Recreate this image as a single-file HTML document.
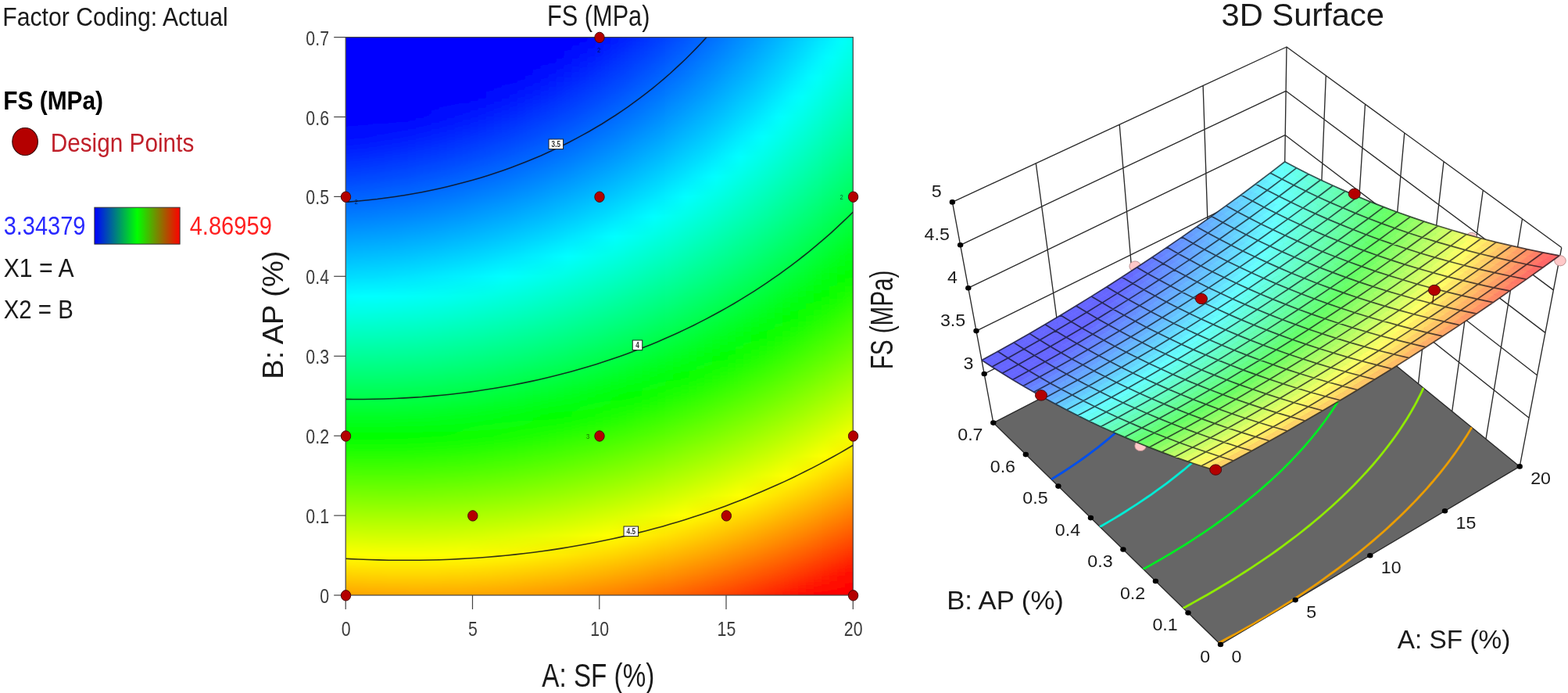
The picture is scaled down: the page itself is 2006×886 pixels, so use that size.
<!DOCTYPE html>
<html><head><meta charset="utf-8"><title>FS (MPa) contour and 3D surface</title>
<style>html,body{margin:0;padding:0;background:#fff;overflow:hidden}svg{display:block}</style></head>
<body>
<svg width="2006" height="886" viewBox="0 0 2006 886">
<defs>
<linearGradient id="lg" x1="0" x2="1" y1="0" y2="0"><stop offset="0" stop-color="#0000ff"/><stop offset="0.5" stop-color="#00ff00"/><stop offset="1" stop-color="#ff0000"/></linearGradient>
<clipPath id="cp"><rect x="442.2" y="47.6" width="649.0999999999999" height="713.4"/></clipPath>
<filter id="hb" x="-5%" y="-5%" width="110%" height="110%"><feGaussianBlur stdDeviation="4 0"/></filter>
<linearGradient id="s0" x1="0" x2="0" y1="0" y2="1"><stop offset="0.0000" stop-color="#0000ff"/><stop offset="0.0357" stop-color="#0000ff"/><stop offset="0.0714" stop-color="#0000ff"/><stop offset="0.1071" stop-color="#0000ff"/><stop offset="0.1429" stop-color="#0000ff"/><stop offset="0.1786" stop-color="#000cff"/><stop offset="0.2143" stop-color="#0027ff"/><stop offset="0.2500" stop-color="#0043ff"/><stop offset="0.2857" stop-color="#005fff"/><stop offset="0.3214" stop-color="#007dff"/><stop offset="0.3571" stop-color="#009cff"/><stop offset="0.3929" stop-color="#00bbff"/><stop offset="0.4286" stop-color="#00dcff"/><stop offset="0.4643" stop-color="#00fdff"/><stop offset="0.5000" stop-color="#00ffdf"/><stop offset="0.5357" stop-color="#00ffbc"/><stop offset="0.5714" stop-color="#00ff98"/><stop offset="0.6071" stop-color="#00ff73"/><stop offset="0.6429" stop-color="#00ff4d"/><stop offset="0.6786" stop-color="#00ff27"/><stop offset="0.7143" stop-color="#01ff00"/><stop offset="0.7500" stop-color="#29ff00"/><stop offset="0.7857" stop-color="#53ff00"/><stop offset="0.8214" stop-color="#7dff00"/><stop offset="0.8571" stop-color="#a8ff00"/><stop offset="0.8929" stop-color="#d4ff00"/><stop offset="0.9286" stop-color="#fffd00"/><stop offset="0.9643" stop-color="#ffcf00"/><stop offset="1.0000" stop-color="#ffa000"/></linearGradient>
<linearGradient id="s1" x1="0" x2="0" y1="0" y2="1"><stop offset="0.0000" stop-color="#0000ff"/><stop offset="0.0357" stop-color="#0000ff"/><stop offset="0.0714" stop-color="#0000ff"/><stop offset="0.1071" stop-color="#0000ff"/><stop offset="0.1429" stop-color="#0000ff"/><stop offset="0.1786" stop-color="#000dff"/><stop offset="0.2143" stop-color="#0028ff"/><stop offset="0.2500" stop-color="#0043ff"/><stop offset="0.2857" stop-color="#0060ff"/><stop offset="0.3214" stop-color="#007eff"/><stop offset="0.3571" stop-color="#009cff"/><stop offset="0.3929" stop-color="#00bcff"/><stop offset="0.4286" stop-color="#00dcff"/><stop offset="0.4643" stop-color="#00fdff"/><stop offset="0.5000" stop-color="#00ffdf"/><stop offset="0.5357" stop-color="#00ffbc"/><stop offset="0.5714" stop-color="#00ff98"/><stop offset="0.6071" stop-color="#00ff73"/><stop offset="0.6429" stop-color="#00ff4e"/><stop offset="0.6786" stop-color="#00ff27"/><stop offset="0.7143" stop-color="#00ff00"/><stop offset="0.7500" stop-color="#29ff00"/><stop offset="0.7857" stop-color="#52ff00"/><stop offset="0.8214" stop-color="#7cff00"/><stop offset="0.8571" stop-color="#a7ff00"/><stop offset="0.8929" stop-color="#d3ff00"/><stop offset="0.9286" stop-color="#fffe00"/><stop offset="0.9643" stop-color="#ffd000"/><stop offset="1.0000" stop-color="#ffa200"/></linearGradient>
<linearGradient id="s2" x1="0" x2="0" y1="0" y2="1"><stop offset="0.0000" stop-color="#0000ff"/><stop offset="0.0357" stop-color="#0000ff"/><stop offset="0.0714" stop-color="#0000ff"/><stop offset="0.1071" stop-color="#0000ff"/><stop offset="0.1429" stop-color="#0000ff"/><stop offset="0.1786" stop-color="#000eff"/><stop offset="0.2143" stop-color="#0029ff"/><stop offset="0.2500" stop-color="#0044ff"/><stop offset="0.2857" stop-color="#0061ff"/><stop offset="0.3214" stop-color="#007eff"/><stop offset="0.3571" stop-color="#009dff"/><stop offset="0.3929" stop-color="#00bcff"/><stop offset="0.4286" stop-color="#00dcff"/><stop offset="0.4643" stop-color="#00fdff"/><stop offset="0.5000" stop-color="#00ffdf"/><stop offset="0.5357" stop-color="#00ffbc"/><stop offset="0.5714" stop-color="#00ff98"/><stop offset="0.6071" stop-color="#00ff73"/><stop offset="0.6429" stop-color="#00ff4e"/><stop offset="0.6786" stop-color="#00ff27"/><stop offset="0.7143" stop-color="#00ff00"/><stop offset="0.7500" stop-color="#28ff00"/><stop offset="0.7857" stop-color="#52ff00"/><stop offset="0.8214" stop-color="#7cff00"/><stop offset="0.8571" stop-color="#a6ff00"/><stop offset="0.8929" stop-color="#d2ff00"/><stop offset="0.9286" stop-color="#ffff00"/><stop offset="0.9643" stop-color="#ffd100"/><stop offset="1.0000" stop-color="#ffa300"/></linearGradient>
<linearGradient id="s3" x1="0" x2="0" y1="0" y2="1"><stop offset="0.0000" stop-color="#0000ff"/><stop offset="0.0357" stop-color="#0000ff"/><stop offset="0.0714" stop-color="#0000ff"/><stop offset="0.1071" stop-color="#0000ff"/><stop offset="0.1429" stop-color="#0000ff"/><stop offset="0.1786" stop-color="#000fff"/><stop offset="0.2143" stop-color="#002aff"/><stop offset="0.2500" stop-color="#0045ff"/><stop offset="0.2857" stop-color="#0062ff"/><stop offset="0.3214" stop-color="#007fff"/><stop offset="0.3571" stop-color="#009eff"/><stop offset="0.3929" stop-color="#00bdff"/><stop offset="0.4286" stop-color="#00ddff"/><stop offset="0.4643" stop-color="#00feff"/><stop offset="0.5000" stop-color="#00ffde"/><stop offset="0.5357" stop-color="#00ffbb"/><stop offset="0.5714" stop-color="#00ff98"/><stop offset="0.6071" stop-color="#00ff73"/><stop offset="0.6429" stop-color="#00ff4e"/><stop offset="0.6786" stop-color="#00ff27"/><stop offset="0.7143" stop-color="#00ff00"/><stop offset="0.7500" stop-color="#28ff00"/><stop offset="0.7857" stop-color="#51ff00"/><stop offset="0.8214" stop-color="#7bff00"/><stop offset="0.8571" stop-color="#a6ff00"/><stop offset="0.8929" stop-color="#d2ff00"/><stop offset="0.9286" stop-color="#feff00"/><stop offset="0.9643" stop-color="#ffd200"/><stop offset="1.0000" stop-color="#ffa400"/></linearGradient>
<linearGradient id="s4" x1="0" x2="0" y1="0" y2="1"><stop offset="0.0000" stop-color="#0000ff"/><stop offset="0.0357" stop-color="#0000ff"/><stop offset="0.0714" stop-color="#0000ff"/><stop offset="0.1071" stop-color="#0000ff"/><stop offset="0.1429" stop-color="#0000ff"/><stop offset="0.1786" stop-color="#0010ff"/><stop offset="0.2143" stop-color="#002bff"/><stop offset="0.2500" stop-color="#0047ff"/><stop offset="0.2857" stop-color="#0063ff"/><stop offset="0.3214" stop-color="#0080ff"/><stop offset="0.3571" stop-color="#009fff"/><stop offset="0.3929" stop-color="#00beff"/><stop offset="0.4286" stop-color="#00deff"/><stop offset="0.4643" stop-color="#00ffff"/><stop offset="0.5000" stop-color="#00ffde"/><stop offset="0.5357" stop-color="#00ffbb"/><stop offset="0.5714" stop-color="#00ff97"/><stop offset="0.6071" stop-color="#00ff73"/><stop offset="0.6429" stop-color="#00ff4e"/><stop offset="0.6786" stop-color="#00ff27"/><stop offset="0.7143" stop-color="#00ff00"/><stop offset="0.7500" stop-color="#28ff00"/><stop offset="0.7857" stop-color="#51ff00"/><stop offset="0.8214" stop-color="#7bff00"/><stop offset="0.8571" stop-color="#a5ff00"/><stop offset="0.8929" stop-color="#d1ff00"/><stop offset="0.9286" stop-color="#feff00"/><stop offset="0.9643" stop-color="#ffd300"/><stop offset="1.0000" stop-color="#ffa500"/></linearGradient>
<linearGradient id="s5" x1="0" x2="0" y1="0" y2="1"><stop offset="0.0000" stop-color="#0000ff"/><stop offset="0.0357" stop-color="#0000ff"/><stop offset="0.0714" stop-color="#0000ff"/><stop offset="0.1071" stop-color="#0000ff"/><stop offset="0.1429" stop-color="#0000ff"/><stop offset="0.1786" stop-color="#0012ff"/><stop offset="0.2143" stop-color="#002dff"/><stop offset="0.2500" stop-color="#0048ff"/><stop offset="0.2857" stop-color="#0064ff"/><stop offset="0.3214" stop-color="#0081ff"/><stop offset="0.3571" stop-color="#00a0ff"/><stop offset="0.3929" stop-color="#00bfff"/><stop offset="0.4286" stop-color="#00deff"/><stop offset="0.4643" stop-color="#00ffff"/><stop offset="0.5000" stop-color="#00ffdd"/><stop offset="0.5357" stop-color="#00ffbb"/><stop offset="0.5714" stop-color="#00ff97"/><stop offset="0.6071" stop-color="#00ff73"/><stop offset="0.6429" stop-color="#00ff4d"/><stop offset="0.6786" stop-color="#00ff27"/><stop offset="0.7143" stop-color="#00ff00"/><stop offset="0.7500" stop-color="#28ff00"/><stop offset="0.7857" stop-color="#51ff00"/><stop offset="0.8214" stop-color="#7aff00"/><stop offset="0.8571" stop-color="#a5ff00"/><stop offset="0.8929" stop-color="#d0ff00"/><stop offset="0.9286" stop-color="#fdff00"/><stop offset="0.9643" stop-color="#ffd400"/><stop offset="1.0000" stop-color="#ffa600"/></linearGradient>
<linearGradient id="s6" x1="0" x2="0" y1="0" y2="1"><stop offset="0.0000" stop-color="#0000ff"/><stop offset="0.0357" stop-color="#0000ff"/><stop offset="0.0714" stop-color="#0000ff"/><stop offset="0.1071" stop-color="#0000ff"/><stop offset="0.1429" stop-color="#0000ff"/><stop offset="0.1786" stop-color="#0014ff"/><stop offset="0.2143" stop-color="#002eff"/><stop offset="0.2500" stop-color="#0049ff"/><stop offset="0.2857" stop-color="#0066ff"/><stop offset="0.3214" stop-color="#0083ff"/><stop offset="0.3571" stop-color="#00a1ff"/><stop offset="0.3929" stop-color="#00c0ff"/><stop offset="0.4286" stop-color="#00dfff"/><stop offset="0.4643" stop-color="#00fffe"/><stop offset="0.5000" stop-color="#00ffdc"/><stop offset="0.5357" stop-color="#00ffba"/><stop offset="0.5714" stop-color="#00ff96"/><stop offset="0.6071" stop-color="#00ff72"/><stop offset="0.6429" stop-color="#00ff4d"/><stop offset="0.6786" stop-color="#00ff27"/><stop offset="0.7143" stop-color="#00ff00"/><stop offset="0.7500" stop-color="#28ff00"/><stop offset="0.7857" stop-color="#51ff00"/><stop offset="0.8214" stop-color="#7aff00"/><stop offset="0.8571" stop-color="#a5ff00"/><stop offset="0.8929" stop-color="#d0ff00"/><stop offset="0.9286" stop-color="#fcff00"/><stop offset="0.9643" stop-color="#ffd400"/><stop offset="1.0000" stop-color="#ffa600"/></linearGradient>
<linearGradient id="s7" x1="0" x2="0" y1="0" y2="1"><stop offset="0.0000" stop-color="#0000ff"/><stop offset="0.0357" stop-color="#0000ff"/><stop offset="0.0714" stop-color="#0000ff"/><stop offset="0.1071" stop-color="#0000ff"/><stop offset="0.1429" stop-color="#0000ff"/><stop offset="0.1786" stop-color="#0015ff"/><stop offset="0.2143" stop-color="#0030ff"/><stop offset="0.2500" stop-color="#004bff"/><stop offset="0.2857" stop-color="#0067ff"/><stop offset="0.3214" stop-color="#0084ff"/><stop offset="0.3571" stop-color="#00a2ff"/><stop offset="0.3929" stop-color="#00c1ff"/><stop offset="0.4286" stop-color="#00e0ff"/><stop offset="0.4643" stop-color="#00fffd"/><stop offset="0.5000" stop-color="#00ffdb"/><stop offset="0.5357" stop-color="#00ffb9"/><stop offset="0.5714" stop-color="#00ff96"/><stop offset="0.6071" stop-color="#00ff72"/><stop offset="0.6429" stop-color="#00ff4d"/><stop offset="0.6786" stop-color="#00ff27"/><stop offset="0.7143" stop-color="#00ff00"/><stop offset="0.7500" stop-color="#28ff00"/><stop offset="0.7857" stop-color="#51ff00"/><stop offset="0.8214" stop-color="#7aff00"/><stop offset="0.8571" stop-color="#a5ff00"/><stop offset="0.8929" stop-color="#d0ff00"/><stop offset="0.9286" stop-color="#fcff00"/><stop offset="0.9643" stop-color="#ffd500"/><stop offset="1.0000" stop-color="#ffa700"/></linearGradient>
<linearGradient id="s8" x1="0" x2="0" y1="0" y2="1"><stop offset="0.0000" stop-color="#0000ff"/><stop offset="0.0357" stop-color="#0000ff"/><stop offset="0.0714" stop-color="#0000ff"/><stop offset="0.1071" stop-color="#0000ff"/><stop offset="0.1429" stop-color="#0000ff"/><stop offset="0.1786" stop-color="#0017ff"/><stop offset="0.2143" stop-color="#0032ff"/><stop offset="0.2500" stop-color="#004dff"/><stop offset="0.2857" stop-color="#0069ff"/><stop offset="0.3214" stop-color="#0086ff"/><stop offset="0.3571" stop-color="#00a3ff"/><stop offset="0.3929" stop-color="#00c2ff"/><stop offset="0.4286" stop-color="#00e2ff"/><stop offset="0.4643" stop-color="#00fffc"/><stop offset="0.5000" stop-color="#00ffda"/><stop offset="0.5357" stop-color="#00ffb8"/><stop offset="0.5714" stop-color="#00ff95"/><stop offset="0.6071" stop-color="#00ff71"/><stop offset="0.6429" stop-color="#00ff4c"/><stop offset="0.6786" stop-color="#00ff26"/><stop offset="0.7143" stop-color="#01ff00"/><stop offset="0.7500" stop-color="#28ff00"/><stop offset="0.7857" stop-color="#51ff00"/><stop offset="0.8214" stop-color="#7aff00"/><stop offset="0.8571" stop-color="#a5ff00"/><stop offset="0.8929" stop-color="#d0ff00"/><stop offset="0.9286" stop-color="#fcff00"/><stop offset="0.9643" stop-color="#ffd500"/><stop offset="1.0000" stop-color="#ffa700"/></linearGradient>
<linearGradient id="s9" x1="0" x2="0" y1="0" y2="1"><stop offset="0.0000" stop-color="#0000ff"/><stop offset="0.0357" stop-color="#0000ff"/><stop offset="0.0714" stop-color="#0000ff"/><stop offset="0.1071" stop-color="#0000ff"/><stop offset="0.1429" stop-color="#0000ff"/><stop offset="0.1786" stop-color="#0019ff"/><stop offset="0.2143" stop-color="#0033ff"/><stop offset="0.2500" stop-color="#004eff"/><stop offset="0.2857" stop-color="#006aff"/><stop offset="0.3214" stop-color="#0087ff"/><stop offset="0.3571" stop-color="#00a5ff"/><stop offset="0.3929" stop-color="#00c3ff"/><stop offset="0.4286" stop-color="#00e3ff"/><stop offset="0.4643" stop-color="#00fffb"/><stop offset="0.5000" stop-color="#00ffd9"/><stop offset="0.5357" stop-color="#00ffb7"/><stop offset="0.5714" stop-color="#00ff94"/><stop offset="0.6071" stop-color="#00ff70"/><stop offset="0.6429" stop-color="#00ff4b"/><stop offset="0.6786" stop-color="#00ff25"/><stop offset="0.7143" stop-color="#01ff00"/><stop offset="0.7500" stop-color="#29ff00"/><stop offset="0.7857" stop-color="#51ff00"/><stop offset="0.8214" stop-color="#7aff00"/><stop offset="0.8571" stop-color="#a5ff00"/><stop offset="0.8929" stop-color="#d0ff00"/><stop offset="0.9286" stop-color="#fcff00"/><stop offset="0.9643" stop-color="#ffd500"/><stop offset="1.0000" stop-color="#ffa700"/></linearGradient>
<linearGradient id="s10" x1="0" x2="0" y1="0" y2="1"><stop offset="0.0000" stop-color="#0000ff"/><stop offset="0.0357" stop-color="#0000ff"/><stop offset="0.0714" stop-color="#0000ff"/><stop offset="0.1071" stop-color="#0000ff"/><stop offset="0.1429" stop-color="#0002ff"/><stop offset="0.1786" stop-color="#001bff"/><stop offset="0.2143" stop-color="#0036ff"/><stop offset="0.2500" stop-color="#0050ff"/><stop offset="0.2857" stop-color="#006cff"/><stop offset="0.3214" stop-color="#0089ff"/><stop offset="0.3571" stop-color="#00a7ff"/><stop offset="0.3929" stop-color="#00c5ff"/><stop offset="0.4286" stop-color="#00e4ff"/><stop offset="0.4643" stop-color="#00fff9"/><stop offset="0.5000" stop-color="#00ffd8"/><stop offset="0.5357" stop-color="#00ffb6"/><stop offset="0.5714" stop-color="#00ff93"/><stop offset="0.6071" stop-color="#00ff6f"/><stop offset="0.6429" stop-color="#00ff4a"/><stop offset="0.6786" stop-color="#00ff25"/><stop offset="0.7143" stop-color="#02ff00"/><stop offset="0.7500" stop-color="#29ff00"/><stop offset="0.7857" stop-color="#52ff00"/><stop offset="0.8214" stop-color="#7bff00"/><stop offset="0.8571" stop-color="#a5ff00"/><stop offset="0.8929" stop-color="#d0ff00"/><stop offset="0.9286" stop-color="#fcff00"/><stop offset="0.9643" stop-color="#ffd500"/><stop offset="1.0000" stop-color="#ffa800"/></linearGradient>
<linearGradient id="s11" x1="0" x2="0" y1="0" y2="1"><stop offset="0.0000" stop-color="#0000ff"/><stop offset="0.0357" stop-color="#0000ff"/><stop offset="0.0714" stop-color="#0000ff"/><stop offset="0.1071" stop-color="#0000ff"/><stop offset="0.1429" stop-color="#0005ff"/><stop offset="0.1786" stop-color="#001eff"/><stop offset="0.2143" stop-color="#0038ff"/><stop offset="0.2500" stop-color="#0053ff"/><stop offset="0.2857" stop-color="#006eff"/><stop offset="0.3214" stop-color="#008bff"/><stop offset="0.3571" stop-color="#00a8ff"/><stop offset="0.3929" stop-color="#00c7ff"/><stop offset="0.4286" stop-color="#00e6ff"/><stop offset="0.4643" stop-color="#00fff8"/><stop offset="0.5000" stop-color="#00ffd7"/><stop offset="0.5357" stop-color="#00ffb5"/><stop offset="0.5714" stop-color="#00ff92"/><stop offset="0.6071" stop-color="#00ff6e"/><stop offset="0.6429" stop-color="#00ff49"/><stop offset="0.6786" stop-color="#00ff24"/><stop offset="0.7143" stop-color="#03ff00"/><stop offset="0.7500" stop-color="#2aff00"/><stop offset="0.7857" stop-color="#52ff00"/><stop offset="0.8214" stop-color="#7bff00"/><stop offset="0.8571" stop-color="#a5ff00"/><stop offset="0.8929" stop-color="#d0ff00"/><stop offset="0.9286" stop-color="#fcff00"/><stop offset="0.9643" stop-color="#ffd500"/><stop offset="1.0000" stop-color="#ffa800"/></linearGradient>
<linearGradient id="s12" x1="0" x2="0" y1="0" y2="1"><stop offset="0.0000" stop-color="#0000ff"/><stop offset="0.0357" stop-color="#0000ff"/><stop offset="0.0714" stop-color="#0000ff"/><stop offset="0.1071" stop-color="#0000ff"/><stop offset="0.1429" stop-color="#0007ff"/><stop offset="0.1786" stop-color="#0020ff"/><stop offset="0.2143" stop-color="#003aff"/><stop offset="0.2500" stop-color="#0055ff"/><stop offset="0.2857" stop-color="#0070ff"/><stop offset="0.3214" stop-color="#008dff"/><stop offset="0.3571" stop-color="#00aaff"/><stop offset="0.3929" stop-color="#00c9ff"/><stop offset="0.4286" stop-color="#00e8ff"/><stop offset="0.4643" stop-color="#00fff6"/><stop offset="0.5000" stop-color="#00ffd5"/><stop offset="0.5357" stop-color="#00ffb3"/><stop offset="0.5714" stop-color="#00ff91"/><stop offset="0.6071" stop-color="#00ff6d"/><stop offset="0.6429" stop-color="#00ff48"/><stop offset="0.6786" stop-color="#00ff23"/><stop offset="0.7143" stop-color="#04ff00"/><stop offset="0.7500" stop-color="#2bff00"/><stop offset="0.7857" stop-color="#53ff00"/><stop offset="0.8214" stop-color="#7cff00"/><stop offset="0.8571" stop-color="#a6ff00"/><stop offset="0.8929" stop-color="#d1ff00"/><stop offset="0.9286" stop-color="#fcff00"/><stop offset="0.9643" stop-color="#ffd500"/><stop offset="1.0000" stop-color="#ffa700"/></linearGradient>
<linearGradient id="s13" x1="0" x2="0" y1="0" y2="1"><stop offset="0.0000" stop-color="#0000ff"/><stop offset="0.0357" stop-color="#0000ff"/><stop offset="0.0714" stop-color="#0000ff"/><stop offset="0.1071" stop-color="#0000ff"/><stop offset="0.1429" stop-color="#000aff"/><stop offset="0.1786" stop-color="#0023ff"/><stop offset="0.2143" stop-color="#003cff"/><stop offset="0.2500" stop-color="#0057ff"/><stop offset="0.2857" stop-color="#0073ff"/><stop offset="0.3214" stop-color="#008fff"/><stop offset="0.3571" stop-color="#00acff"/><stop offset="0.3929" stop-color="#00caff"/><stop offset="0.4286" stop-color="#00eaff"/><stop offset="0.4643" stop-color="#00fff4"/><stop offset="0.5000" stop-color="#00ffd4"/><stop offset="0.5357" stop-color="#00ffb2"/><stop offset="0.5714" stop-color="#00ff8f"/><stop offset="0.6071" stop-color="#00ff6c"/><stop offset="0.6429" stop-color="#00ff47"/><stop offset="0.6786" stop-color="#00ff22"/><stop offset="0.7143" stop-color="#05ff00"/><stop offset="0.7500" stop-color="#2cff00"/><stop offset="0.7857" stop-color="#54ff00"/><stop offset="0.8214" stop-color="#7dff00"/><stop offset="0.8571" stop-color="#a7ff00"/><stop offset="0.8929" stop-color="#d1ff00"/><stop offset="0.9286" stop-color="#fdff00"/><stop offset="0.9643" stop-color="#ffd500"/><stop offset="1.0000" stop-color="#ffa700"/></linearGradient>
<linearGradient id="s14" x1="0" x2="0" y1="0" y2="1"><stop offset="0.0000" stop-color="#0000ff"/><stop offset="0.0357" stop-color="#0000ff"/><stop offset="0.0714" stop-color="#0000ff"/><stop offset="0.1071" stop-color="#0000ff"/><stop offset="0.1429" stop-color="#000dff"/><stop offset="0.1786" stop-color="#0025ff"/><stop offset="0.2143" stop-color="#003fff"/><stop offset="0.2500" stop-color="#005aff"/><stop offset="0.2857" stop-color="#0075ff"/><stop offset="0.3214" stop-color="#0091ff"/><stop offset="0.3571" stop-color="#00aeff"/><stop offset="0.3929" stop-color="#00cdff"/><stop offset="0.4286" stop-color="#00ecff"/><stop offset="0.4643" stop-color="#00fff3"/><stop offset="0.5000" stop-color="#00ffd2"/><stop offset="0.5357" stop-color="#00ffb0"/><stop offset="0.5714" stop-color="#00ff8e"/><stop offset="0.6071" stop-color="#00ff6a"/><stop offset="0.6429" stop-color="#00ff46"/><stop offset="0.6786" stop-color="#00ff20"/><stop offset="0.7143" stop-color="#06ff00"/><stop offset="0.7500" stop-color="#2dff00"/><stop offset="0.7857" stop-color="#55ff00"/><stop offset="0.8214" stop-color="#7eff00"/><stop offset="0.8571" stop-color="#a7ff00"/><stop offset="0.8929" stop-color="#d2ff00"/><stop offset="0.9286" stop-color="#fdff00"/><stop offset="0.9643" stop-color="#ffd400"/><stop offset="1.0000" stop-color="#ffa700"/></linearGradient>
<linearGradient id="s15" x1="0" x2="0" y1="0" y2="1"><stop offset="0.0000" stop-color="#0000ff"/><stop offset="0.0357" stop-color="#0000ff"/><stop offset="0.0714" stop-color="#0000ff"/><stop offset="0.1071" stop-color="#0000ff"/><stop offset="0.1429" stop-color="#0010ff"/><stop offset="0.1786" stop-color="#0028ff"/><stop offset="0.2143" stop-color="#0042ff"/><stop offset="0.2500" stop-color="#005cff"/><stop offset="0.2857" stop-color="#0077ff"/><stop offset="0.3214" stop-color="#0094ff"/><stop offset="0.3571" stop-color="#00b1ff"/><stop offset="0.3929" stop-color="#00cfff"/><stop offset="0.4286" stop-color="#00eeff"/><stop offset="0.4643" stop-color="#00fff1"/><stop offset="0.5000" stop-color="#00ffd0"/><stop offset="0.5357" stop-color="#00ffae"/><stop offset="0.5714" stop-color="#00ff8c"/><stop offset="0.6071" stop-color="#00ff68"/><stop offset="0.6429" stop-color="#00ff44"/><stop offset="0.6786" stop-color="#00ff1f"/><stop offset="0.7143" stop-color="#07ff00"/><stop offset="0.7500" stop-color="#2eff00"/><stop offset="0.7857" stop-color="#56ff00"/><stop offset="0.8214" stop-color="#7fff00"/><stop offset="0.8571" stop-color="#a8ff00"/><stop offset="0.8929" stop-color="#d3ff00"/><stop offset="0.9286" stop-color="#feff00"/><stop offset="0.9643" stop-color="#ffd300"/><stop offset="1.0000" stop-color="#ffa600"/></linearGradient>
<linearGradient id="s16" x1="0" x2="0" y1="0" y2="1"><stop offset="0.0000" stop-color="#0000ff"/><stop offset="0.0357" stop-color="#0000ff"/><stop offset="0.0714" stop-color="#0000ff"/><stop offset="0.1071" stop-color="#0000ff"/><stop offset="0.1429" stop-color="#0013ff"/><stop offset="0.1786" stop-color="#002bff"/><stop offset="0.2143" stop-color="#0045ff"/><stop offset="0.2500" stop-color="#005fff"/><stop offset="0.2857" stop-color="#007aff"/><stop offset="0.3214" stop-color="#0096ff"/><stop offset="0.3571" stop-color="#00b3ff"/><stop offset="0.3929" stop-color="#00d1ff"/><stop offset="0.4286" stop-color="#00f0ff"/><stop offset="0.4643" stop-color="#00ffee"/><stop offset="0.5000" stop-color="#00ffce"/><stop offset="0.5357" stop-color="#00ffac"/><stop offset="0.5714" stop-color="#00ff8a"/><stop offset="0.6071" stop-color="#00ff67"/><stop offset="0.6429" stop-color="#00ff43"/><stop offset="0.6786" stop-color="#00ff1d"/><stop offset="0.7143" stop-color="#08ff00"/><stop offset="0.7500" stop-color="#2fff00"/><stop offset="0.7857" stop-color="#57ff00"/><stop offset="0.8214" stop-color="#80ff00"/><stop offset="0.8571" stop-color="#a9ff00"/><stop offset="0.8929" stop-color="#d4ff00"/><stop offset="0.9286" stop-color="#ffff00"/><stop offset="0.9643" stop-color="#ffd300"/><stop offset="1.0000" stop-color="#ffa600"/></linearGradient>
<linearGradient id="s17" x1="0" x2="0" y1="0" y2="1"><stop offset="0.0000" stop-color="#0000ff"/><stop offset="0.0357" stop-color="#0000ff"/><stop offset="0.0714" stop-color="#0000ff"/><stop offset="0.1071" stop-color="#0000ff"/><stop offset="0.1429" stop-color="#0016ff"/><stop offset="0.1786" stop-color="#002eff"/><stop offset="0.2143" stop-color="#0047ff"/><stop offset="0.2500" stop-color="#0062ff"/><stop offset="0.2857" stop-color="#007dff"/><stop offset="0.3214" stop-color="#0099ff"/><stop offset="0.3571" stop-color="#00b6ff"/><stop offset="0.3929" stop-color="#00d4ff"/><stop offset="0.4286" stop-color="#00f2ff"/><stop offset="0.4643" stop-color="#00ffec"/><stop offset="0.5000" stop-color="#00ffcc"/><stop offset="0.5357" stop-color="#00ffaa"/><stop offset="0.5714" stop-color="#00ff88"/><stop offset="0.6071" stop-color="#00ff65"/><stop offset="0.6429" stop-color="#00ff41"/><stop offset="0.6786" stop-color="#00ff1c"/><stop offset="0.7143" stop-color="#0aff00"/><stop offset="0.7500" stop-color="#31ff00"/><stop offset="0.7857" stop-color="#58ff00"/><stop offset="0.8214" stop-color="#81ff00"/><stop offset="0.8571" stop-color="#aaff00"/><stop offset="0.8929" stop-color="#d5ff00"/><stop offset="0.9286" stop-color="#fffe00"/><stop offset="0.9643" stop-color="#ffd200"/><stop offset="1.0000" stop-color="#ffa500"/></linearGradient>
<linearGradient id="s18" x1="0" x2="0" y1="0" y2="1"><stop offset="0.0000" stop-color="#0000ff"/><stop offset="0.0357" stop-color="#0000ff"/><stop offset="0.0714" stop-color="#0000ff"/><stop offset="0.1071" stop-color="#0002ff"/><stop offset="0.1429" stop-color="#0019ff"/><stop offset="0.1786" stop-color="#0031ff"/><stop offset="0.2143" stop-color="#004bff"/><stop offset="0.2500" stop-color="#0065ff"/><stop offset="0.2857" stop-color="#0080ff"/><stop offset="0.3214" stop-color="#009cff"/><stop offset="0.3571" stop-color="#00b8ff"/><stop offset="0.3929" stop-color="#00d6ff"/><stop offset="0.4286" stop-color="#00f5ff"/><stop offset="0.4643" stop-color="#00ffea"/><stop offset="0.5000" stop-color="#00ffc9"/><stop offset="0.5357" stop-color="#00ffa8"/><stop offset="0.5714" stop-color="#00ff86"/><stop offset="0.6071" stop-color="#00ff63"/><stop offset="0.6429" stop-color="#00ff3f"/><stop offset="0.6786" stop-color="#00ff1a"/><stop offset="0.7143" stop-color="#0cff00"/><stop offset="0.7500" stop-color="#32ff00"/><stop offset="0.7857" stop-color="#5aff00"/><stop offset="0.8214" stop-color="#82ff00"/><stop offset="0.8571" stop-color="#acff00"/><stop offset="0.8929" stop-color="#d6ff00"/><stop offset="0.9286" stop-color="#fffd00"/><stop offset="0.9643" stop-color="#ffd100"/><stop offset="1.0000" stop-color="#ffa400"/></linearGradient>
<linearGradient id="s19" x1="0" x2="0" y1="0" y2="1"><stop offset="0.0000" stop-color="#0000ff"/><stop offset="0.0357" stop-color="#0000ff"/><stop offset="0.0714" stop-color="#0000ff"/><stop offset="0.1071" stop-color="#0005ff"/><stop offset="0.1429" stop-color="#001cff"/><stop offset="0.1786" stop-color="#0035ff"/><stop offset="0.2143" stop-color="#004eff"/><stop offset="0.2500" stop-color="#0068ff"/><stop offset="0.2857" stop-color="#0083ff"/><stop offset="0.3214" stop-color="#009fff"/><stop offset="0.3571" stop-color="#00bbff"/><stop offset="0.3929" stop-color="#00d9ff"/><stop offset="0.4286" stop-color="#00f7ff"/><stop offset="0.4643" stop-color="#00ffe7"/><stop offset="0.5000" stop-color="#00ffc7"/><stop offset="0.5357" stop-color="#00ffa6"/><stop offset="0.5714" stop-color="#00ff84"/><stop offset="0.6071" stop-color="#00ff61"/><stop offset="0.6429" stop-color="#00ff3d"/><stop offset="0.6786" stop-color="#00ff18"/><stop offset="0.7143" stop-color="#0eff00"/><stop offset="0.7500" stop-color="#34ff00"/><stop offset="0.7857" stop-color="#5cff00"/><stop offset="0.8214" stop-color="#84ff00"/><stop offset="0.8571" stop-color="#adff00"/><stop offset="0.8929" stop-color="#d7ff00"/><stop offset="0.9286" stop-color="#fffc00"/><stop offset="0.9643" stop-color="#ffd000"/><stop offset="1.0000" stop-color="#ffa300"/></linearGradient>
<linearGradient id="s20" x1="0" x2="0" y1="0" y2="1"><stop offset="0.0000" stop-color="#0000ff"/><stop offset="0.0357" stop-color="#0000ff"/><stop offset="0.0714" stop-color="#0000ff"/><stop offset="0.1071" stop-color="#0009ff"/><stop offset="0.1429" stop-color="#0020ff"/><stop offset="0.1786" stop-color="#0038ff"/><stop offset="0.2143" stop-color="#0051ff"/><stop offset="0.2500" stop-color="#006bff"/><stop offset="0.2857" stop-color="#0086ff"/><stop offset="0.3214" stop-color="#00a2ff"/><stop offset="0.3571" stop-color="#00beff"/><stop offset="0.3929" stop-color="#00dcff"/><stop offset="0.4286" stop-color="#00faff"/><stop offset="0.4643" stop-color="#00ffe5"/><stop offset="0.5000" stop-color="#00ffc4"/><stop offset="0.5357" stop-color="#00ffa3"/><stop offset="0.5714" stop-color="#00ff81"/><stop offset="0.6071" stop-color="#00ff5f"/><stop offset="0.6429" stop-color="#00ff3b"/><stop offset="0.6786" stop-color="#00ff16"/><stop offset="0.7143" stop-color="#0fff00"/><stop offset="0.7500" stop-color="#36ff00"/><stop offset="0.7857" stop-color="#5dff00"/><stop offset="0.8214" stop-color="#86ff00"/><stop offset="0.8571" stop-color="#afff00"/><stop offset="0.8929" stop-color="#d9ff00"/><stop offset="0.9286" stop-color="#fffa00"/><stop offset="0.9643" stop-color="#ffcf00"/><stop offset="1.0000" stop-color="#ffa200"/></linearGradient>
<linearGradient id="s21" x1="0" x2="0" y1="0" y2="1"><stop offset="0.0000" stop-color="#0000ff"/><stop offset="0.0357" stop-color="#0000ff"/><stop offset="0.0714" stop-color="#0000ff"/><stop offset="0.1071" stop-color="#000cff"/><stop offset="0.1429" stop-color="#0024ff"/><stop offset="0.1786" stop-color="#003cff"/><stop offset="0.2143" stop-color="#0055ff"/><stop offset="0.2500" stop-color="#006eff"/><stop offset="0.2857" stop-color="#0089ff"/><stop offset="0.3214" stop-color="#00a5ff"/><stop offset="0.3571" stop-color="#00c1ff"/><stop offset="0.3929" stop-color="#00dfff"/><stop offset="0.4286" stop-color="#00fdff"/><stop offset="0.4643" stop-color="#00ffe2"/><stop offset="0.5000" stop-color="#00ffc2"/><stop offset="0.5357" stop-color="#00ffa1"/><stop offset="0.5714" stop-color="#00ff7f"/><stop offset="0.6071" stop-color="#00ff5c"/><stop offset="0.6429" stop-color="#00ff38"/><stop offset="0.6786" stop-color="#00ff14"/><stop offset="0.7143" stop-color="#12ff00"/><stop offset="0.7500" stop-color="#38ff00"/><stop offset="0.7857" stop-color="#5fff00"/><stop offset="0.8214" stop-color="#87ff00"/><stop offset="0.8571" stop-color="#b0ff00"/><stop offset="0.8929" stop-color="#daff00"/><stop offset="0.9286" stop-color="#fff900"/><stop offset="0.9643" stop-color="#ffcd00"/><stop offset="1.0000" stop-color="#ffa100"/></linearGradient>
<linearGradient id="s22" x1="0" x2="0" y1="0" y2="1"><stop offset="0.0000" stop-color="#0000ff"/><stop offset="0.0357" stop-color="#0000ff"/><stop offset="0.0714" stop-color="#0000ff"/><stop offset="0.1071" stop-color="#0010ff"/><stop offset="0.1429" stop-color="#0027ff"/><stop offset="0.1786" stop-color="#003fff"/><stop offset="0.2143" stop-color="#0058ff"/><stop offset="0.2500" stop-color="#0072ff"/><stop offset="0.2857" stop-color="#008cff"/><stop offset="0.3214" stop-color="#00a8ff"/><stop offset="0.3571" stop-color="#00c4ff"/><stop offset="0.3929" stop-color="#00e2ff"/><stop offset="0.4286" stop-color="#00fffe"/><stop offset="0.4643" stop-color="#00ffdf"/><stop offset="0.5000" stop-color="#00ffbf"/><stop offset="0.5357" stop-color="#00ff9e"/><stop offset="0.5714" stop-color="#00ff7c"/><stop offset="0.6071" stop-color="#00ff5a"/><stop offset="0.6429" stop-color="#00ff36"/><stop offset="0.6786" stop-color="#00ff12"/><stop offset="0.7143" stop-color="#14ff00"/><stop offset="0.7500" stop-color="#3aff00"/><stop offset="0.7857" stop-color="#61ff00"/><stop offset="0.8214" stop-color="#89ff00"/><stop offset="0.8571" stop-color="#b2ff00"/><stop offset="0.8929" stop-color="#dcff00"/><stop offset="0.9286" stop-color="#fff700"/><stop offset="0.9643" stop-color="#ffcc00"/><stop offset="1.0000" stop-color="#ff9f00"/></linearGradient>
<linearGradient id="s23" x1="0" x2="0" y1="0" y2="1"><stop offset="0.0000" stop-color="#0000ff"/><stop offset="0.0357" stop-color="#0000ff"/><stop offset="0.0714" stop-color="#0000ff"/><stop offset="0.1071" stop-color="#0014ff"/><stop offset="0.1429" stop-color="#002bff"/><stop offset="0.1786" stop-color="#0043ff"/><stop offset="0.2143" stop-color="#005cff"/><stop offset="0.2500" stop-color="#0075ff"/><stop offset="0.2857" stop-color="#0090ff"/><stop offset="0.3214" stop-color="#00abff"/><stop offset="0.3571" stop-color="#00c8ff"/><stop offset="0.3929" stop-color="#00e5ff"/><stop offset="0.4286" stop-color="#00fffb"/><stop offset="0.4643" stop-color="#00ffdc"/><stop offset="0.5000" stop-color="#00ffbc"/><stop offset="0.5357" stop-color="#00ff9b"/><stop offset="0.5714" stop-color="#00ff7a"/><stop offset="0.6071" stop-color="#00ff57"/><stop offset="0.6429" stop-color="#00ff34"/><stop offset="0.6786" stop-color="#00ff0f"/><stop offset="0.7143" stop-color="#16ff00"/><stop offset="0.7500" stop-color="#3cff00"/><stop offset="0.7857" stop-color="#63ff00"/><stop offset="0.8214" stop-color="#8bff00"/><stop offset="0.8571" stop-color="#b4ff00"/><stop offset="0.8929" stop-color="#deff00"/><stop offset="0.9286" stop-color="#fff600"/><stop offset="0.9643" stop-color="#ffca00"/><stop offset="1.0000" stop-color="#ff9e00"/></linearGradient>
<linearGradient id="s24" x1="0" x2="0" y1="0" y2="1"><stop offset="0.0000" stop-color="#0000ff"/><stop offset="0.0357" stop-color="#0000ff"/><stop offset="0.0714" stop-color="#0003ff"/><stop offset="0.1071" stop-color="#0019ff"/><stop offset="0.1429" stop-color="#002fff"/><stop offset="0.1786" stop-color="#0047ff"/><stop offset="0.2143" stop-color="#0060ff"/><stop offset="0.2500" stop-color="#0079ff"/><stop offset="0.2857" stop-color="#0094ff"/><stop offset="0.3214" stop-color="#00afff"/><stop offset="0.3571" stop-color="#00cbff"/><stop offset="0.3929" stop-color="#00e8ff"/><stop offset="0.4286" stop-color="#00fff8"/><stop offset="0.4643" stop-color="#00ffd9"/><stop offset="0.5000" stop-color="#00ffb9"/><stop offset="0.5357" stop-color="#00ff98"/><stop offset="0.5714" stop-color="#00ff77"/><stop offset="0.6071" stop-color="#00ff54"/><stop offset="0.6429" stop-color="#00ff31"/><stop offset="0.6786" stop-color="#00ff0d"/><stop offset="0.7143" stop-color="#19ff00"/><stop offset="0.7500" stop-color="#3fff00"/><stop offset="0.7857" stop-color="#66ff00"/><stop offset="0.8214" stop-color="#8dff00"/><stop offset="0.8571" stop-color="#b6ff00"/><stop offset="0.8929" stop-color="#e0ff00"/><stop offset="0.9286" stop-color="#fff400"/><stop offset="0.9643" stop-color="#ffc800"/><stop offset="1.0000" stop-color="#ff9c00"/></linearGradient>
<linearGradient id="s25" x1="0" x2="0" y1="0" y2="1"><stop offset="0.0000" stop-color="#0000ff"/><stop offset="0.0357" stop-color="#0000ff"/><stop offset="0.0714" stop-color="#0007ff"/><stop offset="0.1071" stop-color="#001dff"/><stop offset="0.1429" stop-color="#0034ff"/><stop offset="0.1786" stop-color="#004bff"/><stop offset="0.2143" stop-color="#0064ff"/><stop offset="0.2500" stop-color="#007dff"/><stop offset="0.2857" stop-color="#0097ff"/><stop offset="0.3214" stop-color="#00b3ff"/><stop offset="0.3571" stop-color="#00cfff"/><stop offset="0.3929" stop-color="#00ecff"/><stop offset="0.4286" stop-color="#00fff4"/><stop offset="0.4643" stop-color="#00ffd6"/><stop offset="0.5000" stop-color="#00ffb6"/><stop offset="0.5357" stop-color="#00ff95"/><stop offset="0.5714" stop-color="#00ff74"/><stop offset="0.6071" stop-color="#00ff51"/><stop offset="0.6429" stop-color="#00ff2e"/><stop offset="0.6786" stop-color="#00ff0a"/><stop offset="0.7143" stop-color="#1bff00"/><stop offset="0.7500" stop-color="#41ff00"/><stop offset="0.7857" stop-color="#68ff00"/><stop offset="0.8214" stop-color="#90ff00"/><stop offset="0.8571" stop-color="#b8ff00"/><stop offset="0.8929" stop-color="#e2ff00"/><stop offset="0.9286" stop-color="#fff200"/><stop offset="0.9643" stop-color="#ffc600"/><stop offset="1.0000" stop-color="#ff9a00"/></linearGradient>
<linearGradient id="s26" x1="0" x2="0" y1="0" y2="1"><stop offset="0.0000" stop-color="#0000ff"/><stop offset="0.0357" stop-color="#0000ff"/><stop offset="0.0714" stop-color="#000bff"/><stop offset="0.1071" stop-color="#0021ff"/><stop offset="0.1429" stop-color="#0038ff"/><stop offset="0.1786" stop-color="#004fff"/><stop offset="0.2143" stop-color="#0068ff"/><stop offset="0.2500" stop-color="#0081ff"/><stop offset="0.2857" stop-color="#009bff"/><stop offset="0.3214" stop-color="#00b6ff"/><stop offset="0.3571" stop-color="#00d2ff"/><stop offset="0.3929" stop-color="#00efff"/><stop offset="0.4286" stop-color="#00fff1"/><stop offset="0.4643" stop-color="#00ffd2"/><stop offset="0.5000" stop-color="#00ffb3"/><stop offset="0.5357" stop-color="#00ff92"/><stop offset="0.5714" stop-color="#00ff71"/><stop offset="0.6071" stop-color="#00ff4e"/><stop offset="0.6429" stop-color="#00ff2b"/><stop offset="0.6786" stop-color="#00ff07"/><stop offset="0.7143" stop-color="#1eff00"/><stop offset="0.7500" stop-color="#44ff00"/><stop offset="0.7857" stop-color="#6aff00"/><stop offset="0.8214" stop-color="#92ff00"/><stop offset="0.8571" stop-color="#bbff00"/><stop offset="0.8929" stop-color="#e4ff00"/><stop offset="0.9286" stop-color="#fff000"/><stop offset="0.9643" stop-color="#ffc400"/><stop offset="1.0000" stop-color="#ff9800"/></linearGradient>
<linearGradient id="s27" x1="0" x2="0" y1="0" y2="1"><stop offset="0.0000" stop-color="#0000ff"/><stop offset="0.0357" stop-color="#0000ff"/><stop offset="0.0714" stop-color="#0010ff"/><stop offset="0.1071" stop-color="#0026ff"/><stop offset="0.1429" stop-color="#003cff"/><stop offset="0.1786" stop-color="#0054ff"/><stop offset="0.2143" stop-color="#006cff"/><stop offset="0.2500" stop-color="#0085ff"/><stop offset="0.2857" stop-color="#009fff"/><stop offset="0.3214" stop-color="#00baff"/><stop offset="0.3571" stop-color="#00d6ff"/><stop offset="0.3929" stop-color="#00f3ff"/><stop offset="0.4286" stop-color="#00ffed"/><stop offset="0.4643" stop-color="#00ffcf"/><stop offset="0.5000" stop-color="#00ffaf"/><stop offset="0.5357" stop-color="#00ff8f"/><stop offset="0.5714" stop-color="#00ff6d"/><stop offset="0.6071" stop-color="#00ff4b"/><stop offset="0.6429" stop-color="#00ff28"/><stop offset="0.6786" stop-color="#00ff04"/><stop offset="0.7143" stop-color="#21ff00"/><stop offset="0.7500" stop-color="#46ff00"/><stop offset="0.7857" stop-color="#6dff00"/><stop offset="0.8214" stop-color="#95ff00"/><stop offset="0.8571" stop-color="#bdff00"/><stop offset="0.8929" stop-color="#e6ff00"/><stop offset="0.9286" stop-color="#ffed00"/><stop offset="0.9643" stop-color="#ffc200"/><stop offset="1.0000" stop-color="#ff9600"/></linearGradient>
<linearGradient id="s28" x1="0" x2="0" y1="0" y2="1"><stop offset="0.0000" stop-color="#0000ff"/><stop offset="0.0357" stop-color="#0000ff"/><stop offset="0.0714" stop-color="#0015ff"/><stop offset="0.1071" stop-color="#002aff"/><stop offset="0.1429" stop-color="#0041ff"/><stop offset="0.1786" stop-color="#0058ff"/><stop offset="0.2143" stop-color="#0070ff"/><stop offset="0.2500" stop-color="#008aff"/><stop offset="0.2857" stop-color="#00a4ff"/><stop offset="0.3214" stop-color="#00beff"/><stop offset="0.3571" stop-color="#00daff"/><stop offset="0.3929" stop-color="#00f7ff"/><stop offset="0.4286" stop-color="#00ffe9"/><stop offset="0.4643" stop-color="#00ffcb"/><stop offset="0.5000" stop-color="#00ffac"/><stop offset="0.5357" stop-color="#00ff8b"/><stop offset="0.5714" stop-color="#00ff6a"/><stop offset="0.6071" stop-color="#00ff48"/><stop offset="0.6429" stop-color="#00ff25"/><stop offset="0.6786" stop-color="#00ff01"/><stop offset="0.7143" stop-color="#24ff00"/><stop offset="0.7500" stop-color="#49ff00"/><stop offset="0.7857" stop-color="#70ff00"/><stop offset="0.8214" stop-color="#97ff00"/><stop offset="0.8571" stop-color="#c0ff00"/><stop offset="0.8929" stop-color="#e9ff00"/><stop offset="0.9286" stop-color="#ffeb00"/><stop offset="0.9643" stop-color="#ffc000"/><stop offset="1.0000" stop-color="#ff9400"/></linearGradient>
<linearGradient id="s29" x1="0" x2="0" y1="0" y2="1"><stop offset="0.0000" stop-color="#0000ff"/><stop offset="0.0357" stop-color="#0005ff"/><stop offset="0.0714" stop-color="#001aff"/><stop offset="0.1071" stop-color="#002fff"/><stop offset="0.1429" stop-color="#0046ff"/><stop offset="0.1786" stop-color="#005dff"/><stop offset="0.2143" stop-color="#0075ff"/><stop offset="0.2500" stop-color="#008eff"/><stop offset="0.2857" stop-color="#00a8ff"/><stop offset="0.3214" stop-color="#00c3ff"/><stop offset="0.3571" stop-color="#00deff"/><stop offset="0.3929" stop-color="#00fbff"/><stop offset="0.4286" stop-color="#00ffe6"/><stop offset="0.4643" stop-color="#00ffc7"/><stop offset="0.5000" stop-color="#00ffa8"/><stop offset="0.5357" stop-color="#00ff88"/><stop offset="0.5714" stop-color="#00ff67"/><stop offset="0.6071" stop-color="#00ff45"/><stop offset="0.6429" stop-color="#00ff22"/><stop offset="0.6786" stop-color="#02ff00"/><stop offset="0.7143" stop-color="#27ff00"/><stop offset="0.7500" stop-color="#4cff00"/><stop offset="0.7857" stop-color="#73ff00"/><stop offset="0.8214" stop-color="#9aff00"/><stop offset="0.8571" stop-color="#c2ff00"/><stop offset="0.8929" stop-color="#ebff00"/><stop offset="0.9286" stop-color="#ffe900"/><stop offset="0.9643" stop-color="#ffbe00"/><stop offset="1.0000" stop-color="#ff9200"/></linearGradient>
<linearGradient id="s30" x1="0" x2="0" y1="0" y2="1"><stop offset="0.0000" stop-color="#0000ff"/><stop offset="0.0357" stop-color="#000aff"/><stop offset="0.0714" stop-color="#001fff"/><stop offset="0.1071" stop-color="#0034ff"/><stop offset="0.1429" stop-color="#004aff"/><stop offset="0.1786" stop-color="#0061ff"/><stop offset="0.2143" stop-color="#0079ff"/><stop offset="0.2500" stop-color="#0092ff"/><stop offset="0.2857" stop-color="#00acff"/><stop offset="0.3214" stop-color="#00c7ff"/><stop offset="0.3571" stop-color="#00e3ff"/><stop offset="0.3929" stop-color="#00ffff"/><stop offset="0.4286" stop-color="#00ffe2"/><stop offset="0.4643" stop-color="#00ffc3"/><stop offset="0.5000" stop-color="#00ffa4"/><stop offset="0.5357" stop-color="#00ff84"/><stop offset="0.5714" stop-color="#00ff63"/><stop offset="0.6071" stop-color="#00ff41"/><stop offset="0.6429" stop-color="#00ff1e"/><stop offset="0.6786" stop-color="#05ff00"/><stop offset="0.7143" stop-color="#2aff00"/><stop offset="0.7500" stop-color="#4fff00"/><stop offset="0.7857" stop-color="#76ff00"/><stop offset="0.8214" stop-color="#9dff00"/><stop offset="0.8571" stop-color="#c5ff00"/><stop offset="0.8929" stop-color="#eeff00"/><stop offset="0.9286" stop-color="#ffe600"/><stop offset="0.9643" stop-color="#ffbb00"/><stop offset="1.0000" stop-color="#ff8f00"/></linearGradient>
<linearGradient id="s31" x1="0" x2="0" y1="0" y2="1"><stop offset="0.0000" stop-color="#0000ff"/><stop offset="0.0357" stop-color="#0010ff"/><stop offset="0.0714" stop-color="#0024ff"/><stop offset="0.1071" stop-color="#0039ff"/><stop offset="0.1429" stop-color="#004fff"/><stop offset="0.1786" stop-color="#0066ff"/><stop offset="0.2143" stop-color="#007eff"/><stop offset="0.2500" stop-color="#0097ff"/><stop offset="0.2857" stop-color="#00b1ff"/><stop offset="0.3214" stop-color="#00cbff"/><stop offset="0.3571" stop-color="#00e7ff"/><stop offset="0.3929" stop-color="#00fffb"/><stop offset="0.4286" stop-color="#00ffdd"/><stop offset="0.4643" stop-color="#00ffbf"/><stop offset="0.5000" stop-color="#00ffa0"/><stop offset="0.5357" stop-color="#00ff80"/><stop offset="0.5714" stop-color="#00ff5f"/><stop offset="0.6071" stop-color="#00ff3d"/><stop offset="0.6429" stop-color="#00ff1b"/><stop offset="0.6786" stop-color="#09ff00"/><stop offset="0.7143" stop-color="#2dff00"/><stop offset="0.7500" stop-color="#53ff00"/><stop offset="0.7857" stop-color="#79ff00"/><stop offset="0.8214" stop-color="#a0ff00"/><stop offset="0.8571" stop-color="#c8ff00"/><stop offset="0.8929" stop-color="#f1ff00"/><stop offset="0.9286" stop-color="#ffe300"/><stop offset="0.9643" stop-color="#ffb800"/><stop offset="1.0000" stop-color="#ff8d00"/></linearGradient>
<linearGradient id="s32" x1="0" x2="0" y1="0" y2="1"><stop offset="0.0000" stop-color="#0002ff"/><stop offset="0.0357" stop-color="#0015ff"/><stop offset="0.0714" stop-color="#0029ff"/><stop offset="0.1071" stop-color="#003eff"/><stop offset="0.1429" stop-color="#0054ff"/><stop offset="0.1786" stop-color="#006bff"/><stop offset="0.2143" stop-color="#0083ff"/><stop offset="0.2500" stop-color="#009cff"/><stop offset="0.2857" stop-color="#00b5ff"/><stop offset="0.3214" stop-color="#00d0ff"/><stop offset="0.3571" stop-color="#00ebff"/><stop offset="0.3929" stop-color="#00fff6"/><stop offset="0.4286" stop-color="#00ffd9"/><stop offset="0.4643" stop-color="#00ffbb"/><stop offset="0.5000" stop-color="#00ff9c"/><stop offset="0.5357" stop-color="#00ff7c"/><stop offset="0.5714" stop-color="#00ff5b"/><stop offset="0.6071" stop-color="#00ff3a"/><stop offset="0.6429" stop-color="#00ff17"/><stop offset="0.6786" stop-color="#0cff00"/><stop offset="0.7143" stop-color="#31ff00"/><stop offset="0.7500" stop-color="#56ff00"/><stop offset="0.7857" stop-color="#7cff00"/><stop offset="0.8214" stop-color="#a3ff00"/><stop offset="0.8571" stop-color="#cbff00"/><stop offset="0.8929" stop-color="#f4ff00"/><stop offset="0.9286" stop-color="#ffe000"/><stop offset="0.9643" stop-color="#ffb600"/><stop offset="1.0000" stop-color="#ff8a00"/></linearGradient>
<linearGradient id="s33" x1="0" x2="0" y1="0" y2="1"><stop offset="0.0000" stop-color="#0007ff"/><stop offset="0.0357" stop-color="#001aff"/><stop offset="0.0714" stop-color="#002fff"/><stop offset="0.1071" stop-color="#0044ff"/><stop offset="0.1429" stop-color="#005aff"/><stop offset="0.1786" stop-color="#0070ff"/><stop offset="0.2143" stop-color="#0088ff"/><stop offset="0.2500" stop-color="#00a1ff"/><stop offset="0.2857" stop-color="#00baff"/><stop offset="0.3214" stop-color="#00d5ff"/><stop offset="0.3571" stop-color="#00f0ff"/><stop offset="0.3929" stop-color="#00fff2"/><stop offset="0.4286" stop-color="#00ffd5"/><stop offset="0.4643" stop-color="#00ffb7"/><stop offset="0.5000" stop-color="#00ff98"/><stop offset="0.5357" stop-color="#00ff78"/><stop offset="0.5714" stop-color="#00ff57"/><stop offset="0.6071" stop-color="#00ff36"/><stop offset="0.6429" stop-color="#00ff13"/><stop offset="0.6786" stop-color="#10ff00"/><stop offset="0.7143" stop-color="#34ff00"/><stop offset="0.7500" stop-color="#59ff00"/><stop offset="0.7857" stop-color="#80ff00"/><stop offset="0.8214" stop-color="#a6ff00"/><stop offset="0.8571" stop-color="#ceff00"/><stop offset="0.8929" stop-color="#f7ff00"/><stop offset="0.9286" stop-color="#ffdd00"/><stop offset="0.9643" stop-color="#ffb300"/><stop offset="1.0000" stop-color="#ff8700"/></linearGradient>
<linearGradient id="s34" x1="0" x2="0" y1="0" y2="1"><stop offset="0.0000" stop-color="#000dff"/><stop offset="0.0357" stop-color="#0020ff"/><stop offset="0.0714" stop-color="#0034ff"/><stop offset="0.1071" stop-color="#0049ff"/><stop offset="0.1429" stop-color="#005fff"/><stop offset="0.1786" stop-color="#0076ff"/><stop offset="0.2143" stop-color="#008dff"/><stop offset="0.2500" stop-color="#00a6ff"/><stop offset="0.2857" stop-color="#00bfff"/><stop offset="0.3214" stop-color="#00d9ff"/><stop offset="0.3571" stop-color="#00f5ff"/><stop offset="0.3929" stop-color="#00ffed"/><stop offset="0.4286" stop-color="#00ffd0"/><stop offset="0.4643" stop-color="#00ffb2"/><stop offset="0.5000" stop-color="#00ff94"/><stop offset="0.5357" stop-color="#00ff74"/><stop offset="0.5714" stop-color="#00ff53"/><stop offset="0.6071" stop-color="#00ff32"/><stop offset="0.6429" stop-color="#00ff0f"/><stop offset="0.6786" stop-color="#14ff00"/><stop offset="0.7143" stop-color="#38ff00"/><stop offset="0.7500" stop-color="#5dff00"/><stop offset="0.7857" stop-color="#83ff00"/><stop offset="0.8214" stop-color="#aaff00"/><stop offset="0.8571" stop-color="#d2ff00"/><stop offset="0.8929" stop-color="#faff00"/><stop offset="0.9286" stop-color="#ffda00"/><stop offset="0.9643" stop-color="#ffb000"/><stop offset="1.0000" stop-color="#ff8400"/></linearGradient>
<linearGradient id="s35" x1="0" x2="0" y1="0" y2="1"><stop offset="0.0000" stop-color="#0013ff"/><stop offset="0.0357" stop-color="#0026ff"/><stop offset="0.0714" stop-color="#003aff"/><stop offset="0.1071" stop-color="#004fff"/><stop offset="0.1429" stop-color="#0064ff"/><stop offset="0.1786" stop-color="#007bff"/><stop offset="0.2143" stop-color="#0092ff"/><stop offset="0.2500" stop-color="#00abff"/><stop offset="0.2857" stop-color="#00c4ff"/><stop offset="0.3214" stop-color="#00deff"/><stop offset="0.3571" stop-color="#00faff"/><stop offset="0.3929" stop-color="#00ffe8"/><stop offset="0.4286" stop-color="#00ffcc"/><stop offset="0.4643" stop-color="#00ffae"/><stop offset="0.5000" stop-color="#00ff8f"/><stop offset="0.5357" stop-color="#00ff6f"/><stop offset="0.5714" stop-color="#00ff4f"/><stop offset="0.6071" stop-color="#00ff2e"/><stop offset="0.6429" stop-color="#00ff0b"/><stop offset="0.6786" stop-color="#18ff00"/><stop offset="0.7143" stop-color="#3cff00"/><stop offset="0.7500" stop-color="#61ff00"/><stop offset="0.7857" stop-color="#87ff00"/><stop offset="0.8214" stop-color="#adff00"/><stop offset="0.8571" stop-color="#d5ff00"/><stop offset="0.8929" stop-color="#feff00"/><stop offset="0.9286" stop-color="#ffd700"/><stop offset="0.9643" stop-color="#ffad00"/><stop offset="1.0000" stop-color="#ff8100"/></linearGradient>
<linearGradient id="s36" x1="0" x2="0" y1="0" y2="1"><stop offset="0.0000" stop-color="#0019ff"/><stop offset="0.0357" stop-color="#002cff"/><stop offset="0.0714" stop-color="#0040ff"/><stop offset="0.1071" stop-color="#0054ff"/><stop offset="0.1429" stop-color="#006aff"/><stop offset="0.1786" stop-color="#0080ff"/><stop offset="0.2143" stop-color="#0098ff"/><stop offset="0.2500" stop-color="#00b0ff"/><stop offset="0.2857" stop-color="#00c9ff"/><stop offset="0.3214" stop-color="#00e4ff"/><stop offset="0.3571" stop-color="#00ffff"/><stop offset="0.3929" stop-color="#00ffe4"/><stop offset="0.4286" stop-color="#00ffc7"/><stop offset="0.4643" stop-color="#00ffa9"/><stop offset="0.5000" stop-color="#00ff8a"/><stop offset="0.5357" stop-color="#00ff6b"/><stop offset="0.5714" stop-color="#00ff4b"/><stop offset="0.6071" stop-color="#00ff29"/><stop offset="0.6429" stop-color="#00ff07"/><stop offset="0.6786" stop-color="#1cff00"/><stop offset="0.7143" stop-color="#40ff00"/><stop offset="0.7500" stop-color="#65ff00"/><stop offset="0.7857" stop-color="#8bff00"/><stop offset="0.8214" stop-color="#b1ff00"/><stop offset="0.8571" stop-color="#d9ff00"/><stop offset="0.8929" stop-color="#fffd00"/><stop offset="0.9286" stop-color="#ffd400"/><stop offset="0.9643" stop-color="#ffa900"/><stop offset="1.0000" stop-color="#ff7e00"/></linearGradient>
<linearGradient id="s37" x1="0" x2="0" y1="0" y2="1"><stop offset="0.0000" stop-color="#001fff"/><stop offset="0.0357" stop-color="#0032ff"/><stop offset="0.0714" stop-color="#0045ff"/><stop offset="0.1071" stop-color="#005aff"/><stop offset="0.1429" stop-color="#0070ff"/><stop offset="0.1786" stop-color="#0086ff"/><stop offset="0.2143" stop-color="#009dff"/><stop offset="0.2500" stop-color="#00b6ff"/><stop offset="0.2857" stop-color="#00cfff"/><stop offset="0.3214" stop-color="#00e9ff"/><stop offset="0.3571" stop-color="#00fffa"/><stop offset="0.3929" stop-color="#00ffdf"/><stop offset="0.4286" stop-color="#00ffc2"/><stop offset="0.4643" stop-color="#00ffa4"/><stop offset="0.5000" stop-color="#00ff86"/><stop offset="0.5357" stop-color="#00ff66"/><stop offset="0.5714" stop-color="#00ff46"/><stop offset="0.6071" stop-color="#00ff25"/><stop offset="0.6429" stop-color="#00ff03"/><stop offset="0.6786" stop-color="#20ff00"/><stop offset="0.7143" stop-color="#44ff00"/><stop offset="0.7500" stop-color="#69ff00"/><stop offset="0.7857" stop-color="#8eff00"/><stop offset="0.8214" stop-color="#b5ff00"/><stop offset="0.8571" stop-color="#dcff00"/><stop offset="0.8929" stop-color="#fff900"/><stop offset="0.9286" stop-color="#ffd000"/><stop offset="0.9643" stop-color="#ffa600"/><stop offset="1.0000" stop-color="#ff7b00"/></linearGradient>
<linearGradient id="s38" x1="0" x2="0" y1="0" y2="1"><stop offset="0.0000" stop-color="#0025ff"/><stop offset="0.0357" stop-color="#0038ff"/><stop offset="0.0714" stop-color="#004bff"/><stop offset="0.1071" stop-color="#0060ff"/><stop offset="0.1429" stop-color="#0075ff"/><stop offset="0.1786" stop-color="#008cff"/><stop offset="0.2143" stop-color="#00a3ff"/><stop offset="0.2500" stop-color="#00bbff"/><stop offset="0.2857" stop-color="#00d4ff"/><stop offset="0.3214" stop-color="#00eeff"/><stop offset="0.3571" stop-color="#00fff5"/><stop offset="0.3929" stop-color="#00ffd9"/><stop offset="0.4286" stop-color="#00ffbd"/><stop offset="0.4643" stop-color="#00ff9f"/><stop offset="0.5000" stop-color="#00ff81"/><stop offset="0.5357" stop-color="#00ff62"/><stop offset="0.5714" stop-color="#00ff41"/><stop offset="0.6071" stop-color="#00ff20"/><stop offset="0.6429" stop-color="#02ff00"/><stop offset="0.6786" stop-color="#24ff00"/><stop offset="0.7143" stop-color="#48ff00"/><stop offset="0.7500" stop-color="#6dff00"/><stop offset="0.7857" stop-color="#92ff00"/><stop offset="0.8214" stop-color="#b9ff00"/><stop offset="0.8571" stop-color="#e0ff00"/><stop offset="0.8929" stop-color="#fff500"/><stop offset="0.9286" stop-color="#ffcc00"/><stop offset="0.9643" stop-color="#ffa200"/><stop offset="1.0000" stop-color="#ff7700"/></linearGradient>
<linearGradient id="s39" x1="0" x2="0" y1="0" y2="1"><stop offset="0.0000" stop-color="#002bff"/><stop offset="0.0357" stop-color="#003eff"/><stop offset="0.0714" stop-color="#0052ff"/><stop offset="0.1071" stop-color="#0066ff"/><stop offset="0.1429" stop-color="#007bff"/><stop offset="0.1786" stop-color="#0092ff"/><stop offset="0.2143" stop-color="#00a9ff"/><stop offset="0.2500" stop-color="#00c1ff"/><stop offset="0.2857" stop-color="#00daff"/><stop offset="0.3214" stop-color="#00f4ff"/><stop offset="0.3571" stop-color="#00fff0"/><stop offset="0.3929" stop-color="#00ffd4"/><stop offset="0.4286" stop-color="#00ffb8"/><stop offset="0.4643" stop-color="#00ff9a"/><stop offset="0.5000" stop-color="#00ff7c"/><stop offset="0.5357" stop-color="#00ff5d"/><stop offset="0.5714" stop-color="#00ff3d"/><stop offset="0.6071" stop-color="#00ff1c"/><stop offset="0.6429" stop-color="#06ff00"/><stop offset="0.6786" stop-color="#29ff00"/><stop offset="0.7143" stop-color="#4dff00"/><stop offset="0.7500" stop-color="#71ff00"/><stop offset="0.7857" stop-color="#97ff00"/><stop offset="0.8214" stop-color="#bdff00"/><stop offset="0.8571" stop-color="#e4ff00"/><stop offset="0.8929" stop-color="#fff200"/><stop offset="0.9286" stop-color="#ffc900"/><stop offset="0.9643" stop-color="#ff9f00"/><stop offset="1.0000" stop-color="#ff7400"/></linearGradient>
<linearGradient id="s40" x1="0" x2="0" y1="0" y2="1"><stop offset="0.0000" stop-color="#0032ff"/><stop offset="0.0357" stop-color="#0044ff"/><stop offset="0.0714" stop-color="#0058ff"/><stop offset="0.1071" stop-color="#006cff"/><stop offset="0.1429" stop-color="#0081ff"/><stop offset="0.1786" stop-color="#0098ff"/><stop offset="0.2143" stop-color="#00afff"/><stop offset="0.2500" stop-color="#00c7ff"/><stop offset="0.2857" stop-color="#00dfff"/><stop offset="0.3214" stop-color="#00f9ff"/><stop offset="0.3571" stop-color="#00ffea"/><stop offset="0.3929" stop-color="#00ffcf"/><stop offset="0.4286" stop-color="#00ffb2"/><stop offset="0.4643" stop-color="#00ff95"/><stop offset="0.5000" stop-color="#00ff77"/><stop offset="0.5357" stop-color="#00ff58"/><stop offset="0.5714" stop-color="#00ff38"/><stop offset="0.6071" stop-color="#00ff17"/><stop offset="0.6429" stop-color="#0bff00"/><stop offset="0.6786" stop-color="#2eff00"/><stop offset="0.7143" stop-color="#51ff00"/><stop offset="0.7500" stop-color="#76ff00"/><stop offset="0.7857" stop-color="#9bff00"/><stop offset="0.8214" stop-color="#c1ff00"/><stop offset="0.8571" stop-color="#e8ff00"/><stop offset="0.8929" stop-color="#ffee00"/><stop offset="0.9286" stop-color="#ffc500"/><stop offset="0.9643" stop-color="#ff9b00"/><stop offset="1.0000" stop-color="#ff7000"/></linearGradient>
<linearGradient id="s41" x1="0" x2="0" y1="0" y2="1"><stop offset="0.0000" stop-color="#0039ff"/><stop offset="0.0357" stop-color="#004bff"/><stop offset="0.0714" stop-color="#005eff"/><stop offset="0.1071" stop-color="#0073ff"/><stop offset="0.1429" stop-color="#0088ff"/><stop offset="0.1786" stop-color="#009eff"/><stop offset="0.2143" stop-color="#00b5ff"/><stop offset="0.2500" stop-color="#00cdff"/><stop offset="0.2857" stop-color="#00e5ff"/><stop offset="0.3214" stop-color="#00ffff"/><stop offset="0.3571" stop-color="#00ffe5"/><stop offset="0.3929" stop-color="#00ffc9"/><stop offset="0.4286" stop-color="#00ffad"/><stop offset="0.4643" stop-color="#00ff90"/><stop offset="0.5000" stop-color="#00ff72"/><stop offset="0.5357" stop-color="#00ff53"/><stop offset="0.5714" stop-color="#00ff33"/><stop offset="0.6071" stop-color="#00ff12"/><stop offset="0.6429" stop-color="#10ff00"/><stop offset="0.6786" stop-color="#32ff00"/><stop offset="0.7143" stop-color="#56ff00"/><stop offset="0.7500" stop-color="#7aff00"/><stop offset="0.7857" stop-color="#9fff00"/><stop offset="0.8214" stop-color="#c6ff00"/><stop offset="0.8571" stop-color="#edff00"/><stop offset="0.8929" stop-color="#ffe900"/><stop offset="0.9286" stop-color="#ffc100"/><stop offset="0.9643" stop-color="#ff9700"/><stop offset="1.0000" stop-color="#ff6c00"/></linearGradient>
<linearGradient id="s42" x1="0" x2="0" y1="0" y2="1"><stop offset="0.0000" stop-color="#003fff"/><stop offset="0.0357" stop-color="#0052ff"/><stop offset="0.0714" stop-color="#0065ff"/><stop offset="0.1071" stop-color="#0079ff"/><stop offset="0.1429" stop-color="#008eff"/><stop offset="0.1786" stop-color="#00a4ff"/><stop offset="0.2143" stop-color="#00bbff"/><stop offset="0.2500" stop-color="#00d3ff"/><stop offset="0.2857" stop-color="#00ebff"/><stop offset="0.3214" stop-color="#00fff9"/><stop offset="0.3571" stop-color="#00ffdf"/><stop offset="0.3929" stop-color="#00ffc4"/><stop offset="0.4286" stop-color="#00ffa7"/><stop offset="0.4643" stop-color="#00ff8a"/><stop offset="0.5000" stop-color="#00ff6c"/><stop offset="0.5357" stop-color="#00ff4d"/><stop offset="0.5714" stop-color="#00ff2e"/><stop offset="0.6071" stop-color="#00ff0d"/><stop offset="0.6429" stop-color="#15ff00"/><stop offset="0.6786" stop-color="#37ff00"/><stop offset="0.7143" stop-color="#5bff00"/><stop offset="0.7500" stop-color="#7fff00"/><stop offset="0.7857" stop-color="#a4ff00"/><stop offset="0.8214" stop-color="#caff00"/><stop offset="0.8571" stop-color="#f1ff00"/><stop offset="0.8929" stop-color="#ffe500"/><stop offset="0.9286" stop-color="#ffbc00"/><stop offset="0.9643" stop-color="#ff9300"/><stop offset="1.0000" stop-color="#ff6800"/></linearGradient>
<linearGradient id="s43" x1="0" x2="0" y1="0" y2="1"><stop offset="0.0000" stop-color="#0046ff"/><stop offset="0.0357" stop-color="#0058ff"/><stop offset="0.0714" stop-color="#006cff"/><stop offset="0.1071" stop-color="#0080ff"/><stop offset="0.1429" stop-color="#0095ff"/><stop offset="0.1786" stop-color="#00aaff"/><stop offset="0.2143" stop-color="#00c1ff"/><stop offset="0.2500" stop-color="#00d9ff"/><stop offset="0.2857" stop-color="#00f1ff"/><stop offset="0.3214" stop-color="#00fff3"/><stop offset="0.3571" stop-color="#00ffd9"/><stop offset="0.3929" stop-color="#00ffbe"/><stop offset="0.4286" stop-color="#00ffa2"/><stop offset="0.4643" stop-color="#00ff85"/><stop offset="0.5000" stop-color="#00ff67"/><stop offset="0.5357" stop-color="#00ff48"/><stop offset="0.5714" stop-color="#00ff28"/><stop offset="0.6071" stop-color="#00ff08"/><stop offset="0.6429" stop-color="#1aff00"/><stop offset="0.6786" stop-color="#3cff00"/><stop offset="0.7143" stop-color="#5fff00"/><stop offset="0.7500" stop-color="#84ff00"/><stop offset="0.7857" stop-color="#a9ff00"/><stop offset="0.8214" stop-color="#cfff00"/><stop offset="0.8571" stop-color="#f5ff00"/><stop offset="0.8929" stop-color="#ffe100"/><stop offset="0.9286" stop-color="#ffb800"/><stop offset="0.9643" stop-color="#ff8f00"/><stop offset="1.0000" stop-color="#ff6400"/></linearGradient>
<linearGradient id="s44" x1="0" x2="0" y1="0" y2="1"><stop offset="0.0000" stop-color="#004dff"/><stop offset="0.0357" stop-color="#005fff"/><stop offset="0.0714" stop-color="#0072ff"/><stop offset="0.1071" stop-color="#0086ff"/><stop offset="0.1429" stop-color="#009bff"/><stop offset="0.1786" stop-color="#00b1ff"/><stop offset="0.2143" stop-color="#00c8ff"/><stop offset="0.2500" stop-color="#00dfff"/><stop offset="0.2857" stop-color="#00f7ff"/><stop offset="0.3214" stop-color="#00ffed"/><stop offset="0.3571" stop-color="#00ffd3"/><stop offset="0.3929" stop-color="#00ffb8"/><stop offset="0.4286" stop-color="#00ff9c"/><stop offset="0.4643" stop-color="#00ff7f"/><stop offset="0.5000" stop-color="#00ff61"/><stop offset="0.5357" stop-color="#00ff42"/><stop offset="0.5714" stop-color="#00ff23"/><stop offset="0.6071" stop-color="#00ff02"/><stop offset="0.6429" stop-color="#1fff00"/><stop offset="0.6786" stop-color="#41ff00"/><stop offset="0.7143" stop-color="#64ff00"/><stop offset="0.7500" stop-color="#88ff00"/><stop offset="0.7857" stop-color="#adff00"/><stop offset="0.8214" stop-color="#d3ff00"/><stop offset="0.8571" stop-color="#faff00"/><stop offset="0.8929" stop-color="#ffdc00"/><stop offset="0.9286" stop-color="#ffb400"/><stop offset="0.9643" stop-color="#ff8a00"/><stop offset="1.0000" stop-color="#ff6000"/></linearGradient>
<linearGradient id="s45" x1="0" x2="0" y1="0" y2="1"><stop offset="0.0000" stop-color="#0054ff"/><stop offset="0.0357" stop-color="#0066ff"/><stop offset="0.0714" stop-color="#0079ff"/><stop offset="0.1071" stop-color="#008dff"/><stop offset="0.1429" stop-color="#00a2ff"/><stop offset="0.1786" stop-color="#00b8ff"/><stop offset="0.2143" stop-color="#00ceff"/><stop offset="0.2500" stop-color="#00e5ff"/><stop offset="0.2857" stop-color="#00feff"/><stop offset="0.3214" stop-color="#00ffe7"/><stop offset="0.3571" stop-color="#00ffcd"/><stop offset="0.3929" stop-color="#00ffb2"/><stop offset="0.4286" stop-color="#00ff96"/><stop offset="0.4643" stop-color="#00ff79"/><stop offset="0.5000" stop-color="#00ff5b"/><stop offset="0.5357" stop-color="#00ff3d"/><stop offset="0.5714" stop-color="#00ff1d"/><stop offset="0.6071" stop-color="#03ff00"/><stop offset="0.6429" stop-color="#24ff00"/><stop offset="0.6786" stop-color="#46ff00"/><stop offset="0.7143" stop-color="#6aff00"/><stop offset="0.7500" stop-color="#8eff00"/><stop offset="0.7857" stop-color="#b2ff00"/><stop offset="0.8214" stop-color="#d8ff00"/><stop offset="0.8571" stop-color="#ffff00"/><stop offset="0.8929" stop-color="#ffd800"/><stop offset="0.9286" stop-color="#ffaf00"/><stop offset="0.9643" stop-color="#ff8600"/><stop offset="1.0000" stop-color="#ff5c00"/></linearGradient>
<linearGradient id="s46" x1="0" x2="0" y1="0" y2="1"><stop offset="0.0000" stop-color="#005cff"/><stop offset="0.0357" stop-color="#006dff"/><stop offset="0.0714" stop-color="#0080ff"/><stop offset="0.1071" stop-color="#0094ff"/><stop offset="0.1429" stop-color="#00a9ff"/><stop offset="0.1786" stop-color="#00beff"/><stop offset="0.2143" stop-color="#00d5ff"/><stop offset="0.2500" stop-color="#00ecff"/><stop offset="0.2857" stop-color="#00fffa"/><stop offset="0.3214" stop-color="#00ffe1"/><stop offset="0.3571" stop-color="#00ffc7"/><stop offset="0.3929" stop-color="#00ffac"/><stop offset="0.4286" stop-color="#00ff90"/><stop offset="0.4643" stop-color="#00ff73"/><stop offset="0.5000" stop-color="#00ff56"/><stop offset="0.5357" stop-color="#00ff37"/><stop offset="0.5714" stop-color="#00ff18"/><stop offset="0.6071" stop-color="#09ff00"/><stop offset="0.6429" stop-color="#2aff00"/><stop offset="0.6786" stop-color="#4cff00"/><stop offset="0.7143" stop-color="#6fff00"/><stop offset="0.7500" stop-color="#93ff00"/><stop offset="0.7857" stop-color="#b7ff00"/><stop offset="0.8214" stop-color="#ddff00"/><stop offset="0.8571" stop-color="#fffa00"/><stop offset="0.8929" stop-color="#ffd300"/><stop offset="0.9286" stop-color="#ffab00"/><stop offset="0.9643" stop-color="#ff8100"/><stop offset="1.0000" stop-color="#ff5700"/></linearGradient>
<linearGradient id="s47" x1="0" x2="0" y1="0" y2="1"><stop offset="0.0000" stop-color="#0063ff"/><stop offset="0.0357" stop-color="#0075ff"/><stop offset="0.0714" stop-color="#0088ff"/><stop offset="0.1071" stop-color="#009bff"/><stop offset="0.1429" stop-color="#00b0ff"/><stop offset="0.1786" stop-color="#00c5ff"/><stop offset="0.2143" stop-color="#00dbff"/><stop offset="0.2500" stop-color="#00f3ff"/><stop offset="0.2857" stop-color="#00fff3"/><stop offset="0.3214" stop-color="#00ffda"/><stop offset="0.3571" stop-color="#00ffc0"/><stop offset="0.3929" stop-color="#00ffa5"/><stop offset="0.4286" stop-color="#00ff8a"/><stop offset="0.4643" stop-color="#00ff6d"/><stop offset="0.5000" stop-color="#00ff50"/><stop offset="0.5357" stop-color="#00ff31"/><stop offset="0.5714" stop-color="#00ff12"/><stop offset="0.6071" stop-color="#0eff00"/><stop offset="0.6429" stop-color="#2fff00"/><stop offset="0.6786" stop-color="#51ff00"/><stop offset="0.7143" stop-color="#74ff00"/><stop offset="0.7500" stop-color="#98ff00"/><stop offset="0.7857" stop-color="#bdff00"/><stop offset="0.8214" stop-color="#e2ff00"/><stop offset="0.8571" stop-color="#fff500"/><stop offset="0.8929" stop-color="#ffce00"/><stop offset="0.9286" stop-color="#ffa600"/><stop offset="0.9643" stop-color="#ff7d00"/><stop offset="1.0000" stop-color="#ff5300"/></linearGradient>
<linearGradient id="s48" x1="0" x2="0" y1="0" y2="1"><stop offset="0.0000" stop-color="#006aff"/><stop offset="0.0357" stop-color="#007cff"/><stop offset="0.0714" stop-color="#008fff"/><stop offset="0.1071" stop-color="#00a2ff"/><stop offset="0.1429" stop-color="#00b7ff"/><stop offset="0.1786" stop-color="#00ccff"/><stop offset="0.2143" stop-color="#00e2ff"/><stop offset="0.2500" stop-color="#00faff"/><stop offset="0.2857" stop-color="#00ffec"/><stop offset="0.3214" stop-color="#00ffd4"/><stop offset="0.3571" stop-color="#00ffba"/><stop offset="0.3929" stop-color="#00ff9f"/><stop offset="0.4286" stop-color="#00ff83"/><stop offset="0.4643" stop-color="#00ff67"/><stop offset="0.5000" stop-color="#00ff49"/><stop offset="0.5357" stop-color="#00ff2b"/><stop offset="0.5714" stop-color="#00ff0c"/><stop offset="0.6071" stop-color="#14ff00"/><stop offset="0.6429" stop-color="#35ff00"/><stop offset="0.6786" stop-color="#57ff00"/><stop offset="0.7143" stop-color="#7aff00"/><stop offset="0.7500" stop-color="#9dff00"/><stop offset="0.7857" stop-color="#c2ff00"/><stop offset="0.8214" stop-color="#e7ff00"/><stop offset="0.8571" stop-color="#fff000"/><stop offset="0.8929" stop-color="#ffc900"/><stop offset="0.9286" stop-color="#ffa100"/><stop offset="0.9643" stop-color="#ff7800"/><stop offset="1.0000" stop-color="#ff4e00"/></linearGradient>
<linearGradient id="s49" x1="0" x2="0" y1="0" y2="1"><stop offset="0.0000" stop-color="#0072ff"/><stop offset="0.0357" stop-color="#0084ff"/><stop offset="0.0714" stop-color="#0096ff"/><stop offset="0.1071" stop-color="#00aaff"/><stop offset="0.1429" stop-color="#00beff"/><stop offset="0.1786" stop-color="#00d3ff"/><stop offset="0.2143" stop-color="#00e9ff"/><stop offset="0.2500" stop-color="#00fffe"/><stop offset="0.2857" stop-color="#00ffe6"/><stop offset="0.3214" stop-color="#00ffcd"/><stop offset="0.3571" stop-color="#00ffb3"/><stop offset="0.3929" stop-color="#00ff98"/><stop offset="0.4286" stop-color="#00ff7d"/><stop offset="0.4643" stop-color="#00ff61"/><stop offset="0.5000" stop-color="#00ff43"/><stop offset="0.5357" stop-color="#00ff25"/><stop offset="0.5714" stop-color="#00ff06"/><stop offset="0.6071" stop-color="#1aff00"/><stop offset="0.6429" stop-color="#3bff00"/><stop offset="0.6786" stop-color="#5dff00"/><stop offset="0.7143" stop-color="#7fff00"/><stop offset="0.7500" stop-color="#a3ff00"/><stop offset="0.7857" stop-color="#c7ff00"/><stop offset="0.8214" stop-color="#edff00"/><stop offset="0.8571" stop-color="#ffeb00"/><stop offset="0.8929" stop-color="#ffc400"/><stop offset="0.9286" stop-color="#ff9c00"/><stop offset="0.9643" stop-color="#ff7300"/><stop offset="1.0000" stop-color="#ff4900"/></linearGradient>
<linearGradient id="s50" x1="0" x2="0" y1="0" y2="1"><stop offset="0.0000" stop-color="#007aff"/><stop offset="0.0357" stop-color="#008bff"/><stop offset="0.0714" stop-color="#009eff"/><stop offset="0.1071" stop-color="#00b1ff"/><stop offset="0.1429" stop-color="#00c5ff"/><stop offset="0.1786" stop-color="#00dbff"/><stop offset="0.2143" stop-color="#00f1ff"/><stop offset="0.2500" stop-color="#00fff6"/><stop offset="0.2857" stop-color="#00ffdf"/><stop offset="0.3214" stop-color="#00ffc6"/><stop offset="0.3571" stop-color="#00ffac"/><stop offset="0.3929" stop-color="#00ff92"/><stop offset="0.4286" stop-color="#00ff76"/><stop offset="0.4643" stop-color="#00ff5a"/><stop offset="0.5000" stop-color="#00ff3d"/><stop offset="0.5357" stop-color="#00ff1f"/><stop offset="0.5714" stop-color="#00ff00"/><stop offset="0.6071" stop-color="#20ff00"/><stop offset="0.6429" stop-color="#41ff00"/><stop offset="0.6786" stop-color="#63ff00"/><stop offset="0.7143" stop-color="#85ff00"/><stop offset="0.7500" stop-color="#a9ff00"/><stop offset="0.7857" stop-color="#cdff00"/><stop offset="0.8214" stop-color="#f2ff00"/><stop offset="0.8571" stop-color="#ffe600"/><stop offset="0.8929" stop-color="#ffbf00"/><stop offset="0.9286" stop-color="#ff9700"/><stop offset="0.9643" stop-color="#ff6e00"/><stop offset="1.0000" stop-color="#ff4400"/></linearGradient>
<linearGradient id="s51" x1="0" x2="0" y1="0" y2="1"><stop offset="0.0000" stop-color="#0082ff"/><stop offset="0.0357" stop-color="#0093ff"/><stop offset="0.0714" stop-color="#00a6ff"/><stop offset="0.1071" stop-color="#00b9ff"/><stop offset="0.1429" stop-color="#00cdff"/><stop offset="0.1786" stop-color="#00e2ff"/><stop offset="0.2143" stop-color="#00f8ff"/><stop offset="0.2500" stop-color="#00ffef"/><stop offset="0.2857" stop-color="#00ffd8"/><stop offset="0.3214" stop-color="#00ffbf"/><stop offset="0.3571" stop-color="#00ffa5"/><stop offset="0.3929" stop-color="#00ff8b"/><stop offset="0.4286" stop-color="#00ff70"/><stop offset="0.4643" stop-color="#00ff53"/><stop offset="0.5000" stop-color="#00ff36"/><stop offset="0.5357" stop-color="#00ff18"/><stop offset="0.5714" stop-color="#07ff00"/><stop offset="0.6071" stop-color="#26ff00"/><stop offset="0.6429" stop-color="#47ff00"/><stop offset="0.6786" stop-color="#69ff00"/><stop offset="0.7143" stop-color="#8bff00"/><stop offset="0.7500" stop-color="#aeff00"/><stop offset="0.7857" stop-color="#d3ff00"/><stop offset="0.8214" stop-color="#f8ff00"/><stop offset="0.8571" stop-color="#ffe000"/><stop offset="0.8929" stop-color="#ffb900"/><stop offset="0.9286" stop-color="#ff9100"/><stop offset="0.9643" stop-color="#ff6900"/><stop offset="1.0000" stop-color="#ff3f00"/></linearGradient>
<linearGradient id="s52" x1="0" x2="0" y1="0" y2="1"><stop offset="0.0000" stop-color="#008aff"/><stop offset="0.0357" stop-color="#009bff"/><stop offset="0.0714" stop-color="#00adff"/><stop offset="0.1071" stop-color="#00c1ff"/><stop offset="0.1429" stop-color="#00d5ff"/><stop offset="0.1786" stop-color="#00eaff"/><stop offset="0.2143" stop-color="#00ffff"/><stop offset="0.2500" stop-color="#00ffe8"/><stop offset="0.2857" stop-color="#00ffd0"/><stop offset="0.3214" stop-color="#00ffb8"/><stop offset="0.3571" stop-color="#00ff9e"/><stop offset="0.3929" stop-color="#00ff84"/><stop offset="0.4286" stop-color="#00ff69"/><stop offset="0.4643" stop-color="#00ff4d"/><stop offset="0.5000" stop-color="#00ff30"/><stop offset="0.5357" stop-color="#00ff12"/><stop offset="0.5714" stop-color="#0dff00"/><stop offset="0.6071" stop-color="#2dff00"/><stop offset="0.6429" stop-color="#4dff00"/><stop offset="0.6786" stop-color="#6fff00"/><stop offset="0.7143" stop-color="#91ff00"/><stop offset="0.7500" stop-color="#b4ff00"/><stop offset="0.7857" stop-color="#d9ff00"/><stop offset="0.8214" stop-color="#feff00"/><stop offset="0.8571" stop-color="#ffda00"/><stop offset="0.8929" stop-color="#ffb400"/><stop offset="0.9286" stop-color="#ff8c00"/><stop offset="0.9643" stop-color="#ff6300"/><stop offset="1.0000" stop-color="#ff3a00"/></linearGradient>
<linearGradient id="s53" x1="0" x2="0" y1="0" y2="1"><stop offset="0.0000" stop-color="#0092ff"/><stop offset="0.0357" stop-color="#00a3ff"/><stop offset="0.0714" stop-color="#00b5ff"/><stop offset="0.1071" stop-color="#00c8ff"/><stop offset="0.1429" stop-color="#00dcff"/><stop offset="0.1786" stop-color="#00f1ff"/><stop offset="0.2143" stop-color="#00fff7"/><stop offset="0.2500" stop-color="#00ffe0"/><stop offset="0.2857" stop-color="#00ffc9"/><stop offset="0.3214" stop-color="#00ffb1"/><stop offset="0.3571" stop-color="#00ff97"/><stop offset="0.3929" stop-color="#00ff7d"/><stop offset="0.4286" stop-color="#00ff62"/><stop offset="0.4643" stop-color="#00ff46"/><stop offset="0.5000" stop-color="#00ff29"/><stop offset="0.5357" stop-color="#00ff0b"/><stop offset="0.5714" stop-color="#14ff00"/><stop offset="0.6071" stop-color="#33ff00"/><stop offset="0.6429" stop-color="#54ff00"/><stop offset="0.6786" stop-color="#75ff00"/><stop offset="0.7143" stop-color="#97ff00"/><stop offset="0.7500" stop-color="#baff00"/><stop offset="0.7857" stop-color="#deff00"/><stop offset="0.8214" stop-color="#fffb00"/><stop offset="0.8571" stop-color="#ffd500"/><stop offset="0.8929" stop-color="#ffae00"/><stop offset="0.9286" stop-color="#ff8600"/><stop offset="0.9643" stop-color="#ff5e00"/><stop offset="1.0000" stop-color="#ff3400"/></linearGradient>
<linearGradient id="s54" x1="0" x2="0" y1="0" y2="1"><stop offset="0.0000" stop-color="#009aff"/><stop offset="0.0357" stop-color="#00abff"/><stop offset="0.0714" stop-color="#00bdff"/><stop offset="0.1071" stop-color="#00d0ff"/><stop offset="0.1429" stop-color="#00e4ff"/><stop offset="0.1786" stop-color="#00f9ff"/><stop offset="0.2143" stop-color="#00ffef"/><stop offset="0.2500" stop-color="#00ffd9"/><stop offset="0.2857" stop-color="#00ffc1"/><stop offset="0.3214" stop-color="#00ffa9"/><stop offset="0.3571" stop-color="#00ff90"/><stop offset="0.3929" stop-color="#00ff76"/><stop offset="0.4286" stop-color="#00ff5b"/><stop offset="0.4643" stop-color="#00ff3f"/><stop offset="0.5000" stop-color="#00ff22"/><stop offset="0.5357" stop-color="#00ff04"/><stop offset="0.5714" stop-color="#1aff00"/><stop offset="0.6071" stop-color="#3aff00"/><stop offset="0.6429" stop-color="#5aff00"/><stop offset="0.6786" stop-color="#7bff00"/><stop offset="0.7143" stop-color="#9eff00"/><stop offset="0.7500" stop-color="#c1ff00"/><stop offset="0.7857" stop-color="#e5ff00"/><stop offset="0.8214" stop-color="#fff500"/><stop offset="0.8571" stop-color="#ffcf00"/><stop offset="0.8929" stop-color="#ffa800"/><stop offset="0.9286" stop-color="#ff8100"/><stop offset="0.9643" stop-color="#ff5800"/><stop offset="1.0000" stop-color="#ff2f00"/></linearGradient>
<linearGradient id="s55" x1="0" x2="0" y1="0" y2="1"><stop offset="0.0000" stop-color="#00a3ff"/><stop offset="0.0357" stop-color="#00b4ff"/><stop offset="0.0714" stop-color="#00c6ff"/><stop offset="0.1071" stop-color="#00d8ff"/><stop offset="0.1429" stop-color="#00ecff"/><stop offset="0.1786" stop-color="#00fffd"/><stop offset="0.2143" stop-color="#00ffe8"/><stop offset="0.2500" stop-color="#00ffd1"/><stop offset="0.2857" stop-color="#00ffba"/><stop offset="0.3214" stop-color="#00ffa2"/><stop offset="0.3571" stop-color="#00ff88"/><stop offset="0.3929" stop-color="#00ff6e"/><stop offset="0.4286" stop-color="#00ff54"/><stop offset="0.4643" stop-color="#00ff38"/><stop offset="0.5000" stop-color="#00ff1b"/><stop offset="0.5357" stop-color="#03ff00"/><stop offset="0.5714" stop-color="#21ff00"/><stop offset="0.6071" stop-color="#40ff00"/><stop offset="0.6429" stop-color="#61ff00"/><stop offset="0.6786" stop-color="#82ff00"/><stop offset="0.7143" stop-color="#a4ff00"/><stop offset="0.7500" stop-color="#c7ff00"/><stop offset="0.7857" stop-color="#ebff00"/><stop offset="0.8214" stop-color="#ffee00"/><stop offset="0.8571" stop-color="#ffc900"/><stop offset="0.8929" stop-color="#ffa200"/><stop offset="0.9286" stop-color="#ff7b00"/><stop offset="0.9643" stop-color="#ff5200"/><stop offset="1.0000" stop-color="#ff2900"/></linearGradient>
<linearGradient id="s56" x1="0" x2="0" y1="0" y2="1"><stop offset="0.0000" stop-color="#00abff"/><stop offset="0.0357" stop-color="#00bcff"/><stop offset="0.0714" stop-color="#00ceff"/><stop offset="0.1071" stop-color="#00e1ff"/><stop offset="0.1429" stop-color="#00f4ff"/><stop offset="0.1786" stop-color="#00fff5"/><stop offset="0.2143" stop-color="#00ffe0"/><stop offset="0.2500" stop-color="#00ffc9"/><stop offset="0.2857" stop-color="#00ffb2"/><stop offset="0.3214" stop-color="#00ff9a"/><stop offset="0.3571" stop-color="#00ff81"/><stop offset="0.3929" stop-color="#00ff67"/><stop offset="0.4286" stop-color="#00ff4c"/><stop offset="0.4643" stop-color="#00ff31"/><stop offset="0.5000" stop-color="#00ff14"/><stop offset="0.5357" stop-color="#0aff00"/><stop offset="0.5714" stop-color="#28ff00"/><stop offset="0.6071" stop-color="#47ff00"/><stop offset="0.6429" stop-color="#67ff00"/><stop offset="0.6786" stop-color="#89ff00"/><stop offset="0.7143" stop-color="#abff00"/><stop offset="0.7500" stop-color="#cdff00"/><stop offset="0.7857" stop-color="#f1ff00"/><stop offset="0.8214" stop-color="#ffe800"/><stop offset="0.8571" stop-color="#ffc300"/><stop offset="0.8929" stop-color="#ff9c00"/><stop offset="0.9286" stop-color="#ff7500"/><stop offset="0.9643" stop-color="#ff4d00"/><stop offset="1.0000" stop-color="#ff2300"/></linearGradient>
<linearGradient id="s57" x1="0" x2="0" y1="0" y2="1"><stop offset="0.0000" stop-color="#00b4ff"/><stop offset="0.0357" stop-color="#00c5ff"/><stop offset="0.0714" stop-color="#00d6ff"/><stop offset="0.1071" stop-color="#00e9ff"/><stop offset="0.1429" stop-color="#00fdff"/><stop offset="0.1786" stop-color="#00ffed"/><stop offset="0.2143" stop-color="#00ffd8"/><stop offset="0.2500" stop-color="#00ffc1"/><stop offset="0.2857" stop-color="#00ffaa"/><stop offset="0.3214" stop-color="#00ff92"/><stop offset="0.3571" stop-color="#00ff79"/><stop offset="0.3929" stop-color="#00ff5f"/><stop offset="0.4286" stop-color="#00ff45"/><stop offset="0.4643" stop-color="#00ff29"/><stop offset="0.5000" stop-color="#00ff0d"/><stop offset="0.5357" stop-color="#11ff00"/><stop offset="0.5714" stop-color="#2fff00"/><stop offset="0.6071" stop-color="#4eff00"/><stop offset="0.6429" stop-color="#6eff00"/><stop offset="0.6786" stop-color="#8fff00"/><stop offset="0.7143" stop-color="#b1ff00"/><stop offset="0.7500" stop-color="#d4ff00"/><stop offset="0.7857" stop-color="#f8ff00"/><stop offset="0.8214" stop-color="#ffe200"/><stop offset="0.8571" stop-color="#ffbc00"/><stop offset="0.8929" stop-color="#ff9600"/><stop offset="0.9286" stop-color="#ff6f00"/><stop offset="0.9643" stop-color="#ff4700"/><stop offset="1.0000" stop-color="#ff1e00"/></linearGradient>
<linearGradient id="s58" x1="0" x2="0" y1="0" y2="1"><stop offset="0.0000" stop-color="#00bdff"/><stop offset="0.0357" stop-color="#00cdff"/><stop offset="0.0714" stop-color="#00dfff"/><stop offset="0.1071" stop-color="#00f2ff"/><stop offset="0.1429" stop-color="#00fff9"/><stop offset="0.1786" stop-color="#00ffe5"/><stop offset="0.2143" stop-color="#00ffcf"/><stop offset="0.2500" stop-color="#00ffb9"/><stop offset="0.2857" stop-color="#00ffa2"/><stop offset="0.3214" stop-color="#00ff8a"/><stop offset="0.3571" stop-color="#00ff71"/><stop offset="0.3929" stop-color="#00ff58"/><stop offset="0.4286" stop-color="#00ff3d"/><stop offset="0.4643" stop-color="#00ff22"/><stop offset="0.5000" stop-color="#00ff05"/><stop offset="0.5357" stop-color="#18ff00"/><stop offset="0.5714" stop-color="#36ff00"/><stop offset="0.6071" stop-color="#55ff00"/><stop offset="0.6429" stop-color="#75ff00"/><stop offset="0.6786" stop-color="#96ff00"/><stop offset="0.7143" stop-color="#b8ff00"/><stop offset="0.7500" stop-color="#dbff00"/><stop offset="0.7857" stop-color="#feff00"/><stop offset="0.8214" stop-color="#ffdb00"/><stop offset="0.8571" stop-color="#ffb600"/><stop offset="0.8929" stop-color="#ff9000"/><stop offset="0.9286" stop-color="#ff6900"/><stop offset="0.9643" stop-color="#ff4100"/><stop offset="1.0000" stop-color="#ff1800"/></linearGradient>
<linearGradient id="s59" x1="0" x2="0" y1="0" y2="1"><stop offset="0.0000" stop-color="#00c6ff"/><stop offset="0.0357" stop-color="#00d6ff"/><stop offset="0.0714" stop-color="#00e8ff"/><stop offset="0.1071" stop-color="#00faff"/><stop offset="0.1429" stop-color="#00fff0"/><stop offset="0.1786" stop-color="#00ffdc"/><stop offset="0.2143" stop-color="#00ffc7"/><stop offset="0.2500" stop-color="#00ffb1"/><stop offset="0.2857" stop-color="#00ff9a"/><stop offset="0.3214" stop-color="#00ff82"/><stop offset="0.3571" stop-color="#00ff6a"/><stop offset="0.3929" stop-color="#00ff50"/><stop offset="0.4286" stop-color="#00ff35"/><stop offset="0.4643" stop-color="#00ff1a"/><stop offset="0.5000" stop-color="#02ff00"/><stop offset="0.5357" stop-color="#1fff00"/><stop offset="0.5714" stop-color="#3eff00"/><stop offset="0.6071" stop-color="#5dff00"/><stop offset="0.6429" stop-color="#7cff00"/><stop offset="0.6786" stop-color="#9dff00"/><stop offset="0.7143" stop-color="#bfff00"/><stop offset="0.7500" stop-color="#e1ff00"/><stop offset="0.7857" stop-color="#fff900"/><stop offset="0.8214" stop-color="#ffd500"/><stop offset="0.8571" stop-color="#ffaf00"/><stop offset="0.8929" stop-color="#ff8900"/><stop offset="0.9286" stop-color="#ff6200"/><stop offset="0.9643" stop-color="#ff3a00"/><stop offset="1.0000" stop-color="#ff1100"/></linearGradient>
<linearGradient id="s60" x1="0" x2="0" y1="0" y2="1"><stop offset="0.0000" stop-color="#00cfff"/><stop offset="0.0357" stop-color="#00dfff"/><stop offset="0.0714" stop-color="#00f1ff"/><stop offset="0.1071" stop-color="#00fffb"/><stop offset="0.1429" stop-color="#00ffe8"/><stop offset="0.1786" stop-color="#00ffd4"/><stop offset="0.2143" stop-color="#00ffbf"/><stop offset="0.2500" stop-color="#00ffa9"/><stop offset="0.2857" stop-color="#00ff92"/><stop offset="0.3214" stop-color="#00ff7a"/><stop offset="0.3571" stop-color="#00ff61"/><stop offset="0.3929" stop-color="#00ff48"/><stop offset="0.4286" stop-color="#00ff2e"/><stop offset="0.4643" stop-color="#00ff12"/><stop offset="0.5000" stop-color="#0aff00"/><stop offset="0.5357" stop-color="#27ff00"/><stop offset="0.5714" stop-color="#45ff00"/><stop offset="0.6071" stop-color="#64ff00"/><stop offset="0.6429" stop-color="#84ff00"/><stop offset="0.6786" stop-color="#a4ff00"/><stop offset="0.7143" stop-color="#c6ff00"/><stop offset="0.7500" stop-color="#e8ff00"/><stop offset="0.7857" stop-color="#fff200"/><stop offset="0.8214" stop-color="#ffce00"/><stop offset="0.8571" stop-color="#ffa900"/><stop offset="0.8929" stop-color="#ff8300"/><stop offset="0.9286" stop-color="#ff5c00"/><stop offset="0.9643" stop-color="#ff3400"/><stop offset="1.0000" stop-color="#ff0b00"/></linearGradient>
<linearGradient id="s61" x1="0" x2="0" y1="0" y2="1"><stop offset="0.0000" stop-color="#00d8ff"/><stop offset="0.0357" stop-color="#00e8ff"/><stop offset="0.0714" stop-color="#00faff"/><stop offset="0.1071" stop-color="#00fff2"/><stop offset="0.1429" stop-color="#00ffdf"/><stop offset="0.1786" stop-color="#00ffcb"/><stop offset="0.2143" stop-color="#00ffb6"/><stop offset="0.2500" stop-color="#00ffa0"/><stop offset="0.2857" stop-color="#00ff89"/><stop offset="0.3214" stop-color="#00ff72"/><stop offset="0.3571" stop-color="#00ff59"/><stop offset="0.3929" stop-color="#00ff40"/><stop offset="0.4286" stop-color="#00ff26"/><stop offset="0.4643" stop-color="#00ff0a"/><stop offset="0.5000" stop-color="#12ff00"/><stop offset="0.5357" stop-color="#2fff00"/><stop offset="0.5714" stop-color="#4dff00"/><stop offset="0.6071" stop-color="#6bff00"/><stop offset="0.6429" stop-color="#8bff00"/><stop offset="0.6786" stop-color="#acff00"/><stop offset="0.7143" stop-color="#cdff00"/><stop offset="0.7500" stop-color="#f0ff00"/><stop offset="0.7857" stop-color="#ffeb00"/><stop offset="0.8214" stop-color="#ffc700"/><stop offset="0.8571" stop-color="#ffa200"/><stop offset="0.8929" stop-color="#ff7c00"/><stop offset="0.9286" stop-color="#ff5500"/><stop offset="0.9643" stop-color="#ff2d00"/><stop offset="1.0000" stop-color="#ff0500"/></linearGradient>
<linearGradient id="s62" x1="0" x2="0" y1="0" y2="1"><stop offset="0.0000" stop-color="#00e1ff"/><stop offset="0.0357" stop-color="#00f1ff"/><stop offset="0.0714" stop-color="#00fffb"/><stop offset="0.1071" stop-color="#00ffe9"/><stop offset="0.1429" stop-color="#00ffd6"/><stop offset="0.1786" stop-color="#00ffc2"/><stop offset="0.2143" stop-color="#00ffad"/><stop offset="0.2500" stop-color="#00ff98"/><stop offset="0.2857" stop-color="#00ff81"/><stop offset="0.3214" stop-color="#00ff69"/><stop offset="0.3571" stop-color="#00ff51"/><stop offset="0.3929" stop-color="#00ff38"/><stop offset="0.4286" stop-color="#00ff1d"/><stop offset="0.4643" stop-color="#00ff02"/><stop offset="0.5000" stop-color="#1aff00"/><stop offset="0.5357" stop-color="#37ff00"/><stop offset="0.5714" stop-color="#54ff00"/><stop offset="0.6071" stop-color="#73ff00"/><stop offset="0.6429" stop-color="#93ff00"/><stop offset="0.6786" stop-color="#b3ff00"/><stop offset="0.7143" stop-color="#d4ff00"/><stop offset="0.7500" stop-color="#f7ff00"/><stop offset="0.7857" stop-color="#ffe400"/><stop offset="0.8214" stop-color="#ffc000"/><stop offset="0.8571" stop-color="#ff9b00"/><stop offset="0.8929" stop-color="#ff7500"/><stop offset="0.9286" stop-color="#ff4e00"/><stop offset="0.9643" stop-color="#ff2700"/><stop offset="1.0000" stop-color="#ff0000"/></linearGradient>
<linearGradient id="s63" x1="0" x2="0" y1="0" y2="1"><stop offset="0.0000" stop-color="#00eaff"/><stop offset="0.0357" stop-color="#00fbff"/><stop offset="0.0714" stop-color="#00fff2"/><stop offset="0.1071" stop-color="#00ffe0"/><stop offset="0.1429" stop-color="#00ffcd"/><stop offset="0.1786" stop-color="#00ffb9"/><stop offset="0.2143" stop-color="#00ffa4"/><stop offset="0.2500" stop-color="#00ff8f"/><stop offset="0.2857" stop-color="#00ff78"/><stop offset="0.3214" stop-color="#00ff61"/><stop offset="0.3571" stop-color="#00ff49"/><stop offset="0.3929" stop-color="#00ff2f"/><stop offset="0.4286" stop-color="#00ff15"/><stop offset="0.4643" stop-color="#06ff00"/><stop offset="0.5000" stop-color="#22ff00"/><stop offset="0.5357" stop-color="#3eff00"/><stop offset="0.5714" stop-color="#5cff00"/><stop offset="0.6071" stop-color="#7bff00"/><stop offset="0.6429" stop-color="#9aff00"/><stop offset="0.6786" stop-color="#bbff00"/><stop offset="0.7143" stop-color="#dcff00"/><stop offset="0.7500" stop-color="#feff00"/><stop offset="0.7857" stop-color="#ffdd00"/><stop offset="0.8214" stop-color="#ffb900"/><stop offset="0.8571" stop-color="#ff9400"/><stop offset="0.8929" stop-color="#ff6e00"/><stop offset="0.9286" stop-color="#ff4800"/><stop offset="0.9643" stop-color="#ff2000"/><stop offset="1.0000" stop-color="#ff0000"/></linearGradient>
<linearGradient id="s64" x1="0" x2="0" y1="0" y2="1"><stop offset="0.0000" stop-color="#00f4ff"/><stop offset="0.0357" stop-color="#00fffa"/><stop offset="0.0714" stop-color="#00ffe9"/><stop offset="0.1071" stop-color="#00ffd7"/><stop offset="0.1429" stop-color="#00ffc4"/><stop offset="0.1786" stop-color="#00ffb0"/><stop offset="0.2143" stop-color="#00ff9c"/><stop offset="0.2500" stop-color="#00ff86"/><stop offset="0.2857" stop-color="#00ff70"/><stop offset="0.3214" stop-color="#00ff58"/><stop offset="0.3571" stop-color="#00ff40"/><stop offset="0.3929" stop-color="#00ff27"/><stop offset="0.4286" stop-color="#00ff0d"/><stop offset="0.4643" stop-color="#0eff00"/><stop offset="0.5000" stop-color="#2aff00"/><stop offset="0.5357" stop-color="#47ff00"/><stop offset="0.5714" stop-color="#64ff00"/><stop offset="0.6071" stop-color="#83ff00"/><stop offset="0.6429" stop-color="#a2ff00"/><stop offset="0.6786" stop-color="#c2ff00"/><stop offset="0.7143" stop-color="#e3ff00"/><stop offset="0.7500" stop-color="#fff800"/><stop offset="0.7857" stop-color="#ffd500"/><stop offset="0.8214" stop-color="#ffb200"/><stop offset="0.8571" stop-color="#ff8d00"/><stop offset="0.8929" stop-color="#ff6700"/><stop offset="0.9286" stop-color="#ff4100"/><stop offset="0.9643" stop-color="#ff1900"/><stop offset="1.0000" stop-color="#ff0000"/></linearGradient>
<linearGradient id="s65" x1="0" x2="0" y1="0" y2="1"><stop offset="0.0000" stop-color="#00feff"/><stop offset="0.0357" stop-color="#00fff0"/><stop offset="0.0714" stop-color="#00ffdf"/><stop offset="0.1071" stop-color="#00ffcd"/><stop offset="0.1429" stop-color="#00ffbb"/><stop offset="0.1786" stop-color="#00ffa7"/><stop offset="0.2143" stop-color="#00ff92"/><stop offset="0.2500" stop-color="#00ff7d"/><stop offset="0.2857" stop-color="#00ff67"/><stop offset="0.3214" stop-color="#00ff4f"/><stop offset="0.3571" stop-color="#00ff37"/><stop offset="0.3929" stop-color="#00ff1e"/><stop offset="0.4286" stop-color="#00ff04"/><stop offset="0.4643" stop-color="#16ff00"/><stop offset="0.5000" stop-color="#32ff00"/><stop offset="0.5357" stop-color="#4fff00"/><stop offset="0.5714" stop-color="#6cff00"/><stop offset="0.6071" stop-color="#8bff00"/><stop offset="0.6429" stop-color="#aaff00"/><stop offset="0.6786" stop-color="#caff00"/><stop offset="0.7143" stop-color="#ebff00"/><stop offset="0.7500" stop-color="#fff100"/><stop offset="0.7857" stop-color="#ffce00"/><stop offset="0.8214" stop-color="#ffaa00"/><stop offset="0.8571" stop-color="#ff8600"/><stop offset="0.8929" stop-color="#ff6000"/><stop offset="0.9286" stop-color="#ff3a00"/><stop offset="0.9643" stop-color="#ff1200"/><stop offset="1.0000" stop-color="#ff0000"/></linearGradient>
<linearGradient id="s66" x1="0" x2="0" y1="0" y2="1"><stop offset="0.0000" stop-color="#00fff6"/><stop offset="0.0357" stop-color="#00ffe6"/><stop offset="0.0714" stop-color="#00ffd6"/><stop offset="0.1071" stop-color="#00ffc4"/><stop offset="0.1429" stop-color="#00ffb1"/><stop offset="0.1786" stop-color="#00ff9e"/><stop offset="0.2143" stop-color="#00ff89"/><stop offset="0.2500" stop-color="#00ff74"/><stop offset="0.2857" stop-color="#00ff5e"/><stop offset="0.3214" stop-color="#00ff47"/><stop offset="0.3571" stop-color="#00ff2e"/><stop offset="0.3929" stop-color="#00ff16"/><stop offset="0.4286" stop-color="#04ff00"/><stop offset="0.4643" stop-color="#1fff00"/><stop offset="0.5000" stop-color="#3bff00"/><stop offset="0.5357" stop-color="#57ff00"/><stop offset="0.5714" stop-color="#74ff00"/><stop offset="0.6071" stop-color="#93ff00"/><stop offset="0.6429" stop-color="#b2ff00"/><stop offset="0.6786" stop-color="#d2ff00"/><stop offset="0.7143" stop-color="#f3ff00"/><stop offset="0.7500" stop-color="#ffe900"/><stop offset="0.7857" stop-color="#ffc600"/><stop offset="0.8214" stop-color="#ffa300"/><stop offset="0.8571" stop-color="#ff7e00"/><stop offset="0.8929" stop-color="#ff5900"/><stop offset="0.9286" stop-color="#ff3200"/><stop offset="0.9643" stop-color="#ff0b00"/><stop offset="1.0000" stop-color="#ff0000"/></linearGradient>
<linearGradient id="s67" x1="0" x2="0" y1="0" y2="1"><stop offset="0.0000" stop-color="#00ffec"/><stop offset="0.0357" stop-color="#00ffdd"/><stop offset="0.0714" stop-color="#00ffcc"/><stop offset="0.1071" stop-color="#00ffba"/><stop offset="0.1429" stop-color="#00ffa8"/><stop offset="0.1786" stop-color="#00ff94"/><stop offset="0.2143" stop-color="#00ff80"/><stop offset="0.2500" stop-color="#00ff6b"/><stop offset="0.2857" stop-color="#00ff54"/><stop offset="0.3214" stop-color="#00ff3d"/><stop offset="0.3571" stop-color="#00ff26"/><stop offset="0.3929" stop-color="#00ff0d"/><stop offset="0.4286" stop-color="#0dff00"/><stop offset="0.4643" stop-color="#28ff00"/><stop offset="0.5000" stop-color="#43ff00"/><stop offset="0.5357" stop-color="#60ff00"/><stop offset="0.5714" stop-color="#7dff00"/><stop offset="0.6071" stop-color="#9bff00"/><stop offset="0.6429" stop-color="#baff00"/><stop offset="0.6786" stop-color="#daff00"/><stop offset="0.7143" stop-color="#fbff00"/><stop offset="0.7500" stop-color="#ffe100"/><stop offset="0.7857" stop-color="#ffbf00"/><stop offset="0.8214" stop-color="#ff9b00"/><stop offset="0.8571" stop-color="#ff7700"/><stop offset="0.8929" stop-color="#ff5100"/><stop offset="0.9286" stop-color="#ff2b00"/><stop offset="0.9643" stop-color="#ff0400"/><stop offset="1.0000" stop-color="#ff0000"/></linearGradient>
<linearGradient id="s68" x1="0" x2="0" y1="0" y2="1"><stop offset="0.0000" stop-color="#00ffe2"/><stop offset="0.0357" stop-color="#00ffd3"/><stop offset="0.0714" stop-color="#00ffc2"/><stop offset="0.1071" stop-color="#00ffb0"/><stop offset="0.1429" stop-color="#00ff9e"/><stop offset="0.1786" stop-color="#00ff8b"/><stop offset="0.2143" stop-color="#00ff76"/><stop offset="0.2500" stop-color="#00ff61"/><stop offset="0.2857" stop-color="#00ff4b"/><stop offset="0.3214" stop-color="#00ff34"/><stop offset="0.3571" stop-color="#00ff1c"/><stop offset="0.3929" stop-color="#00ff04"/><stop offset="0.4286" stop-color="#16ff00"/><stop offset="0.4643" stop-color="#30ff00"/><stop offset="0.5000" stop-color="#4cff00"/><stop offset="0.5357" stop-color="#68ff00"/><stop offset="0.5714" stop-color="#85ff00"/><stop offset="0.6071" stop-color="#a3ff00"/><stop offset="0.6429" stop-color="#c2ff00"/><stop offset="0.6786" stop-color="#e2ff00"/><stop offset="0.7143" stop-color="#fffb00"/><stop offset="0.7500" stop-color="#ffd900"/><stop offset="0.7857" stop-color="#ffb700"/><stop offset="0.8214" stop-color="#ff9300"/><stop offset="0.8571" stop-color="#ff6f00"/><stop offset="0.8929" stop-color="#ff4a00"/><stop offset="0.9286" stop-color="#ff2300"/><stop offset="0.9643" stop-color="#ff0000"/><stop offset="1.0000" stop-color="#ff0000"/></linearGradient>
<clipPath id="fl"><path d="M1270.8,540.6 L1561.5,824.0 L1944.2,596.4 L1641.5,349.6 Z"/></clipPath>
</defs>
<rect width="2006" height="886" fill="#fff"/>
<text transform="translate(3.21,33.30) scale(0.9290,1)" font-family='"Liberation Sans", sans-serif' font-size="32.5" fill="#1a1a1a">Factor Coding: Actual</text>
<text transform="translate(4.18,140.00) scale(0.9201,1)" font-family='"Liberation Sans", sans-serif' font-size="32.5" font-weight="bold" fill="#000">FS (MPa)</text>
<ellipse cx="32.1" cy="181" rx="16.3" ry="17.5" fill="#b40000" stroke="#3a0a0a" stroke-width="1.2"/>
<text transform="translate(64.64,193.70) scale(0.9161,1)" font-family='"Liberation Sans", sans-serif' font-size="32.5" fill="#c0202a">Design Points</text>
<text transform="translate(4.71,300.00) scale(0.8917,1)" font-family='"Liberation Sans", sans-serif' font-size="32.5" fill="#2828ff">3.34379</text>
<rect x="120.9" y="265.2" width="109.2" height="46.9" fill="url(#lg)" stroke="#333" stroke-width="1"/>
<text transform="translate(242.64,300.00) scale(0.8957,1)" font-family='"Liberation Sans", sans-serif' font-size="32.5" fill="#ff2020">4.86959</text>
<text transform="translate(4.72,353.80) scale(0.9293,1)" font-family='"Liberation Sans", sans-serif' font-size="32.5" fill="#1a1a1a">X1 = A</text>
<text transform="translate(4.74,406.90) scale(0.9038,1)" font-family='"Liberation Sans", sans-serif' font-size="32.5" fill="#1a1a1a">X2 = B</text>
<g clip-path="url(#cp)"><g filter="url(#hb)">
<rect x="421.93" y="47.6" width="10.59" height="713.4" fill="url(#s0)"/>
<rect x="431.91" y="47.6" width="10.59" height="713.4" fill="url(#s1)"/>
<rect x="441.90" y="47.6" width="10.59" height="713.4" fill="url(#s2)"/>
<rect x="451.89" y="47.6" width="10.59" height="713.4" fill="url(#s3)"/>
<rect x="461.87" y="47.6" width="10.59" height="713.4" fill="url(#s4)"/>
<rect x="471.86" y="47.6" width="10.59" height="713.4" fill="url(#s5)"/>
<rect x="481.84" y="47.6" width="10.59" height="713.4" fill="url(#s6)"/>
<rect x="491.83" y="47.6" width="10.59" height="713.4" fill="url(#s7)"/>
<rect x="501.82" y="47.6" width="10.59" height="713.4" fill="url(#s8)"/>
<rect x="511.80" y="47.6" width="10.59" height="713.4" fill="url(#s9)"/>
<rect x="521.79" y="47.6" width="10.59" height="713.4" fill="url(#s10)"/>
<rect x="531.78" y="47.6" width="10.59" height="713.4" fill="url(#s11)"/>
<rect x="541.76" y="47.6" width="10.59" height="713.4" fill="url(#s12)"/>
<rect x="551.75" y="47.6" width="10.59" height="713.4" fill="url(#s13)"/>
<rect x="561.73" y="47.6" width="10.59" height="713.4" fill="url(#s14)"/>
<rect x="571.72" y="47.6" width="10.59" height="713.4" fill="url(#s15)"/>
<rect x="581.71" y="47.6" width="10.59" height="713.4" fill="url(#s16)"/>
<rect x="591.69" y="47.6" width="10.59" height="713.4" fill="url(#s17)"/>
<rect x="601.68" y="47.6" width="10.59" height="713.4" fill="url(#s18)"/>
<rect x="611.66" y="47.6" width="10.59" height="713.4" fill="url(#s19)"/>
<rect x="621.65" y="47.6" width="10.59" height="713.4" fill="url(#s20)"/>
<rect x="631.64" y="47.6" width="10.59" height="713.4" fill="url(#s21)"/>
<rect x="641.62" y="47.6" width="10.59" height="713.4" fill="url(#s22)"/>
<rect x="651.61" y="47.6" width="10.59" height="713.4" fill="url(#s23)"/>
<rect x="661.60" y="47.6" width="10.59" height="713.4" fill="url(#s24)"/>
<rect x="671.58" y="47.6" width="10.59" height="713.4" fill="url(#s25)"/>
<rect x="681.57" y="47.6" width="10.59" height="713.4" fill="url(#s26)"/>
<rect x="691.55" y="47.6" width="10.59" height="713.4" fill="url(#s27)"/>
<rect x="701.54" y="47.6" width="10.59" height="713.4" fill="url(#s28)"/>
<rect x="711.53" y="47.6" width="10.59" height="713.4" fill="url(#s29)"/>
<rect x="721.51" y="47.6" width="10.59" height="713.4" fill="url(#s30)"/>
<rect x="731.50" y="47.6" width="10.59" height="713.4" fill="url(#s31)"/>
<rect x="741.48" y="47.6" width="10.59" height="713.4" fill="url(#s32)"/>
<rect x="751.47" y="47.6" width="10.59" height="713.4" fill="url(#s33)"/>
<rect x="761.46" y="47.6" width="10.59" height="713.4" fill="url(#s34)"/>
<rect x="771.44" y="47.6" width="10.59" height="713.4" fill="url(#s35)"/>
<rect x="781.43" y="47.6" width="10.59" height="713.4" fill="url(#s36)"/>
<rect x="791.42" y="47.6" width="10.59" height="713.4" fill="url(#s37)"/>
<rect x="801.40" y="47.6" width="10.59" height="713.4" fill="url(#s38)"/>
<rect x="811.39" y="47.6" width="10.59" height="713.4" fill="url(#s39)"/>
<rect x="821.37" y="47.6" width="10.59" height="713.4" fill="url(#s40)"/>
<rect x="831.36" y="47.6" width="10.59" height="713.4" fill="url(#s41)"/>
<rect x="841.35" y="47.6" width="10.59" height="713.4" fill="url(#s42)"/>
<rect x="851.33" y="47.6" width="10.59" height="713.4" fill="url(#s43)"/>
<rect x="861.32" y="47.6" width="10.59" height="713.4" fill="url(#s44)"/>
<rect x="871.30" y="47.6" width="10.59" height="713.4" fill="url(#s45)"/>
<rect x="881.29" y="47.6" width="10.59" height="713.4" fill="url(#s46)"/>
<rect x="891.28" y="47.6" width="10.59" height="713.4" fill="url(#s47)"/>
<rect x="901.26" y="47.6" width="10.59" height="713.4" fill="url(#s48)"/>
<rect x="911.25" y="47.6" width="10.59" height="713.4" fill="url(#s49)"/>
<rect x="921.24" y="47.6" width="10.59" height="713.4" fill="url(#s50)"/>
<rect x="931.22" y="47.6" width="10.59" height="713.4" fill="url(#s51)"/>
<rect x="941.21" y="47.6" width="10.59" height="713.4" fill="url(#s52)"/>
<rect x="951.19" y="47.6" width="10.59" height="713.4" fill="url(#s53)"/>
<rect x="961.18" y="47.6" width="10.59" height="713.4" fill="url(#s54)"/>
<rect x="971.17" y="47.6" width="10.59" height="713.4" fill="url(#s55)"/>
<rect x="981.15" y="47.6" width="10.59" height="713.4" fill="url(#s56)"/>
<rect x="991.14" y="47.6" width="10.59" height="713.4" fill="url(#s57)"/>
<rect x="1001.12" y="47.6" width="10.59" height="713.4" fill="url(#s58)"/>
<rect x="1011.11" y="47.6" width="10.59" height="713.4" fill="url(#s59)"/>
<rect x="1021.10" y="47.6" width="10.59" height="713.4" fill="url(#s60)"/>
<rect x="1031.08" y="47.6" width="10.59" height="713.4" fill="url(#s61)"/>
<rect x="1041.07" y="47.6" width="10.59" height="713.4" fill="url(#s62)"/>
<rect x="1051.06" y="47.6" width="10.59" height="713.4" fill="url(#s63)"/>
<rect x="1061.04" y="47.6" width="10.59" height="713.4" fill="url(#s64)"/>
<rect x="1071.03" y="47.6" width="10.59" height="713.4" fill="url(#s65)"/>
<rect x="1081.01" y="47.6" width="10.59" height="713.4" fill="url(#s66)"/>
<rect x="1091.00" y="47.6" width="10.59" height="713.4" fill="url(#s67)"/>
<rect x="1100.99" y="47.6" width="10.59" height="713.4" fill="url(#s68)"/>
</g></g>
<path d="M903.9,47.6 L897.4,54.7 L890.6,61.9 L883.6,69.0 L877.1,75.5 L870.6,81.7 L864.1,87.7 L857.2,94.0 L849.0,101.1 L841.4,107.5 L834.9,112.8 L827.2,118.9 L818.7,125.4 L812.2,130.2 L803.0,136.8 L796.0,141.7 L787.3,147.5 L779.7,152.3 L770.4,158.2 L763.5,162.3 L753.8,168.0 L745.8,172.4 L737.5,176.9 L727.8,182.0 L718.3,186.7 L710.9,190.3 L701.8,194.5 L692.1,198.9 L682.4,203.0 L672.6,207.0 L662.9,210.8 L653.2,214.4 L643.4,217.9 L633.7,221.2 L623.9,224.4 L614.2,227.4 L604.5,230.3 L594.3,233.1 L581.8,236.3 L572.0,238.7 L562.3,241.0 L549.3,243.8 L539.6,245.7 L529.8,247.5 L516.8,249.7 L507.1,251.2 L494.1,253.0 L482.7,254.5 L471.4,255.7 L458.4,257.0 L445.6,258.1 L442.2,258.3" fill="none" stroke="#101018" stroke-width="1.6" stroke-opacity="0.85"/>
<path d="M1091.3,271.1 L1084.8,277.5 L1078.3,283.7 L1071.4,290.2 L1063.6,297.3 L1055.6,304.3 L1049.1,309.9 L1042.6,315.4 L1034.2,322.3 L1026.4,328.5 L1019.9,333.6 L1011.3,340.1 L1003.7,345.7 L996.6,350.8 L987.4,357.2 L981.0,361.6 L971.2,368.1 L964.7,372.3 L955.0,378.4 L947.7,382.9 L938.8,388.2 L929.4,393.6 L922.5,397.5 L912.8,402.8 L903.2,407.9 L896.3,411.4 L886.8,416.2 L877.1,420.9 L867.4,425.5 L859.0,429.3 L850.9,432.8 L841.4,436.9 L831.7,440.9 L821.9,444.8 L812.2,448.6 L802.5,452.2 L792.7,455.7 L783.0,459.1 L773.2,462.3 L763.5,465.4 L753.5,468.5 L741.4,472.1 L731.0,475.0 L721.3,477.6 L711.6,480.1 L700.5,482.8 L688.9,485.5 L679.1,487.6 L668.1,489.9 L656.4,492.2 L646.7,494.0 L633.7,496.2 L623.9,497.8 L611.0,499.7 L601.2,501.1 L588.2,502.7 L575.7,504.2 L565.5,505.2 L552.5,506.4 L539.6,507.5 L529.8,508.1 L516.8,508.9 L503.9,509.5 L490.9,510.0 L477.9,510.3 L464.9,510.5 L451.9,510.5 L442.2,510.4" fill="none" stroke="#101018" stroke-width="1.6" stroke-opacity="0.85"/>
<path d="M1091.3,569.3 L1081.6,575.0 L1074.5,579.1 L1065.3,584.2 L1055.6,589.5 L1048.5,593.4 L1039.4,598.1 L1029.6,603.0 L1020.4,607.6 L1013.0,611.2 L1003.7,615.6 L993.9,620.0 L984.2,624.3 L974.5,628.5 L964.8,632.6 L956.1,636.2 L947.1,639.7 L937.8,643.3 L928.3,646.9 L918.5,650.4 L908.3,654.0 L897.8,657.6 L886.9,661.1 L877.1,664.2 L867.4,667.2 L857.6,670.1 L847.9,672.9 L838.2,675.6 L825.3,679.0 L815.4,681.4 L805.7,683.8 L795.9,686.1 L783.0,689.0 L773.2,691.0 L762.4,693.2 L750.5,695.5 L740.8,697.3 L727.8,699.5 L718.1,701.1 L705.1,703.1 L695.3,704.5 L682.4,706.2 L671.7,707.5 L659.6,708.9 L646.7,710.2 L636.9,711.1 L623.9,712.2 L611.0,713.2 L598.0,714.0 L587.1,714.6 L575.3,715.2 L562.3,715.7 L549.3,716.0 L536.3,716.2 L523.3,716.3 L510.4,716.3 L497.4,716.2 L484.4,715.9 L471.4,715.5 L458.4,715.0 L448.7,714.6 L442.2,714.2" fill="none" stroke="#101018" stroke-width="1.6" stroke-opacity="0.85"/>
<rect x="442.2" y="47.6" width="649.0999999999999" height="713.4" fill="none" stroke="#444" stroke-width="1.2"/>
<line x1="427.2" x2="442.2" y1="761.0" y2="761.0" stroke="#444" stroke-width="1.2"/>
<line x1="427.2" x2="442.2" y1="659.1" y2="659.1" stroke="#444" stroke-width="1.2"/>
<line x1="427.2" x2="442.2" y1="557.2" y2="557.2" stroke="#444" stroke-width="1.2"/>
<line x1="427.2" x2="442.2" y1="455.3" y2="455.3" stroke="#444" stroke-width="1.2"/>
<line x1="427.2" x2="442.2" y1="353.3" y2="353.3" stroke="#444" stroke-width="1.2"/>
<line x1="427.2" x2="442.2" y1="251.4" y2="251.4" stroke="#444" stroke-width="1.2"/>
<line x1="427.2" x2="442.2" y1="149.5" y2="149.5" stroke="#444" stroke-width="1.2"/>
<line x1="427.2" x2="442.2" y1="47.6" y2="47.6" stroke="#444" stroke-width="1.2"/>
<line x1="442.2" x2="442.2" y1="761.0" y2="779.0" stroke="#444" stroke-width="1.2"/>
<line x1="604.5" x2="604.5" y1="761.0" y2="779.0" stroke="#444" stroke-width="1.2"/>
<line x1="766.8" x2="766.8" y1="761.0" y2="779.0" stroke="#444" stroke-width="1.2"/>
<line x1="929.0" x2="929.0" y1="761.0" y2="779.0" stroke="#444" stroke-width="1.2"/>
<line x1="1091.3" x2="1091.3" y1="761.0" y2="779.0" stroke="#444" stroke-width="1.2"/>
<text transform="translate(421.00,771.00) scale(0.8201,1)" text-anchor="end" font-family='"Liberation Sans", sans-serif' font-size="26" fill="#3c3c3c">0</text>
<text transform="translate(421.00,669.09) scale(0.8201,1)" text-anchor="end" font-family='"Liberation Sans", sans-serif' font-size="26" fill="#3c3c3c">0.1</text>
<text transform="translate(421.00,567.17) scale(0.8201,1)" text-anchor="end" font-family='"Liberation Sans", sans-serif' font-size="26" fill="#3c3c3c">0.2</text>
<text transform="translate(421.00,465.26) scale(0.8201,1)" text-anchor="end" font-family='"Liberation Sans", sans-serif' font-size="26" fill="#3c3c3c">0.3</text>
<text transform="translate(421.00,363.34) scale(0.8201,1)" text-anchor="end" font-family='"Liberation Sans", sans-serif' font-size="26" fill="#3c3c3c">0.4</text>
<text transform="translate(421.00,261.43) scale(0.8201,1)" text-anchor="end" font-family='"Liberation Sans", sans-serif' font-size="26" fill="#3c3c3c">0.5</text>
<text transform="translate(421.00,159.51) scale(0.8201,1)" text-anchor="end" font-family='"Liberation Sans", sans-serif' font-size="26" fill="#3c3c3c">0.6</text>
<text transform="translate(421.00,57.60) scale(0.8201,1)" text-anchor="end" font-family='"Liberation Sans", sans-serif' font-size="26" fill="#3c3c3c">0.7</text>
<text transform="translate(442.60,812.60) scale(0.8201,1)" text-anchor="middle" font-family='"Liberation Sans", sans-serif' font-size="26" fill="#3c3c3c">0</text>
<text transform="translate(604.87,812.60) scale(0.8201,1)" text-anchor="middle" font-family='"Liberation Sans", sans-serif' font-size="26" fill="#3c3c3c">5</text>
<text transform="translate(767.15,812.60) scale(0.8201,1)" text-anchor="middle" font-family='"Liberation Sans", sans-serif' font-size="26" fill="#3c3c3c">10</text>
<text transform="translate(929.42,812.60) scale(0.8201,1)" text-anchor="middle" font-family='"Liberation Sans", sans-serif' font-size="26" fill="#3c3c3c">15</text>
<text transform="translate(1091.70,812.60) scale(0.8201,1)" text-anchor="middle" font-family='"Liberation Sans", sans-serif' font-size="26" fill="#3c3c3c">20</text>
<text transform="translate(700.07,32.80) scale(0.8190,1)" font-family='"Liberation Sans", sans-serif' font-size="37.5" fill="#1a1a1a">FS (MPa)</text>
<text transform="translate(693.32,878.20) scale(0.7907,1)" font-family='"Liberation Sans", sans-serif' font-size="42" fill="#1a1a1a">A: SF (%)</text>
<text transform="translate(361.50,402.20) rotate(-90) translate(-82.44,0.00) scale(1.0136,1)" font-family='"Liberation Sans", sans-serif' font-size="37.5" fill="#1a1a1a">B: AP (%)</text>
<rect x="702.05" y="178.0" width="18.5" height="12.6" fill="#fff" stroke="#222" stroke-width="1"/>
<text transform="translate(711.3,187.9) scale(0.82,1)" font-family='"Liberation Sans", sans-serif' font-size="10" font-weight="bold" text-anchor="middle" fill="#333">3.5</text>
<rect x="809.25" y="435.0" width="12.5" height="12.6" fill="#fff" stroke="#222" stroke-width="1"/>
<text transform="translate(815.5,444.90000000000003) scale(0.82,1)" font-family='"Liberation Sans", sans-serif' font-size="10" font-weight="bold" text-anchor="middle" fill="#333">4</text>
<rect x="798.05" y="673.0" width="18.5" height="12.6" fill="#fff" stroke="#222" stroke-width="1"/>
<text transform="translate(807.3,682.9) scale(0.82,1)" font-family='"Liberation Sans", sans-serif' font-size="10" font-weight="bold" text-anchor="middle" fill="#333">4.5</text>
<ellipse cx="442.5" cy="761.3" rx="6.2" ry="6.7" fill="#b40000" stroke="#4a0a0a" stroke-width="1"/>
<ellipse cx="1091.6" cy="761.3" rx="6.2" ry="6.7" fill="#b40000" stroke="#4a0a0a" stroke-width="1"/>
<ellipse cx="442.5" cy="557.5" rx="6.2" ry="6.7" fill="#b40000" stroke="#4a0a0a" stroke-width="1"/>
<ellipse cx="767.0" cy="557.5" rx="6.2" ry="6.7" fill="#b40000" stroke="#4a0a0a" stroke-width="1"/>
<ellipse cx="1091.6" cy="557.5" rx="6.2" ry="6.7" fill="#b40000" stroke="#4a0a0a" stroke-width="1"/>
<ellipse cx="604.8" cy="659.4" rx="6.2" ry="6.7" fill="#b40000" stroke="#4a0a0a" stroke-width="1"/>
<ellipse cx="929.3" cy="659.4" rx="6.2" ry="6.7" fill="#b40000" stroke="#4a0a0a" stroke-width="1"/>
<ellipse cx="442.5" cy="251.7" rx="6.2" ry="6.7" fill="#b40000" stroke="#4a0a0a" stroke-width="1"/>
<ellipse cx="767.0" cy="251.7" rx="6.2" ry="6.7" fill="#b40000" stroke="#4a0a0a" stroke-width="1"/>
<ellipse cx="1091.6" cy="251.7" rx="6.2" ry="6.7" fill="#b40000" stroke="#4a0a0a" stroke-width="1"/>
<ellipse cx="767.0" cy="47.9" rx="6.2" ry="6.7" fill="#b40000" stroke="#4a0a0a" stroke-width="1"/>
<text transform="translate(766.2,67.2) scale(0.8,1)" font-family='"Liberation Sans", sans-serif' font-size="9.5" text-anchor="middle" fill="#000" fill-opacity="0.6">2</text>
<text transform="translate(455.7,260.5) scale(0.8,1)" font-family='"Liberation Sans", sans-serif' font-size="9.5" text-anchor="middle" fill="#000" fill-opacity="0.6">2</text>
<text transform="translate(1076.6,255.3) scale(0.8,1)" font-family='"Liberation Sans", sans-serif' font-size="9.5" text-anchor="middle" fill="#000" fill-opacity="0.6">2</text>
<text transform="translate(752.1,561.0) scale(0.8,1)" font-family='"Liberation Sans", sans-serif' font-size="9.5" text-anchor="middle" fill="#000" fill-opacity="0.6">3</text>
<path d="M1218.4,258.4 L1646.0,60.0 L1997.8,316.5 M1218.4,258.4 L1270.8,540.6 M1646.0,60.0 L1641.5,349.6 M1997.8,316.5 L1944.2,596.4 M1325.3,208.8 L1363.5,492.9 M1432.2,159.2 L1456.2,445.1 M1539.1,109.6 L1548.8,397.4 M1696.3,96.6 L1684.7,384.9 M1746.5,133.3 L1728.0,420.1 M1796.8,169.9 L1771.2,455.4 M1847.0,206.6 L1814.5,490.6 M1897.3,243.2 L1857.7,525.9 M1947.5,279.9 L1901.0,561.1 M1228.6,313.3 L1645.1,116.3 L1987.4,370.9 M1238.8,368.2 L1644.2,172.7 L1976.9,425.4 M1249.0,423.1 L1643.4,229.0 L1966.5,479.8 M1259.2,478.0 L1642.5,285.3 L1956.1,534.3" stroke="#2a2a2a" stroke-width="1.35" fill="none" stroke-linejoin="round"/>
<path d="M1270.8,540.6 L1561.5,824.0 L1944.2,596.4 L1641.5,349.6 Z" fill="#666666" stroke="#2a2a2a" stroke-width="1.35" stroke-linejoin="round"/>
<g clip-path="url(#fl)">
<path d="M1525.3,409.5 L1524.2,413.9 L1522.9,418.3 L1521.6,422.5 L1520.3,426.5 L1519.0,430.3 L1517.3,434.6 L1515.3,439.5 L1513.6,443.5 L1511.9,447.2 L1509.4,452.3 L1507.5,456.1 L1505.2,460.3 L1502.7,464.9 L1500.4,468.7 L1497.6,473.4 L1494.9,477.5 L1492.1,481.8 L1488.7,486.7 L1486.4,489.9 L1482.8,494.7 L1479.1,499.5 L1476.0,503.4 L1472.8,507.2 L1468.9,511.8 L1464.9,516.4 L1460.8,520.9 L1456.7,525.3 L1452.4,529.7 L1448.1,534.0 L1443.7,538.3 L1439.2,542.5 L1434.6,546.7 L1430.0,550.9 L1425.3,555.0 L1420.2,559.3 L1414.1,564.4 L1409.1,568.4 L1404.1,572.3 L1397.4,577.4 L1392.2,581.3 L1385.8,586.0 L1380.0,590.1 L1373.0,594.9 L1367.4,598.7 L1360.0,603.5 L1354.4,607.0 L1346.9,611.8 L1345.0,612.9" fill="none" stroke="#004feb" stroke-width="2.8" stroke-linecap="round"/>
<path d="M1648.2,355.0 L1648.5,359.0 L1648.8,362.6 L1649.0,367.4 L1649.1,371.8 L1649.1,375.6 L1649.0,379.4 L1648.9,383.7 L1648.6,388.2 L1648.2,392.6 L1647.7,396.9 L1647.1,401.2 L1646.5,405.5 L1645.7,409.7 L1644.9,413.8 L1644.0,417.9 L1643.0,421.9 L1642.0,425.9 L1640.8,430.0 L1639.4,434.7 L1637.8,439.5 L1636.4,443.4 L1635.0,447.1 L1633.2,451.9 L1631.3,456.4 L1629.7,460.0 L1627.5,464.9 L1625.5,469.0 L1623.4,473.1 L1621.0,477.8 L1618.9,481.6 L1616.1,486.4 L1613.8,490.4 L1611.1,494.8 L1608.0,499.7 L1605.7,503.1 L1602.4,508.0 L1599.1,512.7 L1596.6,516.1 L1593.0,520.8 L1589.4,525.5 L1585.7,530.2 L1582.5,534.1 L1579.2,537.9 L1575.3,542.5 L1571.3,547.0 L1567.2,551.4 L1563.1,555.9 L1558.8,560.2 L1554.5,564.6 L1550.2,568.9 L1545.7,573.2 L1540.6,578.0 L1535.1,583.0 L1530.4,587.1 L1525.7,591.2 L1520.9,595.3 L1514.5,600.7 L1509.5,604.7 L1504.5,608.7 L1497.8,613.9 L1492.7,617.8 L1485.8,622.9 L1480.5,626.7 L1473.4,631.8 L1468.0,635.5 L1460.8,640.4 L1454.1,644.9 L1447.8,648.9 L1440.3,653.7 L1432.7,658.5 L1425.9,662.6 L1419.1,666.6 L1411.2,671.2 L1407.2,673.5" fill="none" stroke="#00ebd4" stroke-width="2.8" stroke-linecap="round"/>
<path d="M1745.9,434.7 L1744.8,438.6 L1743.7,442.5 L1742.3,447.2 L1740.7,452.1 L1739.4,455.8 L1738.0,459.7 L1736.0,464.9 L1734.5,468.8 L1732.8,472.8 L1730.6,477.8 L1728.9,481.4 L1726.4,486.6 L1724.6,490.2 L1722.0,495.3 L1720.1,498.8 L1717.2,503.9 L1715.2,507.3 L1712.2,512.4 L1709.5,516.8 L1707.0,520.7 L1703.8,525.6 L1700.7,530.1 L1698.2,533.7 L1694.8,538.5 L1691.3,543.2 L1687.7,548.0 L1684.6,551.8 L1681.5,555.7 L1677.7,560.4 L1673.8,564.9 L1669.9,569.5 L1665.9,574.0 L1661.8,578.5 L1657.7,582.9 L1653.5,587.3 L1649.3,591.7 L1644.9,596.0 L1640.5,600.4 L1635.0,605.7 L1630.1,610.3 L1625.5,614.5 L1620.8,618.6 L1615.7,623.1 L1609.8,628.3 L1604.9,632.3 L1599.8,636.5 L1593.4,641.7 L1588.4,645.7 L1581.6,651.0 L1576.4,654.9 L1569.5,660.1 L1564.2,663.9 L1557.1,669.0 L1551.7,672.8 L1544.4,677.8 L1537.1,682.8 L1531.5,686.4 L1524.0,691.3 L1516.4,696.2 L1508.7,700.9 L1500.9,705.7 L1493.0,710.4 L1487.1,713.9 L1479.0,718.5 L1471.0,723.1 L1462.8,727.6" fill="none" stroke="#00eb23" stroke-width="2.8" stroke-linecap="round"/>
<path d="M1821.1,496.0 L1819.2,500.1 L1816.9,504.8 L1814.8,508.9 L1812.5,513.5 L1810.0,518.1 L1807.8,522.0 L1804.9,527.1 L1802.7,530.8 L1799.9,535.4 L1796.8,540.3 L1794.2,544.3 L1791.4,548.5 L1788.1,553.4 L1784.7,558.2 L1781.7,562.3 L1778.9,566.1 L1775.3,570.8 L1771.7,575.5 L1768.0,580.2 L1764.2,584.8 L1760.4,589.4 L1756.5,594.0 L1752.5,598.5 L1748.5,603.0 L1744.4,607.4 L1740.2,611.9 L1736.0,616.3 L1731.7,620.7 L1727.4,625.0 L1722.8,629.5 L1717.1,635.1 L1712.6,639.3 L1708.0,643.6 L1703.4,647.8 L1697.1,653.3 L1692.3,657.5 L1687.5,661.6 L1681.0,667.0 L1676.1,671.1 L1669.8,676.2 L1664.4,680.5 L1658.6,685.0 L1652.4,689.7 L1645.4,694.9 L1640.1,698.8 L1633.0,704.0 L1627.6,707.8 L1620.3,712.9 L1612.9,717.9 L1606.9,721.9 L1599.8,726.6 L1592.2,731.5 L1584.5,736.4 L1576.8,741.2 L1568.9,746.0 L1561.0,750.8 L1553.0,755.5 L1544.9,760.2 L1536.7,764.8 L1528.5,769.4 L1520.2,774.0 L1513.9,777.4" fill="none" stroke="#8feb00" stroke-width="2.8" stroke-linecap="round"/>
<path d="M1882.9,546.4 L1879.9,551.4 L1876.8,556.4 L1874.5,560.1 L1871.6,564.6 L1868.3,569.5 L1865.0,574.3 L1862.1,578.5 L1859.3,582.4 L1855.9,587.0 L1852.3,591.8 L1848.7,596.5 L1845.1,601.1 L1841.3,605.8 L1837.5,610.4 L1833.7,615.0 L1829.7,619.5 L1825.8,624.1 L1821.7,628.6 L1817.6,633.0 L1813.5,637.5 L1809.3,641.9 L1805.0,646.3 L1799.6,651.7 L1794.8,656.5 L1790.4,660.8 L1785.9,665.1 L1780.7,669.9 L1775.2,675.0 L1770.5,679.2 L1765.6,683.5 L1759.4,688.9 L1754.5,693.1 L1748.0,698.5 L1743.0,702.6 L1736.6,707.8 L1731.2,712.0 L1724.4,717.4 L1719.2,721.4 L1712.2,726.6 L1706.9,730.5 L1699.7,735.7 L1692.5,740.9 L1687.0,744.8 L1679.7,749.8 L1672.2,754.9 L1664.7,759.9 L1659.0,763.7 L1651.3,768.6 L1643.5,773.5 L1635.7,778.4 L1627.8,783.3 L1619.8,788.1 L1611.7,792.8 L1603.6,797.6 L1595.3,802.3 L1587.0,806.9 L1578.7,811.6 L1570.2,816.1 L1563.8,819.6 L1559.6,821.8" fill="none" stroke="#eb9d00" stroke-width="2.8" stroke-linecap="round"/>
</g>
<ellipse cx="1218.4" cy="258.4" rx="3.7" ry="3.3" fill="#000"/>
<ellipse cx="1228.6" cy="313.3" rx="3.7" ry="3.3" fill="#000"/>
<ellipse cx="1238.8" cy="368.2" rx="3.7" ry="3.3" fill="#000"/>
<ellipse cx="1249.0" cy="423.1" rx="3.7" ry="3.3" fill="#000"/>
<ellipse cx="1259.2" cy="478.0" rx="3.7" ry="3.3" fill="#000"/>
<ellipse cx="1561.5" cy="824.0" rx="3.7" ry="3.3" fill="#000"/>
<ellipse cx="1520.0" cy="783.5" rx="3.7" ry="3.3" fill="#000"/>
<ellipse cx="1478.4" cy="743.0" rx="3.7" ry="3.3" fill="#000"/>
<ellipse cx="1436.9" cy="702.5" rx="3.7" ry="3.3" fill="#000"/>
<ellipse cx="1395.4" cy="662.1" rx="3.7" ry="3.3" fill="#000"/>
<ellipse cx="1353.9" cy="621.6" rx="3.7" ry="3.3" fill="#000"/>
<ellipse cx="1312.3" cy="581.1" rx="3.7" ry="3.3" fill="#000"/>
<ellipse cx="1270.8" cy="540.6" rx="3.7" ry="3.3" fill="#000"/>
<ellipse cx="1657.2" cy="767.1" rx="3.7" ry="3.3" fill="#000"/>
<ellipse cx="1752.8" cy="710.2" rx="3.7" ry="3.3" fill="#000"/>
<ellipse cx="1848.5" cy="653.3" rx="3.7" ry="3.3" fill="#000"/>
<ellipse cx="1944.2" cy="596.4" rx="3.7" ry="3.3" fill="#000"/>
<ellipse cx="1452.2" cy="340.5" rx="7.3" ry="6.6" fill="#ffc8c8" stroke="#b08080" stroke-width="0.8"/>
<ellipse cx="1459" cy="570" rx="7.3" ry="6.6" fill="#ffc8c8" stroke="#b08080" stroke-width="0.8"/>
<ellipse cx="1996" cy="333.3" rx="7.3" ry="6.6" fill="#ffc8c8" stroke="#b08080" stroke-width="0.8"/>
<ellipse cx="1882.5" cy="304" rx="7.3" ry="6.6" fill="#ffc8c8" stroke="#b08080" stroke-width="0.8"/>
<g stroke-width="0.7" stroke-linejoin="round">
<path d="M1641.9,218.0 L1651.2,210.8 L1643.7,206.8 L1634.4,214.0Z" fill="#66fff8" stroke="#66fff8"/>
<path d="M1649.4,221.9 L1658.8,214.7 L1651.2,210.8 L1641.9,218.0Z" fill="#66fff2" stroke="#66fff2"/>
<path d="M1657.0,225.8 L1666.4,218.6 L1658.8,214.7 L1649.4,221.9Z" fill="#66ffeb" stroke="#66ffeb"/>
<path d="M1664.6,229.7 L1674.0,222.5 L1666.4,218.6 L1657.0,225.8Z" fill="#66ffe3" stroke="#66ffe3"/>
<path d="M1672.3,233.4 L1681.8,226.2 L1674.0,222.5 L1664.6,229.7Z" fill="#66ffdc" stroke="#66ffdc"/>
<path d="M1680.0,237.2 L1689.5,230.0 L1681.8,226.2 L1672.3,233.4Z" fill="#66ffd4" stroke="#66ffd4"/>
<path d="M1687.8,240.9 L1697.3,233.7 L1689.5,230.0 L1680.0,237.2Z" fill="#66ffcc" stroke="#66ffcc"/>
<path d="M1695.7,244.5 L1705.2,237.3 L1697.3,233.7 L1687.8,240.9Z" fill="#66ffc3" stroke="#66ffc3"/>
<path d="M1703.5,248.1 L1713.1,240.9 L1705.2,237.3 L1695.7,244.5Z" fill="#66ffbb" stroke="#66ffbb"/>
<path d="M1711.5,251.7 L1721.1,244.4 L1713.1,240.9 L1703.5,248.1Z" fill="#66ffb2" stroke="#66ffb2"/>
<path d="M1719.5,255.2 L1729.1,247.9 L1721.1,244.4 L1711.5,251.7Z" fill="#66ffa9" stroke="#66ffa9"/>
<path d="M1727.6,258.6 L1737.2,251.4 L1729.1,247.9 L1719.5,255.2Z" fill="#66ff9f" stroke="#66ff9f"/>
<path d="M1735.7,262.0 L1745.4,254.8 L1737.2,251.4 L1727.6,258.6Z" fill="#66ff96" stroke="#66ff96"/>
<path d="M1743.9,265.4 L1753.6,258.1 L1745.4,254.8 L1735.7,262.0Z" fill="#66ff8c" stroke="#66ff8c"/>
<path d="M1752.1,268.7 L1761.9,261.4 L1753.6,258.1 L1743.9,265.4Z" fill="#66ff81" stroke="#66ff81"/>
<path d="M1760.5,271.9 L1770.2,264.6 L1761.9,261.4 L1752.1,268.7Z" fill="#66ff77" stroke="#66ff77"/>
<path d="M1768.9,275.1 L1778.6,267.8 L1770.2,264.6 L1760.5,271.9Z" fill="#66ff6c" stroke="#66ff6c"/>
<path d="M1777.3,278.3 L1787.1,271.0 L1778.6,267.8 L1768.9,275.1Z" fill="#6bff66" stroke="#6bff66"/>
<path d="M1785.8,281.4 L1795.7,274.1 L1787.1,271.0 L1777.3,278.3Z" fill="#76ff66" stroke="#76ff66"/>
<path d="M1794.4,284.5 L1804.3,277.1 L1795.7,274.1 L1785.8,281.4Z" fill="#82ff66" stroke="#82ff66"/>
<path d="M1803.1,287.5 L1813.0,280.1 L1804.3,277.1 L1794.4,284.5Z" fill="#8dff66" stroke="#8dff66"/>
<path d="M1811.8,290.4 L1821.8,283.1 L1813.0,280.1 L1803.1,287.5Z" fill="#9aff66" stroke="#9aff66"/>
<path d="M1820.7,293.3 L1830.6,285.9 L1821.8,283.1 L1811.8,290.4Z" fill="#a6ff66" stroke="#a6ff66"/>
<path d="M1829.6,296.2 L1839.6,288.8 L1830.6,285.9 L1820.7,293.3Z" fill="#b2ff66" stroke="#b2ff66"/>
<path d="M1838.6,299.0 L1848.6,291.6 L1839.6,288.8 L1829.6,296.2Z" fill="#bfff66" stroke="#bfff66"/>
<path d="M1847.6,301.7 L1857.7,294.3 L1848.6,291.6 L1838.6,299.0Z" fill="#ccff66" stroke="#ccff66"/>
<path d="M1856.8,304.4 L1866.9,297.0 L1857.7,294.3 L1847.6,301.7Z" fill="#daff66" stroke="#daff66"/>
<path d="M1866.0,307.0 L1876.1,299.6 L1866.9,297.0 L1856.8,304.4Z" fill="#e7ff66" stroke="#e7ff66"/>
<path d="M1875.3,309.6 L1885.5,302.2 L1876.1,299.6 L1866.0,307.0Z" fill="#f5ff66" stroke="#f5ff66"/>
<path d="M1884.8,312.2 L1895.0,304.7 L1885.5,302.2 L1875.3,309.6Z" fill="#fffb66" stroke="#fffb66"/>
<path d="M1894.3,314.6 L1904.5,307.1 L1895.0,304.7 L1884.8,312.2Z" fill="#ffec66" stroke="#ffec66"/>
<path d="M1903.9,317.1 L1914.2,309.6 L1904.5,307.1 L1894.3,314.6Z" fill="#ffdd66" stroke="#ffdd66"/>
<path d="M1913.6,319.4 L1923.9,311.9 L1914.2,309.6 L1903.9,317.1Z" fill="#ffce66" stroke="#ffce66"/>
<path d="M1923.4,321.7 L1933.8,314.2 L1923.9,311.9 L1913.6,319.4Z" fill="#ffbf66" stroke="#ffbf66"/>
<path d="M1933.3,324.0 L1943.7,316.4 L1933.8,314.2 L1923.4,321.7Z" fill="#ffb066" stroke="#ffb066"/>
<path d="M1943.3,326.2 L1953.8,318.6 L1943.7,316.4 L1933.3,324.0Z" fill="#ffa066" stroke="#ffa066"/>
<path d="M1953.5,328.3 L1963.9,320.8 L1953.8,318.6 L1943.3,326.2Z" fill="#ff9066" stroke="#ff9066"/>
<path d="M1963.7,330.4 L1974.2,322.8 L1963.9,320.8 L1953.5,328.3Z" fill="#ff8066" stroke="#ff8066"/>
<path d="M1974.1,332.4 L1984.6,324.8 L1974.2,322.8 L1963.7,330.4Z" fill="#ff6f66" stroke="#ff6f66"/>
<path d="M1984.5,334.4 L1995.1,326.8 L1984.6,324.8 L1974.1,332.4Z" fill="#ff6666" stroke="#ff6666"/>
<path d="M1632.5,225.1 L1641.9,218.0 L1634.4,214.0 L1625.0,221.1Z" fill="#66fcff" stroke="#66fcff"/>
<path d="M1640.0,229.1 L1649.4,221.9 L1641.9,218.0 L1632.5,225.1Z" fill="#66fffb" stroke="#66fffb"/>
<path d="M1647.6,233.0 L1657.0,225.8 L1649.4,221.9 L1640.0,229.1Z" fill="#66fff4" stroke="#66fff4"/>
<path d="M1655.2,236.8 L1664.6,229.7 L1657.0,225.8 L1647.6,233.0Z" fill="#66ffec" stroke="#66ffec"/>
<path d="M1662.8,240.6 L1672.3,233.4 L1664.6,229.7 L1655.2,236.8Z" fill="#66ffe5" stroke="#66ffe5"/>
<path d="M1670.5,244.3 L1680.0,237.2 L1672.3,233.4 L1662.8,240.6Z" fill="#66ffdd" stroke="#66ffdd"/>
<path d="M1678.3,248.0 L1687.8,240.9 L1680.0,237.2 L1670.5,244.3Z" fill="#66ffd5" stroke="#66ffd5"/>
<path d="M1686.1,251.7 L1695.7,244.5 L1687.8,240.9 L1678.3,248.0Z" fill="#66ffcc" stroke="#66ffcc"/>
<path d="M1694.0,255.3 L1703.5,248.1 L1695.7,244.5 L1686.1,251.7Z" fill="#66ffc4" stroke="#66ffc4"/>
<path d="M1701.9,258.9 L1711.5,251.7 L1703.5,248.1 L1694.0,255.3Z" fill="#66ffbb" stroke="#66ffbb"/>
<path d="M1709.9,262.4 L1719.5,255.2 L1711.5,251.7 L1701.9,258.9Z" fill="#66ffb1" stroke="#66ffb1"/>
<path d="M1717.9,265.8 L1727.6,258.6 L1719.5,255.2 L1709.9,262.4Z" fill="#66ffa8" stroke="#66ffa8"/>
<path d="M1726.0,269.2 L1735.7,262.0 L1727.6,258.6 L1717.9,265.8Z" fill="#66ff9e" stroke="#66ff9e"/>
<path d="M1734.2,272.6 L1743.9,265.4 L1735.7,262.0 L1726.0,269.2Z" fill="#66ff94" stroke="#66ff94"/>
<path d="M1742.4,275.9 L1752.1,268.7 L1743.9,265.4 L1734.2,272.6Z" fill="#66ff8a" stroke="#66ff8a"/>
<path d="M1750.7,279.2 L1760.5,271.9 L1752.1,268.7 L1742.4,275.9Z" fill="#66ff7f" stroke="#66ff7f"/>
<path d="M1759.1,282.4 L1768.9,275.1 L1760.5,271.9 L1750.7,279.2Z" fill="#66ff74" stroke="#66ff74"/>
<path d="M1767.5,285.6 L1777.3,278.3 L1768.9,275.1 L1759.1,282.4Z" fill="#66ff69" stroke="#66ff69"/>
<path d="M1776.0,288.7 L1785.8,281.4 L1777.3,278.3 L1767.5,285.6Z" fill="#6eff66" stroke="#6eff66"/>
<path d="M1784.5,291.7 L1794.4,284.5 L1785.8,281.4 L1776.0,288.7Z" fill="#7aff66" stroke="#7aff66"/>
<path d="M1793.2,294.8 L1803.1,287.5 L1794.4,284.5 L1784.5,291.7Z" fill="#85ff66" stroke="#85ff66"/>
<path d="M1801.9,297.7 L1811.8,290.4 L1803.1,287.5 L1793.2,294.8Z" fill="#92ff66" stroke="#92ff66"/>
<path d="M1810.7,300.6 L1820.7,293.3 L1811.8,290.4 L1801.9,297.7Z" fill="#9eff66" stroke="#9eff66"/>
<path d="M1819.6,303.5 L1829.6,296.2 L1820.7,293.3 L1810.7,300.6Z" fill="#abff66" stroke="#abff66"/>
<path d="M1828.5,306.3 L1838.6,299.0 L1829.6,296.2 L1819.6,303.5Z" fill="#b7ff66" stroke="#b7ff66"/>
<path d="M1837.5,309.1 L1847.6,301.7 L1838.6,299.0 L1828.5,306.3Z" fill="#c5ff66" stroke="#c5ff66"/>
<path d="M1846.7,311.8 L1856.8,304.4 L1847.6,301.7 L1837.5,309.1Z" fill="#d2ff66" stroke="#d2ff66"/>
<path d="M1855.9,314.4 L1866.0,307.0 L1856.8,304.4 L1846.7,311.8Z" fill="#e0ff66" stroke="#e0ff66"/>
<path d="M1865.2,317.0 L1875.3,309.6 L1866.0,307.0 L1855.9,314.4Z" fill="#eeff66" stroke="#eeff66"/>
<path d="M1874.6,319.6 L1884.8,312.2 L1875.3,309.6 L1865.2,317.0Z" fill="#fcff66" stroke="#fcff66"/>
<path d="M1884.0,322.1 L1894.3,314.6 L1884.8,312.2 L1874.6,319.6Z" fill="#fff466" stroke="#fff466"/>
<path d="M1893.6,324.5 L1903.9,317.1 L1894.3,314.6 L1884.0,322.1Z" fill="#ffe566" stroke="#ffe566"/>
<path d="M1903.3,326.9 L1913.6,319.4 L1903.9,317.1 L1893.6,324.5Z" fill="#ffd666" stroke="#ffd666"/>
<path d="M1913.1,329.2 L1923.4,321.7 L1913.6,319.4 L1903.3,326.9Z" fill="#ffc666" stroke="#ffc666"/>
<path d="M1922.9,331.5 L1933.3,324.0 L1923.4,321.7 L1913.1,329.2Z" fill="#ffb766" stroke="#ffb766"/>
<path d="M1932.9,333.7 L1943.3,326.2 L1933.3,324.0 L1922.9,331.5Z" fill="#ffa766" stroke="#ffa766"/>
<path d="M1943.0,335.9 L1953.5,328.3 L1943.3,326.2 L1932.9,333.7Z" fill="#ff9766" stroke="#ff9766"/>
<path d="M1953.2,338.0 L1963.7,330.4 L1953.5,328.3 L1943.0,335.9Z" fill="#ff8766" stroke="#ff8766"/>
<path d="M1963.5,340.0 L1974.1,332.4 L1963.7,330.4 L1953.2,338.0Z" fill="#ff7666" stroke="#ff7666"/>
<path d="M1974.0,342.0 L1984.5,334.4 L1974.1,332.4 L1963.5,340.0Z" fill="#ff6666" stroke="#ff6666"/>
<path d="M1623.1,232.2 L1632.5,225.1 L1625.0,221.1 L1615.7,228.2Z" fill="#66f3ff" stroke="#66f3ff"/>
<path d="M1630.6,236.2 L1640.0,229.1 L1632.5,225.1 L1623.1,232.2Z" fill="#66faff" stroke="#66faff"/>
<path d="M1638.1,240.1 L1647.6,233.0 L1640.0,229.1 L1630.6,236.2Z" fill="#66fffd" stroke="#66fffd"/>
<path d="M1645.7,243.9 L1655.2,236.8 L1647.6,233.0 L1638.1,240.1Z" fill="#66fff6" stroke="#66fff6"/>
<path d="M1653.4,247.7 L1662.8,240.6 L1655.2,236.8 L1645.7,243.9Z" fill="#66ffee" stroke="#66ffee"/>
<path d="M1661.0,251.5 L1670.5,244.3 L1662.8,240.6 L1653.4,247.7Z" fill="#66ffe6" stroke="#66ffe6"/>
<path d="M1668.8,255.2 L1678.3,248.0 L1670.5,244.3 L1661.0,251.5Z" fill="#66ffde" stroke="#66ffde"/>
<path d="M1676.6,258.8 L1686.1,251.7 L1678.3,248.0 L1668.8,255.2Z" fill="#66ffd5" stroke="#66ffd5"/>
<path d="M1684.4,262.4 L1694.0,255.3 L1686.1,251.7 L1676.6,258.8Z" fill="#66ffcc" stroke="#66ffcc"/>
<path d="M1692.3,266.0 L1701.9,258.9 L1694.0,255.3 L1684.4,262.4Z" fill="#66ffc3" stroke="#66ffc3"/>
<path d="M1700.2,269.5 L1709.9,262.4 L1701.9,258.9 L1692.3,266.0Z" fill="#66ffba" stroke="#66ffba"/>
<path d="M1708.3,273.0 L1717.9,265.8 L1709.9,262.4 L1700.2,269.5Z" fill="#66ffb0" stroke="#66ffb0"/>
<path d="M1716.3,276.4 L1726.0,269.2 L1717.9,265.8 L1708.3,273.0Z" fill="#66ffa7" stroke="#66ffa7"/>
<path d="M1724.5,279.8 L1734.2,272.6 L1726.0,269.2 L1716.3,276.4Z" fill="#66ff9d" stroke="#66ff9d"/>
<path d="M1732.7,283.1 L1742.4,275.9 L1734.2,272.6 L1724.5,279.8Z" fill="#66ff92" stroke="#66ff92"/>
<path d="M1740.9,286.4 L1750.7,279.2 L1742.4,275.9 L1732.7,283.1Z" fill="#66ff88" stroke="#66ff88"/>
<path d="M1749.3,289.6 L1759.1,282.4 L1750.7,279.2 L1740.9,286.4Z" fill="#66ff7d" stroke="#66ff7d"/>
<path d="M1757.6,292.8 L1767.5,285.6 L1759.1,282.4 L1749.3,289.6Z" fill="#66ff72" stroke="#66ff72"/>
<path d="M1766.1,295.9 L1776.0,288.7 L1767.5,285.6 L1757.6,292.8Z" fill="#66ff66" stroke="#66ff66"/>
<path d="M1774.6,299.0 L1784.5,291.7 L1776.0,288.7 L1766.1,295.9Z" fill="#72ff66" stroke="#72ff66"/>
<path d="M1783.3,302.0 L1793.2,294.8 L1784.5,291.7 L1774.6,299.0Z" fill="#7dff66" stroke="#7dff66"/>
<path d="M1791.9,305.0 L1801.9,297.7 L1793.2,294.8 L1783.3,302.0Z" fill="#8aff66" stroke="#8aff66"/>
<path d="M1800.7,307.9 L1810.7,300.6 L1801.9,297.7 L1791.9,305.0Z" fill="#96ff66" stroke="#96ff66"/>
<path d="M1809.5,310.8 L1819.6,303.5 L1810.7,300.6 L1800.7,307.9Z" fill="#a3ff66" stroke="#a3ff66"/>
<path d="M1818.5,313.6 L1828.5,306.3 L1819.6,303.5 L1809.5,310.8Z" fill="#b0ff66" stroke="#b0ff66"/>
<path d="M1827.5,316.4 L1837.5,309.1 L1828.5,306.3 L1818.5,313.6Z" fill="#bdff66" stroke="#bdff66"/>
<path d="M1836.5,319.1 L1846.7,311.8 L1837.5,309.1 L1827.5,316.4Z" fill="#cbff66" stroke="#cbff66"/>
<path d="M1845.7,321.8 L1855.9,314.4 L1846.7,311.8 L1836.5,319.1Z" fill="#d8ff66" stroke="#d8ff66"/>
<path d="M1855.0,324.4 L1865.2,317.0 L1855.9,314.4 L1845.7,321.8Z" fill="#e6ff66" stroke="#e6ff66"/>
<path d="M1864.3,327.0 L1874.6,319.6 L1865.2,317.0 L1855.0,324.4Z" fill="#f5ff66" stroke="#f5ff66"/>
<path d="M1873.8,329.5 L1884.0,322.1 L1874.6,319.6 L1864.3,327.0Z" fill="#fffb66" stroke="#fffb66"/>
<path d="M1883.3,331.9 L1893.6,324.5 L1884.0,322.1 L1873.8,329.5Z" fill="#ffec66" stroke="#ffec66"/>
<path d="M1893.0,334.3 L1903.3,326.9 L1893.6,324.5 L1883.3,331.9Z" fill="#ffdd66" stroke="#ffdd66"/>
<path d="M1902.7,336.7 L1913.1,329.2 L1903.3,326.9 L1893.0,334.3Z" fill="#ffcd66" stroke="#ffcd66"/>
<path d="M1912.5,339.0 L1922.9,331.5 L1913.1,329.2 L1902.7,336.7Z" fill="#ffbe66" stroke="#ffbe66"/>
<path d="M1922.5,341.2 L1932.9,333.7 L1922.9,331.5 L1912.5,339.0Z" fill="#ffae66" stroke="#ffae66"/>
<path d="M1932.5,343.4 L1943.0,335.9 L1932.9,333.7 L1922.5,341.2Z" fill="#ff9e66" stroke="#ff9e66"/>
<path d="M1942.7,345.5 L1953.2,338.0 L1943.0,335.9 L1932.5,343.4Z" fill="#ff8d66" stroke="#ff8d66"/>
<path d="M1953.0,347.6 L1963.5,340.0 L1953.2,338.0 L1942.7,345.5Z" fill="#ff7d66" stroke="#ff7d66"/>
<path d="M1963.4,349.6 L1974.0,342.0 L1963.5,340.0 L1953.0,347.6Z" fill="#ff6c66" stroke="#ff6c66"/>
<path d="M1613.7,239.2 L1623.1,232.2 L1615.7,228.2 L1606.3,235.3Z" fill="#66eaff" stroke="#66eaff"/>
<path d="M1621.2,243.2 L1630.6,236.2 L1623.1,232.2 L1613.7,239.2Z" fill="#66f1ff" stroke="#66f1ff"/>
<path d="M1628.7,247.1 L1638.1,240.1 L1630.6,236.2 L1621.2,243.2Z" fill="#66f8ff" stroke="#66f8ff"/>
<path d="M1636.3,251.0 L1645.7,243.9 L1638.1,240.1 L1628.7,247.1Z" fill="#66fffe" stroke="#66fffe"/>
<path d="M1643.9,254.8 L1653.4,247.7 L1645.7,243.9 L1636.3,251.0Z" fill="#66fff7" stroke="#66fff7"/>
<path d="M1651.5,258.5 L1661.0,251.5 L1653.4,247.7 L1643.9,254.8Z" fill="#66ffef" stroke="#66ffef"/>
<path d="M1659.2,262.2 L1668.8,255.2 L1661.0,251.5 L1651.5,258.5Z" fill="#66ffe6" stroke="#66ffe6"/>
<path d="M1667.0,265.9 L1676.6,258.8 L1668.8,255.2 L1659.2,262.2Z" fill="#66ffde" stroke="#66ffde"/>
<path d="M1674.8,269.5 L1684.4,262.4 L1676.6,258.8 L1667.0,265.9Z" fill="#66ffd5" stroke="#66ffd5"/>
<path d="M1682.7,273.1 L1692.3,266.0 L1684.4,262.4 L1674.8,269.5Z" fill="#66ffcc" stroke="#66ffcc"/>
<path d="M1690.6,276.6 L1700.2,269.5 L1692.3,266.0 L1682.7,273.1Z" fill="#66ffc2" stroke="#66ffc2"/>
<path d="M1698.6,280.1 L1708.3,273.0 L1700.2,269.5 L1690.6,276.6Z" fill="#66ffb9" stroke="#66ffb9"/>
<path d="M1706.6,283.5 L1716.3,276.4 L1708.3,273.0 L1698.6,280.1Z" fill="#66ffaf" stroke="#66ffaf"/>
<path d="M1714.7,286.9 L1724.5,279.8 L1716.3,276.4 L1706.6,283.5Z" fill="#66ffa5" stroke="#66ffa5"/>
<path d="M1722.9,290.3 L1732.7,283.1 L1724.5,279.8 L1714.7,286.9Z" fill="#66ff9a" stroke="#66ff9a"/>
<path d="M1731.1,293.5 L1740.9,286.4 L1732.7,283.1 L1722.9,290.3Z" fill="#66ff90" stroke="#66ff90"/>
<path d="M1739.4,296.8 L1749.3,289.6 L1740.9,286.4 L1731.1,293.5Z" fill="#66ff85" stroke="#66ff85"/>
<path d="M1747.8,300.0 L1757.6,292.8 L1749.3,289.6 L1739.4,296.8Z" fill="#66ff79" stroke="#66ff79"/>
<path d="M1756.2,303.1 L1766.1,295.9 L1757.6,292.8 L1747.8,300.0Z" fill="#66ff6e" stroke="#66ff6e"/>
<path d="M1764.7,306.2 L1774.6,299.0 L1766.1,295.9 L1756.2,303.1Z" fill="#6aff66" stroke="#6aff66"/>
<path d="M1773.3,309.2 L1783.3,302.0 L1774.6,299.0 L1764.7,306.2Z" fill="#76ff66" stroke="#76ff66"/>
<path d="M1782.0,312.2 L1791.9,305.0 L1783.3,302.0 L1773.3,309.2Z" fill="#82ff66" stroke="#82ff66"/>
<path d="M1790.7,315.1 L1800.7,307.9 L1791.9,305.0 L1782.0,312.2Z" fill="#8fff66" stroke="#8fff66"/>
<path d="M1799.5,318.0 L1809.5,310.8 L1800.7,307.9 L1790.7,315.1Z" fill="#9bff66" stroke="#9bff66"/>
<path d="M1808.4,320.9 L1818.5,313.6 L1809.5,310.8 L1799.5,318.0Z" fill="#a8ff66" stroke="#a8ff66"/>
<path d="M1817.4,323.7 L1827.5,316.4 L1818.5,313.6 L1808.4,320.9Z" fill="#b6ff66" stroke="#b6ff66"/>
<path d="M1826.4,326.4 L1836.5,319.1 L1827.5,316.4 L1817.4,323.7Z" fill="#c3ff66" stroke="#c3ff66"/>
<path d="M1835.6,329.1 L1845.7,321.8 L1836.5,319.1 L1826.4,326.4Z" fill="#d1ff66" stroke="#d1ff66"/>
<path d="M1844.8,331.7 L1855.0,324.4 L1845.7,321.8 L1835.6,329.1Z" fill="#dfff66" stroke="#dfff66"/>
<path d="M1854.1,334.3 L1864.3,327.0 L1855.0,324.4 L1844.8,331.7Z" fill="#eeff66" stroke="#eeff66"/>
<path d="M1863.5,336.8 L1873.8,329.5 L1864.3,327.0 L1854.1,334.3Z" fill="#fcff66" stroke="#fcff66"/>
<path d="M1873.0,339.3 L1883.3,331.9 L1873.8,329.5 L1863.5,336.8Z" fill="#fff366" stroke="#fff366"/>
<path d="M1882.6,341.7 L1893.0,334.3 L1883.3,331.9 L1873.0,339.3Z" fill="#ffe466" stroke="#ffe466"/>
<path d="M1892.3,344.1 L1902.7,336.7 L1893.0,334.3 L1882.6,341.7Z" fill="#ffd466" stroke="#ffd466"/>
<path d="M1902.1,346.4 L1912.5,339.0 L1902.7,336.7 L1892.3,344.1Z" fill="#ffc566" stroke="#ffc566"/>
<path d="M1912.0,348.6 L1922.5,341.2 L1912.5,339.0 L1902.1,346.4Z" fill="#ffb566" stroke="#ffb566"/>
<path d="M1922.1,350.8 L1932.5,343.4 L1922.5,341.2 L1912.0,348.6Z" fill="#ffa466" stroke="#ffa466"/>
<path d="M1932.2,353.0 L1942.7,345.5 L1932.5,343.4 L1922.1,350.8Z" fill="#ff9466" stroke="#ff9466"/>
<path d="M1942.4,355.0 L1953.0,347.6 L1942.7,345.5 L1932.2,353.0Z" fill="#ff8366" stroke="#ff8366"/>
<path d="M1952.8,357.1 L1963.4,349.6 L1953.0,347.6 L1942.4,355.0Z" fill="#ff7266" stroke="#ff7266"/>
<path d="M1604.3,246.2 L1613.7,239.2 L1606.3,235.3 L1596.9,242.2Z" fill="#66e1ff" stroke="#66e1ff"/>
<path d="M1611.8,250.2 L1621.2,243.2 L1613.7,239.2 L1604.3,246.2Z" fill="#66e8ff" stroke="#66e8ff"/>
<path d="M1619.3,254.1 L1628.7,247.1 L1621.2,243.2 L1611.8,250.2Z" fill="#66efff" stroke="#66efff"/>
<path d="M1626.8,258.0 L1636.3,251.0 L1628.7,247.1 L1619.3,254.1Z" fill="#66f7ff" stroke="#66f7ff"/>
<path d="M1634.4,261.8 L1643.9,254.8 L1636.3,251.0 L1626.8,258.0Z" fill="#66ffff" stroke="#66ffff"/>
<path d="M1642.0,265.6 L1651.5,258.5 L1643.9,254.8 L1634.4,261.8Z" fill="#66fff7" stroke="#66fff7"/>
<path d="M1649.7,269.3 L1659.2,262.2 L1651.5,258.5 L1642.0,265.6Z" fill="#66ffef" stroke="#66ffef"/>
<path d="M1657.4,273.0 L1667.0,265.9 L1659.2,262.2 L1649.7,269.3Z" fill="#66ffe6" stroke="#66ffe6"/>
<path d="M1665.2,276.6 L1674.8,269.5 L1667.0,265.9 L1657.4,273.0Z" fill="#66ffdd" stroke="#66ffdd"/>
<path d="M1673.0,280.2 L1682.7,273.1 L1674.8,269.5 L1665.2,276.6Z" fill="#66ffd4" stroke="#66ffd4"/>
<path d="M1680.9,283.7 L1690.6,276.6 L1682.7,273.1 L1673.0,280.2Z" fill="#66ffcb" stroke="#66ffcb"/>
<path d="M1688.9,287.2 L1698.6,280.1 L1690.6,276.6 L1680.9,283.7Z" fill="#66ffc1" stroke="#66ffc1"/>
<path d="M1696.9,290.6 L1706.6,283.5 L1698.6,280.1 L1688.9,287.2Z" fill="#66ffb7" stroke="#66ffb7"/>
<path d="M1705.0,294.0 L1714.7,286.9 L1706.6,283.5 L1696.9,290.6Z" fill="#66ffad" stroke="#66ffad"/>
<path d="M1713.1,297.4 L1722.9,290.3 L1714.7,286.9 L1705.0,294.0Z" fill="#66ffa2" stroke="#66ffa2"/>
<path d="M1721.3,300.6 L1731.1,293.5 L1722.9,290.3 L1713.1,297.4Z" fill="#66ff97" stroke="#66ff97"/>
<path d="M1729.6,303.9 L1739.4,296.8 L1731.1,293.5 L1721.3,300.6Z" fill="#66ff8c" stroke="#66ff8c"/>
<path d="M1737.9,307.1 L1747.8,300.0 L1739.4,296.8 L1729.6,303.9Z" fill="#66ff81" stroke="#66ff81"/>
<path d="M1746.3,310.2 L1756.2,303.1 L1747.8,300.0 L1737.9,307.1Z" fill="#66ff76" stroke="#66ff76"/>
<path d="M1754.8,313.3 L1764.7,306.2 L1756.2,303.1 L1746.3,310.2Z" fill="#66ff6a" stroke="#66ff6a"/>
<path d="M1763.4,316.4 L1773.3,309.2 L1764.7,306.2 L1754.8,313.3Z" fill="#6eff66" stroke="#6eff66"/>
<path d="M1772.0,319.4 L1782.0,312.2 L1773.3,309.2 L1763.4,316.4Z" fill="#7bff66" stroke="#7bff66"/>
<path d="M1780.7,322.3 L1790.7,315.1 L1782.0,312.2 L1772.0,319.4Z" fill="#87ff66" stroke="#87ff66"/>
<path d="M1789.5,325.2 L1799.5,318.0 L1790.7,315.1 L1780.7,322.3Z" fill="#94ff66" stroke="#94ff66"/>
<path d="M1798.3,328.1 L1808.4,320.9 L1799.5,318.0 L1789.5,325.2Z" fill="#a1ff66" stroke="#a1ff66"/>
<path d="M1807.3,330.9 L1817.4,323.7 L1808.4,320.9 L1798.3,328.1Z" fill="#afff66" stroke="#afff66"/>
<path d="M1816.3,333.6 L1826.4,326.4 L1817.4,323.7 L1807.3,330.9Z" fill="#bcff66" stroke="#bcff66"/>
<path d="M1825.4,336.3 L1835.6,329.1 L1826.4,326.4 L1816.3,333.6Z" fill="#caff66" stroke="#caff66"/>
<path d="M1834.6,339.0 L1844.8,331.7 L1835.6,329.1 L1825.4,336.3Z" fill="#d8ff66" stroke="#d8ff66"/>
<path d="M1843.9,341.6 L1854.1,334.3 L1844.8,331.7 L1834.6,339.0Z" fill="#e7ff66" stroke="#e7ff66"/>
<path d="M1853.2,344.1 L1863.5,336.8 L1854.1,334.3 L1843.9,341.6Z" fill="#f5ff66" stroke="#f5ff66"/>
<path d="M1862.7,346.6 L1873.0,339.3 L1863.5,336.8 L1853.2,344.1Z" fill="#fffa66" stroke="#fffa66"/>
<path d="M1872.3,349.0 L1882.6,341.7 L1873.0,339.3 L1862.7,346.6Z" fill="#ffea66" stroke="#ffea66"/>
<path d="M1881.9,351.4 L1892.3,344.1 L1882.6,341.7 L1872.3,349.0Z" fill="#ffdb66" stroke="#ffdb66"/>
<path d="M1891.7,353.7 L1902.1,346.4 L1892.3,344.1 L1881.9,351.4Z" fill="#ffcb66" stroke="#ffcb66"/>
<path d="M1901.6,356.0 L1912.0,348.6 L1902.1,346.4 L1891.7,353.7Z" fill="#ffbb66" stroke="#ffbb66"/>
<path d="M1911.6,358.2 L1922.1,350.8 L1912.0,348.6 L1901.6,356.0Z" fill="#ffab66" stroke="#ffab66"/>
<path d="M1921.6,360.4 L1932.2,353.0 L1922.1,350.8 L1911.6,358.2Z" fill="#ff9a66" stroke="#ff9a66"/>
<path d="M1931.8,362.5 L1942.4,355.0 L1932.2,353.0 L1921.6,360.4Z" fill="#ff8966" stroke="#ff8966"/>
<path d="M1942.2,364.5 L1952.8,357.1 L1942.4,355.0 L1931.8,362.5Z" fill="#ff7866" stroke="#ff7866"/>
<path d="M1594.9,253.2 L1604.3,246.2 L1596.9,242.2 L1587.6,249.2Z" fill="#66d8ff" stroke="#66d8ff"/>
<path d="M1602.3,257.1 L1611.8,250.2 L1604.3,246.2 L1594.9,253.2Z" fill="#66dfff" stroke="#66dfff"/>
<path d="M1609.8,261.1 L1619.3,254.1 L1611.8,250.2 L1602.3,257.1Z" fill="#66e7ff" stroke="#66e7ff"/>
<path d="M1617.3,264.9 L1626.8,258.0 L1619.3,254.1 L1609.8,261.1Z" fill="#66efff" stroke="#66efff"/>
<path d="M1624.9,268.8 L1634.4,261.8 L1626.8,258.0 L1617.3,264.9Z" fill="#66f6ff" stroke="#66f6ff"/>
<path d="M1632.5,272.5 L1642.0,265.6 L1634.4,261.8 L1624.9,268.8Z" fill="#66ffff" stroke="#66ffff"/>
<path d="M1640.1,276.3 L1649.7,269.3 L1642.0,265.6 L1632.5,272.5Z" fill="#66fff7" stroke="#66fff7"/>
<path d="M1647.8,279.9 L1657.4,273.0 L1649.7,269.3 L1640.1,276.3Z" fill="#66ffee" stroke="#66ffee"/>
<path d="M1655.6,283.6 L1665.2,276.6 L1657.4,273.0 L1647.8,279.9Z" fill="#66ffe5" stroke="#66ffe5"/>
<path d="M1663.4,287.2 L1673.0,280.2 L1665.2,276.6 L1655.6,283.6Z" fill="#66ffdc" stroke="#66ffdc"/>
<path d="M1671.3,290.7 L1680.9,283.7 L1673.0,280.2 L1663.4,287.2Z" fill="#66ffd3" stroke="#66ffd3"/>
<path d="M1679.2,294.2 L1688.9,287.2 L1680.9,283.7 L1671.3,290.7Z" fill="#66ffc9" stroke="#66ffc9"/>
<path d="M1687.2,297.7 L1696.9,290.6 L1688.9,287.2 L1679.2,294.2Z" fill="#66ffbf" stroke="#66ffbf"/>
<path d="M1695.2,301.1 L1705.0,294.0 L1696.9,290.6 L1687.2,297.7Z" fill="#66ffb4" stroke="#66ffb4"/>
<path d="M1703.4,304.4 L1713.1,297.4 L1705.0,294.0 L1695.2,301.1Z" fill="#66ffaa" stroke="#66ffaa"/>
<path d="M1711.5,307.7 L1721.3,300.6 L1713.1,297.4 L1703.4,304.4Z" fill="#66ff9f" stroke="#66ff9f"/>
<path d="M1719.8,311.0 L1729.6,303.9 L1721.3,300.6 L1711.5,307.7Z" fill="#66ff94" stroke="#66ff94"/>
<path d="M1728.1,314.2 L1737.9,307.1 L1729.6,303.9 L1719.8,311.0Z" fill="#66ff89" stroke="#66ff89"/>
<path d="M1736.5,317.3 L1746.3,310.2 L1737.9,307.1 L1728.1,314.2Z" fill="#66ff7d" stroke="#66ff7d"/>
<path d="M1744.9,320.4 L1754.8,313.3 L1746.3,310.2 L1736.5,317.3Z" fill="#66ff71" stroke="#66ff71"/>
<path d="M1753.4,323.5 L1763.4,316.4 L1754.8,313.3 L1744.9,320.4Z" fill="#67ff66" stroke="#67ff66"/>
<path d="M1762.0,326.5 L1772.0,319.4 L1763.4,316.4 L1753.4,323.5Z" fill="#73ff66" stroke="#73ff66"/>
<path d="M1770.7,329.5 L1780.7,322.3 L1772.0,319.4 L1762.0,326.5Z" fill="#80ff66" stroke="#80ff66"/>
<path d="M1779.4,332.4 L1789.5,325.2 L1780.7,322.3 L1770.7,329.5Z" fill="#8dff66" stroke="#8dff66"/>
<path d="M1788.2,335.3 L1798.3,328.1 L1789.5,325.2 L1779.4,332.4Z" fill="#9aff66" stroke="#9aff66"/>
<path d="M1797.1,338.1 L1807.3,330.9 L1798.3,328.1 L1788.2,335.3Z" fill="#a8ff66" stroke="#a8ff66"/>
<path d="M1806.1,340.8 L1816.3,333.6 L1807.3,330.9 L1797.1,338.1Z" fill="#b5ff66" stroke="#b5ff66"/>
<path d="M1815.2,343.5 L1825.4,336.3 L1816.3,333.6 L1806.1,340.8Z" fill="#c3ff66" stroke="#c3ff66"/>
<path d="M1824.4,346.2 L1834.6,339.0 L1825.4,336.3 L1815.2,343.5Z" fill="#d2ff66" stroke="#d2ff66"/>
<path d="M1833.6,348.8 L1843.9,341.6 L1834.6,339.0 L1824.4,346.2Z" fill="#e0ff66" stroke="#e0ff66"/>
<path d="M1842.9,351.4 L1853.2,344.1 L1843.9,341.6 L1833.6,348.8Z" fill="#efff66" stroke="#efff66"/>
<path d="M1852.4,353.9 L1862.7,346.6 L1853.2,344.1 L1842.9,351.4Z" fill="#feff66" stroke="#feff66"/>
<path d="M1861.9,356.3 L1872.3,349.0 L1862.7,346.6 L1852.4,353.9Z" fill="#fff166" stroke="#fff166"/>
<path d="M1871.5,358.7 L1881.9,351.4 L1872.3,349.0 L1861.9,356.3Z" fill="#ffe166" stroke="#ffe166"/>
<path d="M1881.3,361.1 L1891.7,353.7 L1881.9,351.4 L1871.5,358.7Z" fill="#ffd166" stroke="#ffd166"/>
<path d="M1891.1,363.3 L1901.6,356.0 L1891.7,353.7 L1881.3,361.1Z" fill="#ffc166" stroke="#ffc166"/>
<path d="M1901.0,365.6 L1911.6,358.2 L1901.6,356.0 L1891.1,363.3Z" fill="#ffb166" stroke="#ffb166"/>
<path d="M1911.1,367.8 L1921.6,360.4 L1911.6,358.2 L1901.0,365.6Z" fill="#ffa066" stroke="#ffa066"/>
<path d="M1921.3,369.9 L1931.8,362.5 L1921.6,360.4 L1911.1,367.8Z" fill="#ff9066" stroke="#ff9066"/>
<path d="M1931.5,371.9 L1942.2,364.5 L1931.8,362.5 L1921.3,369.9Z" fill="#ff7e66" stroke="#ff7e66"/>
<path d="M1585.5,260.1 L1594.9,253.2 L1587.6,249.2 L1578.2,256.1Z" fill="#66d0ff" stroke="#66d0ff"/>
<path d="M1592.9,264.1 L1602.3,257.1 L1594.9,253.2 L1585.5,260.1Z" fill="#66d7ff" stroke="#66d7ff"/>
<path d="M1600.3,268.0 L1609.8,261.1 L1602.3,257.1 L1592.9,264.1Z" fill="#66dfff" stroke="#66dfff"/>
<path d="M1607.8,271.9 L1617.3,264.9 L1609.8,261.1 L1600.3,268.0Z" fill="#66e6ff" stroke="#66e6ff"/>
<path d="M1615.3,275.7 L1624.9,268.8 L1617.3,264.9 L1607.8,271.9Z" fill="#66eeff" stroke="#66eeff"/>
<path d="M1622.9,279.5 L1632.5,272.5 L1624.9,268.8 L1615.3,275.7Z" fill="#66f7ff" stroke="#66f7ff"/>
<path d="M1630.5,283.2 L1640.1,276.3 L1632.5,272.5 L1622.9,279.5Z" fill="#66ffff" stroke="#66ffff"/>
<path d="M1638.2,286.9 L1647.8,279.9 L1640.1,276.3 L1630.5,283.2Z" fill="#66fff6" stroke="#66fff6"/>
<path d="M1646.0,290.5 L1655.6,283.6 L1647.8,279.9 L1638.2,286.9Z" fill="#66ffed" stroke="#66ffed"/>
<path d="M1653.8,294.1 L1663.4,287.2 L1655.6,283.6 L1646.0,290.5Z" fill="#66ffe4" stroke="#66ffe4"/>
<path d="M1661.6,297.7 L1671.3,290.7 L1663.4,287.2 L1653.8,294.1Z" fill="#66ffda" stroke="#66ffda"/>
<path d="M1669.5,301.2 L1679.2,294.2 L1671.3,290.7 L1661.6,297.7Z" fill="#66ffd0" stroke="#66ffd0"/>
<path d="M1677.5,304.6 L1687.2,297.7 L1679.2,294.2 L1669.5,301.2Z" fill="#66ffc6" stroke="#66ffc6"/>
<path d="M1685.5,308.0 L1695.2,301.1 L1687.2,297.7 L1677.5,304.6Z" fill="#66ffbc" stroke="#66ffbc"/>
<path d="M1693.6,311.4 L1703.4,304.4 L1695.2,301.1 L1685.5,308.0Z" fill="#66ffb1" stroke="#66ffb1"/>
<path d="M1701.7,314.7 L1711.5,307.7 L1703.4,304.4 L1693.6,311.4Z" fill="#66ffa6" stroke="#66ffa6"/>
<path d="M1709.9,318.0 L1719.8,311.0 L1711.5,307.7 L1701.7,314.7Z" fill="#66ff9b" stroke="#66ff9b"/>
<path d="M1718.2,321.2 L1728.1,314.2 L1719.8,311.0 L1709.9,318.0Z" fill="#66ff90" stroke="#66ff90"/>
<path d="M1726.5,324.4 L1736.5,317.3 L1728.1,314.2 L1718.2,321.2Z" fill="#66ff84" stroke="#66ff84"/>
<path d="M1735.0,327.5 L1744.9,320.4 L1736.5,317.3 L1726.5,324.4Z" fill="#66ff78" stroke="#66ff78"/>
<path d="M1743.4,330.6 L1753.4,323.5 L1744.9,320.4 L1735.0,327.5Z" fill="#66ff6c" stroke="#66ff6c"/>
<path d="M1752.0,333.6 L1762.0,326.5 L1753.4,323.5 L1743.4,330.6Z" fill="#6cff66" stroke="#6cff66"/>
<path d="M1760.6,336.6 L1770.7,329.5 L1762.0,326.5 L1752.0,333.6Z" fill="#79ff66" stroke="#79ff66"/>
<path d="M1769.3,339.5 L1779.4,332.4 L1770.7,329.5 L1760.6,336.6Z" fill="#86ff66" stroke="#86ff66"/>
<path d="M1778.1,342.4 L1788.2,335.3 L1779.4,332.4 L1769.3,339.5Z" fill="#93ff66" stroke="#93ff66"/>
<path d="M1787.0,345.2 L1797.1,338.1 L1788.2,335.3 L1778.1,342.4Z" fill="#a1ff66" stroke="#a1ff66"/>
<path d="M1796.0,348.0 L1806.1,340.8 L1797.1,338.1 L1787.0,345.2Z" fill="#afff66" stroke="#afff66"/>
<path d="M1805.0,350.7 L1815.2,343.5 L1806.1,340.8 L1796.0,348.0Z" fill="#bdff66" stroke="#bdff66"/>
<path d="M1814.1,353.4 L1824.4,346.2 L1815.2,343.5 L1805.0,350.7Z" fill="#cbff66" stroke="#cbff66"/>
<path d="M1823.3,356.0 L1833.6,348.8 L1824.4,346.2 L1814.1,353.4Z" fill="#daff66" stroke="#daff66"/>
<path d="M1832.6,358.6 L1842.9,351.4 L1833.6,348.8 L1823.3,356.0Z" fill="#e8ff66" stroke="#e8ff66"/>
<path d="M1842.0,361.1 L1852.4,353.9 L1842.9,351.4 L1832.6,358.6Z" fill="#f8ff66" stroke="#f8ff66"/>
<path d="M1851.5,363.6 L1861.9,356.3 L1852.4,353.9 L1842.0,361.1Z" fill="#fff766" stroke="#fff766"/>
<path d="M1861.1,366.0 L1871.5,358.7 L1861.9,356.3 L1851.5,363.6Z" fill="#ffe766" stroke="#ffe766"/>
<path d="M1870.8,368.3 L1881.3,361.1 L1871.5,358.7 L1861.1,366.0Z" fill="#ffd866" stroke="#ffd866"/>
<path d="M1880.6,370.6 L1891.1,363.3 L1881.3,361.1 L1870.8,368.3Z" fill="#ffc766" stroke="#ffc766"/>
<path d="M1890.5,372.9 L1901.0,365.6 L1891.1,363.3 L1880.6,370.6Z" fill="#ffb766" stroke="#ffb766"/>
<path d="M1900.5,375.1 L1911.1,367.8 L1901.0,365.6 L1890.5,372.9Z" fill="#ffa666" stroke="#ffa666"/>
<path d="M1910.7,377.2 L1921.3,369.9 L1911.1,367.8 L1900.5,375.1Z" fill="#ff9566" stroke="#ff9566"/>
<path d="M1920.9,379.3 L1931.5,371.9 L1921.3,369.9 L1910.7,377.2Z" fill="#ff8466" stroke="#ff8466"/>
<path d="M1576.1,266.9 L1585.5,260.1 L1578.2,256.1 L1568.7,262.9Z" fill="#66c8ff" stroke="#66c8ff"/>
<path d="M1583.4,270.9 L1592.9,264.1 L1585.5,260.1 L1576.1,266.9Z" fill="#66cfff" stroke="#66cfff"/>
<path d="M1590.8,274.8 L1600.3,268.0 L1592.9,264.1 L1583.4,270.9Z" fill="#66d6ff" stroke="#66d6ff"/>
<path d="M1598.3,278.7 L1607.8,271.9 L1600.3,268.0 L1590.8,274.8Z" fill="#66deff" stroke="#66deff"/>
<path d="M1605.8,282.6 L1615.3,275.7 L1607.8,271.9 L1598.3,278.7Z" fill="#66e6ff" stroke="#66e6ff"/>
<path d="M1613.4,286.4 L1622.9,279.5 L1615.3,275.7 L1605.8,282.6Z" fill="#66efff" stroke="#66efff"/>
<path d="M1621.0,290.1 L1630.5,283.2 L1622.9,279.5 L1613.4,286.4Z" fill="#66f7ff" stroke="#66f7ff"/>
<path d="M1628.6,293.8 L1638.2,286.9 L1630.5,283.2 L1621.0,290.1Z" fill="#66fffe" stroke="#66fffe"/>
<path d="M1636.3,297.4 L1646.0,290.5 L1638.2,286.9 L1628.6,293.8Z" fill="#66fff5" stroke="#66fff5"/>
<path d="M1644.1,301.0 L1653.8,294.1 L1646.0,290.5 L1636.3,297.4Z" fill="#66ffeb" stroke="#66ffeb"/>
<path d="M1651.9,304.6 L1661.6,297.7 L1653.8,294.1 L1644.1,301.0Z" fill="#66ffe2" stroke="#66ffe2"/>
<path d="M1659.8,308.1 L1669.5,301.2 L1661.6,297.7 L1651.9,304.6Z" fill="#66ffd8" stroke="#66ffd8"/>
<path d="M1667.7,311.6 L1677.5,304.6 L1669.5,301.2 L1659.8,308.1Z" fill="#66ffce" stroke="#66ffce"/>
<path d="M1675.7,315.0 L1685.5,308.0 L1677.5,304.6 L1667.7,311.6Z" fill="#66ffc3" stroke="#66ffc3"/>
<path d="M1683.8,318.4 L1693.6,311.4 L1685.5,308.0 L1675.7,315.0Z" fill="#66ffb9" stroke="#66ffb9"/>
<path d="M1691.9,321.7 L1701.7,314.7 L1693.6,311.4 L1683.8,318.4Z" fill="#66ffae" stroke="#66ffae"/>
<path d="M1700.1,325.0 L1709.9,318.0 L1701.7,314.7 L1691.9,321.7Z" fill="#66ffa2" stroke="#66ffa2"/>
<path d="M1708.3,328.2 L1718.2,321.2 L1709.9,318.0 L1700.1,325.0Z" fill="#66ff97" stroke="#66ff97"/>
<path d="M1716.6,331.4 L1726.5,324.4 L1718.2,321.2 L1708.3,328.2Z" fill="#66ff8b" stroke="#66ff8b"/>
<path d="M1725.0,334.5 L1735.0,327.5 L1726.5,324.4 L1716.6,331.4Z" fill="#66ff7f" stroke="#66ff7f"/>
<path d="M1733.5,337.6 L1743.4,330.6 L1735.0,327.5 L1725.0,334.5Z" fill="#66ff73" stroke="#66ff73"/>
<path d="M1742.0,340.6 L1752.0,333.6 L1743.4,330.6 L1733.5,337.6Z" fill="#66ff66" stroke="#66ff66"/>
<path d="M1750.6,343.6 L1760.6,336.6 L1752.0,333.6 L1742.0,340.6Z" fill="#72ff66" stroke="#72ff66"/>
<path d="M1759.3,346.6 L1769.3,339.5 L1760.6,336.6 L1750.6,343.6Z" fill="#7fff66" stroke="#7fff66"/>
<path d="M1768.0,349.5 L1778.1,342.4 L1769.3,339.5 L1759.3,346.6Z" fill="#8dff66" stroke="#8dff66"/>
<path d="M1776.9,352.3 L1787.0,345.2 L1778.1,342.4 L1768.0,349.5Z" fill="#9aff66" stroke="#9aff66"/>
<path d="M1785.8,355.1 L1796.0,348.0 L1787.0,345.2 L1776.9,352.3Z" fill="#a8ff66" stroke="#a8ff66"/>
<path d="M1794.8,357.8 L1805.0,350.7 L1796.0,348.0 L1785.8,355.1Z" fill="#b6ff66" stroke="#b6ff66"/>
<path d="M1803.9,360.5 L1814.1,353.4 L1805.0,350.7 L1794.8,357.8Z" fill="#c5ff66" stroke="#c5ff66"/>
<path d="M1813.0,363.2 L1823.3,356.0 L1814.1,353.4 L1803.9,360.5Z" fill="#d3ff66" stroke="#d3ff66"/>
<path d="M1822.3,365.7 L1832.6,358.6 L1823.3,356.0 L1813.0,363.2Z" fill="#e2ff66" stroke="#e2ff66"/>
<path d="M1831.7,368.3 L1842.0,361.1 L1832.6,358.6 L1822.3,365.7Z" fill="#f1ff66" stroke="#f1ff66"/>
<path d="M1841.1,370.8 L1851.5,363.6 L1842.0,361.1 L1831.7,368.3Z" fill="#fffd66" stroke="#fffd66"/>
<path d="M1850.7,373.2 L1861.1,366.0 L1851.5,363.6 L1841.1,370.8Z" fill="#ffed66" stroke="#ffed66"/>
<path d="M1860.3,375.6 L1870.8,368.3 L1861.1,366.0 L1850.7,373.2Z" fill="#ffde66" stroke="#ffde66"/>
<path d="M1870.1,377.9 L1880.6,370.6 L1870.8,368.3 L1860.3,375.6Z" fill="#ffcd66" stroke="#ffcd66"/>
<path d="M1880.0,380.2 L1890.5,372.9 L1880.6,370.6 L1870.1,377.9Z" fill="#ffbd66" stroke="#ffbd66"/>
<path d="M1890.0,382.4 L1900.5,375.1 L1890.5,372.9 L1880.0,380.2Z" fill="#ffac66" stroke="#ffac66"/>
<path d="M1900.0,384.5 L1910.7,377.2 L1900.5,375.1 L1890.0,382.4Z" fill="#ff9b66" stroke="#ff9b66"/>
<path d="M1910.2,386.7 L1920.9,379.3 L1910.7,377.2 L1900.0,384.5Z" fill="#ff8a66" stroke="#ff8a66"/>
<path d="M1566.6,273.8 L1576.1,266.9 L1568.7,262.9 L1559.3,269.7Z" fill="#66c0ff" stroke="#66c0ff"/>
<path d="M1574.0,277.7 L1583.4,270.9 L1576.1,266.9 L1566.6,273.8Z" fill="#66c7ff" stroke="#66c7ff"/>
<path d="M1581.3,281.7 L1590.8,274.8 L1583.4,270.9 L1574.0,277.7Z" fill="#66cfff" stroke="#66cfff"/>
<path d="M1588.8,285.6 L1598.3,278.7 L1590.8,274.8 L1581.3,281.7Z" fill="#66d6ff" stroke="#66d6ff"/>
<path d="M1596.3,289.4 L1605.8,282.6 L1598.3,278.7 L1588.8,285.6Z" fill="#66dfff" stroke="#66dfff"/>
<path d="M1603.8,293.2 L1613.4,286.4 L1605.8,282.6 L1596.3,289.4Z" fill="#66e7ff" stroke="#66e7ff"/>
<path d="M1611.4,296.9 L1621.0,290.1 L1613.4,286.4 L1603.8,293.2Z" fill="#66f0ff" stroke="#66f0ff"/>
<path d="M1619.0,300.6 L1628.6,293.8 L1621.0,290.1 L1611.4,296.9Z" fill="#66f8ff" stroke="#66f8ff"/>
<path d="M1626.7,304.3 L1636.3,297.4 L1628.6,293.8 L1619.0,300.6Z" fill="#66fffc" stroke="#66fffc"/>
<path d="M1634.4,307.9 L1644.1,301.0 L1636.3,297.4 L1626.7,304.3Z" fill="#66fff3" stroke="#66fff3"/>
<path d="M1642.2,311.5 L1651.9,304.6 L1644.1,301.0 L1634.4,307.9Z" fill="#66ffe9" stroke="#66ffe9"/>
<path d="M1650.0,315.0 L1659.8,308.1 L1651.9,304.6 L1642.2,311.5Z" fill="#66ffdf" stroke="#66ffdf"/>
<path d="M1657.9,318.5 L1667.7,311.6 L1659.8,308.1 L1650.0,315.0Z" fill="#66ffd5" stroke="#66ffd5"/>
<path d="M1665.9,321.9 L1675.7,315.0 L1667.7,311.6 L1657.9,318.5Z" fill="#66ffca" stroke="#66ffca"/>
<path d="M1673.9,325.3 L1683.8,318.4 L1675.7,315.0 L1665.9,321.9Z" fill="#66ffc0" stroke="#66ffc0"/>
<path d="M1682.0,328.6 L1691.9,321.7 L1683.8,318.4 L1673.9,325.3Z" fill="#66ffb5" stroke="#66ffb5"/>
<path d="M1690.2,331.9 L1700.1,325.0 L1691.9,321.7 L1682.0,328.6Z" fill="#66ffa9" stroke="#66ffa9"/>
<path d="M1698.4,335.2 L1708.3,328.2 L1700.1,325.0 L1690.2,331.9Z" fill="#66ff9e" stroke="#66ff9e"/>
<path d="M1706.7,338.3 L1716.6,331.4 L1708.3,328.2 L1698.4,335.2Z" fill="#66ff92" stroke="#66ff92"/>
<path d="M1715.0,341.5 L1725.0,334.5 L1716.6,331.4 L1706.7,338.3Z" fill="#66ff86" stroke="#66ff86"/>
<path d="M1723.4,344.6 L1733.5,337.6 L1725.0,334.5 L1715.0,341.5Z" fill="#66ff7a" stroke="#66ff7a"/>
<path d="M1731.9,347.6 L1742.0,340.6 L1733.5,337.6 L1723.4,344.6Z" fill="#66ff6d" stroke="#66ff6d"/>
<path d="M1740.5,350.6 L1750.6,343.6 L1742.0,340.6 L1731.9,347.6Z" fill="#6cff66" stroke="#6cff66"/>
<path d="M1749.2,353.6 L1759.3,346.6 L1750.6,343.6 L1740.5,350.6Z" fill="#79ff66" stroke="#79ff66"/>
<path d="M1757.9,356.5 L1768.0,349.5 L1759.3,346.6 L1749.2,353.6Z" fill="#86ff66" stroke="#86ff66"/>
<path d="M1766.7,359.4 L1776.9,352.3 L1768.0,349.5 L1757.9,356.5Z" fill="#94ff66" stroke="#94ff66"/>
<path d="M1775.6,362.2 L1785.8,355.1 L1776.9,352.3 L1766.7,359.4Z" fill="#a2ff66" stroke="#a2ff66"/>
<path d="M1784.5,364.9 L1794.8,357.8 L1785.8,355.1 L1775.6,362.2Z" fill="#b0ff66" stroke="#b0ff66"/>
<path d="M1793.6,367.6 L1803.9,360.5 L1794.8,357.8 L1784.5,364.9Z" fill="#bfff66" stroke="#bfff66"/>
<path d="M1802.7,370.3 L1813.0,363.2 L1803.9,360.5 L1793.6,367.6Z" fill="#cdff66" stroke="#cdff66"/>
<path d="M1812.0,372.9 L1822.3,365.7 L1813.0,363.2 L1802.7,370.3Z" fill="#dcff66" stroke="#dcff66"/>
<path d="M1821.3,375.4 L1831.7,368.3 L1822.3,365.7 L1812.0,372.9Z" fill="#ebff66" stroke="#ebff66"/>
<path d="M1830.7,377.9 L1841.1,370.8 L1831.7,368.3 L1821.3,375.4Z" fill="#fbff66" stroke="#fbff66"/>
<path d="M1840.2,380.4 L1850.7,373.2 L1841.1,370.8 L1830.7,377.9Z" fill="#fff366" stroke="#fff366"/>
<path d="M1849.9,382.8 L1860.3,375.6 L1850.7,373.2 L1840.2,380.4Z" fill="#ffe366" stroke="#ffe366"/>
<path d="M1859.6,385.1 L1870.1,377.9 L1860.3,375.6 L1849.9,382.8Z" fill="#ffd366" stroke="#ffd366"/>
<path d="M1869.4,387.4 L1880.0,380.2 L1870.1,377.9 L1859.6,385.1Z" fill="#ffc266" stroke="#ffc266"/>
<path d="M1879.4,389.6 L1890.0,382.4 L1880.0,380.2 L1869.4,387.4Z" fill="#ffb266" stroke="#ffb266"/>
<path d="M1889.4,391.8 L1900.0,384.5 L1890.0,382.4 L1879.4,389.6Z" fill="#ffa166" stroke="#ffa166"/>
<path d="M1899.6,393.9 L1910.2,386.7 L1900.0,384.5 L1889.4,391.8Z" fill="#ff8f66" stroke="#ff8f66"/>
<path d="M1557.2,280.5 L1566.6,273.8 L1559.3,269.7 L1549.9,276.5Z" fill="#66b8ff" stroke="#66b8ff"/>
<path d="M1564.5,284.5 L1574.0,277.7 L1566.6,273.8 L1557.2,280.5Z" fill="#66bfff" stroke="#66bfff"/>
<path d="M1571.8,288.4 L1581.3,281.7 L1574.0,277.7 L1564.5,284.5Z" fill="#66c7ff" stroke="#66c7ff"/>
<path d="M1579.2,292.3 L1588.8,285.6 L1581.3,281.7 L1571.8,288.4Z" fill="#66cfff" stroke="#66cfff"/>
<path d="M1586.7,296.2 L1596.3,289.4 L1588.8,285.6 L1579.2,292.3Z" fill="#66d7ff" stroke="#66d7ff"/>
<path d="M1594.2,300.0 L1603.8,293.2 L1596.3,289.4 L1586.7,296.2Z" fill="#66dfff" stroke="#66dfff"/>
<path d="M1601.7,303.8 L1611.4,296.9 L1603.8,293.2 L1594.2,300.0Z" fill="#66e8ff" stroke="#66e8ff"/>
<path d="M1609.3,307.5 L1619.0,300.6 L1611.4,296.9 L1601.7,303.8Z" fill="#66f1ff" stroke="#66f1ff"/>
<path d="M1617.0,311.1 L1626.7,304.3 L1619.0,300.6 L1609.3,307.5Z" fill="#66faff" stroke="#66faff"/>
<path d="M1624.7,314.8 L1634.4,307.9 L1626.7,304.3 L1617.0,311.1Z" fill="#66fffa" stroke="#66fffa"/>
<path d="M1632.5,318.3 L1642.2,311.5 L1634.4,307.9 L1624.7,314.8Z" fill="#66fff0" stroke="#66fff0"/>
<path d="M1640.3,321.9 L1650.0,315.0 L1642.2,311.5 L1632.5,318.3Z" fill="#66ffe6" stroke="#66ffe6"/>
<path d="M1648.2,325.3 L1657.9,318.5 L1650.0,315.0 L1640.3,321.9Z" fill="#66ffdc" stroke="#66ffdc"/>
<path d="M1656.1,328.8 L1665.9,321.9 L1657.9,318.5 L1648.2,325.3Z" fill="#66ffd1" stroke="#66ffd1"/>
<path d="M1664.1,332.2 L1673.9,325.3 L1665.9,321.9 L1656.1,328.8Z" fill="#66ffc7" stroke="#66ffc7"/>
<path d="M1672.2,335.5 L1682.0,328.6 L1673.9,325.3 L1664.1,332.2Z" fill="#66ffbc" stroke="#66ffbc"/>
<path d="M1680.3,338.8 L1690.2,331.9 L1682.0,328.6 L1672.2,335.5Z" fill="#66ffb0" stroke="#66ffb0"/>
<path d="M1688.5,342.1 L1698.4,335.2 L1690.2,331.9 L1680.3,338.8Z" fill="#66ffa5" stroke="#66ffa5"/>
<path d="M1696.7,345.3 L1706.7,338.3 L1698.4,335.2 L1688.5,342.1Z" fill="#66ff99" stroke="#66ff99"/>
<path d="M1705.0,348.4 L1715.0,341.5 L1706.7,338.3 L1696.7,345.3Z" fill="#66ff8d" stroke="#66ff8d"/>
<path d="M1713.4,351.5 L1723.4,344.6 L1715.0,341.5 L1705.0,348.4Z" fill="#66ff80" stroke="#66ff80"/>
<path d="M1721.9,354.6 L1731.9,347.6 L1723.4,344.6 L1713.4,351.5Z" fill="#66ff73" stroke="#66ff73"/>
<path d="M1730.4,357.6 L1740.5,350.6 L1731.9,347.6 L1721.9,354.6Z" fill="#66ff67" stroke="#66ff67"/>
<path d="M1739.0,360.6 L1749.2,353.6 L1740.5,350.6 L1730.4,357.6Z" fill="#73ff66" stroke="#73ff66"/>
<path d="M1747.7,363.5 L1757.9,356.5 L1749.2,353.6 L1739.0,360.6Z" fill="#80ff66" stroke="#80ff66"/>
<path d="M1756.5,366.4 L1766.7,359.4 L1757.9,356.5 L1747.7,363.5Z" fill="#8eff66" stroke="#8eff66"/>
<path d="M1765.4,369.2 L1775.6,362.2 L1766.7,359.4 L1756.5,366.4Z" fill="#9cff66" stroke="#9cff66"/>
<path d="M1774.3,372.0 L1784.5,364.9 L1775.6,362.2 L1765.4,369.2Z" fill="#aaff66" stroke="#aaff66"/>
<path d="M1783.3,374.7 L1793.6,367.6 L1784.5,364.9 L1774.3,372.0Z" fill="#b9ff66" stroke="#b9ff66"/>
<path d="M1792.4,377.3 L1802.7,370.3 L1793.6,367.6 L1783.3,374.7Z" fill="#c7ff66" stroke="#c7ff66"/>
<path d="M1801.6,380.0 L1812.0,372.9 L1802.7,370.3 L1792.4,377.3Z" fill="#d6ff66" stroke="#d6ff66"/>
<path d="M1810.9,382.5 L1821.3,375.4 L1812.0,372.9 L1801.6,380.0Z" fill="#e6ff66" stroke="#e6ff66"/>
<path d="M1820.3,385.0 L1830.7,377.9 L1821.3,375.4 L1810.9,382.5Z" fill="#f5ff66" stroke="#f5ff66"/>
<path d="M1829.8,387.5 L1840.2,380.4 L1830.7,377.9 L1820.3,385.0Z" fill="#fff966" stroke="#fff966"/>
<path d="M1839.4,389.9 L1849.9,382.8 L1840.2,380.4 L1829.8,387.5Z" fill="#ffe966" stroke="#ffe966"/>
<path d="M1849.1,392.3 L1859.6,385.1 L1849.9,382.8 L1839.4,389.9Z" fill="#ffd866" stroke="#ffd866"/>
<path d="M1858.8,394.6 L1869.4,387.4 L1859.6,385.1 L1849.1,392.3Z" fill="#ffc866" stroke="#ffc866"/>
<path d="M1868.7,396.8 L1879.4,389.6 L1869.4,387.4 L1858.8,394.6Z" fill="#ffb766" stroke="#ffb766"/>
<path d="M1878.8,399.0 L1889.4,391.8 L1879.4,389.6 L1868.7,396.8Z" fill="#ffa666" stroke="#ffa666"/>
<path d="M1888.9,401.2 L1899.6,393.9 L1889.4,391.8 L1878.8,399.0Z" fill="#ff9466" stroke="#ff9466"/>
<path d="M1547.7,287.2 L1557.2,280.5 L1549.9,276.5 L1540.4,283.2Z" fill="#66b0ff" stroke="#66b0ff"/>
<path d="M1555.0,291.2 L1564.5,284.5 L1557.2,280.5 L1547.7,287.2Z" fill="#66b8ff" stroke="#66b8ff"/>
<path d="M1562.3,295.2 L1571.8,288.4 L1564.5,284.5 L1555.0,291.2Z" fill="#66bfff" stroke="#66bfff"/>
<path d="M1569.7,299.1 L1579.2,292.3 L1571.8,288.4 L1562.3,295.2Z" fill="#66c7ff" stroke="#66c7ff"/>
<path d="M1577.1,302.9 L1586.7,296.2 L1579.2,292.3 L1569.7,299.1Z" fill="#66d0ff" stroke="#66d0ff"/>
<path d="M1584.6,306.7 L1594.2,300.0 L1586.7,296.2 L1577.1,302.9Z" fill="#66d8ff" stroke="#66d8ff"/>
<path d="M1592.1,310.5 L1601.7,303.8 L1594.2,300.0 L1584.6,306.7Z" fill="#66e1ff" stroke="#66e1ff"/>
<path d="M1599.7,314.2 L1609.3,307.5 L1601.7,303.8 L1592.1,310.5Z" fill="#66eaff" stroke="#66eaff"/>
<path d="M1607.3,317.9 L1617.0,311.1 L1609.3,307.5 L1599.7,314.2Z" fill="#66f3ff" stroke="#66f3ff"/>
<path d="M1615.0,321.5 L1624.7,314.8 L1617.0,311.1 L1607.3,317.9Z" fill="#66fdff" stroke="#66fdff"/>
<path d="M1622.7,325.1 L1632.5,318.3 L1624.7,314.8 L1615.0,321.5Z" fill="#66fff7" stroke="#66fff7"/>
<path d="M1630.5,328.7 L1640.3,321.9 L1632.5,318.3 L1622.7,325.1Z" fill="#66ffed" stroke="#66ffed"/>
<path d="M1638.4,332.2 L1648.2,325.3 L1640.3,321.9 L1630.5,328.7Z" fill="#66ffe3" stroke="#66ffe3"/>
<path d="M1646.3,335.6 L1656.1,328.8 L1648.2,325.3 L1638.4,332.2Z" fill="#66ffd8" stroke="#66ffd8"/>
<path d="M1654.2,339.0 L1664.1,332.2 L1656.1,328.8 L1646.3,335.6Z" fill="#66ffcd" stroke="#66ffcd"/>
<path d="M1662.3,342.4 L1672.2,335.5 L1664.1,332.2 L1654.2,339.0Z" fill="#66ffc2" stroke="#66ffc2"/>
<path d="M1670.4,345.7 L1680.3,338.8 L1672.2,335.5 L1662.3,342.4Z" fill="#66ffb7" stroke="#66ffb7"/>
<path d="M1678.5,348.9 L1688.5,342.1 L1680.3,338.8 L1670.4,345.7Z" fill="#66ffab" stroke="#66ffab"/>
<path d="M1686.7,352.1 L1696.7,345.3 L1688.5,342.1 L1678.5,348.9Z" fill="#66ff9f" stroke="#66ff9f"/>
<path d="M1695.0,355.3 L1705.0,348.4 L1696.7,345.3 L1686.7,352.1Z" fill="#66ff93" stroke="#66ff93"/>
<path d="M1703.4,358.4 L1713.4,351.5 L1705.0,348.4 L1695.0,355.3Z" fill="#66ff86" stroke="#66ff86"/>
<path d="M1711.8,361.5 L1721.9,354.6 L1713.4,351.5 L1703.4,358.4Z" fill="#66ff7a" stroke="#66ff7a"/>
<path d="M1720.3,364.5 L1730.4,357.6 L1721.9,354.6 L1711.8,361.5Z" fill="#66ff6d" stroke="#66ff6d"/>
<path d="M1728.9,367.5 L1739.0,360.6 L1730.4,357.6 L1720.3,364.5Z" fill="#6dff66" stroke="#6dff66"/>
<path d="M1737.6,370.4 L1747.7,363.5 L1739.0,360.6 L1728.9,367.5Z" fill="#7aff66" stroke="#7aff66"/>
<path d="M1746.3,373.3 L1756.5,366.4 L1747.7,363.5 L1737.6,370.4Z" fill="#88ff66" stroke="#88ff66"/>
<path d="M1755.1,376.2 L1765.4,369.2 L1756.5,366.4 L1746.3,373.3Z" fill="#96ff66" stroke="#96ff66"/>
<path d="M1764.0,378.9 L1774.3,372.0 L1765.4,369.2 L1755.1,376.2Z" fill="#a4ff66" stroke="#a4ff66"/>
<path d="M1773.0,381.7 L1783.3,374.7 L1774.3,372.0 L1764.0,378.9Z" fill="#b3ff66" stroke="#b3ff66"/>
<path d="M1782.1,384.4 L1792.4,377.3 L1783.3,374.7 L1773.0,381.7Z" fill="#c2ff66" stroke="#c2ff66"/>
<path d="M1791.3,387.0 L1801.6,380.0 L1792.4,377.3 L1782.1,384.4Z" fill="#d1ff66" stroke="#d1ff66"/>
<path d="M1800.5,389.6 L1810.9,382.5 L1801.6,380.0 L1791.3,387.0Z" fill="#e0ff66" stroke="#e0ff66"/>
<path d="M1809.9,392.1 L1820.3,385.0 L1810.9,382.5 L1800.5,389.6Z" fill="#f0ff66" stroke="#f0ff66"/>
<path d="M1819.3,394.6 L1829.8,387.5 L1820.3,385.0 L1809.9,392.1Z" fill="#fffe66" stroke="#fffe66"/>
<path d="M1828.9,397.0 L1839.4,389.9 L1829.8,387.5 L1819.3,394.6Z" fill="#ffee66" stroke="#ffee66"/>
<path d="M1838.5,399.4 L1849.1,392.3 L1839.4,389.9 L1828.9,397.0Z" fill="#ffde66" stroke="#ffde66"/>
<path d="M1848.3,401.7 L1858.8,394.6 L1849.1,392.3 L1838.5,399.4Z" fill="#ffcd66" stroke="#ffcd66"/>
<path d="M1858.1,404.0 L1868.7,396.8 L1858.8,394.6 L1848.3,401.7Z" fill="#ffbc66" stroke="#ffbc66"/>
<path d="M1868.1,406.2 L1878.8,399.0 L1868.7,396.8 L1858.1,404.0Z" fill="#ffab66" stroke="#ffab66"/>
<path d="M1878.2,408.4 L1888.9,401.2 L1878.8,399.0 L1868.1,406.2Z" fill="#ff9966" stroke="#ff9966"/>
<path d="M1538.2,293.9 L1547.7,287.2 L1540.4,283.2 L1531.0,289.9Z" fill="#66a9ff" stroke="#66a9ff"/>
<path d="M1545.5,297.9 L1555.0,291.2 L1547.7,287.2 L1538.2,293.9Z" fill="#66b0ff" stroke="#66b0ff"/>
<path d="M1552.8,301.9 L1562.3,295.2 L1555.0,291.2 L1545.5,297.9Z" fill="#66b8ff" stroke="#66b8ff"/>
<path d="M1560.1,305.8 L1569.7,299.1 L1562.3,295.2 L1552.8,301.9Z" fill="#66c0ff" stroke="#66c0ff"/>
<path d="M1567.5,309.6 L1577.1,302.9 L1569.7,299.1 L1560.1,305.8Z" fill="#66c8ff" stroke="#66c8ff"/>
<path d="M1575.0,313.5 L1584.6,306.7 L1577.1,302.9 L1567.5,309.6Z" fill="#66d1ff" stroke="#66d1ff"/>
<path d="M1582.5,317.2 L1592.1,310.5 L1584.6,306.7 L1575.0,313.5Z" fill="#66daff" stroke="#66daff"/>
<path d="M1590.0,321.0 L1599.7,314.2 L1592.1,310.5 L1582.5,317.2Z" fill="#66e3ff" stroke="#66e3ff"/>
<path d="M1597.6,324.6 L1607.3,317.9 L1599.7,314.2 L1590.0,321.0Z" fill="#66ecff" stroke="#66ecff"/>
<path d="M1605.3,328.3 L1615.0,321.5 L1607.3,317.9 L1597.6,324.6Z" fill="#66f6ff" stroke="#66f6ff"/>
<path d="M1613.0,331.9 L1622.7,325.1 L1615.0,321.5 L1605.3,328.3Z" fill="#66fffe" stroke="#66fffe"/>
<path d="M1620.7,335.4 L1630.5,328.7 L1622.7,325.1 L1613.0,331.9Z" fill="#66fff4" stroke="#66fff4"/>
<path d="M1628.6,338.9 L1638.4,332.2 L1630.5,328.7 L1620.7,335.4Z" fill="#66ffe9" stroke="#66ffe9"/>
<path d="M1636.4,342.4 L1646.3,335.6 L1638.4,332.2 L1628.6,338.9Z" fill="#66ffdf" stroke="#66ffdf"/>
<path d="M1644.4,345.8 L1654.2,339.0 L1646.3,335.6 L1636.4,342.4Z" fill="#66ffd4" stroke="#66ffd4"/>
<path d="M1652.4,349.2 L1662.3,342.4 L1654.2,339.0 L1644.4,345.8Z" fill="#66ffc9" stroke="#66ffc9"/>
<path d="M1660.4,352.5 L1670.4,345.7 L1662.3,342.4 L1652.4,349.2Z" fill="#66ffbd" stroke="#66ffbd"/>
<path d="M1668.6,355.8 L1678.5,348.9 L1670.4,345.7 L1660.4,352.5Z" fill="#66ffb1" stroke="#66ffb1"/>
<path d="M1676.8,359.0 L1686.7,352.1 L1678.5,348.9 L1668.6,355.8Z" fill="#66ffa5" stroke="#66ffa5"/>
<path d="M1685.0,362.2 L1695.0,355.3 L1686.7,352.1 L1676.8,359.0Z" fill="#66ff99" stroke="#66ff99"/>
<path d="M1693.3,365.3 L1703.4,358.4 L1695.0,355.3 L1685.0,362.2Z" fill="#66ff8c" stroke="#66ff8c"/>
<path d="M1701.7,368.4 L1711.8,361.5 L1703.4,358.4 L1693.3,365.3Z" fill="#66ff80" stroke="#66ff80"/>
<path d="M1710.2,371.4 L1720.3,364.5 L1711.8,361.5 L1701.7,368.4Z" fill="#66ff73" stroke="#66ff73"/>
<path d="M1718.8,374.4 L1728.9,367.5 L1720.3,364.5 L1710.2,371.4Z" fill="#67ff66" stroke="#67ff66"/>
<path d="M1727.4,377.4 L1737.6,370.4 L1728.9,367.5 L1718.8,374.4Z" fill="#74ff66" stroke="#74ff66"/>
<path d="M1736.1,380.3 L1746.3,373.3 L1737.6,370.4 L1727.4,377.4Z" fill="#82ff66" stroke="#82ff66"/>
<path d="M1744.9,383.1 L1755.1,376.2 L1746.3,373.3 L1736.1,380.3Z" fill="#90ff66" stroke="#90ff66"/>
<path d="M1753.7,385.9 L1764.0,378.9 L1755.1,376.2 L1744.9,383.1Z" fill="#9fff66" stroke="#9fff66"/>
<path d="M1762.7,388.7 L1773.0,381.7 L1764.0,378.9 L1753.7,385.9Z" fill="#adff66" stroke="#adff66"/>
<path d="M1771.7,391.4 L1782.1,384.4 L1773.0,381.7 L1762.7,388.7Z" fill="#bcff66" stroke="#bcff66"/>
<path d="M1780.9,394.0 L1791.3,387.0 L1782.1,384.4 L1771.7,391.4Z" fill="#cbff66" stroke="#cbff66"/>
<path d="M1790.1,396.6 L1800.5,389.6 L1791.3,387.0 L1780.9,394.0Z" fill="#dbff66" stroke="#dbff66"/>
<path d="M1799.4,399.2 L1809.9,392.1 L1800.5,389.6 L1790.1,396.6Z" fill="#ebff66" stroke="#ebff66"/>
<path d="M1808.8,401.7 L1819.3,394.6 L1809.9,392.1 L1799.4,399.2Z" fill="#fbff66" stroke="#fbff66"/>
<path d="M1818.3,404.1 L1828.9,397.0 L1819.3,394.6 L1808.8,401.7Z" fill="#fff366" stroke="#fff366"/>
<path d="M1827.9,406.5 L1838.5,399.4 L1828.9,397.0 L1818.3,404.1Z" fill="#ffe366" stroke="#ffe366"/>
<path d="M1837.6,408.8 L1848.3,401.7 L1838.5,399.4 L1827.9,406.5Z" fill="#ffd266" stroke="#ffd266"/>
<path d="M1847.5,411.1 L1858.1,404.0 L1848.3,401.7 L1837.6,408.8Z" fill="#ffc166" stroke="#ffc166"/>
<path d="M1857.4,413.4 L1868.1,406.2 L1858.1,404.0 L1847.5,411.1Z" fill="#ffb066" stroke="#ffb066"/>
<path d="M1867.4,415.6 L1878.2,408.4 L1868.1,406.2 L1857.4,413.4Z" fill="#ff9e66" stroke="#ff9e66"/>
<path d="M1528.7,300.6 L1538.2,293.9 L1531.0,289.9 L1521.5,296.5Z" fill="#66a1ff" stroke="#66a1ff"/>
<path d="M1535.9,304.6 L1545.5,297.9 L1538.2,293.9 L1528.7,300.6Z" fill="#66a9ff" stroke="#66a9ff"/>
<path d="M1543.2,308.5 L1552.8,301.9 L1545.5,297.9 L1535.9,304.6Z" fill="#66b1ff" stroke="#66b1ff"/>
<path d="M1550.5,312.4 L1560.1,305.8 L1552.8,301.9 L1543.2,308.5Z" fill="#66b9ff" stroke="#66b9ff"/>
<path d="M1557.9,316.3 L1567.5,309.6 L1560.1,305.8 L1550.5,312.4Z" fill="#66c1ff" stroke="#66c1ff"/>
<path d="M1565.3,320.1 L1575.0,313.5 L1567.5,309.6 L1557.9,316.3Z" fill="#66caff" stroke="#66caff"/>
<path d="M1572.8,323.9 L1582.5,317.2 L1575.0,313.5 L1565.3,320.1Z" fill="#66d3ff" stroke="#66d3ff"/>
<path d="M1580.3,327.6 L1590.0,321.0 L1582.5,317.2 L1572.8,323.9Z" fill="#66dcff" stroke="#66dcff"/>
<path d="M1587.9,331.3 L1597.6,324.6 L1590.0,321.0 L1580.3,327.6Z" fill="#66e6ff" stroke="#66e6ff"/>
<path d="M1595.5,335.0 L1605.3,328.3 L1597.6,324.6 L1587.9,331.3Z" fill="#66efff" stroke="#66efff"/>
<path d="M1603.2,338.6 L1613.0,331.9 L1605.3,328.3 L1595.5,335.0Z" fill="#66f9ff" stroke="#66f9ff"/>
<path d="M1610.9,342.1 L1620.7,335.4 L1613.0,331.9 L1603.2,338.6Z" fill="#66fffa" stroke="#66fffa"/>
<path d="M1618.7,345.7 L1628.6,338.9 L1620.7,335.4 L1610.9,342.1Z" fill="#66fff0" stroke="#66fff0"/>
<path d="M1626.6,349.1 L1636.4,342.4 L1628.6,338.9 L1618.7,345.7Z" fill="#66ffe5" stroke="#66ffe5"/>
<path d="M1634.5,352.5 L1644.4,345.8 L1636.4,342.4 L1626.6,349.1Z" fill="#66ffda" stroke="#66ffda"/>
<path d="M1642.5,355.9 L1652.4,349.2 L1644.4,345.8 L1634.5,352.5Z" fill="#66ffcf" stroke="#66ffcf"/>
<path d="M1650.5,359.3 L1660.4,352.5 L1652.4,349.2 L1642.5,355.9Z" fill="#66ffc3" stroke="#66ffc3"/>
<path d="M1658.6,362.5 L1668.6,355.8 L1660.4,352.5 L1650.5,359.3Z" fill="#66ffb7" stroke="#66ffb7"/>
<path d="M1666.7,365.8 L1676.8,359.0 L1668.6,355.8 L1658.6,362.5Z" fill="#66ffab" stroke="#66ffab"/>
<path d="M1675.0,369.0 L1685.0,362.2 L1676.8,359.0 L1666.7,365.8Z" fill="#66ff9f" stroke="#66ff9f"/>
<path d="M1683.3,372.1 L1693.3,365.3 L1685.0,362.2 L1675.0,369.0Z" fill="#66ff92" stroke="#66ff92"/>
<path d="M1691.6,375.2 L1701.7,368.4 L1693.3,365.3 L1683.3,372.1Z" fill="#66ff85" stroke="#66ff85"/>
<path d="M1700.1,378.3 L1710.2,371.4 L1701.7,368.4 L1691.6,375.2Z" fill="#66ff78" stroke="#66ff78"/>
<path d="M1708.6,381.3 L1718.8,374.4 L1710.2,371.4 L1700.1,378.3Z" fill="#66ff6b" stroke="#66ff6b"/>
<path d="M1717.2,384.2 L1727.4,377.4 L1718.8,374.4 L1708.6,381.3Z" fill="#6fff66" stroke="#6fff66"/>
<path d="M1725.9,387.1 L1736.1,380.3 L1727.4,377.4 L1717.2,384.2Z" fill="#7dff66" stroke="#7dff66"/>
<path d="M1734.6,390.0 L1744.9,383.1 L1736.1,380.3 L1725.9,387.1Z" fill="#8bff66" stroke="#8bff66"/>
<path d="M1743.4,392.8 L1753.7,385.9 L1744.9,383.1 L1734.6,390.0Z" fill="#99ff66" stroke="#99ff66"/>
<path d="M1752.4,395.6 L1762.7,388.7 L1753.7,385.9 L1743.4,392.8Z" fill="#a8ff66" stroke="#a8ff66"/>
<path d="M1761.4,398.3 L1771.7,391.4 L1762.7,388.7 L1752.4,395.6Z" fill="#b7ff66" stroke="#b7ff66"/>
<path d="M1770.5,401.0 L1780.9,394.0 L1771.7,391.4 L1761.4,398.3Z" fill="#c6ff66" stroke="#c6ff66"/>
<path d="M1779.6,403.6 L1790.1,396.6 L1780.9,394.0 L1770.5,401.0Z" fill="#d6ff66" stroke="#d6ff66"/>
<path d="M1788.9,406.1 L1799.4,399.2 L1790.1,396.6 L1779.6,403.6Z" fill="#e6ff66" stroke="#e6ff66"/>
<path d="M1798.3,408.7 L1808.8,401.7 L1799.4,399.2 L1788.9,406.1Z" fill="#f6ff66" stroke="#f6ff66"/>
<path d="M1807.8,411.1 L1818.3,404.1 L1808.8,401.7 L1798.3,408.7Z" fill="#fff866" stroke="#fff866"/>
<path d="M1817.3,413.5 L1827.9,406.5 L1818.3,404.1 L1807.8,411.1Z" fill="#ffe866" stroke="#ffe866"/>
<path d="M1827.0,415.9 L1837.6,408.8 L1827.9,406.5 L1817.3,413.5Z" fill="#ffd766" stroke="#ffd766"/>
<path d="M1836.8,418.2 L1847.5,411.1 L1837.6,408.8 L1827.0,415.9Z" fill="#ffc666" stroke="#ffc666"/>
<path d="M1846.7,420.5 L1857.4,413.4 L1847.5,411.1 L1836.8,418.2Z" fill="#ffb466" stroke="#ffb466"/>
<path d="M1856.7,422.7 L1867.4,415.6 L1857.4,413.4 L1846.7,420.5Z" fill="#ffa366" stroke="#ffa366"/>
<path d="M1519.1,307.1 L1528.7,300.6 L1521.5,296.5 L1512.0,303.1Z" fill="#669aff" stroke="#669aff"/>
<path d="M1526.4,311.2 L1535.9,304.6 L1528.7,300.6 L1519.1,307.1Z" fill="#66a2ff" stroke="#66a2ff"/>
<path d="M1533.6,315.1 L1543.2,308.5 L1535.9,304.6 L1526.4,311.2Z" fill="#66aaff" stroke="#66aaff"/>
<path d="M1540.9,319.0 L1550.5,312.4 L1543.2,308.5 L1533.6,315.1Z" fill="#66b2ff" stroke="#66b2ff"/>
<path d="M1548.3,322.9 L1557.9,316.3 L1550.5,312.4 L1540.9,319.0Z" fill="#66bbff" stroke="#66bbff"/>
<path d="M1555.7,326.8 L1565.3,320.1 L1557.9,316.3 L1548.3,322.9Z" fill="#66c3ff" stroke="#66c3ff"/>
<path d="M1563.1,330.5 L1572.8,323.9 L1565.3,320.1 L1555.7,326.8Z" fill="#66ccff" stroke="#66ccff"/>
<path d="M1570.6,334.3 L1580.3,327.6 L1572.8,323.9 L1563.1,330.5Z" fill="#66d6ff" stroke="#66d6ff"/>
<path d="M1578.2,338.0 L1587.9,331.3 L1580.3,327.6 L1570.6,334.3Z" fill="#66dfff" stroke="#66dfff"/>
<path d="M1585.8,341.6 L1595.5,335.0 L1587.9,331.3 L1578.2,338.0Z" fill="#66e9ff" stroke="#66e9ff"/>
<path d="M1593.4,345.3 L1603.2,338.6 L1595.5,335.0 L1585.8,341.6Z" fill="#66f3ff" stroke="#66f3ff"/>
<path d="M1601.1,348.8 L1610.9,342.1 L1603.2,338.6 L1593.4,345.3Z" fill="#66fdff" stroke="#66fdff"/>
<path d="M1608.9,352.3 L1618.7,345.7 L1610.9,342.1 L1601.1,348.8Z" fill="#66fff6" stroke="#66fff6"/>
<path d="M1616.7,355.8 L1626.6,349.1 L1618.7,345.7 L1608.9,352.3Z" fill="#66ffeb" stroke="#66ffeb"/>
<path d="M1624.6,359.3 L1634.5,352.5 L1626.6,349.1 L1616.7,355.8Z" fill="#66ffe0" stroke="#66ffe0"/>
<path d="M1632.5,362.6 L1642.5,355.9 L1634.5,352.5 L1624.6,359.3Z" fill="#66ffd5" stroke="#66ffd5"/>
<path d="M1640.5,366.0 L1650.5,359.3 L1642.5,355.9 L1632.5,362.6Z" fill="#66ffc9" stroke="#66ffc9"/>
<path d="M1648.6,369.3 L1658.6,362.5 L1650.5,359.3 L1640.5,366.0Z" fill="#66ffbd" stroke="#66ffbd"/>
<path d="M1656.7,372.5 L1666.7,365.8 L1658.6,362.5 L1648.6,369.3Z" fill="#66ffb1" stroke="#66ffb1"/>
<path d="M1664.9,375.7 L1675.0,369.0 L1666.7,365.8 L1656.7,372.5Z" fill="#66ffa5" stroke="#66ffa5"/>
<path d="M1673.2,378.9 L1683.3,372.1 L1675.0,369.0 L1664.9,375.7Z" fill="#66ff98" stroke="#66ff98"/>
<path d="M1681.5,382.0 L1691.6,375.2 L1683.3,372.1 L1673.2,378.9Z" fill="#66ff8b" stroke="#66ff8b"/>
<path d="M1689.9,385.1 L1700.1,378.3 L1691.6,375.2 L1681.5,382.0Z" fill="#66ff7e" stroke="#66ff7e"/>
<path d="M1698.4,388.1 L1708.6,381.3 L1700.1,378.3 L1689.9,385.1Z" fill="#66ff70" stroke="#66ff70"/>
<path d="M1707.0,391.1 L1717.2,384.2 L1708.6,381.3 L1698.4,388.1Z" fill="#69ff66" stroke="#69ff66"/>
<path d="M1715.6,394.0 L1725.9,387.1 L1717.2,384.2 L1707.0,391.1Z" fill="#77ff66" stroke="#77ff66"/>
<path d="M1724.3,396.9 L1734.6,390.0 L1725.9,387.1 L1715.6,394.0Z" fill="#86ff66" stroke="#86ff66"/>
<path d="M1733.1,399.7 L1743.4,392.8 L1734.6,390.0 L1724.3,396.9Z" fill="#94ff66" stroke="#94ff66"/>
<path d="M1742.0,402.5 L1752.4,395.6 L1743.4,392.8 L1733.1,399.7Z" fill="#a3ff66" stroke="#a3ff66"/>
<path d="M1751.0,405.2 L1761.4,398.3 L1752.4,395.6 L1742.0,402.5Z" fill="#b2ff66" stroke="#b2ff66"/>
<path d="M1760.0,407.9 L1770.5,401.0 L1761.4,398.3 L1751.0,405.2Z" fill="#c1ff66" stroke="#c1ff66"/>
<path d="M1769.2,410.5 L1779.6,403.6 L1770.5,401.0 L1760.0,407.9Z" fill="#d1ff66" stroke="#d1ff66"/>
<path d="M1778.4,413.1 L1788.9,406.1 L1779.6,403.6 L1769.2,410.5Z" fill="#e1ff66" stroke="#e1ff66"/>
<path d="M1787.8,415.6 L1798.3,408.7 L1788.9,406.1 L1778.4,413.1Z" fill="#f1ff66" stroke="#f1ff66"/>
<path d="M1797.2,418.1 L1807.8,411.1 L1798.3,408.7 L1787.8,415.6Z" fill="#fffd66" stroke="#fffd66"/>
<path d="M1806.7,420.6 L1817.3,413.5 L1807.8,411.1 L1797.2,418.1Z" fill="#ffec66" stroke="#ffec66"/>
<path d="M1816.4,422.9 L1827.0,415.9 L1817.3,413.5 L1806.7,420.6Z" fill="#ffdb66" stroke="#ffdb66"/>
<path d="M1826.1,425.3 L1836.8,418.2 L1827.0,415.9 L1816.4,422.9Z" fill="#ffca66" stroke="#ffca66"/>
<path d="M1836.0,427.5 L1846.7,420.5 L1836.8,418.2 L1826.1,425.3Z" fill="#ffb966" stroke="#ffb966"/>
<path d="M1845.9,429.8 L1856.7,422.7 L1846.7,420.5 L1836.0,427.5Z" fill="#ffa766" stroke="#ffa766"/>
<path d="M1509.6,313.7 L1519.1,307.1 L1512.0,303.1 L1502.4,309.6Z" fill="#6694ff" stroke="#6694ff"/>
<path d="M1516.8,317.7 L1526.4,311.2 L1519.1,307.1 L1509.6,313.7Z" fill="#669bff" stroke="#669bff"/>
<path d="M1524.0,321.7 L1533.6,315.1 L1526.4,311.2 L1516.8,317.7Z" fill="#66a3ff" stroke="#66a3ff"/>
<path d="M1531.3,325.6 L1540.9,319.0 L1533.6,315.1 L1524.0,321.7Z" fill="#66acff" stroke="#66acff"/>
<path d="M1538.6,329.5 L1548.3,322.9 L1540.9,319.0 L1531.3,325.6Z" fill="#66b4ff" stroke="#66b4ff"/>
<path d="M1546.0,333.3 L1555.7,326.8 L1548.3,322.9 L1538.6,329.5Z" fill="#66bdff" stroke="#66bdff"/>
<path d="M1553.4,337.1 L1563.1,330.5 L1555.7,326.8 L1546.0,333.3Z" fill="#66c6ff" stroke="#66c6ff"/>
<path d="M1560.9,340.9 L1570.6,334.3 L1563.1,330.5 L1553.4,337.1Z" fill="#66cfff" stroke="#66cfff"/>
<path d="M1568.4,344.6 L1578.2,338.0 L1570.6,334.3 L1560.9,340.9Z" fill="#66d9ff" stroke="#66d9ff"/>
<path d="M1576.0,348.3 L1585.8,341.6 L1578.2,338.0 L1568.4,344.6Z" fill="#66e3ff" stroke="#66e3ff"/>
<path d="M1583.6,351.9 L1593.4,345.3 L1585.8,341.6 L1576.0,348.3Z" fill="#66edff" stroke="#66edff"/>
<path d="M1591.3,355.5 L1601.1,348.8 L1593.4,345.3 L1583.6,351.9Z" fill="#66f7ff" stroke="#66f7ff"/>
<path d="M1599.0,359.0 L1608.9,352.3 L1601.1,348.8 L1591.3,355.5Z" fill="#66fffc" stroke="#66fffc"/>
<path d="M1606.8,362.5 L1616.7,355.8 L1608.9,352.3 L1599.0,359.0Z" fill="#66fff1" stroke="#66fff1"/>
<path d="M1614.7,365.9 L1624.6,359.3 L1616.7,355.8 L1606.8,362.5Z" fill="#66ffe6" stroke="#66ffe6"/>
<path d="M1622.6,369.3 L1632.5,362.6 L1624.6,359.3 L1614.7,365.9Z" fill="#66ffdb" stroke="#66ffdb"/>
<path d="M1630.5,372.7 L1640.5,366.0 L1632.5,362.6 L1622.6,369.3Z" fill="#66ffcf" stroke="#66ffcf"/>
<path d="M1638.6,376.0 L1648.6,369.3 L1640.5,366.0 L1630.5,372.7Z" fill="#66ffc3" stroke="#66ffc3"/>
<path d="M1646.7,379.2 L1656.7,372.5 L1648.6,369.3 L1638.6,376.0Z" fill="#66ffb7" stroke="#66ffb7"/>
<path d="M1654.8,382.5 L1664.9,375.7 L1656.7,372.5 L1646.7,379.2Z" fill="#66ffaa" stroke="#66ffaa"/>
<path d="M1663.1,385.6 L1673.2,378.9 L1664.9,375.7 L1654.8,382.5Z" fill="#66ff9d" stroke="#66ff9d"/>
<path d="M1671.4,388.7 L1681.5,382.0 L1673.2,378.9 L1663.1,385.6Z" fill="#66ff90" stroke="#66ff90"/>
<path d="M1679.7,391.8 L1689.9,385.1 L1681.5,382.0 L1671.4,388.7Z" fill="#66ff83" stroke="#66ff83"/>
<path d="M1688.2,394.9 L1698.4,388.1 L1689.9,385.1 L1679.7,391.8Z" fill="#66ff76" stroke="#66ff76"/>
<path d="M1696.7,397.8 L1707.0,391.1 L1698.4,388.1 L1688.2,394.9Z" fill="#66ff68" stroke="#66ff68"/>
<path d="M1705.3,400.8 L1715.6,394.0 L1707.0,391.1 L1696.7,397.8Z" fill="#72ff66" stroke="#72ff66"/>
<path d="M1714.0,403.7 L1724.3,396.9 L1715.6,394.0 L1705.3,400.8Z" fill="#81ff66" stroke="#81ff66"/>
<path d="M1722.8,406.5 L1733.1,399.7 L1724.3,396.9 L1714.0,403.7Z" fill="#8fff66" stroke="#8fff66"/>
<path d="M1731.6,409.3 L1742.0,402.5 L1733.1,399.7 L1722.8,406.5Z" fill="#9eff66" stroke="#9eff66"/>
<path d="M1740.6,412.1 L1751.0,405.2 L1742.0,402.5 L1731.6,409.3Z" fill="#adff66" stroke="#adff66"/>
<path d="M1749.6,414.8 L1760.0,407.9 L1751.0,405.2 L1740.6,412.1Z" fill="#bcff66" stroke="#bcff66"/>
<path d="M1758.7,417.4 L1769.2,410.5 L1760.0,407.9 L1749.6,414.8Z" fill="#ccff66" stroke="#ccff66"/>
<path d="M1767.9,420.0 L1778.4,413.1 L1769.2,410.5 L1758.7,417.4Z" fill="#dcff66" stroke="#dcff66"/>
<path d="M1777.2,422.6 L1787.8,415.6 L1778.4,413.1 L1767.9,420.0Z" fill="#ecff66" stroke="#ecff66"/>
<path d="M1786.6,425.1 L1797.2,418.1 L1787.8,415.6 L1777.2,422.6Z" fill="#fdff66" stroke="#fdff66"/>
<path d="M1796.1,427.5 L1806.7,420.6 L1797.2,418.1 L1786.6,425.1Z" fill="#fff166" stroke="#fff166"/>
<path d="M1805.7,429.9 L1816.4,422.9 L1806.7,420.6 L1796.1,427.5Z" fill="#ffe066" stroke="#ffe066"/>
<path d="M1815.4,432.3 L1826.1,425.3 L1816.4,422.9 L1805.7,429.9Z" fill="#ffce66" stroke="#ffce66"/>
<path d="M1825.2,434.6 L1836.0,427.5 L1826.1,425.3 L1815.4,432.3Z" fill="#ffbd66" stroke="#ffbd66"/>
<path d="M1835.1,436.8 L1845.9,429.8 L1836.0,427.5 L1825.2,434.6Z" fill="#ffab66" stroke="#ffab66"/>
<path d="M1500.0,320.2 L1509.6,313.7 L1502.4,309.6 L1492.9,316.1Z" fill="#668dff" stroke="#668dff"/>
<path d="M1507.2,324.2 L1516.8,317.7 L1509.6,313.7 L1500.0,320.2Z" fill="#6695ff" stroke="#6695ff"/>
<path d="M1514.4,328.2 L1524.0,321.7 L1516.8,317.7 L1507.2,324.2Z" fill="#669dff" stroke="#669dff"/>
<path d="M1521.7,332.1 L1531.3,325.6 L1524.0,321.7 L1514.4,328.2Z" fill="#66a5ff" stroke="#66a5ff"/>
<path d="M1529.0,336.0 L1538.6,329.5 L1531.3,325.6 L1521.7,332.1Z" fill="#66aeff" stroke="#66aeff"/>
<path d="M1536.3,339.9 L1546.0,333.3 L1538.6,329.5 L1529.0,336.0Z" fill="#66b7ff" stroke="#66b7ff"/>
<path d="M1543.7,343.7 L1553.4,337.1 L1546.0,333.3 L1536.3,339.9Z" fill="#66c0ff" stroke="#66c0ff"/>
<path d="M1551.1,347.4 L1560.9,340.9 L1553.4,337.1 L1543.7,343.7Z" fill="#66c9ff" stroke="#66c9ff"/>
<path d="M1558.6,351.2 L1568.4,344.6 L1560.9,340.9 L1551.1,347.4Z" fill="#66d3ff" stroke="#66d3ff"/>
<path d="M1566.2,354.8 L1576.0,348.3 L1568.4,344.6 L1558.6,351.2Z" fill="#66ddff" stroke="#66ddff"/>
<path d="M1573.8,358.5 L1583.6,351.9 L1576.0,348.3 L1566.2,354.8Z" fill="#66e7ff" stroke="#66e7ff"/>
<path d="M1581.4,362.1 L1591.3,355.5 L1583.6,351.9 L1573.8,358.5Z" fill="#66f1ff" stroke="#66f1ff"/>
<path d="M1589.1,365.6 L1599.0,359.0 L1591.3,355.5 L1581.4,362.1Z" fill="#66fcff" stroke="#66fcff"/>
<path d="M1596.9,369.1 L1606.8,362.5 L1599.0,359.0 L1589.1,365.6Z" fill="#66fff7" stroke="#66fff7"/>
<path d="M1604.7,372.5 L1614.7,365.9 L1606.8,362.5 L1596.9,369.1Z" fill="#66ffec" stroke="#66ffec"/>
<path d="M1612.6,376.0 L1622.6,369.3 L1614.7,365.9 L1604.7,372.5Z" fill="#66ffe0" stroke="#66ffe0"/>
<path d="M1620.5,379.3 L1630.5,372.7 L1622.6,369.3 L1612.6,376.0Z" fill="#66ffd4" stroke="#66ffd4"/>
<path d="M1628.5,382.6 L1638.6,376.0 L1630.5,372.7 L1620.5,379.3Z" fill="#66ffc8" stroke="#66ffc8"/>
<path d="M1636.6,385.9 L1646.7,379.2 L1638.6,376.0 L1628.5,382.6Z" fill="#66ffbc" stroke="#66ffbc"/>
<path d="M1644.7,389.1 L1654.8,382.5 L1646.7,379.2 L1636.6,385.9Z" fill="#66ffb0" stroke="#66ffb0"/>
<path d="M1652.9,392.3 L1663.1,385.6 L1654.8,382.5 L1644.7,389.1Z" fill="#66ffa3" stroke="#66ffa3"/>
<path d="M1661.2,395.5 L1671.4,388.7 L1663.1,385.6 L1652.9,392.3Z" fill="#66ff96" stroke="#66ff96"/>
<path d="M1669.6,398.5 L1679.7,391.8 L1671.4,388.7 L1661.2,395.5Z" fill="#66ff88" stroke="#66ff88"/>
<path d="M1678.0,401.6 L1688.2,394.9 L1679.7,391.8 L1669.6,398.5Z" fill="#66ff7b" stroke="#66ff7b"/>
<path d="M1686.5,404.6 L1696.7,397.8 L1688.2,394.9 L1678.0,401.6Z" fill="#66ff6d" stroke="#66ff6d"/>
<path d="M1695.0,407.5 L1705.3,400.8 L1696.7,397.8 L1686.5,404.6Z" fill="#6dff66" stroke="#6dff66"/>
<path d="M1703.7,410.5 L1714.0,403.7 L1705.3,400.8 L1695.0,407.5Z" fill="#7cff66" stroke="#7cff66"/>
<path d="M1712.4,413.3 L1722.8,406.5 L1714.0,403.7 L1703.7,410.5Z" fill="#8aff66" stroke="#8aff66"/>
<path d="M1721.2,416.1 L1731.6,409.3 L1722.8,406.5 L1712.4,413.3Z" fill="#99ff66" stroke="#99ff66"/>
<path d="M1730.1,418.9 L1740.6,412.1 L1731.6,409.3 L1721.2,416.1Z" fill="#a8ff66" stroke="#a8ff66"/>
<path d="M1739.1,421.6 L1749.6,414.8 L1740.6,412.1 L1730.1,418.9Z" fill="#b8ff66" stroke="#b8ff66"/>
<path d="M1748.2,424.3 L1758.7,417.4 L1749.6,414.8 L1739.1,421.6Z" fill="#c8ff66" stroke="#c8ff66"/>
<path d="M1757.3,426.9 L1767.9,420.0 L1758.7,417.4 L1748.2,424.3Z" fill="#d8ff66" stroke="#d8ff66"/>
<path d="M1766.6,429.5 L1777.2,422.6 L1767.9,420.0 L1757.3,426.9Z" fill="#e8ff66" stroke="#e8ff66"/>
<path d="M1776.0,432.0 L1786.6,425.1 L1777.2,422.6 L1766.6,429.5Z" fill="#f8ff66" stroke="#f8ff66"/>
<path d="M1785.4,434.4 L1796.1,427.5 L1786.6,425.1 L1776.0,432.0Z" fill="#fff566" stroke="#fff566"/>
<path d="M1795.0,436.9 L1805.7,429.9 L1796.1,427.5 L1785.4,434.4Z" fill="#ffe466" stroke="#ffe466"/>
<path d="M1804.7,439.2 L1815.4,432.3 L1805.7,429.9 L1795.0,436.9Z" fill="#ffd366" stroke="#ffd366"/>
<path d="M1814.4,441.5 L1825.2,434.6 L1815.4,432.3 L1804.7,439.2Z" fill="#ffc166" stroke="#ffc166"/>
<path d="M1824.3,443.8 L1835.1,436.8 L1825.2,434.6 L1814.4,441.5Z" fill="#ffaf66" stroke="#ffaf66"/>
<path d="M1490.4,326.7 L1500.0,320.2 L1492.9,316.1 L1483.3,322.6Z" fill="#6687ff" stroke="#6687ff"/>
<path d="M1497.6,330.7 L1507.2,324.2 L1500.0,320.2 L1490.4,326.7Z" fill="#668eff" stroke="#668eff"/>
<path d="M1504.8,334.7 L1514.4,328.2 L1507.2,324.2 L1497.6,330.7Z" fill="#6697ff" stroke="#6697ff"/>
<path d="M1512.0,338.6 L1521.7,332.1 L1514.4,328.2 L1504.8,334.7Z" fill="#669fff" stroke="#669fff"/>
<path d="M1519.3,342.5 L1529.0,336.0 L1521.7,332.1 L1512.0,338.6Z" fill="#66a8ff" stroke="#66a8ff"/>
<path d="M1526.6,346.4 L1536.3,339.9 L1529.0,336.0 L1519.3,342.5Z" fill="#66b1ff" stroke="#66b1ff"/>
<path d="M1534.0,350.2 L1543.7,343.7 L1536.3,339.9 L1526.6,346.4Z" fill="#66baff" stroke="#66baff"/>
<path d="M1541.4,354.0 L1551.1,347.4 L1543.7,343.7 L1534.0,350.2Z" fill="#66c3ff" stroke="#66c3ff"/>
<path d="M1548.8,357.7 L1558.6,351.2 L1551.1,347.4 L1541.4,354.0Z" fill="#66cdff" stroke="#66cdff"/>
<path d="M1556.3,361.4 L1566.2,354.8 L1558.6,351.2 L1548.8,357.7Z" fill="#66d7ff" stroke="#66d7ff"/>
<path d="M1563.9,365.0 L1573.8,358.5 L1566.2,354.8 L1556.3,361.4Z" fill="#66e1ff" stroke="#66e1ff"/>
<path d="M1571.5,368.6 L1581.4,362.1 L1573.8,358.5 L1563.9,365.0Z" fill="#66ecff" stroke="#66ecff"/>
<path d="M1579.2,372.2 L1589.1,365.6 L1581.4,362.1 L1571.5,368.6Z" fill="#66f7ff" stroke="#66f7ff"/>
<path d="M1586.9,375.7 L1596.9,369.1 L1589.1,365.6 L1579.2,372.2Z" fill="#66fffc" stroke="#66fffc"/>
<path d="M1594.7,379.1 L1604.7,372.5 L1596.9,369.1 L1586.9,375.7Z" fill="#66fff1" stroke="#66fff1"/>
<path d="M1602.6,382.5 L1612.6,376.0 L1604.7,372.5 L1594.7,379.1Z" fill="#66ffe6" stroke="#66ffe6"/>
<path d="M1610.5,385.9 L1620.5,379.3 L1612.6,376.0 L1602.6,382.5Z" fill="#66ffda" stroke="#66ffda"/>
<path d="M1618.5,389.3 L1628.5,382.6 L1620.5,379.3 L1610.5,385.9Z" fill="#66ffce" stroke="#66ffce"/>
<path d="M1626.5,392.5 L1636.6,385.9 L1628.5,382.6 L1618.5,389.3Z" fill="#66ffc1" stroke="#66ffc1"/>
<path d="M1634.6,395.8 L1644.7,389.1 L1636.6,385.9 L1626.5,392.5Z" fill="#66ffb5" stroke="#66ffb5"/>
<path d="M1642.8,399.0 L1652.9,392.3 L1644.7,389.1 L1634.6,395.8Z" fill="#66ffa8" stroke="#66ffa8"/>
<path d="M1651.0,402.1 L1661.2,395.5 L1652.9,392.3 L1642.8,399.0Z" fill="#66ff9b" stroke="#66ff9b"/>
<path d="M1659.3,405.2 L1669.6,398.5 L1661.2,395.5 L1651.0,402.1Z" fill="#66ff8d" stroke="#66ff8d"/>
<path d="M1667.7,408.3 L1678.0,401.6 L1669.6,398.5 L1659.3,405.2Z" fill="#66ff80" stroke="#66ff80"/>
<path d="M1676.2,411.3 L1686.5,404.6 L1678.0,401.6 L1667.7,408.3Z" fill="#66ff72" stroke="#66ff72"/>
<path d="M1684.7,414.3 L1695.0,407.5 L1686.5,404.6 L1676.2,411.3Z" fill="#69ff66" stroke="#69ff66"/>
<path d="M1693.3,417.2 L1703.7,410.5 L1695.0,407.5 L1684.7,414.3Z" fill="#77ff66" stroke="#77ff66"/>
<path d="M1702.0,420.1 L1712.4,413.3 L1703.7,410.5 L1693.3,417.2Z" fill="#86ff66" stroke="#86ff66"/>
<path d="M1710.8,422.9 L1721.2,416.1 L1712.4,413.3 L1702.0,420.1Z" fill="#95ff66" stroke="#95ff66"/>
<path d="M1719.7,425.7 L1730.1,418.9 L1721.2,416.1 L1710.8,422.9Z" fill="#a4ff66" stroke="#a4ff66"/>
<path d="M1728.6,428.4 L1739.1,421.6 L1730.1,418.9 L1719.7,425.7Z" fill="#b4ff66" stroke="#b4ff66"/>
<path d="M1737.6,431.1 L1748.2,424.3 L1739.1,421.6 L1728.6,428.4Z" fill="#c3ff66" stroke="#c3ff66"/>
<path d="M1746.8,433.7 L1757.3,426.9 L1748.2,424.3 L1737.6,431.1Z" fill="#d3ff66" stroke="#d3ff66"/>
<path d="M1756.0,436.3 L1766.6,429.5 L1757.3,426.9 L1746.8,433.7Z" fill="#e4ff66" stroke="#e4ff66"/>
<path d="M1765.3,438.8 L1776.0,432.0 L1766.6,429.5 L1756.0,436.3Z" fill="#f4ff66" stroke="#f4ff66"/>
<path d="M1774.7,441.3 L1785.4,434.4 L1776.0,432.0 L1765.3,438.8Z" fill="#fff966" stroke="#fff966"/>
<path d="M1784.3,443.8 L1795.0,436.9 L1785.4,434.4 L1774.7,441.3Z" fill="#ffe866" stroke="#ffe866"/>
<path d="M1793.9,446.2 L1804.7,439.2 L1795.0,436.9 L1784.3,443.8Z" fill="#ffd766" stroke="#ffd766"/>
<path d="M1803.6,448.5 L1814.4,441.5 L1804.7,439.2 L1793.9,446.2Z" fill="#ffc566" stroke="#ffc566"/>
<path d="M1813.5,450.8 L1824.3,443.8 L1814.4,441.5 L1803.6,448.5Z" fill="#ffb366" stroke="#ffb366"/>
<path d="M1480.8,333.1 L1490.4,326.7 L1483.3,322.6 L1473.8,329.0Z" fill="#6680ff" stroke="#6680ff"/>
<path d="M1488.0,337.1 L1497.6,330.7 L1490.4,326.7 L1480.8,333.1Z" fill="#6688ff" stroke="#6688ff"/>
<path d="M1495.1,341.1 L1504.8,334.7 L1497.6,330.7 L1488.0,337.1Z" fill="#6690ff" stroke="#6690ff"/>
<path d="M1502.3,345.1 L1512.0,338.6 L1504.8,334.7 L1495.1,341.1Z" fill="#6699ff" stroke="#6699ff"/>
<path d="M1509.6,349.0 L1519.3,342.5 L1512.0,338.6 L1502.3,345.1Z" fill="#66a2ff" stroke="#66a2ff"/>
<path d="M1516.9,352.8 L1526.6,346.4 L1519.3,342.5 L1509.6,349.0Z" fill="#66abff" stroke="#66abff"/>
<path d="M1524.2,356.7 L1534.0,350.2 L1526.6,346.4 L1516.9,352.8Z" fill="#66b4ff" stroke="#66b4ff"/>
<path d="M1531.6,360.4 L1541.4,354.0 L1534.0,350.2 L1524.2,356.7Z" fill="#66beff" stroke="#66beff"/>
<path d="M1539.0,364.2 L1548.8,357.7 L1541.4,354.0 L1531.6,360.4Z" fill="#66c7ff" stroke="#66c7ff"/>
<path d="M1546.5,367.9 L1556.3,361.4 L1548.8,357.7 L1539.0,364.2Z" fill="#66d1ff" stroke="#66d1ff"/>
<path d="M1554.0,371.5 L1563.9,365.0 L1556.3,361.4 L1546.5,367.9Z" fill="#66dcff" stroke="#66dcff"/>
<path d="M1561.6,375.1 L1571.5,368.6 L1563.9,365.0 L1554.0,371.5Z" fill="#66e6ff" stroke="#66e6ff"/>
<path d="M1569.3,378.7 L1579.2,372.2 L1571.5,368.6 L1561.6,375.1Z" fill="#66f1ff" stroke="#66f1ff"/>
<path d="M1577.0,382.2 L1586.9,375.7 L1579.2,372.2 L1569.3,378.7Z" fill="#66fcff" stroke="#66fcff"/>
<path d="M1584.7,385.7 L1594.7,379.1 L1586.9,375.7 L1577.0,382.2Z" fill="#66fff6" stroke="#66fff6"/>
<path d="M1592.6,389.1 L1602.6,382.5 L1594.7,379.1 L1584.7,385.7Z" fill="#66ffeb" stroke="#66ffeb"/>
<path d="M1600.4,392.5 L1610.5,385.9 L1602.6,382.5 L1592.6,389.1Z" fill="#66ffdf" stroke="#66ffdf"/>
<path d="M1608.4,395.8 L1618.5,389.3 L1610.5,385.9 L1600.4,392.5Z" fill="#66ffd3" stroke="#66ffd3"/>
<path d="M1616.4,399.1 L1626.5,392.5 L1618.5,389.3 L1608.4,395.8Z" fill="#66ffc6" stroke="#66ffc6"/>
<path d="M1624.5,402.4 L1634.6,395.8 L1626.5,392.5 L1616.4,399.1Z" fill="#66ffba" stroke="#66ffba"/>
<path d="M1632.6,405.6 L1642.8,399.0 L1634.6,395.8 L1624.5,402.4Z" fill="#66ffad" stroke="#66ffad"/>
<path d="M1640.8,408.8 L1651.0,402.1 L1642.8,399.0 L1632.6,405.6Z" fill="#66ff9f" stroke="#66ff9f"/>
<path d="M1649.1,411.9 L1659.3,405.2 L1651.0,402.1 L1640.8,408.8Z" fill="#66ff92" stroke="#66ff92"/>
<path d="M1657.4,414.9 L1667.7,408.3 L1659.3,405.2 L1649.1,411.9Z" fill="#66ff84" stroke="#66ff84"/>
<path d="M1665.9,418.0 L1676.2,411.3 L1667.7,408.3 L1657.4,414.9Z" fill="#66ff76" stroke="#66ff76"/>
<path d="M1674.4,421.0 L1684.7,414.3 L1676.2,411.3 L1665.9,418.0Z" fill="#66ff68" stroke="#66ff68"/>
<path d="M1682.9,423.9 L1693.3,417.2 L1684.7,414.3 L1674.4,421.0Z" fill="#73ff66" stroke="#73ff66"/>
<path d="M1691.6,426.8 L1702.0,420.1 L1693.3,417.2 L1682.9,423.9Z" fill="#81ff66" stroke="#81ff66"/>
<path d="M1700.3,429.6 L1710.8,422.9 L1702.0,420.1 L1691.6,426.8Z" fill="#90ff66" stroke="#90ff66"/>
<path d="M1709.2,432.4 L1719.7,425.7 L1710.8,422.9 L1700.3,429.6Z" fill="#a0ff66" stroke="#a0ff66"/>
<path d="M1718.1,435.2 L1728.6,428.4 L1719.7,425.7 L1709.2,432.4Z" fill="#afff66" stroke="#afff66"/>
<path d="M1727.1,437.9 L1737.6,431.1 L1728.6,428.4 L1718.1,435.2Z" fill="#bfff66" stroke="#bfff66"/>
<path d="M1736.2,440.5 L1746.8,433.7 L1737.6,431.1 L1727.1,437.9Z" fill="#cfff66" stroke="#cfff66"/>
<path d="M1745.4,443.1 L1756.0,436.3 L1746.8,433.7 L1736.2,440.5Z" fill="#e0ff66" stroke="#e0ff66"/>
<path d="M1754.7,445.7 L1765.3,438.8 L1756.0,436.3 L1745.4,443.1Z" fill="#f0ff66" stroke="#f0ff66"/>
<path d="M1764.0,448.2 L1774.7,441.3 L1765.3,438.8 L1754.7,445.7Z" fill="#fffd66" stroke="#fffd66"/>
<path d="M1773.5,450.6 L1784.3,443.8 L1774.7,441.3 L1764.0,448.2Z" fill="#ffec66" stroke="#ffec66"/>
<path d="M1783.1,453.0 L1793.9,446.2 L1784.3,443.8 L1773.5,450.6Z" fill="#ffda66" stroke="#ffda66"/>
<path d="M1792.8,455.4 L1803.6,448.5 L1793.9,446.2 L1783.1,453.0Z" fill="#ffc966" stroke="#ffc966"/>
<path d="M1802.6,457.7 L1813.5,450.8 L1803.6,448.5 L1792.8,455.4Z" fill="#ffb766" stroke="#ffb766"/>
<path d="M1471.2,339.5 L1480.8,333.1 L1473.8,329.0 L1464.2,335.4Z" fill="#667aff" stroke="#667aff"/>
<path d="M1478.3,343.5 L1488.0,337.1 L1480.8,333.1 L1471.2,339.5Z" fill="#6682ff" stroke="#6682ff"/>
<path d="M1485.4,347.5 L1495.1,341.1 L1488.0,337.1 L1478.3,343.5Z" fill="#668bff" stroke="#668bff"/>
<path d="M1492.6,351.5 L1502.3,345.1 L1495.1,341.1 L1485.4,347.5Z" fill="#6693ff" stroke="#6693ff"/>
<path d="M1499.8,355.4 L1509.6,349.0 L1502.3,345.1 L1492.6,351.5Z" fill="#669cff" stroke="#669cff"/>
<path d="M1507.1,359.3 L1516.9,352.8 L1509.6,349.0 L1499.8,355.4Z" fill="#66a5ff" stroke="#66a5ff"/>
<path d="M1514.4,363.1 L1524.2,356.7 L1516.9,352.8 L1507.1,359.3Z" fill="#66aeff" stroke="#66aeff"/>
<path d="M1521.8,366.9 L1531.6,360.4 L1524.2,356.7 L1514.4,363.1Z" fill="#66b8ff" stroke="#66b8ff"/>
<path d="M1529.2,370.6 L1539.0,364.2 L1531.6,360.4 L1521.8,366.9Z" fill="#66c2ff" stroke="#66c2ff"/>
<path d="M1536.6,374.3 L1546.5,367.9 L1539.0,364.2 L1529.2,370.6Z" fill="#66ccff" stroke="#66ccff"/>
<path d="M1544.1,378.0 L1554.0,371.5 L1546.5,367.9 L1536.6,374.3Z" fill="#66d6ff" stroke="#66d6ff"/>
<path d="M1551.7,381.6 L1561.6,375.1 L1554.0,371.5 L1544.1,378.0Z" fill="#66e1ff" stroke="#66e1ff"/>
<path d="M1559.3,385.2 L1569.3,378.7 L1561.6,375.1 L1551.7,381.6Z" fill="#66ecff" stroke="#66ecff"/>
<path d="M1567.0,388.7 L1577.0,382.2 L1569.3,378.7 L1559.3,385.2Z" fill="#66f7ff" stroke="#66f7ff"/>
<path d="M1574.7,392.2 L1584.7,385.7 L1577.0,382.2 L1567.0,388.7Z" fill="#66fffb" stroke="#66fffb"/>
<path d="M1582.5,395.6 L1592.6,389.1 L1584.7,385.7 L1574.7,392.2Z" fill="#66fff0" stroke="#66fff0"/>
<path d="M1590.4,399.0 L1600.4,392.5 L1592.6,389.1 L1582.5,395.6Z" fill="#66ffe4" stroke="#66ffe4"/>
<path d="M1598.3,402.4 L1608.4,395.8 L1600.4,392.5 L1590.4,399.0Z" fill="#66ffd8" stroke="#66ffd8"/>
<path d="M1606.3,405.7 L1616.4,399.1 L1608.4,395.8 L1598.3,402.4Z" fill="#66ffcb" stroke="#66ffcb"/>
<path d="M1614.3,408.9 L1624.5,402.4 L1616.4,399.1 L1606.3,405.7Z" fill="#66ffbe" stroke="#66ffbe"/>
<path d="M1622.4,412.2 L1632.6,405.6 L1624.5,402.4 L1614.3,408.9Z" fill="#66ffb1" stroke="#66ffb1"/>
<path d="M1630.6,415.3 L1640.8,408.8 L1632.6,405.6 L1622.4,412.2Z" fill="#66ffa4" stroke="#66ffa4"/>
<path d="M1638.8,418.5 L1649.1,411.9 L1640.8,408.8 L1630.6,415.3Z" fill="#66ff96" stroke="#66ff96"/>
<path d="M1647.1,421.6 L1657.4,414.9 L1649.1,411.9 L1638.8,418.5Z" fill="#66ff89" stroke="#66ff89"/>
<path d="M1655.5,424.6 L1665.9,418.0 L1657.4,414.9 L1647.1,421.6Z" fill="#66ff7b" stroke="#66ff7b"/>
<path d="M1664.0,427.6 L1674.4,421.0 L1665.9,418.0 L1655.5,424.6Z" fill="#66ff6c" stroke="#66ff6c"/>
<path d="M1672.5,430.6 L1682.9,423.9 L1674.4,421.0 L1664.0,427.6Z" fill="#6eff66" stroke="#6eff66"/>
<path d="M1681.2,433.5 L1691.6,426.8 L1682.9,423.9 L1672.5,430.6Z" fill="#7dff66" stroke="#7dff66"/>
<path d="M1689.9,436.3 L1700.3,429.6 L1691.6,426.8 L1681.2,433.5Z" fill="#8cff66" stroke="#8cff66"/>
<path d="M1698.7,439.1 L1709.2,432.4 L1700.3,429.6 L1689.9,436.3Z" fill="#9cff66" stroke="#9cff66"/>
<path d="M1707.5,441.9 L1718.1,435.2 L1709.2,432.4 L1698.7,439.1Z" fill="#abff66" stroke="#abff66"/>
<path d="M1716.5,444.6 L1727.1,437.9 L1718.1,435.2 L1707.5,441.9Z" fill="#bbff66" stroke="#bbff66"/>
<path d="M1725.6,447.3 L1736.2,440.5 L1727.1,437.9 L1716.5,444.6Z" fill="#cbff66" stroke="#cbff66"/>
<path d="M1734.7,449.9 L1745.4,443.1 L1736.2,440.5 L1725.6,447.3Z" fill="#dcff66" stroke="#dcff66"/>
<path d="M1744.0,452.5 L1754.7,445.7 L1745.4,443.1 L1734.7,449.9Z" fill="#edff66" stroke="#edff66"/>
<path d="M1753.3,455.0 L1764.0,448.2 L1754.7,445.7 L1744.0,452.5Z" fill="#feff66" stroke="#feff66"/>
<path d="M1762.7,457.5 L1773.5,450.6 L1764.0,448.2 L1753.3,455.0Z" fill="#ffef66" stroke="#ffef66"/>
<path d="M1772.3,459.9 L1783.1,453.0 L1773.5,450.6 L1762.7,457.5Z" fill="#ffde66" stroke="#ffde66"/>
<path d="M1781.9,462.3 L1792.8,455.4 L1783.1,453.0 L1772.3,459.9Z" fill="#ffcc66" stroke="#ffcc66"/>
<path d="M1791.7,464.6 L1802.6,457.7 L1792.8,455.4 L1781.9,462.3Z" fill="#ffba66" stroke="#ffba66"/>
<path d="M1461.6,345.8 L1471.2,339.5 L1464.2,335.4 L1454.5,341.7Z" fill="#6675ff" stroke="#6675ff"/>
<path d="M1468.6,349.9 L1478.3,343.5 L1471.2,339.5 L1461.6,345.8Z" fill="#667dff" stroke="#667dff"/>
<path d="M1475.7,353.9 L1485.4,347.5 L1478.3,343.5 L1468.6,349.9Z" fill="#6685ff" stroke="#6685ff"/>
<path d="M1482.9,357.8 L1492.6,351.5 L1485.4,347.5 L1475.7,353.9Z" fill="#668eff" stroke="#668eff"/>
<path d="M1490.1,361.8 L1499.8,355.4 L1492.6,351.5 L1482.9,357.8Z" fill="#6696ff" stroke="#6696ff"/>
<path d="M1497.3,365.6 L1507.1,359.3 L1499.8,355.4 L1490.1,361.8Z" fill="#66a0ff" stroke="#66a0ff"/>
<path d="M1504.6,369.5 L1514.4,363.1 L1507.1,359.3 L1497.3,365.6Z" fill="#66a9ff" stroke="#66a9ff"/>
<path d="M1511.9,373.3 L1521.8,366.9 L1514.4,363.1 L1504.6,369.5Z" fill="#66b3ff" stroke="#66b3ff"/>
<path d="M1519.3,377.0 L1529.2,370.6 L1521.8,366.9 L1511.9,373.3Z" fill="#66bdff" stroke="#66bdff"/>
<path d="M1526.7,380.7 L1536.6,374.3 L1529.2,370.6 L1519.3,377.0Z" fill="#66c7ff" stroke="#66c7ff"/>
<path d="M1534.2,384.4 L1544.1,378.0 L1536.6,374.3 L1526.7,380.7Z" fill="#66d1ff" stroke="#66d1ff"/>
<path d="M1541.8,388.0 L1551.7,381.6 L1544.1,378.0 L1534.2,384.4Z" fill="#66dcff" stroke="#66dcff"/>
<path d="M1549.3,391.6 L1559.3,385.2 L1551.7,381.6 L1541.8,388.0Z" fill="#66e7ff" stroke="#66e7ff"/>
<path d="M1557.0,395.1 L1567.0,388.7 L1559.3,385.2 L1549.3,391.6Z" fill="#66f2ff" stroke="#66f2ff"/>
<path d="M1564.7,398.6 L1574.7,392.2 L1567.0,388.7 L1557.0,395.1Z" fill="#66feff" stroke="#66feff"/>
<path d="M1572.5,402.1 L1582.5,395.6 L1574.7,392.2 L1564.7,398.6Z" fill="#66fff5" stroke="#66fff5"/>
<path d="M1580.3,405.5 L1590.4,399.0 L1582.5,395.6 L1572.5,402.1Z" fill="#66ffe9" stroke="#66ffe9"/>
<path d="M1588.1,408.9 L1598.3,402.4 L1590.4,399.0 L1580.3,405.5Z" fill="#66ffdc" stroke="#66ffdc"/>
<path d="M1596.1,412.2 L1606.3,405.7 L1598.3,402.4 L1588.1,408.9Z" fill="#66ffd0" stroke="#66ffd0"/>
<path d="M1604.1,415.5 L1614.3,408.9 L1606.3,405.7 L1596.1,412.2Z" fill="#66ffc3" stroke="#66ffc3"/>
<path d="M1612.2,418.7 L1622.4,412.2 L1614.3,408.9 L1604.1,415.5Z" fill="#66ffb6" stroke="#66ffb6"/>
<path d="M1620.3,421.9 L1630.6,415.3 L1622.4,412.2 L1612.2,418.7Z" fill="#66ffa8" stroke="#66ffa8"/>
<path d="M1628.5,425.0 L1638.8,418.5 L1630.6,415.3 L1620.3,421.9Z" fill="#66ff9b" stroke="#66ff9b"/>
<path d="M1636.8,428.1 L1647.1,421.6 L1638.8,418.5 L1628.5,425.0Z" fill="#66ff8d" stroke="#66ff8d"/>
<path d="M1645.2,431.2 L1655.5,424.6 L1647.1,421.6 L1636.8,428.1Z" fill="#66ff7f" stroke="#66ff7f"/>
<path d="M1653.6,434.2 L1664.0,427.6 L1655.5,424.6 L1645.2,431.2Z" fill="#66ff70" stroke="#66ff70"/>
<path d="M1662.1,437.2 L1672.5,430.6 L1664.0,427.6 L1653.6,434.2Z" fill="#6aff66" stroke="#6aff66"/>
<path d="M1670.7,440.1 L1681.2,433.5 L1672.5,430.6 L1662.1,437.2Z" fill="#79ff66" stroke="#79ff66"/>
<path d="M1679.4,443.0 L1689.9,436.3 L1681.2,433.5 L1670.7,440.1Z" fill="#88ff66" stroke="#88ff66"/>
<path d="M1688.1,445.8 L1698.7,439.1 L1689.9,436.3 L1679.4,443.0Z" fill="#98ff66" stroke="#98ff66"/>
<path d="M1697.0,448.6 L1707.5,441.9 L1698.7,439.1 L1688.1,445.8Z" fill="#a8ff66" stroke="#a8ff66"/>
<path d="M1705.9,451.3 L1716.5,444.6 L1707.5,441.9 L1697.0,448.6Z" fill="#b8ff66" stroke="#b8ff66"/>
<path d="M1714.9,454.0 L1725.6,447.3 L1716.5,444.6 L1705.9,451.3Z" fill="#c8ff66" stroke="#c8ff66"/>
<path d="M1724.0,456.6 L1734.7,449.9 L1725.6,447.3 L1714.9,454.0Z" fill="#d8ff66" stroke="#d8ff66"/>
<path d="M1733.2,459.2 L1744.0,452.5 L1734.7,449.9 L1724.0,456.6Z" fill="#e9ff66" stroke="#e9ff66"/>
<path d="M1742.5,461.8 L1753.3,455.0 L1744.0,452.5 L1733.2,459.2Z" fill="#faff66" stroke="#faff66"/>
<path d="M1751.9,464.3 L1762.7,457.5 L1753.3,455.0 L1742.5,461.8Z" fill="#fff366" stroke="#fff366"/>
<path d="M1761.4,466.7 L1772.3,459.9 L1762.7,457.5 L1751.9,464.3Z" fill="#ffe166" stroke="#ffe166"/>
<path d="M1771.1,469.1 L1781.9,462.3 L1772.3,459.9 L1761.4,466.7Z" fill="#ffcf66" stroke="#ffcf66"/>
<path d="M1780.8,471.5 L1791.7,464.6 L1781.9,462.3 L1771.1,469.1Z" fill="#ffbd66" stroke="#ffbd66"/>
<path d="M1451.9,352.1 L1461.6,345.8 L1454.5,341.7 L1444.9,348.0Z" fill="#666fff" stroke="#666fff"/>
<path d="M1458.9,356.2 L1468.6,349.9 L1461.6,345.8 L1451.9,352.1Z" fill="#6677ff" stroke="#6677ff"/>
<path d="M1466.0,360.2 L1475.7,353.9 L1468.6,349.9 L1458.9,356.2Z" fill="#667fff" stroke="#667fff"/>
<path d="M1473.1,364.2 L1482.9,357.8 L1475.7,353.9 L1466.0,360.2Z" fill="#6688ff" stroke="#6688ff"/>
<path d="M1480.3,368.1 L1490.1,361.8 L1482.9,357.8 L1473.1,364.2Z" fill="#6691ff" stroke="#6691ff"/>
<path d="M1487.5,372.0 L1497.3,365.6 L1490.1,361.8 L1480.3,368.1Z" fill="#669aff" stroke="#669aff"/>
<path d="M1494.8,375.8 L1504.6,369.5 L1497.3,365.6 L1487.5,372.0Z" fill="#66a4ff" stroke="#66a4ff"/>
<path d="M1502.1,379.6 L1511.9,373.3 L1504.6,369.5 L1494.8,375.8Z" fill="#66aeff" stroke="#66aeff"/>
<path d="M1509.4,383.4 L1519.3,377.0 L1511.9,373.3 L1502.1,379.6Z" fill="#66b8ff" stroke="#66b8ff"/>
<path d="M1516.8,387.1 L1526.7,380.7 L1519.3,377.0 L1509.4,383.4Z" fill="#66c2ff" stroke="#66c2ff"/>
<path d="M1524.3,390.8 L1534.2,384.4 L1526.7,380.7 L1516.8,387.1Z" fill="#66ccff" stroke="#66ccff"/>
<path d="M1531.8,394.4 L1541.8,388.0 L1534.2,384.4 L1524.3,390.8Z" fill="#66d7ff" stroke="#66d7ff"/>
<path d="M1539.3,398.0 L1549.3,391.6 L1541.8,388.0 L1531.8,394.4Z" fill="#66e2ff" stroke="#66e2ff"/>
<path d="M1547.0,401.6 L1557.0,395.1 L1549.3,391.6 L1539.3,398.0Z" fill="#66edff" stroke="#66edff"/>
<path d="M1554.6,405.1 L1564.7,398.6 L1557.0,395.1 L1547.0,401.6Z" fill="#66f9ff" stroke="#66f9ff"/>
<path d="M1562.4,408.5 L1572.5,402.1 L1564.7,398.6 L1554.6,405.1Z" fill="#66fff9" stroke="#66fff9"/>
<path d="M1570.1,412.0 L1580.3,405.5 L1572.5,402.1 L1562.4,408.5Z" fill="#66ffed" stroke="#66ffed"/>
<path d="M1578.0,415.3 L1588.1,408.9 L1580.3,405.5 L1570.1,412.0Z" fill="#66ffe1" stroke="#66ffe1"/>
<path d="M1585.9,418.7 L1596.1,412.2 L1588.1,408.9 L1578.0,415.3Z" fill="#66ffd4" stroke="#66ffd4"/>
<path d="M1593.9,422.0 L1604.1,415.5 L1596.1,412.2 L1585.9,418.7Z" fill="#66ffc7" stroke="#66ffc7"/>
<path d="M1601.9,425.2 L1612.2,418.7 L1604.1,415.5 L1593.9,422.0Z" fill="#66ffba" stroke="#66ffba"/>
<path d="M1610.0,428.4 L1620.3,421.9 L1612.2,418.7 L1601.9,425.2Z" fill="#66ffad" stroke="#66ffad"/>
<path d="M1618.2,431.6 L1628.5,425.0 L1620.3,421.9 L1610.0,428.4Z" fill="#66ff9f" stroke="#66ff9f"/>
<path d="M1626.5,434.7 L1636.8,428.1 L1628.5,425.0 L1618.2,431.6Z" fill="#66ff91" stroke="#66ff91"/>
<path d="M1634.8,437.8 L1645.2,431.2 L1636.8,428.1 L1626.5,434.7Z" fill="#66ff83" stroke="#66ff83"/>
<path d="M1643.2,440.8 L1653.6,434.2 L1645.2,431.2 L1634.8,437.8Z" fill="#66ff74" stroke="#66ff74"/>
<path d="M1651.7,443.8 L1662.1,437.2 L1653.6,434.2 L1643.2,440.8Z" fill="#66ff66" stroke="#66ff66"/>
<path d="M1660.2,446.7 L1670.7,440.1 L1662.1,437.2 L1651.7,443.8Z" fill="#75ff66" stroke="#75ff66"/>
<path d="M1668.8,449.6 L1679.4,443.0 L1670.7,440.1 L1660.2,446.7Z" fill="#85ff66" stroke="#85ff66"/>
<path d="M1677.6,452.4 L1688.1,445.8 L1679.4,443.0 L1668.8,449.6Z" fill="#94ff66" stroke="#94ff66"/>
<path d="M1686.4,455.2 L1697.0,448.6 L1688.1,445.8 L1677.6,452.4Z" fill="#a4ff66" stroke="#a4ff66"/>
<path d="M1695.3,458.0 L1705.9,451.3 L1697.0,448.6 L1686.4,455.2Z" fill="#b4ff66" stroke="#b4ff66"/>
<path d="M1704.2,460.7 L1714.9,454.0 L1705.9,451.3 L1695.3,458.0Z" fill="#c4ff66" stroke="#c4ff66"/>
<path d="M1713.3,463.3 L1724.0,456.6 L1714.9,454.0 L1704.2,460.7Z" fill="#d5ff66" stroke="#d5ff66"/>
<path d="M1722.5,466.0 L1733.2,459.2 L1724.0,456.6 L1713.3,463.3Z" fill="#e6ff66" stroke="#e6ff66"/>
<path d="M1731.7,468.5 L1742.5,461.8 L1733.2,459.2 L1722.5,466.0Z" fill="#f7ff66" stroke="#f7ff66"/>
<path d="M1741.1,471.0 L1751.9,464.3 L1742.5,461.8 L1731.7,468.5Z" fill="#fff666" stroke="#fff666"/>
<path d="M1750.6,473.5 L1761.4,466.7 L1751.9,464.3 L1741.1,471.0Z" fill="#ffe466" stroke="#ffe466"/>
<path d="M1760.1,475.9 L1771.1,469.1 L1761.4,466.7 L1750.6,473.5Z" fill="#ffd266" stroke="#ffd266"/>
<path d="M1769.8,478.3 L1780.8,471.5 L1771.1,469.1 L1760.1,475.9Z" fill="#ffc066" stroke="#ffc066"/>
<path d="M1442.2,358.4 L1451.9,352.1 L1444.9,348.0 L1435.2,354.3Z" fill="#6669ff" stroke="#6669ff"/>
<path d="M1449.2,362.5 L1458.9,356.2 L1451.9,352.1 L1442.2,358.4Z" fill="#6672ff" stroke="#6672ff"/>
<path d="M1456.3,366.5 L1466.0,360.2 L1458.9,356.2 L1449.2,362.5Z" fill="#667aff" stroke="#667aff"/>
<path d="M1463.4,370.5 L1473.1,364.2 L1466.0,360.2 L1456.3,366.5Z" fill="#6683ff" stroke="#6683ff"/>
<path d="M1470.5,374.4 L1480.3,368.1 L1473.1,364.2 L1463.4,370.5Z" fill="#668cff" stroke="#668cff"/>
<path d="M1477.7,378.3 L1487.5,372.0 L1480.3,368.1 L1470.5,374.4Z" fill="#6695ff" stroke="#6695ff"/>
<path d="M1484.9,382.1 L1494.8,375.8 L1487.5,372.0 L1477.7,378.3Z" fill="#669fff" stroke="#669fff"/>
<path d="M1492.2,386.0 L1502.1,379.6 L1494.8,375.8 L1484.9,382.1Z" fill="#66a9ff" stroke="#66a9ff"/>
<path d="M1499.5,389.7 L1509.4,383.4 L1502.1,379.6 L1492.2,386.0Z" fill="#66b3ff" stroke="#66b3ff"/>
<path d="M1506.9,393.5 L1516.8,387.1 L1509.4,383.4 L1499.5,389.7Z" fill="#66bdff" stroke="#66bdff"/>
<path d="M1514.3,397.1 L1524.3,390.8 L1516.8,387.1 L1506.9,393.5Z" fill="#66c8ff" stroke="#66c8ff"/>
<path d="M1521.8,400.8 L1531.8,394.4 L1524.3,390.8 L1514.3,397.1Z" fill="#66d2ff" stroke="#66d2ff"/>
<path d="M1529.3,404.4 L1539.3,398.0 L1531.8,394.4 L1521.8,400.8Z" fill="#66deff" stroke="#66deff"/>
<path d="M1536.9,407.9 L1547.0,401.6 L1539.3,398.0 L1529.3,404.4Z" fill="#66e9ff" stroke="#66e9ff"/>
<path d="M1544.5,411.5 L1554.6,405.1 L1547.0,401.6 L1536.9,407.9Z" fill="#66f5ff" stroke="#66f5ff"/>
<path d="M1552.2,414.9 L1562.4,408.5 L1554.6,405.1 L1544.5,411.5Z" fill="#66fffe" stroke="#66fffe"/>
<path d="M1560.0,418.4 L1570.1,412.0 L1562.4,408.5 L1552.2,414.9Z" fill="#66fff1" stroke="#66fff1"/>
<path d="M1567.8,421.8 L1578.0,415.3 L1570.1,412.0 L1560.0,418.4Z" fill="#66ffe5" stroke="#66ffe5"/>
<path d="M1575.7,425.1 L1585.9,418.7 L1578.0,415.3 L1567.8,421.8Z" fill="#66ffd8" stroke="#66ffd8"/>
<path d="M1583.6,428.4 L1593.9,422.0 L1585.9,418.7 L1575.7,425.1Z" fill="#66ffcb" stroke="#66ffcb"/>
<path d="M1591.6,431.7 L1601.9,425.2 L1593.9,422.0 L1583.6,428.4Z" fill="#66ffbe" stroke="#66ffbe"/>
<path d="M1599.7,434.9 L1610.0,428.4 L1601.9,425.2 L1591.6,431.7Z" fill="#66ffb1" stroke="#66ffb1"/>
<path d="M1607.9,438.1 L1618.2,431.6 L1610.0,428.4 L1599.7,434.9Z" fill="#66ffa3" stroke="#66ffa3"/>
<path d="M1616.1,441.2 L1626.5,434.7 L1618.2,431.6 L1607.9,438.1Z" fill="#66ff95" stroke="#66ff95"/>
<path d="M1624.4,444.3 L1634.8,437.8 L1626.5,434.7 L1616.1,441.2Z" fill="#66ff87" stroke="#66ff87"/>
<path d="M1632.7,447.3 L1643.2,440.8 L1634.8,437.8 L1624.4,444.3Z" fill="#66ff78" stroke="#66ff78"/>
<path d="M1641.2,450.3 L1651.7,443.8 L1643.2,440.8 L1632.7,447.3Z" fill="#66ff69" stroke="#66ff69"/>
<path d="M1649.7,453.3 L1660.2,446.7 L1651.7,443.8 L1641.2,450.3Z" fill="#72ff66" stroke="#72ff66"/>
<path d="M1658.3,456.2 L1668.8,449.6 L1660.2,446.7 L1649.7,453.3Z" fill="#81ff66" stroke="#81ff66"/>
<path d="M1667.0,459.0 L1677.6,452.4 L1668.8,449.6 L1658.3,456.2Z" fill="#91ff66" stroke="#91ff66"/>
<path d="M1675.7,461.8 L1686.4,455.2 L1677.6,452.4 L1667.0,459.0Z" fill="#a1ff66" stroke="#a1ff66"/>
<path d="M1684.6,464.6 L1695.3,458.0 L1686.4,455.2 L1675.7,461.8Z" fill="#b1ff66" stroke="#b1ff66"/>
<path d="M1693.5,467.3 L1704.2,460.7 L1695.3,458.0 L1684.6,464.6Z" fill="#c1ff66" stroke="#c1ff66"/>
<path d="M1702.6,470.0 L1713.3,463.3 L1704.2,460.7 L1693.5,467.3Z" fill="#d2ff66" stroke="#d2ff66"/>
<path d="M1711.7,472.6 L1722.5,466.0 L1713.3,463.3 L1702.6,470.0Z" fill="#e3ff66" stroke="#e3ff66"/>
<path d="M1720.9,475.2 L1731.7,468.5 L1722.5,466.0 L1711.7,472.6Z" fill="#f4ff66" stroke="#f4ff66"/>
<path d="M1730.2,477.7 L1741.1,471.0 L1731.7,468.5 L1720.9,475.2Z" fill="#fff966" stroke="#fff966"/>
<path d="M1739.7,480.2 L1750.6,473.5 L1741.1,471.0 L1730.2,477.7Z" fill="#ffe766" stroke="#ffe766"/>
<path d="M1749.2,482.7 L1760.1,475.9 L1750.6,473.5 L1739.7,480.2Z" fill="#ffd566" stroke="#ffd566"/>
<path d="M1758.8,485.1 L1769.8,478.3 L1760.1,475.9 L1749.2,482.7Z" fill="#ffc366" stroke="#ffc366"/>
<path d="M1432.5,364.6 L1442.2,358.4 L1435.2,354.3 L1425.5,360.5Z" fill="#6666ff" stroke="#6666ff"/>
<path d="M1439.5,368.7 L1449.2,362.5 L1442.2,358.4 L1432.5,364.6Z" fill="#666dff" stroke="#666dff"/>
<path d="M1446.5,372.7 L1456.3,366.5 L1449.2,362.5 L1439.5,368.7Z" fill="#6675ff" stroke="#6675ff"/>
<path d="M1453.6,376.7 L1463.4,370.5 L1456.3,366.5 L1446.5,372.7Z" fill="#667eff" stroke="#667eff"/>
<path d="M1460.7,380.6 L1470.5,374.4 L1463.4,370.5 L1453.6,376.7Z" fill="#6687ff" stroke="#6687ff"/>
<path d="M1467.8,384.6 L1477.7,378.3 L1470.5,374.4 L1460.7,380.6Z" fill="#6690ff" stroke="#6690ff"/>
<path d="M1475.0,388.4 L1484.9,382.1 L1477.7,378.3 L1467.8,384.6Z" fill="#669aff" stroke="#669aff"/>
<path d="M1482.3,392.2 L1492.2,386.0 L1484.9,382.1 L1475.0,388.4Z" fill="#66a4ff" stroke="#66a4ff"/>
<path d="M1489.6,396.0 L1499.5,389.7 L1492.2,386.0 L1482.3,392.2Z" fill="#66aeff" stroke="#66aeff"/>
<path d="M1496.9,399.8 L1506.9,393.5 L1499.5,389.7 L1489.6,396.0Z" fill="#66b8ff" stroke="#66b8ff"/>
<path d="M1504.3,403.4 L1514.3,397.1 L1506.9,393.5 L1496.9,399.8Z" fill="#66c3ff" stroke="#66c3ff"/>
<path d="M1511.8,407.1 L1521.8,400.8 L1514.3,397.1 L1504.3,403.4Z" fill="#66ceff" stroke="#66ceff"/>
<path d="M1519.3,410.7 L1529.3,404.4 L1521.8,400.8 L1511.8,407.1Z" fill="#66d9ff" stroke="#66d9ff"/>
<path d="M1526.8,414.3 L1536.9,407.9 L1529.3,404.4 L1519.3,410.7Z" fill="#66e5ff" stroke="#66e5ff"/>
<path d="M1534.4,417.8 L1544.5,411.5 L1536.9,407.9 L1526.8,414.3Z" fill="#66f0ff" stroke="#66f0ff"/>
<path d="M1542.1,421.3 L1552.2,414.9 L1544.5,411.5 L1534.4,417.8Z" fill="#66fcff" stroke="#66fcff"/>
<path d="M1549.8,424.7 L1560.0,418.4 L1552.2,414.9 L1542.1,421.3Z" fill="#66fff5" stroke="#66fff5"/>
<path d="M1557.6,428.1 L1567.8,421.8 L1560.0,418.4 L1549.8,424.7Z" fill="#66ffe9" stroke="#66ffe9"/>
<path d="M1565.5,431.5 L1575.7,425.1 L1567.8,421.8 L1557.6,428.1Z" fill="#66ffdc" stroke="#66ffdc"/>
<path d="M1573.4,434.8 L1583.6,428.4 L1575.7,425.1 L1565.5,431.5Z" fill="#66ffcf" stroke="#66ffcf"/>
<path d="M1581.3,438.1 L1591.6,431.7 L1583.6,428.4 L1573.4,434.8Z" fill="#66ffc2" stroke="#66ffc2"/>
<path d="M1589.4,441.3 L1599.7,434.9 L1591.6,431.7 L1581.3,438.1Z" fill="#66ffb4" stroke="#66ffb4"/>
<path d="M1597.5,444.5 L1607.9,438.1 L1599.7,434.9 L1589.4,441.3Z" fill="#66ffa7" stroke="#66ffa7"/>
<path d="M1605.7,447.7 L1616.1,441.2 L1607.9,438.1 L1597.5,444.5Z" fill="#66ff98" stroke="#66ff98"/>
<path d="M1613.9,450.8 L1624.4,444.3 L1616.1,441.2 L1605.7,447.7Z" fill="#66ff8a" stroke="#66ff8a"/>
<path d="M1622.3,453.8 L1632.7,447.3 L1624.4,444.3 L1613.9,450.8Z" fill="#66ff7b" stroke="#66ff7b"/>
<path d="M1630.7,456.8 L1641.2,450.3 L1632.7,447.3 L1622.3,453.8Z" fill="#66ff6d" stroke="#66ff6d"/>
<path d="M1639.1,459.8 L1649.7,453.3 L1641.2,450.3 L1630.7,456.8Z" fill="#6fff66" stroke="#6fff66"/>
<path d="M1647.7,462.7 L1658.3,456.2 L1649.7,453.3 L1639.1,459.8Z" fill="#7eff66" stroke="#7eff66"/>
<path d="M1656.4,465.6 L1667.0,459.0 L1658.3,456.2 L1647.7,462.7Z" fill="#8eff66" stroke="#8eff66"/>
<path d="M1665.1,468.4 L1675.7,461.8 L1667.0,459.0 L1656.4,465.6Z" fill="#9dff66" stroke="#9dff66"/>
<path d="M1673.9,471.2 L1684.6,464.6 L1675.7,461.8 L1665.1,468.4Z" fill="#aeff66" stroke="#aeff66"/>
<path d="M1682.8,473.9 L1693.5,467.3 L1684.6,464.6 L1673.9,471.2Z" fill="#beff66" stroke="#beff66"/>
<path d="M1691.8,476.6 L1702.6,470.0 L1693.5,467.3 L1682.8,473.9Z" fill="#cfff66" stroke="#cfff66"/>
<path d="M1700.9,479.3 L1711.7,472.6 L1702.6,470.0 L1691.8,476.6Z" fill="#e0ff66" stroke="#e0ff66"/>
<path d="M1710.1,481.9 L1720.9,475.2 L1711.7,472.6 L1700.9,479.3Z" fill="#f1ff66" stroke="#f1ff66"/>
<path d="M1719.4,484.4 L1730.2,477.7 L1720.9,475.2 L1710.1,481.9Z" fill="#fffb66" stroke="#fffb66"/>
<path d="M1728.7,486.9 L1739.7,480.2 L1730.2,477.7 L1719.4,484.4Z" fill="#ffea66" stroke="#ffea66"/>
<path d="M1738.2,489.4 L1749.2,482.7 L1739.7,480.2 L1728.7,486.9Z" fill="#ffd866" stroke="#ffd866"/>
<path d="M1747.8,491.8 L1758.8,485.1 L1749.2,482.7 L1738.2,489.4Z" fill="#ffc566" stroke="#ffc566"/>
<path d="M1422.7,370.8 L1432.5,364.6 L1425.5,360.5 L1415.8,366.7Z" fill="#6666ff" stroke="#6666ff"/>
<path d="M1429.7,374.9 L1439.5,368.7 L1432.5,364.6 L1422.7,370.8Z" fill="#6668ff" stroke="#6668ff"/>
<path d="M1436.7,378.9 L1446.5,372.7 L1439.5,368.7 L1429.7,374.9Z" fill="#6670ff" stroke="#6670ff"/>
<path d="M1443.7,382.9 L1453.6,376.7 L1446.5,372.7 L1436.7,378.9Z" fill="#6679ff" stroke="#6679ff"/>
<path d="M1450.8,386.9 L1460.7,380.6 L1453.6,376.7 L1443.7,382.9Z" fill="#6682ff" stroke="#6682ff"/>
<path d="M1457.9,390.8 L1467.8,384.6 L1460.7,380.6 L1450.8,386.9Z" fill="#668cff" stroke="#668cff"/>
<path d="M1465.1,394.6 L1475.0,388.4 L1467.8,384.6 L1457.9,390.8Z" fill="#6695ff" stroke="#6695ff"/>
<path d="M1472.3,398.5 L1482.3,392.2 L1475.0,388.4 L1465.1,394.6Z" fill="#669fff" stroke="#669fff"/>
<path d="M1479.6,402.3 L1489.6,396.0 L1482.3,392.2 L1472.3,398.5Z" fill="#66aaff" stroke="#66aaff"/>
<path d="M1486.9,406.0 L1496.9,399.8 L1489.6,396.0 L1479.6,402.3Z" fill="#66b4ff" stroke="#66b4ff"/>
<path d="M1494.3,409.7 L1504.3,403.4 L1496.9,399.8 L1486.9,406.0Z" fill="#66bfff" stroke="#66bfff"/>
<path d="M1501.7,413.4 L1511.8,407.1 L1504.3,403.4 L1494.3,409.7Z" fill="#66caff" stroke="#66caff"/>
<path d="M1509.2,417.0 L1519.3,410.7 L1511.8,407.1 L1501.7,413.4Z" fill="#66d5ff" stroke="#66d5ff"/>
<path d="M1516.7,420.6 L1526.8,414.3 L1519.3,410.7 L1509.2,417.0Z" fill="#66e0ff" stroke="#66e0ff"/>
<path d="M1524.3,424.1 L1534.4,417.8 L1526.8,414.3 L1516.7,420.6Z" fill="#66ecff" stroke="#66ecff"/>
<path d="M1531.9,427.6 L1542.1,421.3 L1534.4,417.8 L1524.3,424.1Z" fill="#66f8ff" stroke="#66f8ff"/>
<path d="M1539.6,431.1 L1549.8,424.7 L1542.1,421.3 L1531.9,427.6Z" fill="#66fff9" stroke="#66fff9"/>
<path d="M1547.4,434.5 L1557.6,428.1 L1549.8,424.7 L1539.6,431.1Z" fill="#66ffed" stroke="#66ffed"/>
<path d="M1555.2,437.9 L1565.5,431.5 L1557.6,428.1 L1547.4,434.5Z" fill="#66ffe0" stroke="#66ffe0"/>
<path d="M1563.1,441.2 L1573.4,434.8 L1565.5,431.5 L1555.2,437.9Z" fill="#66ffd3" stroke="#66ffd3"/>
<path d="M1571.0,444.5 L1581.3,438.1 L1573.4,434.8 L1563.1,441.2Z" fill="#66ffc6" stroke="#66ffc6"/>
<path d="M1579.0,447.7 L1589.4,441.3 L1581.3,438.1 L1571.0,444.5Z" fill="#66ffb8" stroke="#66ffb8"/>
<path d="M1587.1,450.9 L1597.5,444.5 L1589.4,441.3 L1579.0,447.7Z" fill="#66ffaa" stroke="#66ffaa"/>
<path d="M1595.2,454.1 L1605.7,447.7 L1597.5,444.5 L1587.1,450.9Z" fill="#66ff9c" stroke="#66ff9c"/>
<path d="M1603.5,457.2 L1613.9,450.8 L1605.7,447.7 L1595.2,454.1Z" fill="#66ff8d" stroke="#66ff8d"/>
<path d="M1611.8,460.3 L1622.3,453.8 L1613.9,450.8 L1603.5,457.2Z" fill="#66ff7f" stroke="#66ff7f"/>
<path d="M1620.1,463.3 L1630.7,456.8 L1622.3,453.8 L1611.8,460.3Z" fill="#66ff70" stroke="#66ff70"/>
<path d="M1628.6,466.3 L1639.1,459.8 L1630.7,456.8 L1620.1,463.3Z" fill="#6bff66" stroke="#6bff66"/>
<path d="M1637.1,469.2 L1647.7,462.7 L1639.1,459.8 L1628.6,466.3Z" fill="#7bff66" stroke="#7bff66"/>
<path d="M1645.7,472.1 L1656.4,465.6 L1647.7,462.7 L1637.1,469.2Z" fill="#8bff66" stroke="#8bff66"/>
<path d="M1654.4,475.0 L1665.1,468.4 L1656.4,465.6 L1645.7,472.1Z" fill="#9bff66" stroke="#9bff66"/>
<path d="M1663.2,477.8 L1673.9,471.2 L1665.1,468.4 L1654.4,475.0Z" fill="#abff66" stroke="#abff66"/>
<path d="M1672.0,480.5 L1682.8,473.9 L1673.9,471.2 L1663.2,477.8Z" fill="#bbff66" stroke="#bbff66"/>
<path d="M1681.0,483.2 L1691.8,476.6 L1682.8,473.9 L1672.0,480.5Z" fill="#ccff66" stroke="#ccff66"/>
<path d="M1690.0,485.9 L1700.9,479.3 L1691.8,476.6 L1681.0,483.2Z" fill="#ddff66" stroke="#ddff66"/>
<path d="M1699.2,488.5 L1710.1,481.9 L1700.9,479.3 L1690.0,485.9Z" fill="#eeff66" stroke="#eeff66"/>
<path d="M1708.4,491.1 L1719.4,484.4 L1710.1,481.9 L1699.2,488.5Z" fill="#fffe66" stroke="#fffe66"/>
<path d="M1717.8,493.6 L1728.7,486.9 L1719.4,484.4 L1708.4,491.1Z" fill="#ffec66" stroke="#ffec66"/>
<path d="M1727.2,496.1 L1738.2,489.4 L1728.7,486.9 L1717.8,493.6Z" fill="#ffda66" stroke="#ffda66"/>
<path d="M1736.8,498.5 L1747.8,491.8 L1738.2,489.4 L1727.2,496.1Z" fill="#ffc866" stroke="#ffc866"/>
<path d="M1412.9,376.9 L1422.7,370.8 L1415.8,366.7 L1406.0,372.8Z" fill="#6666ff" stroke="#6666ff"/>
<path d="M1419.9,381.0 L1429.7,374.9 L1422.7,370.8 L1412.9,376.9Z" fill="#6666ff" stroke="#6666ff"/>
<path d="M1426.9,385.1 L1436.7,378.9 L1429.7,374.9 L1419.9,381.0Z" fill="#666cff" stroke="#666cff"/>
<path d="M1433.9,389.1 L1443.7,382.9 L1436.7,378.9 L1426.9,385.1Z" fill="#6675ff" stroke="#6675ff"/>
<path d="M1440.9,393.0 L1450.8,386.9 L1443.7,382.9 L1433.9,389.1Z" fill="#667eff" stroke="#667eff"/>
<path d="M1448.0,397.0 L1457.9,390.8 L1450.8,386.9 L1440.9,393.0Z" fill="#6687ff" stroke="#6687ff"/>
<path d="M1455.2,400.8 L1465.1,394.6 L1457.9,390.8 L1448.0,397.0Z" fill="#6691ff" stroke="#6691ff"/>
<path d="M1462.4,404.7 L1472.3,398.5 L1465.1,394.6 L1455.2,400.8Z" fill="#669bff" stroke="#669bff"/>
<path d="M1469.6,408.5 L1479.6,402.3 L1472.3,398.5 L1462.4,404.7Z" fill="#66a5ff" stroke="#66a5ff"/>
<path d="M1476.9,412.2 L1486.9,406.0 L1479.6,402.3 L1469.6,408.5Z" fill="#66b0ff" stroke="#66b0ff"/>
<path d="M1484.2,416.0 L1494.3,409.7 L1486.9,406.0 L1476.9,412.2Z" fill="#66bbff" stroke="#66bbff"/>
<path d="M1491.6,419.6 L1501.7,413.4 L1494.3,409.7 L1484.2,416.0Z" fill="#66c6ff" stroke="#66c6ff"/>
<path d="M1499.1,423.3 L1509.2,417.0 L1501.7,413.4 L1491.6,419.6Z" fill="#66d1ff" stroke="#66d1ff"/>
<path d="M1506.6,426.9 L1516.7,420.6 L1509.2,417.0 L1499.1,423.3Z" fill="#66ddff" stroke="#66ddff"/>
<path d="M1514.1,430.4 L1524.3,424.1 L1516.7,420.6 L1506.6,426.9Z" fill="#66e8ff" stroke="#66e8ff"/>
<path d="M1521.7,433.9 L1531.9,427.6 L1524.3,424.1 L1514.1,430.4Z" fill="#66f5ff" stroke="#66f5ff"/>
<path d="M1529.4,437.4 L1539.6,431.1 L1531.9,427.6 L1521.7,433.9Z" fill="#66fffd" stroke="#66fffd"/>
<path d="M1537.1,440.8 L1547.4,434.5 L1539.6,431.1 L1529.4,437.4Z" fill="#66fff0" stroke="#66fff0"/>
<path d="M1544.9,444.2 L1555.2,437.9 L1547.4,434.5 L1537.1,440.8Z" fill="#66ffe4" stroke="#66ffe4"/>
<path d="M1552.7,447.5 L1563.1,441.2 L1555.2,437.9 L1544.9,444.2Z" fill="#66ffd6" stroke="#66ffd6"/>
<path d="M1560.6,450.8 L1571.0,444.5 L1563.1,441.2 L1552.7,447.5Z" fill="#66ffc9" stroke="#66ffc9"/>
<path d="M1568.6,454.1 L1579.0,447.7 L1571.0,444.5 L1560.6,450.8Z" fill="#66ffbb" stroke="#66ffbb"/>
<path d="M1576.7,457.3 L1587.1,450.9 L1579.0,447.7 L1568.6,454.1Z" fill="#66ffad" stroke="#66ffad"/>
<path d="M1584.8,460.5 L1595.2,454.1 L1587.1,450.9 L1576.7,457.3Z" fill="#66ff9f" stroke="#66ff9f"/>
<path d="M1593.0,463.6 L1603.5,457.2 L1595.2,454.1 L1584.8,460.5Z" fill="#66ff91" stroke="#66ff91"/>
<path d="M1601.2,466.7 L1611.8,460.3 L1603.5,457.2 L1593.0,463.6Z" fill="#66ff82" stroke="#66ff82"/>
<path d="M1609.5,469.7 L1620.1,463.3 L1611.8,460.3 L1601.2,466.7Z" fill="#66ff73" stroke="#66ff73"/>
<path d="M1618.0,472.7 L1628.6,466.3 L1620.1,463.3 L1609.5,469.7Z" fill="#68ff66" stroke="#68ff66"/>
<path d="M1626.4,475.7 L1637.1,469.2 L1628.6,466.3 L1618.0,472.7Z" fill="#78ff66" stroke="#78ff66"/>
<path d="M1635.0,478.6 L1645.7,472.1 L1637.1,469.2 L1626.4,475.7Z" fill="#88ff66" stroke="#88ff66"/>
<path d="M1643.7,481.5 L1654.4,475.0 L1645.7,472.1 L1635.0,478.6Z" fill="#98ff66" stroke="#98ff66"/>
<path d="M1652.4,484.3 L1663.2,477.8 L1654.4,475.0 L1643.7,481.5Z" fill="#a8ff66" stroke="#a8ff66"/>
<path d="M1661.2,487.1 L1672.0,480.5 L1663.2,477.8 L1652.4,484.3Z" fill="#b9ff66" stroke="#b9ff66"/>
<path d="M1670.2,489.8 L1681.0,483.2 L1672.0,480.5 L1661.2,487.1Z" fill="#caff66" stroke="#caff66"/>
<path d="M1679.2,492.5 L1690.0,485.9 L1681.0,483.2 L1670.2,489.8Z" fill="#dbff66" stroke="#dbff66"/>
<path d="M1688.3,495.1 L1699.2,488.5 L1690.0,485.9 L1679.2,492.5Z" fill="#ecff66" stroke="#ecff66"/>
<path d="M1697.5,497.7 L1708.4,491.1 L1699.2,488.5 L1688.3,495.1Z" fill="#feff66" stroke="#feff66"/>
<path d="M1706.8,500.2 L1717.8,493.6 L1708.4,491.1 L1697.5,497.7Z" fill="#ffee66" stroke="#ffee66"/>
<path d="M1716.2,502.7 L1727.2,496.1 L1717.8,493.6 L1706.8,500.2Z" fill="#ffdc66" stroke="#ffdc66"/>
<path d="M1725.7,505.2 L1736.8,498.5 L1727.2,496.1 L1716.2,502.7Z" fill="#ffca66" stroke="#ffca66"/>
<path d="M1403.1,383.1 L1412.9,376.9 L1406.0,372.8 L1396.3,378.9Z" fill="#6666ff" stroke="#6666ff"/>
<path d="M1410.0,387.1 L1419.9,381.0 L1412.9,376.9 L1403.1,383.1Z" fill="#6666ff" stroke="#6666ff"/>
<path d="M1417.0,391.2 L1426.9,385.1 L1419.9,381.0 L1410.0,387.1Z" fill="#6667ff" stroke="#6667ff"/>
<path d="M1424.0,395.2 L1433.9,389.1 L1426.9,385.1 L1417.0,391.2Z" fill="#6670ff" stroke="#6670ff"/>
<path d="M1431.0,399.2 L1440.9,393.0 L1433.9,389.1 L1424.0,395.2Z" fill="#6679ff" stroke="#6679ff"/>
<path d="M1438.1,403.1 L1448.0,397.0 L1440.9,393.0 L1431.0,399.2Z" fill="#6683ff" stroke="#6683ff"/>
<path d="M1445.2,407.0 L1455.2,400.8 L1448.0,397.0 L1438.1,403.1Z" fill="#668dff" stroke="#668dff"/>
<path d="M1452.4,410.8 L1462.4,404.7 L1455.2,400.8 L1445.2,407.0Z" fill="#6697ff" stroke="#6697ff"/>
<path d="M1459.6,414.7 L1469.6,408.5 L1462.4,404.7 L1452.4,410.8Z" fill="#66a1ff" stroke="#66a1ff"/>
<path d="M1466.8,418.4 L1476.9,412.2 L1469.6,408.5 L1459.6,414.7Z" fill="#66acff" stroke="#66acff"/>
<path d="M1474.2,422.1 L1484.2,416.0 L1476.9,412.2 L1466.8,418.4Z" fill="#66b7ff" stroke="#66b7ff"/>
<path d="M1481.5,425.8 L1491.6,419.6 L1484.2,416.0 L1474.2,422.1Z" fill="#66c2ff" stroke="#66c2ff"/>
<path d="M1488.9,429.5 L1499.1,423.3 L1491.6,419.6 L1481.5,425.8Z" fill="#66cdff" stroke="#66cdff"/>
<path d="M1496.4,433.1 L1506.6,426.9 L1499.1,423.3 L1488.9,429.5Z" fill="#66d9ff" stroke="#66d9ff"/>
<path d="M1503.9,436.6 L1514.1,430.4 L1506.6,426.9 L1496.4,433.1Z" fill="#66e5ff" stroke="#66e5ff"/>
<path d="M1511.5,440.2 L1521.7,433.9 L1514.1,430.4 L1503.9,436.6Z" fill="#66f1ff" stroke="#66f1ff"/>
<path d="M1519.1,443.6 L1529.4,437.4 L1521.7,433.9 L1511.5,440.2Z" fill="#66fdff" stroke="#66fdff"/>
<path d="M1526.8,447.1 L1537.1,440.8 L1529.4,437.4 L1519.1,443.6Z" fill="#66fff4" stroke="#66fff4"/>
<path d="M1534.6,450.5 L1544.9,444.2 L1537.1,440.8 L1526.8,447.1Z" fill="#66ffe7" stroke="#66ffe7"/>
<path d="M1542.4,453.8 L1552.7,447.5 L1544.9,444.2 L1534.6,450.5Z" fill="#66ffda" stroke="#66ffda"/>
<path d="M1550.2,457.1 L1560.6,450.8 L1552.7,447.5 L1542.4,453.8Z" fill="#66ffcc" stroke="#66ffcc"/>
<path d="M1558.2,460.4 L1568.6,454.1 L1560.6,450.8 L1550.2,457.1Z" fill="#66ffbe" stroke="#66ffbe"/>
<path d="M1566.2,463.6 L1576.7,457.3 L1568.6,454.1 L1558.2,460.4Z" fill="#66ffb0" stroke="#66ffb0"/>
<path d="M1574.3,466.8 L1584.8,460.5 L1576.7,457.3 L1566.2,463.6Z" fill="#66ffa2" stroke="#66ffa2"/>
<path d="M1582.4,470.0 L1593.0,463.6 L1584.8,460.5 L1574.3,466.8Z" fill="#66ff94" stroke="#66ff94"/>
<path d="M1590.6,473.1 L1601.2,466.7 L1593.0,463.6 L1582.4,470.0Z" fill="#66ff85" stroke="#66ff85"/>
<path d="M1598.9,476.1 L1609.5,469.7 L1601.2,466.7 L1590.6,473.1Z" fill="#66ff76" stroke="#66ff76"/>
<path d="M1607.3,479.1 L1618.0,472.7 L1609.5,469.7 L1598.9,476.1Z" fill="#66ff66" stroke="#66ff66"/>
<path d="M1615.8,482.1 L1626.4,475.7 L1618.0,472.7 L1607.3,479.1Z" fill="#75ff66" stroke="#75ff66"/>
<path d="M1624.3,485.0 L1635.0,478.6 L1626.4,475.7 L1615.8,482.1Z" fill="#85ff66" stroke="#85ff66"/>
<path d="M1632.9,487.9 L1643.7,481.5 L1635.0,478.6 L1624.3,485.0Z" fill="#95ff66" stroke="#95ff66"/>
<path d="M1641.6,490.8 L1652.4,484.3 L1643.7,481.5 L1632.9,487.9Z" fill="#a6ff66" stroke="#a6ff66"/>
<path d="M1650.4,493.6 L1661.2,487.1 L1652.4,484.3 L1641.6,490.8Z" fill="#b6ff66" stroke="#b6ff66"/>
<path d="M1659.3,496.3 L1670.2,489.8 L1661.2,487.1 L1650.4,493.6Z" fill="#c7ff66" stroke="#c7ff66"/>
<path d="M1668.3,499.0 L1679.2,492.5 L1670.2,489.8 L1659.3,496.3Z" fill="#d8ff66" stroke="#d8ff66"/>
<path d="M1677.3,501.7 L1688.3,495.1 L1679.2,492.5 L1668.3,499.0Z" fill="#eaff66" stroke="#eaff66"/>
<path d="M1686.5,504.3 L1697.5,497.7 L1688.3,495.1 L1677.3,501.7Z" fill="#fcff66" stroke="#fcff66"/>
<path d="M1695.7,506.8 L1706.8,500.2 L1697.5,497.7 L1686.5,504.3Z" fill="#fff166" stroke="#fff166"/>
<path d="M1705.1,509.4 L1716.2,502.7 L1706.8,500.2 L1695.7,506.8Z" fill="#ffde66" stroke="#ffde66"/>
<path d="M1714.6,511.8 L1725.7,505.2 L1716.2,502.7 L1705.1,509.4Z" fill="#ffcc66" stroke="#ffcc66"/>
<path d="M1393.3,389.1 L1403.1,383.1 L1396.3,378.9 L1386.5,385.0Z" fill="#6666ff" stroke="#6666ff"/>
<path d="M1400.2,393.2 L1410.0,387.1 L1403.1,383.1 L1393.3,389.1Z" fill="#6666ff" stroke="#6666ff"/>
<path d="M1407.1,397.3 L1417.0,391.2 L1410.0,387.1 L1400.2,393.2Z" fill="#6666ff" stroke="#6666ff"/>
<path d="M1414.1,401.3 L1424.0,395.2 L1417.0,391.2 L1407.1,397.3Z" fill="#666cff" stroke="#666cff"/>
<path d="M1421.1,405.3 L1431.0,399.2 L1424.0,395.2 L1414.1,401.3Z" fill="#6675ff" stroke="#6675ff"/>
<path d="M1428.1,409.2 L1438.1,403.1 L1431.0,399.2 L1421.1,405.3Z" fill="#667fff" stroke="#667fff"/>
<path d="M1435.2,413.1 L1445.2,407.0 L1438.1,403.1 L1428.1,409.2Z" fill="#6689ff" stroke="#6689ff"/>
<path d="M1442.4,417.0 L1452.4,410.8 L1445.2,407.0 L1435.2,413.1Z" fill="#6693ff" stroke="#6693ff"/>
<path d="M1449.5,420.8 L1459.6,414.7 L1452.4,410.8 L1442.4,417.0Z" fill="#669dff" stroke="#669dff"/>
<path d="M1456.8,424.6 L1466.8,418.4 L1459.6,414.7 L1449.5,420.8Z" fill="#66a8ff" stroke="#66a8ff"/>
<path d="M1464.0,428.3 L1474.2,422.1 L1466.8,418.4 L1456.8,424.6Z" fill="#66b3ff" stroke="#66b3ff"/>
<path d="M1471.4,432.0 L1481.5,425.8 L1474.2,422.1 L1464.0,428.3Z" fill="#66beff" stroke="#66beff"/>
<path d="M1478.8,435.7 L1488.9,429.5 L1481.5,425.8 L1471.4,432.0Z" fill="#66caff" stroke="#66caff"/>
<path d="M1486.2,439.3 L1496.4,433.1 L1488.9,429.5 L1478.8,435.7Z" fill="#66d5ff" stroke="#66d5ff"/>
<path d="M1493.7,442.8 L1503.9,436.6 L1496.4,433.1 L1486.2,439.3Z" fill="#66e1ff" stroke="#66e1ff"/>
<path d="M1501.2,446.4 L1511.5,440.2 L1503.9,436.6 L1493.7,442.8Z" fill="#66eeff" stroke="#66eeff"/>
<path d="M1508.8,449.9 L1519.1,443.6 L1511.5,440.2 L1501.2,446.4Z" fill="#66faff" stroke="#66faff"/>
<path d="M1516.5,453.3 L1526.8,447.1 L1519.1,443.6 L1508.8,449.9Z" fill="#66fff7" stroke="#66fff7"/>
<path d="M1524.2,456.7 L1534.6,450.5 L1526.8,447.1 L1516.5,453.3Z" fill="#66ffea" stroke="#66ffea"/>
<path d="M1532.0,460.1 L1542.4,453.8 L1534.6,450.5 L1524.2,456.7Z" fill="#66ffdd" stroke="#66ffdd"/>
<path d="M1539.8,463.4 L1550.2,457.1 L1542.4,453.8 L1532.0,460.1Z" fill="#66ffcf" stroke="#66ffcf"/>
<path d="M1547.7,466.7 L1558.2,460.4 L1550.2,457.1 L1539.8,463.4Z" fill="#66ffc1" stroke="#66ffc1"/>
<path d="M1555.7,470.0 L1566.2,463.6 L1558.2,460.4 L1547.7,466.7Z" fill="#66ffb3" stroke="#66ffb3"/>
<path d="M1563.7,473.2 L1574.3,466.8 L1566.2,463.6 L1555.7,470.0Z" fill="#66ffa5" stroke="#66ffa5"/>
<path d="M1571.9,476.3 L1582.4,470.0 L1574.3,466.8 L1563.7,473.2Z" fill="#66ff96" stroke="#66ff96"/>
<path d="M1580.0,479.4 L1590.6,473.1 L1582.4,470.0 L1571.9,476.3Z" fill="#66ff87" stroke="#66ff87"/>
<path d="M1588.3,482.5 L1598.9,476.1 L1590.6,473.1 L1580.0,479.4Z" fill="#66ff78" stroke="#66ff78"/>
<path d="M1596.6,485.5 L1607.3,479.1 L1598.9,476.1 L1588.3,482.5Z" fill="#66ff69" stroke="#66ff69"/>
<path d="M1605.1,488.5 L1615.8,482.1 L1607.3,479.1 L1596.6,485.5Z" fill="#73ff66" stroke="#73ff66"/>
<path d="M1613.5,491.5 L1624.3,485.0 L1615.8,482.1 L1605.1,488.5Z" fill="#83ff66" stroke="#83ff66"/>
<path d="M1622.1,494.4 L1632.9,487.9 L1624.3,485.0 L1613.5,491.5Z" fill="#93ff66" stroke="#93ff66"/>
<path d="M1630.8,497.2 L1641.6,490.8 L1632.9,487.9 L1622.1,494.4Z" fill="#a3ff66" stroke="#a3ff66"/>
<path d="M1639.5,500.0 L1650.4,493.6 L1641.6,490.8 L1630.8,497.2Z" fill="#b4ff66" stroke="#b4ff66"/>
<path d="M1648.4,502.8 L1659.3,496.3 L1650.4,493.6 L1639.5,500.0Z" fill="#c5ff66" stroke="#c5ff66"/>
<path d="M1657.3,505.5 L1668.3,499.0 L1659.3,496.3 L1648.4,502.8Z" fill="#d6ff66" stroke="#d6ff66"/>
<path d="M1666.3,508.2 L1677.3,501.7 L1668.3,499.0 L1657.3,505.5Z" fill="#e8ff66" stroke="#e8ff66"/>
<path d="M1675.5,510.8 L1686.5,504.3 L1677.3,501.7 L1666.3,508.2Z" fill="#faff66" stroke="#faff66"/>
<path d="M1684.7,513.4 L1695.7,506.8 L1686.5,504.3 L1675.5,510.8Z" fill="#fff266" stroke="#fff266"/>
<path d="M1694.0,515.9 L1705.1,509.4 L1695.7,506.8 L1684.7,513.4Z" fill="#ffe066" stroke="#ffe066"/>
<path d="M1703.4,518.4 L1714.6,511.8 L1705.1,509.4 L1694.0,515.9Z" fill="#ffce66" stroke="#ffce66"/>
<path d="M1383.4,395.2 L1393.3,389.1 L1386.5,385.0 L1376.6,391.0Z" fill="#6666ff" stroke="#6666ff"/>
<path d="M1390.3,399.3 L1400.2,393.2 L1393.3,389.1 L1383.4,395.2Z" fill="#6666ff" stroke="#6666ff"/>
<path d="M1397.2,403.3 L1407.1,397.3 L1400.2,393.2 L1390.3,399.3Z" fill="#6666ff" stroke="#6666ff"/>
<path d="M1404.1,407.4 L1414.1,401.3 L1407.1,397.3 L1397.2,403.3Z" fill="#6668ff" stroke="#6668ff"/>
<path d="M1411.1,411.3 L1421.1,405.3 L1414.1,401.3 L1404.1,407.4Z" fill="#6671ff" stroke="#6671ff"/>
<path d="M1418.1,415.3 L1428.1,409.2 L1421.1,405.3 L1411.1,411.3Z" fill="#667bff" stroke="#667bff"/>
<path d="M1425.2,419.2 L1435.2,413.1 L1428.1,409.2 L1418.1,415.3Z" fill="#6685ff" stroke="#6685ff"/>
<path d="M1432.3,423.1 L1442.4,417.0 L1435.2,413.1 L1425.2,419.2Z" fill="#668fff" stroke="#668fff"/>
<path d="M1439.5,426.9 L1449.5,420.8 L1442.4,417.0 L1432.3,423.1Z" fill="#669aff" stroke="#669aff"/>
<path d="M1446.7,430.7 L1456.8,424.6 L1449.5,420.8 L1439.5,426.9Z" fill="#66a4ff" stroke="#66a4ff"/>
<path d="M1453.9,434.4 L1464.0,428.3 L1456.8,424.6 L1446.7,430.7Z" fill="#66afff" stroke="#66afff"/>
<path d="M1461.2,438.1 L1471.4,432.0 L1464.0,428.3 L1453.9,434.4Z" fill="#66bbff" stroke="#66bbff"/>
<path d="M1468.6,441.8 L1478.8,435.7 L1471.4,432.0 L1461.2,438.1Z" fill="#66c6ff" stroke="#66c6ff"/>
<path d="M1476.0,445.4 L1486.2,439.3 L1478.8,435.7 L1468.6,441.8Z" fill="#66d2ff" stroke="#66d2ff"/>
<path d="M1483.4,449.0 L1493.7,442.8 L1486.2,439.3 L1476.0,445.4Z" fill="#66deff" stroke="#66deff"/>
<path d="M1490.9,452.6 L1501.2,446.4 L1493.7,442.8 L1483.4,449.0Z" fill="#66eaff" stroke="#66eaff"/>
<path d="M1498.5,456.1 L1508.8,449.9 L1501.2,446.4 L1490.9,452.6Z" fill="#66f7ff" stroke="#66f7ff"/>
<path d="M1506.1,459.5 L1516.5,453.3 L1508.8,449.9 L1498.5,456.1Z" fill="#66fffa" stroke="#66fffa"/>
<path d="M1513.8,462.9 L1524.2,456.7 L1516.5,453.3 L1506.1,459.5Z" fill="#66ffed" stroke="#66ffed"/>
<path d="M1521.5,466.3 L1532.0,460.1 L1524.2,456.7 L1513.8,462.9Z" fill="#66ffe0" stroke="#66ffe0"/>
<path d="M1529.4,469.7 L1539.8,463.4 L1532.0,460.1 L1521.5,466.3Z" fill="#66ffd2" stroke="#66ffd2"/>
<path d="M1537.2,473.0 L1547.7,466.7 L1539.8,463.4 L1529.4,469.7Z" fill="#66ffc4" stroke="#66ffc4"/>
<path d="M1545.2,476.2 L1555.7,470.0 L1547.7,466.7 L1537.2,473.0Z" fill="#66ffb6" stroke="#66ffb6"/>
<path d="M1553.2,479.4 L1563.7,473.2 L1555.7,470.0 L1545.2,476.2Z" fill="#66ffa8" stroke="#66ffa8"/>
<path d="M1561.3,482.6 L1571.9,476.3 L1563.7,473.2 L1553.2,479.4Z" fill="#66ff99" stroke="#66ff99"/>
<path d="M1569.4,485.7 L1580.0,479.4 L1571.9,476.3 L1561.3,482.6Z" fill="#66ff8a" stroke="#66ff8a"/>
<path d="M1577.6,488.8 L1588.3,482.5 L1580.0,479.4 L1569.4,485.7Z" fill="#66ff7b" stroke="#66ff7b"/>
<path d="M1585.9,491.9 L1596.6,485.5 L1588.3,482.5 L1577.6,488.8Z" fill="#66ff6b" stroke="#66ff6b"/>
<path d="M1594.3,494.9 L1605.1,488.5 L1596.6,485.5 L1585.9,491.9Z" fill="#70ff66" stroke="#70ff66"/>
<path d="M1602.8,497.8 L1613.5,491.5 L1605.1,488.5 L1594.3,494.9Z" fill="#80ff66" stroke="#80ff66"/>
<path d="M1611.3,500.8 L1622.1,494.4 L1613.5,491.5 L1602.8,497.8Z" fill="#91ff66" stroke="#91ff66"/>
<path d="M1619.9,503.6 L1630.8,497.2 L1622.1,494.4 L1611.3,500.8Z" fill="#a1ff66" stroke="#a1ff66"/>
<path d="M1628.6,506.5 L1639.5,500.0 L1630.8,497.2 L1619.9,503.6Z" fill="#b2ff66" stroke="#b2ff66"/>
<path d="M1637.4,509.2 L1648.4,502.8 L1639.5,500.0 L1628.6,506.5Z" fill="#c3ff66" stroke="#c3ff66"/>
<path d="M1646.3,512.0 L1657.3,505.5 L1648.4,502.8 L1637.4,509.2Z" fill="#d4ff66" stroke="#d4ff66"/>
<path d="M1655.3,514.7 L1666.3,508.2 L1657.3,505.5 L1646.3,512.0Z" fill="#e6ff66" stroke="#e6ff66"/>
<path d="M1664.4,517.3 L1675.5,510.8 L1666.3,508.2 L1655.3,514.7Z" fill="#f8ff66" stroke="#f8ff66"/>
<path d="M1673.6,519.9 L1684.7,513.4 L1675.5,510.8 L1664.4,517.3Z" fill="#fff466" stroke="#fff466"/>
<path d="M1682.9,522.5 L1694.0,515.9 L1684.7,513.4 L1673.6,519.9Z" fill="#ffe266" stroke="#ffe266"/>
<path d="M1692.2,525.0 L1703.4,518.4 L1694.0,515.9 L1682.9,522.5Z" fill="#ffcf66" stroke="#ffcf66"/>
<path d="M1373.6,401.2 L1383.4,395.2 L1376.6,391.0 L1366.8,397.0Z" fill="#6666ff" stroke="#6666ff"/>
<path d="M1380.4,405.3 L1390.3,399.3 L1383.4,395.2 L1373.6,401.2Z" fill="#6666ff" stroke="#6666ff"/>
<path d="M1387.3,409.3 L1397.2,403.3 L1390.3,399.3 L1380.4,405.3Z" fill="#6666ff" stroke="#6666ff"/>
<path d="M1394.2,413.4 L1404.1,407.4 L1397.2,403.3 L1387.3,409.3Z" fill="#6666ff" stroke="#6666ff"/>
<path d="M1401.1,417.4 L1411.1,411.3 L1404.1,407.4 L1394.2,413.4Z" fill="#666eff" stroke="#666eff"/>
<path d="M1408.1,421.3 L1418.1,415.3 L1411.1,411.3 L1401.1,417.4Z" fill="#6677ff" stroke="#6677ff"/>
<path d="M1415.1,425.2 L1425.2,419.2 L1418.1,415.3 L1408.1,421.3Z" fill="#6681ff" stroke="#6681ff"/>
<path d="M1422.2,429.1 L1432.3,423.1 L1425.2,419.2 L1415.1,425.2Z" fill="#668cff" stroke="#668cff"/>
<path d="M1429.3,433.0 L1439.5,426.9 L1432.3,423.1 L1422.2,429.1Z" fill="#6696ff" stroke="#6696ff"/>
<path d="M1436.5,436.8 L1446.7,430.7 L1439.5,426.9 L1429.3,433.0Z" fill="#66a1ff" stroke="#66a1ff"/>
<path d="M1443.7,440.5 L1453.9,434.4 L1446.7,430.7 L1436.5,436.8Z" fill="#66acff" stroke="#66acff"/>
<path d="M1451.0,444.2 L1461.2,438.1 L1453.9,434.4 L1443.7,440.5Z" fill="#66b7ff" stroke="#66b7ff"/>
<path d="M1458.3,447.9 L1468.6,441.8 L1461.2,438.1 L1451.0,444.2Z" fill="#66c3ff" stroke="#66c3ff"/>
<path d="M1465.7,451.5 L1476.0,445.4 L1468.6,441.8 L1458.3,447.9Z" fill="#66cfff" stroke="#66cfff"/>
<path d="M1473.1,455.1 L1483.4,449.0 L1476.0,445.4 L1465.7,451.5Z" fill="#66dbff" stroke="#66dbff"/>
<path d="M1480.6,458.7 L1490.9,452.6 L1483.4,449.0 L1473.1,455.1Z" fill="#66e7ff" stroke="#66e7ff"/>
<path d="M1488.1,462.2 L1498.5,456.1 L1490.9,452.6 L1480.6,458.7Z" fill="#66f4ff" stroke="#66f4ff"/>
<path d="M1495.7,465.7 L1506.1,459.5 L1498.5,456.1 L1488.1,462.2Z" fill="#66fffd" stroke="#66fffd"/>
<path d="M1503.4,469.1 L1513.8,462.9 L1506.1,459.5 L1495.7,465.7Z" fill="#66fff0" stroke="#66fff0"/>
<path d="M1511.1,472.5 L1521.5,466.3 L1513.8,462.9 L1503.4,469.1Z" fill="#66ffe2" stroke="#66ffe2"/>
<path d="M1518.9,475.9 L1529.4,469.7 L1521.5,466.3 L1511.1,472.5Z" fill="#66ffd5" stroke="#66ffd5"/>
<path d="M1526.7,479.2 L1537.2,473.0 L1529.4,469.7 L1518.9,475.9Z" fill="#66ffc7" stroke="#66ffc7"/>
<path d="M1534.6,482.5 L1545.2,476.2 L1537.2,473.0 L1526.7,479.2Z" fill="#66ffb9" stroke="#66ffb9"/>
<path d="M1542.6,485.7 L1553.2,479.4 L1545.2,476.2 L1534.6,482.5Z" fill="#66ffaa" stroke="#66ffaa"/>
<path d="M1550.6,488.9 L1561.3,482.6 L1553.2,479.4 L1542.6,485.7Z" fill="#66ff9b" stroke="#66ff9b"/>
<path d="M1558.7,492.0 L1569.4,485.7 L1561.3,482.6 L1550.6,488.9Z" fill="#66ff8c" stroke="#66ff8c"/>
<path d="M1566.9,495.1 L1577.6,488.8 L1569.4,485.7 L1558.7,492.0Z" fill="#66ff7d" stroke="#66ff7d"/>
<path d="M1575.2,498.2 L1585.9,491.9 L1577.6,488.8 L1566.9,495.1Z" fill="#66ff6d" stroke="#66ff6d"/>
<path d="M1583.5,501.2 L1594.3,494.9 L1585.9,491.9 L1575.2,498.2Z" fill="#6eff66" stroke="#6eff66"/>
<path d="M1591.9,504.2 L1602.8,497.8 L1594.3,494.9 L1583.5,501.2Z" fill="#7eff66" stroke="#7eff66"/>
<path d="M1600.4,507.1 L1611.3,500.8 L1602.8,497.8 L1591.9,504.2Z" fill="#8fff66" stroke="#8fff66"/>
<path d="M1609.0,510.0 L1619.9,503.6 L1611.3,500.8 L1600.4,507.1Z" fill="#9fff66" stroke="#9fff66"/>
<path d="M1617.7,512.9 L1628.6,506.5 L1619.9,503.6 L1609.0,510.0Z" fill="#b0ff66" stroke="#b0ff66"/>
<path d="M1626.5,515.7 L1637.4,509.2 L1628.6,506.5 L1617.7,512.9Z" fill="#c1ff66" stroke="#c1ff66"/>
<path d="M1635.3,518.4 L1646.3,512.0 L1637.4,509.2 L1626.5,515.7Z" fill="#d3ff66" stroke="#d3ff66"/>
<path d="M1644.3,521.1 L1655.3,514.7 L1646.3,512.0 L1635.3,518.4Z" fill="#e4ff66" stroke="#e4ff66"/>
<path d="M1653.3,523.8 L1664.4,517.3 L1655.3,514.7 L1644.3,521.1Z" fill="#f6ff66" stroke="#f6ff66"/>
<path d="M1662.4,526.4 L1673.6,519.9 L1664.4,517.3 L1653.3,523.8Z" fill="#fff666" stroke="#fff666"/>
<path d="M1671.7,529.0 L1682.9,522.5 L1673.6,519.9 L1662.4,526.4Z" fill="#ffe366" stroke="#ffe366"/>
<path d="M1681.0,531.5 L1692.2,525.0 L1682.9,522.5 L1671.7,529.0Z" fill="#ffd066" stroke="#ffd066"/>
<path d="M1363.6,407.1 L1373.6,401.2 L1366.8,397.0 L1356.9,403.0Z" fill="#6666ff" stroke="#6666ff"/>
<path d="M1370.4,411.2 L1380.4,405.3 L1373.6,401.2 L1363.6,407.1Z" fill="#6666ff" stroke="#6666ff"/>
<path d="M1377.3,415.3 L1387.3,409.3 L1380.4,405.3 L1370.4,411.2Z" fill="#6666ff" stroke="#6666ff"/>
<path d="M1384.2,419.4 L1394.2,413.4 L1387.3,409.3 L1377.3,415.3Z" fill="#6666ff" stroke="#6666ff"/>
<path d="M1391.1,423.4 L1401.1,417.4 L1394.2,413.4 L1384.2,419.4Z" fill="#666aff" stroke="#666aff"/>
<path d="M1398.0,427.3 L1408.1,421.3 L1401.1,417.4 L1391.1,423.4Z" fill="#6674ff" stroke="#6674ff"/>
<path d="M1405.1,431.3 L1415.1,425.2 L1408.1,421.3 L1398.0,427.3Z" fill="#667eff" stroke="#667eff"/>
<path d="M1412.1,435.1 L1422.2,429.1 L1415.1,425.2 L1405.1,431.3Z" fill="#6688ff" stroke="#6688ff"/>
<path d="M1419.2,439.0 L1429.3,433.0 L1422.2,429.1 L1412.1,435.1Z" fill="#6693ff" stroke="#6693ff"/>
<path d="M1426.3,442.8 L1436.5,436.8 L1429.3,433.0 L1419.2,439.0Z" fill="#669eff" stroke="#669eff"/>
<path d="M1433.5,446.6 L1443.7,440.5 L1436.5,436.8 L1426.3,442.8Z" fill="#66a9ff" stroke="#66a9ff"/>
<path d="M1440.8,450.3 L1451.0,444.2 L1443.7,440.5 L1433.5,446.6Z" fill="#66b4ff" stroke="#66b4ff"/>
<path d="M1448.1,454.0 L1458.3,447.9 L1451.0,444.2 L1440.8,450.3Z" fill="#66c0ff" stroke="#66c0ff"/>
<path d="M1455.4,457.6 L1465.7,451.5 L1458.3,447.9 L1448.1,454.0Z" fill="#66ccff" stroke="#66ccff"/>
<path d="M1462.8,461.2 L1473.1,455.1 L1465.7,451.5 L1455.4,457.6Z" fill="#66d8ff" stroke="#66d8ff"/>
<path d="M1470.2,464.8 L1480.6,458.7 L1473.1,455.1 L1462.8,461.2Z" fill="#66e5ff" stroke="#66e5ff"/>
<path d="M1477.7,468.3 L1488.1,462.2 L1480.6,458.7 L1470.2,464.8Z" fill="#66f1ff" stroke="#66f1ff"/>
<path d="M1485.3,471.8 L1495.7,465.7 L1488.1,462.2 L1477.7,468.3Z" fill="#66feff" stroke="#66feff"/>
<path d="M1492.9,475.3 L1503.4,469.1 L1495.7,465.7 L1485.3,471.8Z" fill="#66fff2" stroke="#66fff2"/>
<path d="M1500.6,478.7 L1511.1,472.5 L1503.4,469.1 L1492.9,475.3Z" fill="#66ffe5" stroke="#66ffe5"/>
<path d="M1508.3,482.0 L1518.9,475.9 L1511.1,472.5 L1500.6,478.7Z" fill="#66ffd7" stroke="#66ffd7"/>
<path d="M1516.1,485.4 L1526.7,479.2 L1518.9,475.9 L1508.3,482.0Z" fill="#66ffc9" stroke="#66ffc9"/>
<path d="M1524.0,488.7 L1534.6,482.5 L1526.7,479.2 L1516.1,485.4Z" fill="#66ffbb" stroke="#66ffbb"/>
<path d="M1531.9,491.9 L1542.6,485.7 L1534.6,482.5 L1524.0,488.7Z" fill="#66ffac" stroke="#66ffac"/>
<path d="M1539.9,495.1 L1550.6,488.9 L1542.6,485.7 L1531.9,491.9Z" fill="#66ff9d" stroke="#66ff9d"/>
<path d="M1548.0,498.3 L1558.7,492.0 L1550.6,488.9 L1539.9,495.1Z" fill="#66ff8e" stroke="#66ff8e"/>
<path d="M1556.2,501.4 L1566.9,495.1 L1558.7,492.0 L1548.0,498.3Z" fill="#66ff7f" stroke="#66ff7f"/>
<path d="M1564.4,504.5 L1575.2,498.2 L1566.9,495.1 L1556.2,501.4Z" fill="#66ff6f" stroke="#66ff6f"/>
<path d="M1572.7,507.5 L1583.5,501.2 L1575.2,498.2 L1564.4,504.5Z" fill="#6cff66" stroke="#6cff66"/>
<path d="M1581.1,510.5 L1591.9,504.2 L1583.5,501.2 L1572.7,507.5Z" fill="#7dff66" stroke="#7dff66"/>
<path d="M1589.5,513.5 L1600.4,507.1 L1591.9,504.2 L1581.1,510.5Z" fill="#8dff66" stroke="#8dff66"/>
<path d="M1598.1,516.4 L1609.0,510.0 L1600.4,507.1 L1589.5,513.5Z" fill="#9eff66" stroke="#9eff66"/>
<path d="M1606.7,519.2 L1617.7,512.9 L1609.0,510.0 L1598.1,516.4Z" fill="#afff66" stroke="#afff66"/>
<path d="M1615.4,522.1 L1626.5,515.7 L1617.7,512.9 L1606.7,519.2Z" fill="#c0ff66" stroke="#c0ff66"/>
<path d="M1624.2,524.8 L1635.3,518.4 L1626.5,515.7 L1615.4,522.1Z" fill="#d1ff66" stroke="#d1ff66"/>
<path d="M1633.2,527.6 L1644.3,521.1 L1635.3,518.4 L1624.2,524.8Z" fill="#e3ff66" stroke="#e3ff66"/>
<path d="M1642.1,530.3 L1653.3,523.8 L1644.3,521.1 L1633.2,527.6Z" fill="#f5ff66" stroke="#f5ff66"/>
<path d="M1651.2,532.9 L1662.4,526.4 L1653.3,523.8 L1642.1,530.3Z" fill="#fff766" stroke="#fff766"/>
<path d="M1660.4,535.5 L1671.7,529.0 L1662.4,526.4 L1651.2,532.9Z" fill="#ffe466" stroke="#ffe466"/>
<path d="M1669.7,538.0 L1681.0,531.5 L1671.7,529.0 L1660.4,535.5Z" fill="#ffd266" stroke="#ffd266"/>
<path d="M1353.7,413.0 L1363.6,407.1 L1356.9,403.0 L1346.9,408.9Z" fill="#6666ff" stroke="#6666ff"/>
<path d="M1360.5,417.2 L1370.4,411.2 L1363.6,407.1 L1353.7,413.0Z" fill="#6666ff" stroke="#6666ff"/>
<path d="M1367.3,421.3 L1377.3,415.3 L1370.4,411.2 L1360.5,417.2Z" fill="#6666ff" stroke="#6666ff"/>
<path d="M1374.1,425.3 L1384.2,419.4 L1377.3,415.3 L1367.3,421.3Z" fill="#6666ff" stroke="#6666ff"/>
<path d="M1381.0,429.3 L1391.1,423.4 L1384.2,419.4 L1374.1,425.3Z" fill="#6667ff" stroke="#6667ff"/>
<path d="M1388.0,433.3 L1398.0,427.3 L1391.1,423.4 L1381.0,429.3Z" fill="#6671ff" stroke="#6671ff"/>
<path d="M1394.9,437.2 L1405.1,431.3 L1398.0,427.3 L1388.0,433.3Z" fill="#667bff" stroke="#667bff"/>
<path d="M1402.0,441.1 L1412.1,435.1 L1405.1,431.3 L1394.9,437.2Z" fill="#6685ff" stroke="#6685ff"/>
<path d="M1409.0,445.0 L1419.2,439.0 L1412.1,435.1 L1402.0,441.1Z" fill="#6690ff" stroke="#6690ff"/>
<path d="M1416.1,448.8 L1426.3,442.8 L1419.2,439.0 L1409.0,445.0Z" fill="#669bff" stroke="#669bff"/>
<path d="M1423.3,452.6 L1433.5,446.6 L1426.3,442.8 L1416.1,448.8Z" fill="#66a6ff" stroke="#66a6ff"/>
<path d="M1430.5,456.3 L1440.8,450.3 L1433.5,446.6 L1423.3,452.6Z" fill="#66b2ff" stroke="#66b2ff"/>
<path d="M1437.7,460.0 L1448.1,454.0 L1440.8,450.3 L1430.5,456.3Z" fill="#66bdff" stroke="#66bdff"/>
<path d="M1445.1,463.7 L1455.4,457.6 L1448.1,454.0 L1437.7,460.0Z" fill="#66c9ff" stroke="#66c9ff"/>
<path d="M1452.4,467.3 L1462.8,461.2 L1455.4,457.6 L1445.1,463.7Z" fill="#66d6ff" stroke="#66d6ff"/>
<path d="M1459.8,470.9 L1470.2,464.8 L1462.8,461.2 L1452.4,467.3Z" fill="#66e2ff" stroke="#66e2ff"/>
<path d="M1467.3,474.4 L1477.7,468.3 L1470.2,464.8 L1459.8,470.9Z" fill="#66efff" stroke="#66efff"/>
<path d="M1474.8,477.9 L1485.3,471.8 L1477.7,468.3 L1467.3,474.4Z" fill="#66fcff" stroke="#66fcff"/>
<path d="M1482.4,481.4 L1492.9,475.3 L1485.3,471.8 L1474.8,477.9Z" fill="#66fff5" stroke="#66fff5"/>
<path d="M1490.1,484.8 L1500.6,478.7 L1492.9,475.3 L1482.4,481.4Z" fill="#66ffe7" stroke="#66ffe7"/>
<path d="M1497.8,488.2 L1508.3,482.0 L1500.6,478.7 L1490.1,484.8Z" fill="#66ffd9" stroke="#66ffd9"/>
<path d="M1505.5,491.5 L1516.1,485.4 L1508.3,482.0 L1497.8,488.2Z" fill="#66ffcb" stroke="#66ffcb"/>
<path d="M1513.4,494.8 L1524.0,488.7 L1516.1,485.4 L1505.5,491.5Z" fill="#66ffbd" stroke="#66ffbd"/>
<path d="M1521.3,498.1 L1531.9,491.9 L1524.0,488.7 L1513.4,494.8Z" fill="#66ffae" stroke="#66ffae"/>
<path d="M1529.2,501.3 L1539.9,495.1 L1531.9,491.9 L1521.3,498.1Z" fill="#66ff9f" stroke="#66ff9f"/>
<path d="M1537.3,504.5 L1548.0,498.3 L1539.9,495.1 L1529.2,501.3Z" fill="#66ff90" stroke="#66ff90"/>
<path d="M1545.4,507.6 L1556.2,501.4 L1548.0,498.3 L1537.3,504.5Z" fill="#66ff81" stroke="#66ff81"/>
<path d="M1553.6,510.7 L1564.4,504.5 L1556.2,501.4 L1545.4,507.6Z" fill="#66ff71" stroke="#66ff71"/>
<path d="M1561.8,513.8 L1572.7,507.5 L1564.4,504.5 L1553.6,510.7Z" fill="#6bff66" stroke="#6bff66"/>
<path d="M1570.2,516.8 L1581.1,510.5 L1572.7,507.5 L1561.8,513.8Z" fill="#7bff66" stroke="#7bff66"/>
<path d="M1578.6,519.8 L1589.5,513.5 L1581.1,510.5 L1570.2,516.8Z" fill="#8bff66" stroke="#8bff66"/>
<path d="M1587.1,522.7 L1598.1,516.4 L1589.5,513.5 L1578.6,519.8Z" fill="#9cff66" stroke="#9cff66"/>
<path d="M1595.7,525.6 L1606.7,519.2 L1598.1,516.4 L1587.1,522.7Z" fill="#adff66" stroke="#adff66"/>
<path d="M1604.4,528.4 L1615.4,522.1 L1606.7,519.2 L1595.7,525.6Z" fill="#beff66" stroke="#beff66"/>
<path d="M1613.2,531.2 L1624.2,524.8 L1615.4,522.1 L1604.4,528.4Z" fill="#d0ff66" stroke="#d0ff66"/>
<path d="M1622.0,534.0 L1633.2,527.6 L1624.2,524.8 L1613.2,531.2Z" fill="#e2ff66" stroke="#e2ff66"/>
<path d="M1631.0,536.7 L1642.1,530.3 L1633.2,527.6 L1622.0,534.0Z" fill="#f4ff66" stroke="#f4ff66"/>
<path d="M1640.0,539.3 L1651.2,532.9 L1642.1,530.3 L1631.0,536.7Z" fill="#fff866" stroke="#fff866"/>
<path d="M1649.2,541.9 L1660.4,535.5 L1651.2,532.9 L1640.0,539.3Z" fill="#ffe566" stroke="#ffe566"/>
<path d="M1658.4,544.5 L1669.7,538.0 L1660.4,535.5 L1649.2,541.9Z" fill="#ffd266" stroke="#ffd266"/>
<path d="M1343.7,418.9 L1353.7,413.0 L1346.9,408.9 L1337.0,414.7Z" fill="#6666ff" stroke="#6666ff"/>
<path d="M1350.4,423.1 L1360.5,417.2 L1353.7,413.0 L1343.7,418.9Z" fill="#6666ff" stroke="#6666ff"/>
<path d="M1357.2,427.2 L1367.3,421.3 L1360.5,417.2 L1350.4,423.1Z" fill="#6666ff" stroke="#6666ff"/>
<path d="M1364.1,431.2 L1374.1,425.3 L1367.3,421.3 L1357.2,427.2Z" fill="#6666ff" stroke="#6666ff"/>
<path d="M1370.9,435.2 L1381.0,429.3 L1374.1,425.3 L1364.1,431.2Z" fill="#6666ff" stroke="#6666ff"/>
<path d="M1377.8,439.2 L1388.0,433.3 L1381.0,429.3 L1370.9,435.2Z" fill="#666eff" stroke="#666eff"/>
<path d="M1384.8,443.2 L1394.9,437.2 L1388.0,433.3 L1377.8,439.2Z" fill="#6678ff" stroke="#6678ff"/>
<path d="M1391.8,447.1 L1402.0,441.1 L1394.9,437.2 L1384.8,443.2Z" fill="#6682ff" stroke="#6682ff"/>
<path d="M1398.8,450.9 L1409.0,445.0 L1402.0,441.1 L1391.8,447.1Z" fill="#668dff" stroke="#668dff"/>
<path d="M1405.9,454.8 L1416.1,448.8 L1409.0,445.0 L1398.8,450.9Z" fill="#6698ff" stroke="#6698ff"/>
<path d="M1413.0,458.6 L1423.3,452.6 L1416.1,448.8 L1405.9,454.8Z" fill="#66a3ff" stroke="#66a3ff"/>
<path d="M1420.2,462.3 L1430.5,456.3 L1423.3,452.6 L1413.0,458.6Z" fill="#66afff" stroke="#66afff"/>
<path d="M1427.4,466.0 L1437.7,460.0 L1430.5,456.3 L1420.2,462.3Z" fill="#66bbff" stroke="#66bbff"/>
<path d="M1434.7,469.7 L1445.1,463.7 L1437.7,460.0 L1427.4,466.0Z" fill="#66c7ff" stroke="#66c7ff"/>
<path d="M1442.0,473.3 L1452.4,467.3 L1445.1,463.7 L1434.7,469.7Z" fill="#66d3ff" stroke="#66d3ff"/>
<path d="M1449.4,476.9 L1459.8,470.9 L1452.4,467.3 L1442.0,473.3Z" fill="#66e0ff" stroke="#66e0ff"/>
<path d="M1456.8,480.5 L1467.3,474.4 L1459.8,470.9 L1449.4,476.9Z" fill="#66edff" stroke="#66edff"/>
<path d="M1464.3,484.0 L1474.8,477.9 L1467.3,474.4 L1456.8,480.5Z" fill="#66faff" stroke="#66faff"/>
<path d="M1471.9,487.5 L1482.4,481.4 L1474.8,477.9 L1464.3,484.0Z" fill="#66fff7" stroke="#66fff7"/>
<path d="M1479.5,490.9 L1490.1,484.8 L1482.4,481.4 L1471.9,487.5Z" fill="#66ffe9" stroke="#66ffe9"/>
<path d="M1487.2,494.3 L1497.8,488.2 L1490.1,484.8 L1479.5,490.9Z" fill="#66ffdb" stroke="#66ffdb"/>
<path d="M1494.9,497.6 L1505.5,491.5 L1497.8,488.2 L1487.2,494.3Z" fill="#66ffcd" stroke="#66ffcd"/>
<path d="M1502.7,501.0 L1513.4,494.8 L1505.5,491.5 L1494.9,497.6Z" fill="#66ffbf" stroke="#66ffbf"/>
<path d="M1510.6,504.2 L1521.3,498.1 L1513.4,494.8 L1502.7,501.0Z" fill="#66ffb0" stroke="#66ffb0"/>
<path d="M1518.5,507.5 L1529.2,501.3 L1521.3,498.1 L1510.6,504.2Z" fill="#66ffa1" stroke="#66ffa1"/>
<path d="M1526.5,510.7 L1537.3,504.5 L1529.2,501.3 L1518.5,507.5Z" fill="#66ff92" stroke="#66ff92"/>
<path d="M1534.6,513.8 L1545.4,507.6 L1537.3,504.5 L1526.5,510.7Z" fill="#66ff82" stroke="#66ff82"/>
<path d="M1542.7,516.9 L1553.6,510.7 L1545.4,507.6 L1534.6,513.8Z" fill="#66ff73" stroke="#66ff73"/>
<path d="M1550.9,520.0 L1561.8,513.8 L1553.6,510.7 L1542.7,516.9Z" fill="#69ff66" stroke="#69ff66"/>
<path d="M1559.3,523.0 L1570.2,516.8 L1561.8,513.8 L1550.9,520.0Z" fill="#7aff66" stroke="#7aff66"/>
<path d="M1567.6,526.0 L1578.6,519.8 L1570.2,516.8 L1559.3,523.0Z" fill="#8aff66" stroke="#8aff66"/>
<path d="M1576.1,529.0 L1587.1,522.7 L1578.6,519.8 L1567.6,526.0Z" fill="#9bff66" stroke="#9bff66"/>
<path d="M1584.6,531.9 L1595.7,525.6 L1587.1,522.7 L1576.1,529.0Z" fill="#acff66" stroke="#acff66"/>
<path d="M1593.3,534.7 L1604.4,528.4 L1595.7,525.6 L1584.6,531.9Z" fill="#bdff66" stroke="#bdff66"/>
<path d="M1602.0,537.5 L1613.2,531.2 L1604.4,528.4 L1593.3,534.7Z" fill="#cfff66" stroke="#cfff66"/>
<path d="M1610.8,540.3 L1622.0,534.0 L1613.2,531.2 L1602.0,537.5Z" fill="#e1ff66" stroke="#e1ff66"/>
<path d="M1619.7,543.0 L1631.0,536.7 L1622.0,534.0 L1610.8,540.3Z" fill="#f3ff66" stroke="#f3ff66"/>
<path d="M1628.8,545.7 L1640.0,539.3 L1631.0,536.7 L1619.7,543.0Z" fill="#fff966" stroke="#fff966"/>
<path d="M1637.9,548.4 L1649.2,541.9 L1640.0,539.3 L1628.8,545.7Z" fill="#ffe666" stroke="#ffe666"/>
<path d="M1647.1,551.0 L1658.4,544.5 L1649.2,541.9 L1637.9,548.4Z" fill="#ffd366" stroke="#ffd366"/>
<path d="M1333.7,424.8 L1343.7,418.9 L1337.0,414.7 L1327.0,420.6Z" fill="#6666ff" stroke="#6666ff"/>
<path d="M1340.4,428.9 L1350.4,423.1 L1343.7,418.9 L1333.7,424.8Z" fill="#6666ff" stroke="#6666ff"/>
<path d="M1347.2,433.0 L1357.2,427.2 L1350.4,423.1 L1340.4,428.9Z" fill="#6666ff" stroke="#6666ff"/>
<path d="M1354.0,437.1 L1364.1,431.2 L1357.2,427.2 L1347.2,433.0Z" fill="#6666ff" stroke="#6666ff"/>
<path d="M1360.8,441.1 L1370.9,435.2 L1364.1,431.2 L1354.0,437.1Z" fill="#6666ff" stroke="#6666ff"/>
<path d="M1367.7,445.1 L1377.8,439.2 L1370.9,435.2 L1360.8,441.1Z" fill="#666bff" stroke="#666bff"/>
<path d="M1374.6,449.1 L1384.8,443.2 L1377.8,439.2 L1367.7,445.1Z" fill="#6675ff" stroke="#6675ff"/>
<path d="M1381.6,453.0 L1391.8,447.1 L1384.8,443.2 L1374.6,449.1Z" fill="#6680ff" stroke="#6680ff"/>
<path d="M1388.6,456.9 L1398.8,450.9 L1391.8,447.1 L1381.6,453.0Z" fill="#668bff" stroke="#668bff"/>
<path d="M1395.6,460.7 L1405.9,454.8 L1398.8,450.9 L1388.6,456.9Z" fill="#6696ff" stroke="#6696ff"/>
<path d="M1402.7,464.5 L1413.0,458.6 L1405.9,454.8 L1395.6,460.7Z" fill="#66a1ff" stroke="#66a1ff"/>
<path d="M1409.8,468.3 L1420.2,462.3 L1413.0,458.6 L1402.7,464.5Z" fill="#66adff" stroke="#66adff"/>
<path d="M1417.0,472.0 L1427.4,466.0 L1420.2,462.3 L1409.8,468.3Z" fill="#66b8ff" stroke="#66b8ff"/>
<path d="M1424.3,475.7 L1434.7,469.7 L1427.4,466.0 L1417.0,472.0Z" fill="#66c5ff" stroke="#66c5ff"/>
<path d="M1431.6,479.3 L1442.0,473.3 L1434.7,469.7 L1424.3,475.7Z" fill="#66d1ff" stroke="#66d1ff"/>
<path d="M1438.9,482.9 L1449.4,476.9 L1442.0,473.3 L1431.6,479.3Z" fill="#66deff" stroke="#66deff"/>
<path d="M1446.3,486.5 L1456.8,480.5 L1449.4,476.9 L1438.9,482.9Z" fill="#66ebff" stroke="#66ebff"/>
<path d="M1453.8,490.0 L1464.3,484.0 L1456.8,480.5 L1446.3,486.5Z" fill="#66f8ff" stroke="#66f8ff"/>
<path d="M1461.3,493.5 L1471.9,487.5 L1464.3,484.0 L1453.8,490.0Z" fill="#66fff9" stroke="#66fff9"/>
<path d="M1468.9,497.0 L1479.5,490.9 L1471.9,487.5 L1461.3,493.5Z" fill="#66ffeb" stroke="#66ffeb"/>
<path d="M1476.5,500.4 L1487.2,494.3 L1479.5,490.9 L1468.9,497.0Z" fill="#66ffdd" stroke="#66ffdd"/>
<path d="M1484.2,503.7 L1494.9,497.6 L1487.2,494.3 L1476.5,500.4Z" fill="#66ffcf" stroke="#66ffcf"/>
<path d="M1492.0,507.1 L1502.7,501.0 L1494.9,497.6 L1484.2,503.7Z" fill="#66ffc0" stroke="#66ffc0"/>
<path d="M1499.8,510.4 L1510.6,504.2 L1502.7,501.0 L1492.0,507.1Z" fill="#66ffb2" stroke="#66ffb2"/>
<path d="M1507.7,513.6 L1518.5,507.5 L1510.6,504.2 L1499.8,510.4Z" fill="#66ffa3" stroke="#66ffa3"/>
<path d="M1515.7,516.8 L1526.5,510.7 L1518.5,507.5 L1507.7,513.6Z" fill="#66ff93" stroke="#66ff93"/>
<path d="M1523.7,520.0 L1534.6,513.8 L1526.5,510.7 L1515.7,516.8Z" fill="#66ff84" stroke="#66ff84"/>
<path d="M1531.8,523.1 L1542.7,516.9 L1534.6,513.8 L1523.7,520.0Z" fill="#66ff74" stroke="#66ff74"/>
<path d="M1540.0,526.2 L1550.9,520.0 L1542.7,516.9 L1531.8,523.1Z" fill="#68ff66" stroke="#68ff66"/>
<path d="M1548.3,529.2 L1559.3,523.0 L1550.9,520.0 L1540.0,526.2Z" fill="#78ff66" stroke="#78ff66"/>
<path d="M1556.6,532.2 L1567.6,526.0 L1559.3,523.0 L1548.3,529.2Z" fill="#89ff66" stroke="#89ff66"/>
<path d="M1565.0,535.2 L1576.1,529.0 L1567.6,526.0 L1556.6,532.2Z" fill="#9aff66" stroke="#9aff66"/>
<path d="M1573.6,538.1 L1584.6,531.9 L1576.1,529.0 L1565.0,535.2Z" fill="#abff66" stroke="#abff66"/>
<path d="M1582.1,541.0 L1593.3,534.7 L1584.6,531.9 L1573.6,538.1Z" fill="#bcff66" stroke="#bcff66"/>
<path d="M1590.8,543.8 L1602.0,537.5 L1593.3,534.7 L1582.1,541.0Z" fill="#ceff66" stroke="#ceff66"/>
<path d="M1599.6,546.6 L1610.8,540.3 L1602.0,537.5 L1590.8,543.8Z" fill="#e0ff66" stroke="#e0ff66"/>
<path d="M1608.5,549.4 L1619.7,543.0 L1610.8,540.3 L1599.6,546.6Z" fill="#f2ff66" stroke="#f2ff66"/>
<path d="M1617.4,552.1 L1628.8,545.7 L1619.7,543.0 L1608.5,549.4Z" fill="#fff966" stroke="#fff966"/>
<path d="M1626.5,554.8 L1637.9,548.4 L1628.8,545.7 L1617.4,552.1Z" fill="#ffe766" stroke="#ffe766"/>
<path d="M1635.7,557.4 L1647.1,551.0 L1637.9,548.4 L1626.5,554.8Z" fill="#ffd466" stroke="#ffd466"/>
<path d="M1323.6,430.6 L1333.7,424.8 L1327.0,420.6 L1317.0,426.4Z" fill="#6666ff" stroke="#6666ff"/>
<path d="M1330.3,434.7 L1340.4,428.9 L1333.7,424.8 L1323.6,430.6Z" fill="#6666ff" stroke="#6666ff"/>
<path d="M1337.0,438.9 L1347.2,433.0 L1340.4,428.9 L1330.3,434.7Z" fill="#6666ff" stroke="#6666ff"/>
<path d="M1343.8,442.9 L1354.0,437.1 L1347.2,433.0 L1337.0,438.9Z" fill="#6666ff" stroke="#6666ff"/>
<path d="M1350.6,447.0 L1360.8,441.1 L1354.0,437.1 L1343.8,442.9Z" fill="#6666ff" stroke="#6666ff"/>
<path d="M1357.5,451.0 L1367.7,445.1 L1360.8,441.1 L1350.6,447.0Z" fill="#6668ff" stroke="#6668ff"/>
<path d="M1364.4,454.9 L1374.6,449.1 L1367.7,445.1 L1357.5,451.0Z" fill="#6673ff" stroke="#6673ff"/>
<path d="M1371.3,458.9 L1381.6,453.0 L1374.6,449.1 L1364.4,454.9Z" fill="#667dff" stroke="#667dff"/>
<path d="M1378.3,462.8 L1388.6,456.9 L1381.6,453.0 L1371.3,458.9Z" fill="#6688ff" stroke="#6688ff"/>
<path d="M1385.3,466.6 L1395.6,460.7 L1388.6,456.9 L1378.3,462.8Z" fill="#6693ff" stroke="#6693ff"/>
<path d="M1392.4,470.4 L1402.7,464.5 L1395.6,460.7 L1385.3,466.6Z" fill="#669fff" stroke="#669fff"/>
<path d="M1399.5,474.2 L1409.8,468.3 L1402.7,464.5 L1392.4,470.4Z" fill="#66aaff" stroke="#66aaff"/>
<path d="M1406.6,477.9 L1417.0,472.0 L1409.8,468.3 L1399.5,474.2Z" fill="#66b6ff" stroke="#66b6ff"/>
<path d="M1413.8,481.6 L1424.3,475.7 L1417.0,472.0 L1406.6,477.9Z" fill="#66c2ff" stroke="#66c2ff"/>
<path d="M1421.1,485.3 L1431.6,479.3 L1424.3,475.7 L1413.8,481.6Z" fill="#66cfff" stroke="#66cfff"/>
<path d="M1428.4,488.9 L1438.9,482.9 L1431.6,479.3 L1421.1,485.3Z" fill="#66dcff" stroke="#66dcff"/>
<path d="M1435.8,492.5 L1446.3,486.5 L1438.9,482.9 L1428.4,488.9Z" fill="#66e9ff" stroke="#66e9ff"/>
<path d="M1443.2,496.0 L1453.8,490.0 L1446.3,486.5 L1435.8,492.5Z" fill="#66f6ff" stroke="#66f6ff"/>
<path d="M1450.7,499.5 L1461.3,493.5 L1453.8,490.0 L1443.2,496.0Z" fill="#66fffb" stroke="#66fffb"/>
<path d="M1458.2,503.0 L1468.9,497.0 L1461.3,493.5 L1450.7,499.5Z" fill="#66ffed" stroke="#66ffed"/>
<path d="M1465.8,506.4 L1476.5,500.4 L1468.9,497.0 L1458.2,503.0Z" fill="#66ffdf" stroke="#66ffdf"/>
<path d="M1473.5,509.8 L1484.2,503.7 L1476.5,500.4 L1465.8,506.4Z" fill="#66ffd0" stroke="#66ffd0"/>
<path d="M1481.2,513.1 L1492.0,507.1 L1484.2,503.7 L1473.5,509.8Z" fill="#66ffc2" stroke="#66ffc2"/>
<path d="M1489.0,516.4 L1499.8,510.4 L1492.0,507.1 L1481.2,513.1Z" fill="#66ffb3" stroke="#66ffb3"/>
<path d="M1496.9,519.7 L1507.7,513.6 L1499.8,510.4 L1489.0,516.4Z" fill="#66ffa4" stroke="#66ffa4"/>
<path d="M1504.8,522.9 L1515.7,516.8 L1507.7,513.6 L1496.9,519.7Z" fill="#66ff95" stroke="#66ff95"/>
<path d="M1512.8,526.1 L1523.7,520.0 L1515.7,516.8 L1504.8,522.9Z" fill="#66ff85" stroke="#66ff85"/>
<path d="M1520.9,529.3 L1531.8,523.1 L1523.7,520.0 L1512.8,526.1Z" fill="#66ff75" stroke="#66ff75"/>
<path d="M1529.0,532.4 L1540.0,526.2 L1531.8,523.1 L1520.9,529.3Z" fill="#67ff66" stroke="#67ff66"/>
<path d="M1537.3,535.4 L1548.3,529.2 L1540.0,526.2 L1529.0,532.4Z" fill="#77ff66" stroke="#77ff66"/>
<path d="M1545.6,538.4 L1556.6,532.2 L1548.3,529.2 L1537.3,535.4Z" fill="#88ff66" stroke="#88ff66"/>
<path d="M1553.9,541.4 L1565.0,535.2 L1556.6,532.2 L1545.6,538.4Z" fill="#99ff66" stroke="#99ff66"/>
<path d="M1562.4,544.4 L1573.6,538.1 L1565.0,535.2 L1553.9,541.4Z" fill="#aaff66" stroke="#aaff66"/>
<path d="M1571.0,547.3 L1582.1,541.0 L1573.6,538.1 L1562.4,544.4Z" fill="#bcff66" stroke="#bcff66"/>
<path d="M1579.6,550.1 L1590.8,543.8 L1582.1,541.0 L1571.0,547.3Z" fill="#cdff66" stroke="#cdff66"/>
<path d="M1588.3,552.9 L1599.6,546.6 L1590.8,543.8 L1579.6,550.1Z" fill="#dfff66" stroke="#dfff66"/>
<path d="M1597.2,555.7 L1608.5,549.4 L1599.6,546.6 L1588.3,552.9Z" fill="#f2ff66" stroke="#f2ff66"/>
<path d="M1606.1,558.4 L1617.4,552.1 L1608.5,549.4 L1597.2,555.7Z" fill="#fffa66" stroke="#fffa66"/>
<path d="M1615.1,561.1 L1626.5,554.8 L1617.4,552.1 L1606.1,558.4Z" fill="#ffe766" stroke="#ffe766"/>
<path d="M1624.2,563.8 L1635.7,557.4 L1626.5,554.8 L1615.1,561.1Z" fill="#ffd466" stroke="#ffd466"/>
<path d="M1313.5,436.4 L1323.6,430.6 L1317.0,426.4 L1306.9,432.2Z" fill="#6666ff" stroke="#6666ff"/>
<path d="M1320.2,440.5 L1330.3,434.7 L1323.6,430.6 L1313.5,436.4Z" fill="#6666ff" stroke="#6666ff"/>
<path d="M1326.9,444.7 L1337.0,438.9 L1330.3,434.7 L1320.2,440.5Z" fill="#6666ff" stroke="#6666ff"/>
<path d="M1333.6,448.7 L1343.8,442.9 L1337.0,438.9 L1326.9,444.7Z" fill="#6666ff" stroke="#6666ff"/>
<path d="M1340.4,452.8 L1350.6,447.0 L1343.8,442.9 L1333.6,448.7Z" fill="#6666ff" stroke="#6666ff"/>
<path d="M1347.2,456.8 L1357.5,451.0 L1350.6,447.0 L1340.4,452.8Z" fill="#6666ff" stroke="#6666ff"/>
<path d="M1354.1,460.8 L1364.4,454.9 L1357.5,451.0 L1347.2,456.8Z" fill="#6670ff" stroke="#6670ff"/>
<path d="M1361.0,464.7 L1371.3,458.9 L1364.4,454.9 L1354.1,460.8Z" fill="#667bff" stroke="#667bff"/>
<path d="M1367.9,468.6 L1378.3,462.8 L1371.3,458.9 L1361.0,464.7Z" fill="#6686ff" stroke="#6686ff"/>
<path d="M1374.9,472.5 L1385.3,466.6 L1378.3,462.8 L1367.9,468.6Z" fill="#6691ff" stroke="#6691ff"/>
<path d="M1382.0,476.3 L1392.4,470.4 L1385.3,466.6 L1374.9,472.5Z" fill="#669dff" stroke="#669dff"/>
<path d="M1389.1,480.1 L1399.5,474.2 L1392.4,470.4 L1382.0,476.3Z" fill="#66a8ff" stroke="#66a8ff"/>
<path d="M1396.2,483.8 L1406.6,477.9 L1399.5,474.2 L1389.1,480.1Z" fill="#66b4ff" stroke="#66b4ff"/>
<path d="M1403.4,487.5 L1413.8,481.6 L1406.6,477.9 L1396.2,483.8Z" fill="#66c1ff" stroke="#66c1ff"/>
<path d="M1410.6,491.2 L1421.1,485.3 L1413.8,481.6 L1403.4,487.5Z" fill="#66cdff" stroke="#66cdff"/>
<path d="M1417.9,494.8 L1428.4,488.9 L1421.1,485.3 L1410.6,491.2Z" fill="#66daff" stroke="#66daff"/>
<path d="M1425.2,498.4 L1435.8,492.5 L1428.4,488.9 L1417.9,494.8Z" fill="#66e7ff" stroke="#66e7ff"/>
<path d="M1432.6,502.0 L1443.2,496.0 L1435.8,492.5 L1425.2,498.4Z" fill="#66f4ff" stroke="#66f4ff"/>
<path d="M1440.0,505.5 L1450.7,499.5 L1443.2,496.0 L1432.6,502.0Z" fill="#66fffc" stroke="#66fffc"/>
<path d="M1447.6,509.0 L1458.2,503.0 L1450.7,499.5 L1440.0,505.5Z" fill="#66ffee" stroke="#66ffee"/>
<path d="M1455.1,512.4 L1465.8,506.4 L1458.2,503.0 L1447.6,509.0Z" fill="#66ffe0" stroke="#66ffe0"/>
<path d="M1462.7,515.8 L1473.5,509.8 L1465.8,506.4 L1455.1,512.4Z" fill="#66ffd2" stroke="#66ffd2"/>
<path d="M1470.4,519.2 L1481.2,513.1 L1473.5,509.8 L1462.7,515.8Z" fill="#66ffc3" stroke="#66ffc3"/>
<path d="M1478.2,522.5 L1489.0,516.4 L1481.2,513.1 L1470.4,519.2Z" fill="#66ffb4" stroke="#66ffb4"/>
<path d="M1486.0,525.8 L1496.9,519.7 L1489.0,516.4 L1478.2,522.5Z" fill="#66ffa5" stroke="#66ffa5"/>
<path d="M1493.9,529.0 L1504.8,522.9 L1496.9,519.7 L1486.0,525.8Z" fill="#66ff96" stroke="#66ff96"/>
<path d="M1501.9,532.2 L1512.8,526.1 L1504.8,522.9 L1493.9,529.0Z" fill="#66ff86" stroke="#66ff86"/>
<path d="M1509.9,535.4 L1520.9,529.3 L1512.8,526.1 L1501.9,532.2Z" fill="#66ff76" stroke="#66ff76"/>
<path d="M1518.0,538.5 L1529.0,532.4 L1520.9,529.3 L1509.9,535.4Z" fill="#66ff66" stroke="#66ff66"/>
<path d="M1526.2,541.6 L1537.3,535.4 L1529.0,532.4 L1518.0,538.5Z" fill="#77ff66" stroke="#77ff66"/>
<path d="M1534.5,544.6 L1545.6,538.4 L1537.3,535.4 L1526.2,541.6Z" fill="#87ff66" stroke="#87ff66"/>
<path d="M1542.8,547.6 L1553.9,541.4 L1545.6,538.4 L1534.5,544.6Z" fill="#98ff66" stroke="#98ff66"/>
<path d="M1551.2,550.6 L1562.4,544.4 L1553.9,541.4 L1542.8,547.6Z" fill="#aaff66" stroke="#aaff66"/>
<path d="M1559.7,553.5 L1571.0,547.3 L1562.4,544.4 L1551.2,550.6Z" fill="#bbff66" stroke="#bbff66"/>
<path d="M1568.3,556.4 L1579.6,550.1 L1571.0,547.3 L1559.7,553.5Z" fill="#cdff66" stroke="#cdff66"/>
<path d="M1577.0,559.2 L1588.3,552.9 L1579.6,550.1 L1568.3,556.4Z" fill="#dfff66" stroke="#dfff66"/>
<path d="M1585.8,562.0 L1597.2,555.7 L1588.3,552.9 L1577.0,559.2Z" fill="#f1ff66" stroke="#f1ff66"/>
<path d="M1594.7,564.7 L1606.1,558.4 L1597.2,555.7 L1585.8,562.0Z" fill="#fffa66" stroke="#fffa66"/>
<path d="M1603.7,567.4 L1615.1,561.1 L1606.1,558.4 L1594.7,564.7Z" fill="#ffe766" stroke="#ffe766"/>
<path d="M1612.7,570.1 L1624.2,563.8 L1615.1,561.1 L1603.7,567.4Z" fill="#ffd466" stroke="#ffd466"/>
<path d="M1303.4,442.1 L1313.5,436.4 L1306.9,432.2 L1296.8,437.9Z" fill="#6666ff" stroke="#6666ff"/>
<path d="M1310.0,446.3 L1320.2,440.5 L1313.5,436.4 L1303.4,442.1Z" fill="#6666ff" stroke="#6666ff"/>
<path d="M1316.7,450.4 L1326.9,444.7 L1320.2,440.5 L1310.0,446.3Z" fill="#6666ff" stroke="#6666ff"/>
<path d="M1323.4,454.5 L1333.6,448.7 L1326.9,444.7 L1316.7,450.4Z" fill="#6666ff" stroke="#6666ff"/>
<path d="M1330.2,458.6 L1340.4,452.8 L1333.6,448.7 L1323.4,454.5Z" fill="#6666ff" stroke="#6666ff"/>
<path d="M1337.0,462.6 L1347.2,456.8 L1340.4,452.8 L1330.2,458.6Z" fill="#6666ff" stroke="#6666ff"/>
<path d="M1343.8,466.6 L1354.1,460.8 L1347.2,456.8 L1337.0,462.6Z" fill="#666eff" stroke="#666eff"/>
<path d="M1350.7,470.5 L1361.0,464.7 L1354.1,460.8 L1343.8,466.6Z" fill="#6679ff" stroke="#6679ff"/>
<path d="M1357.6,474.4 L1367.9,468.6 L1361.0,464.7 L1350.7,470.5Z" fill="#6684ff" stroke="#6684ff"/>
<path d="M1364.5,478.3 L1374.9,472.5 L1367.9,468.6 L1357.6,474.4Z" fill="#668fff" stroke="#668fff"/>
<path d="M1371.5,482.1 L1382.0,476.3 L1374.9,472.5 L1364.5,478.3Z" fill="#669bff" stroke="#669bff"/>
<path d="M1378.6,485.9 L1389.1,480.1 L1382.0,476.3 L1371.5,482.1Z" fill="#66a6ff" stroke="#66a6ff"/>
<path d="M1385.7,489.7 L1396.2,483.8 L1389.1,480.1 L1378.6,485.9Z" fill="#66b3ff" stroke="#66b3ff"/>
<path d="M1392.8,493.4 L1403.4,487.5 L1396.2,483.8 L1385.7,489.7Z" fill="#66bfff" stroke="#66bfff"/>
<path d="M1400.0,497.1 L1410.6,491.2 L1403.4,487.5 L1392.8,493.4Z" fill="#66cbff" stroke="#66cbff"/>
<path d="M1407.3,500.7 L1417.9,494.8 L1410.6,491.2 L1400.0,497.1Z" fill="#66d8ff" stroke="#66d8ff"/>
<path d="M1414.6,504.3 L1425.2,498.4 L1417.9,494.8 L1407.3,500.7Z" fill="#66e5ff" stroke="#66e5ff"/>
<path d="M1421.9,507.9 L1432.6,502.0 L1425.2,498.4 L1414.6,504.3Z" fill="#66f3ff" stroke="#66f3ff"/>
<path d="M1429.4,511.4 L1440.0,505.5 L1432.6,502.0 L1421.9,507.9Z" fill="#66fffe" stroke="#66fffe"/>
<path d="M1436.8,514.9 L1447.6,509.0 L1440.0,505.5 L1429.4,511.4Z" fill="#66fff0" stroke="#66fff0"/>
<path d="M1444.4,518.4 L1455.1,512.4 L1447.6,509.0 L1436.8,514.9Z" fill="#66ffe1" stroke="#66ffe1"/>
<path d="M1451.9,521.8 L1462.7,515.8 L1455.1,512.4 L1444.4,518.4Z" fill="#66ffd3" stroke="#66ffd3"/>
<path d="M1459.6,525.2 L1470.4,519.2 L1462.7,515.8 L1451.9,521.8Z" fill="#66ffc4" stroke="#66ffc4"/>
<path d="M1467.3,528.5 L1478.2,522.5 L1470.4,519.2 L1459.6,525.2Z" fill="#66ffb5" stroke="#66ffb5"/>
<path d="M1475.1,531.8 L1486.0,525.8 L1478.2,522.5 L1467.3,528.5Z" fill="#66ffa6" stroke="#66ffa6"/>
<path d="M1483.0,535.1 L1493.9,529.0 L1486.0,525.8 L1475.1,531.8Z" fill="#66ff97" stroke="#66ff97"/>
<path d="M1490.9,538.3 L1501.9,532.2 L1493.9,529.0 L1483.0,535.1Z" fill="#66ff87" stroke="#66ff87"/>
<path d="M1498.9,541.5 L1509.9,535.4 L1501.9,532.2 L1490.9,538.3Z" fill="#66ff77" stroke="#66ff77"/>
<path d="M1506.9,544.6 L1518.0,538.5 L1509.9,535.4 L1498.9,541.5Z" fill="#66ff67" stroke="#66ff67"/>
<path d="M1515.1,547.7 L1526.2,541.6 L1518.0,538.5 L1506.9,544.6Z" fill="#76ff66" stroke="#76ff66"/>
<path d="M1523.3,550.8 L1534.5,544.6 L1526.2,541.6 L1515.1,547.7Z" fill="#87ff66" stroke="#87ff66"/>
<path d="M1531.6,553.8 L1542.8,547.6 L1534.5,544.6 L1523.3,550.8Z" fill="#98ff66" stroke="#98ff66"/>
<path d="M1540.0,556.8 L1551.2,550.6 L1542.8,547.6 L1531.6,553.8Z" fill="#a9ff66" stroke="#a9ff66"/>
<path d="M1548.5,559.7 L1559.7,553.5 L1551.2,550.6 L1540.0,556.8Z" fill="#bbff66" stroke="#bbff66"/>
<path d="M1557.0,562.6 L1568.3,556.4 L1559.7,553.5 L1548.5,559.7Z" fill="#cdff66" stroke="#cdff66"/>
<path d="M1565.7,565.4 L1577.0,559.2 L1568.3,556.4 L1557.0,562.6Z" fill="#dfff66" stroke="#dfff66"/>
<path d="M1574.4,568.2 L1585.8,562.0 L1577.0,559.2 L1565.7,565.4Z" fill="#f1ff66" stroke="#f1ff66"/>
<path d="M1583.2,571.0 L1594.7,564.7 L1585.8,562.0 L1574.4,568.2Z" fill="#fffa66" stroke="#fffa66"/>
<path d="M1592.2,573.7 L1603.7,567.4 L1594.7,564.7 L1583.2,571.0Z" fill="#ffe766" stroke="#ffe766"/>
<path d="M1601.2,576.4 L1612.7,570.1 L1603.7,567.4 L1592.2,573.7Z" fill="#ffd466" stroke="#ffd466"/>
<path d="M1293.2,447.8 L1303.4,442.1 L1296.8,437.9 L1286.7,443.6Z" fill="#6666ff" stroke="#6666ff"/>
<path d="M1299.9,452.0 L1310.0,446.3 L1303.4,442.1 L1293.2,447.8Z" fill="#6666ff" stroke="#6666ff"/>
<path d="M1306.5,456.1 L1316.7,450.4 L1310.0,446.3 L1299.9,452.0Z" fill="#6666ff" stroke="#6666ff"/>
<path d="M1313.2,460.3 L1323.4,454.5 L1316.7,450.4 L1306.5,456.1Z" fill="#6666ff" stroke="#6666ff"/>
<path d="M1319.9,464.3 L1330.2,458.6 L1323.4,454.5 L1313.2,460.3Z" fill="#6666ff" stroke="#6666ff"/>
<path d="M1326.7,468.4 L1337.0,462.6 L1330.2,458.6 L1319.9,464.3Z" fill="#6666ff" stroke="#6666ff"/>
<path d="M1333.5,472.3 L1343.8,466.6 L1337.0,462.6 L1326.7,468.4Z" fill="#666cff" stroke="#666cff"/>
<path d="M1340.3,476.3 L1350.7,470.5 L1343.8,466.6 L1333.5,472.3Z" fill="#6677ff" stroke="#6677ff"/>
<path d="M1347.2,480.2 L1357.6,474.4 L1350.7,470.5 L1340.3,476.3Z" fill="#6682ff" stroke="#6682ff"/>
<path d="M1354.1,484.1 L1364.5,478.3 L1357.6,474.4 L1347.2,480.2Z" fill="#668dff" stroke="#668dff"/>
<path d="M1361.1,487.9 L1371.5,482.1 L1364.5,478.3 L1354.1,484.1Z" fill="#6699ff" stroke="#6699ff"/>
<path d="M1368.1,491.8 L1378.6,485.9 L1371.5,482.1 L1361.1,487.9Z" fill="#66a5ff" stroke="#66a5ff"/>
<path d="M1375.2,495.5 L1385.7,489.7 L1378.6,485.9 L1368.1,491.8Z" fill="#66b1ff" stroke="#66b1ff"/>
<path d="M1382.3,499.3 L1392.8,493.4 L1385.7,489.7 L1375.2,495.5Z" fill="#66bdff" stroke="#66bdff"/>
<path d="M1389.4,502.9 L1400.0,497.1 L1392.8,493.4 L1382.3,499.3Z" fill="#66caff" stroke="#66caff"/>
<path d="M1396.7,506.6 L1407.3,500.7 L1400.0,497.1 L1389.4,502.9Z" fill="#66d7ff" stroke="#66d7ff"/>
<path d="M1403.9,510.2 L1414.6,504.3 L1407.3,500.7 L1396.7,506.6Z" fill="#66e4ff" stroke="#66e4ff"/>
<path d="M1411.2,513.8 L1421.9,507.9 L1414.6,504.3 L1403.9,510.2Z" fill="#66f2ff" stroke="#66f2ff"/>
<path d="M1418.6,517.3 L1429.4,511.4 L1421.9,507.9 L1411.2,513.8Z" fill="#66ffff" stroke="#66ffff"/>
<path d="M1426.1,520.9 L1436.8,514.9 L1429.4,511.4 L1418.6,517.3Z" fill="#66fff1" stroke="#66fff1"/>
<path d="M1433.6,524.3 L1444.4,518.4 L1436.8,514.9 L1426.1,520.9Z" fill="#66ffe2" stroke="#66ffe2"/>
<path d="M1441.1,527.7 L1451.9,521.8 L1444.4,518.4 L1433.6,524.3Z" fill="#66ffd4" stroke="#66ffd4"/>
<path d="M1448.7,531.1 L1459.6,525.2 L1451.9,521.8 L1441.1,527.7Z" fill="#66ffc5" stroke="#66ffc5"/>
<path d="M1456.4,534.5 L1467.3,528.5 L1459.6,525.2 L1448.7,531.1Z" fill="#66ffb6" stroke="#66ffb6"/>
<path d="M1464.1,537.8 L1475.1,531.8 L1467.3,528.5 L1456.4,534.5Z" fill="#66ffa7" stroke="#66ffa7"/>
<path d="M1472.0,541.1 L1483.0,535.1 L1475.1,531.8 L1464.1,537.8Z" fill="#66ff97" stroke="#66ff97"/>
<path d="M1479.8,544.3 L1490.9,538.3 L1483.0,535.1 L1472.0,541.1Z" fill="#66ff87" stroke="#66ff87"/>
<path d="M1487.8,547.5 L1498.9,541.5 L1490.9,538.3 L1479.8,544.3Z" fill="#66ff77" stroke="#66ff77"/>
<path d="M1495.8,550.7 L1506.9,544.6 L1498.9,541.5 L1487.8,547.5Z" fill="#66ff67" stroke="#66ff67"/>
<path d="M1503.9,553.8 L1515.1,547.7 L1506.9,544.6 L1495.8,550.7Z" fill="#76ff66" stroke="#76ff66"/>
<path d="M1512.1,556.9 L1523.3,550.8 L1515.1,547.7 L1503.9,553.8Z" fill="#86ff66" stroke="#86ff66"/>
<path d="M1520.4,559.9 L1531.6,553.8 L1523.3,550.8 L1512.1,556.9Z" fill="#98ff66" stroke="#98ff66"/>
<path d="M1528.7,562.9 L1540.0,556.8 L1531.6,553.8 L1520.4,559.9Z" fill="#a9ff66" stroke="#a9ff66"/>
<path d="M1537.1,565.9 L1548.5,559.7 L1540.0,556.8 L1528.7,562.9Z" fill="#bbff66" stroke="#bbff66"/>
<path d="M1545.7,568.8 L1557.0,562.6 L1548.5,559.7 L1537.1,565.9Z" fill="#cdff66" stroke="#cdff66"/>
<path d="M1554.3,571.6 L1565.7,565.4 L1557.0,562.6 L1545.7,568.8Z" fill="#dfff66" stroke="#dfff66"/>
<path d="M1563.0,574.5 L1574.4,568.2 L1565.7,565.4 L1554.3,571.6Z" fill="#f1ff66" stroke="#f1ff66"/>
<path d="M1571.7,577.3 L1583.2,571.0 L1574.4,568.2 L1563.0,574.5Z" fill="#fffa66" stroke="#fffa66"/>
<path d="M1580.6,580.0 L1592.2,573.7 L1583.2,571.0 L1571.7,577.3Z" fill="#ffe766" stroke="#ffe766"/>
<path d="M1589.6,582.7 L1601.2,576.4 L1592.2,573.7 L1580.6,580.0Z" fill="#ffd466" stroke="#ffd466"/>
<path d="M1283.0,453.5 L1293.2,447.8 L1286.7,443.6 L1276.5,449.3Z" fill="#6666ff" stroke="#6666ff"/>
<path d="M1289.6,457.7 L1299.9,452.0 L1293.2,447.8 L1283.0,453.5Z" fill="#6666ff" stroke="#6666ff"/>
<path d="M1296.2,461.8 L1306.5,456.1 L1299.9,452.0 L1289.6,457.7Z" fill="#6666ff" stroke="#6666ff"/>
<path d="M1302.9,466.0 L1313.2,460.3 L1306.5,456.1 L1296.2,461.8Z" fill="#6666ff" stroke="#6666ff"/>
<path d="M1309.6,470.0 L1319.9,464.3 L1313.2,460.3 L1302.9,466.0Z" fill="#6666ff" stroke="#6666ff"/>
<path d="M1316.3,474.1 L1326.7,468.4 L1319.9,464.3 L1309.6,470.0Z" fill="#6666ff" stroke="#6666ff"/>
<path d="M1323.1,478.1 L1333.5,472.3 L1326.7,468.4 L1316.3,474.1Z" fill="#666aff" stroke="#666aff"/>
<path d="M1329.9,482.0 L1340.3,476.3 L1333.5,472.3 L1323.1,478.1Z" fill="#6675ff" stroke="#6675ff"/>
<path d="M1336.7,486.0 L1347.2,480.2 L1340.3,476.3 L1329.9,482.0Z" fill="#6680ff" stroke="#6680ff"/>
<path d="M1343.6,489.9 L1354.1,484.1 L1347.2,480.2 L1336.7,486.0Z" fill="#668cff" stroke="#668cff"/>
<path d="M1350.6,493.7 L1361.1,487.9 L1354.1,484.1 L1343.6,489.9Z" fill="#6698ff" stroke="#6698ff"/>
<path d="M1357.6,497.5 L1368.1,491.8 L1361.1,487.9 L1350.6,493.7Z" fill="#66a3ff" stroke="#66a3ff"/>
<path d="M1364.6,501.3 L1375.2,495.5 L1368.1,491.8 L1357.6,497.5Z" fill="#66b0ff" stroke="#66b0ff"/>
<path d="M1371.7,505.1 L1382.3,499.3 L1375.2,495.5 L1364.6,501.3Z" fill="#66bcff" stroke="#66bcff"/>
<path d="M1378.8,508.8 L1389.4,502.9 L1382.3,499.3 L1371.7,505.1Z" fill="#66c9ff" stroke="#66c9ff"/>
<path d="M1386.0,512.4 L1396.7,506.6 L1389.4,502.9 L1378.8,508.8Z" fill="#66d6ff" stroke="#66d6ff"/>
<path d="M1393.2,516.1 L1403.9,510.2 L1396.7,506.6 L1386.0,512.4Z" fill="#66e3ff" stroke="#66e3ff"/>
<path d="M1400.5,519.7 L1411.2,513.8 L1403.9,510.2 L1393.2,516.1Z" fill="#66f1ff" stroke="#66f1ff"/>
<path d="M1407.8,523.2 L1418.6,517.3 L1411.2,513.8 L1400.5,519.7Z" fill="#66feff" stroke="#66feff"/>
<path d="M1415.2,526.7 L1426.1,520.9 L1418.6,517.3 L1407.8,523.2Z" fill="#66fff2" stroke="#66fff2"/>
<path d="M1422.7,530.2 L1433.6,524.3 L1426.1,520.9 L1415.2,526.7Z" fill="#66ffe3" stroke="#66ffe3"/>
<path d="M1430.2,533.7 L1441.1,527.7 L1433.6,524.3 L1422.7,530.2Z" fill="#66ffd5" stroke="#66ffd5"/>
<path d="M1437.8,537.1 L1448.7,531.1 L1441.1,527.7 L1430.2,533.7Z" fill="#66ffc6" stroke="#66ffc6"/>
<path d="M1445.4,540.4 L1456.4,534.5 L1448.7,531.1 L1437.8,537.1Z" fill="#66ffb7" stroke="#66ffb7"/>
<path d="M1453.2,543.8 L1464.1,537.8 L1456.4,534.5 L1445.4,540.4Z" fill="#66ffa7" stroke="#66ffa7"/>
<path d="M1460.9,547.1 L1472.0,541.1 L1464.1,537.8 L1453.2,543.8Z" fill="#66ff98" stroke="#66ff98"/>
<path d="M1468.8,550.3 L1479.8,544.3 L1472.0,541.1 L1460.9,547.1Z" fill="#66ff88" stroke="#66ff88"/>
<path d="M1476.7,553.5 L1487.8,547.5 L1479.8,544.3 L1468.8,550.3Z" fill="#66ff78" stroke="#66ff78"/>
<path d="M1484.7,556.7 L1495.8,550.7 L1487.8,547.5 L1476.7,553.5Z" fill="#66ff67" stroke="#66ff67"/>
<path d="M1492.7,559.8 L1503.9,553.8 L1495.8,550.7 L1484.7,556.7Z" fill="#75ff66" stroke="#75ff66"/>
<path d="M1500.9,562.9 L1512.1,556.9 L1503.9,553.8 L1492.7,559.8Z" fill="#86ff66" stroke="#86ff66"/>
<path d="M1509.1,566.0 L1520.4,559.9 L1512.1,556.9 L1500.9,562.9Z" fill="#98ff66" stroke="#98ff66"/>
<path d="M1517.4,569.0 L1528.7,562.9 L1520.4,559.9 L1509.1,566.0Z" fill="#a9ff66" stroke="#a9ff66"/>
<path d="M1525.8,572.0 L1537.1,565.9 L1528.7,562.9 L1517.4,569.0Z" fill="#bbff66" stroke="#bbff66"/>
<path d="M1534.2,574.9 L1545.7,568.8 L1537.1,565.9 L1525.8,572.0Z" fill="#cdff66" stroke="#cdff66"/>
<path d="M1542.8,577.8 L1554.3,571.6 L1545.7,568.8 L1534.2,574.9Z" fill="#dfff66" stroke="#dfff66"/>
<path d="M1551.4,580.7 L1563.0,574.5 L1554.3,571.6 L1542.8,577.8Z" fill="#f2ff66" stroke="#f2ff66"/>
<path d="M1560.2,583.5 L1571.7,577.3 L1563.0,574.5 L1551.4,580.7Z" fill="#fffa66" stroke="#fffa66"/>
<path d="M1569.0,586.3 L1580.6,580.0 L1571.7,577.3 L1560.2,583.5Z" fill="#ffe766" stroke="#ffe766"/>
<path d="M1578.0,589.0 L1589.6,582.7 L1580.6,580.0 L1569.0,586.3Z" fill="#ffd366" stroke="#ffd366"/>
<path d="M1272.8,459.1 L1283.0,453.5 L1276.5,449.3 L1266.3,454.9Z" fill="#6666ff" stroke="#6666ff"/>
<path d="M1279.4,463.3 L1289.6,457.7 L1283.0,453.5 L1272.8,459.1Z" fill="#6666ff" stroke="#6666ff"/>
<path d="M1285.9,467.5 L1296.2,461.8 L1289.6,457.7 L1279.4,463.3Z" fill="#6666ff" stroke="#6666ff"/>
<path d="M1292.6,471.6 L1302.9,466.0 L1296.2,461.8 L1285.9,467.5Z" fill="#6666ff" stroke="#6666ff"/>
<path d="M1299.2,475.7 L1309.6,470.0 L1302.9,466.0 L1292.6,471.6Z" fill="#6666ff" stroke="#6666ff"/>
<path d="M1305.9,479.8 L1316.3,474.1 L1309.6,470.0 L1299.2,475.7Z" fill="#6666ff" stroke="#6666ff"/>
<path d="M1312.7,483.8 L1323.1,478.1 L1316.3,474.1 L1305.9,479.8Z" fill="#6669ff" stroke="#6669ff"/>
<path d="M1319.4,487.8 L1329.9,482.0 L1323.1,478.1 L1312.7,483.8Z" fill="#6674ff" stroke="#6674ff"/>
<path d="M1326.3,491.7 L1336.7,486.0 L1329.9,482.0 L1319.4,487.8Z" fill="#667fff" stroke="#667fff"/>
<path d="M1333.1,495.6 L1343.6,489.9 L1336.7,486.0 L1326.3,491.7Z" fill="#668aff" stroke="#668aff"/>
<path d="M1340.0,499.5 L1350.6,493.7 L1343.6,489.9 L1333.1,495.6Z" fill="#6696ff" stroke="#6696ff"/>
<path d="M1347.0,503.3 L1357.6,497.5 L1350.6,493.7 L1340.0,499.5Z" fill="#66a2ff" stroke="#66a2ff"/>
<path d="M1354.0,507.1 L1364.6,501.3 L1357.6,497.5 L1347.0,503.3Z" fill="#66afff" stroke="#66afff"/>
<path d="M1361.0,510.8 L1371.7,505.1 L1364.6,501.3 L1354.0,507.1Z" fill="#66bbff" stroke="#66bbff"/>
<path d="M1368.1,514.6 L1378.8,508.8 L1371.7,505.1 L1361.0,510.8Z" fill="#66c8ff" stroke="#66c8ff"/>
<path d="M1375.3,518.2 L1386.0,512.4 L1378.8,508.8 L1368.1,514.6Z" fill="#66d5ff" stroke="#66d5ff"/>
<path d="M1382.5,521.9 L1393.2,516.1 L1386.0,512.4 L1375.3,518.2Z" fill="#66e2ff" stroke="#66e2ff"/>
<path d="M1389.7,525.5 L1400.5,519.7 L1393.2,516.1 L1382.5,521.9Z" fill="#66f0ff" stroke="#66f0ff"/>
<path d="M1397.0,529.1 L1407.8,523.2 L1400.5,519.7 L1389.7,525.5Z" fill="#66feff" stroke="#66feff"/>
<path d="M1404.4,532.6 L1415.2,526.7 L1407.8,523.2 L1397.0,529.1Z" fill="#66fff2" stroke="#66fff2"/>
<path d="M1411.8,536.1 L1422.7,530.2 L1415.2,526.7 L1404.4,532.6Z" fill="#66ffe4" stroke="#66ffe4"/>
<path d="M1419.3,539.6 L1430.2,533.7 L1422.7,530.2 L1411.8,536.1Z" fill="#66ffd5" stroke="#66ffd5"/>
<path d="M1426.8,543.0 L1437.8,537.1 L1430.2,533.7 L1419.3,539.6Z" fill="#66ffc6" stroke="#66ffc6"/>
<path d="M1434.4,546.4 L1445.4,540.4 L1437.8,537.1 L1426.8,543.0Z" fill="#66ffb7" stroke="#66ffb7"/>
<path d="M1442.1,549.7 L1453.2,543.8 L1445.4,540.4 L1434.4,546.4Z" fill="#66ffa8" stroke="#66ffa8"/>
<path d="M1449.8,553.0 L1460.9,547.1 L1453.2,543.8 L1442.1,549.7Z" fill="#66ff98" stroke="#66ff98"/>
<path d="M1457.6,556.3 L1468.8,550.3 L1460.9,547.1 L1449.8,553.0Z" fill="#66ff88" stroke="#66ff88"/>
<path d="M1465.5,559.5 L1476.7,553.5 L1468.8,550.3 L1457.6,556.3Z" fill="#66ff78" stroke="#66ff78"/>
<path d="M1473.5,562.7 L1484.7,556.7 L1476.7,553.5 L1465.5,559.5Z" fill="#66ff67" stroke="#66ff67"/>
<path d="M1481.5,565.9 L1492.7,559.8 L1484.7,556.7 L1473.5,562.7Z" fill="#75ff66" stroke="#75ff66"/>
<path d="M1489.6,569.0 L1500.9,562.9 L1492.7,559.8 L1481.5,565.9Z" fill="#86ff66" stroke="#86ff66"/>
<path d="M1497.8,572.1 L1509.1,566.0 L1500.9,562.9 L1489.6,569.0Z" fill="#98ff66" stroke="#98ff66"/>
<path d="M1506.0,575.1 L1517.4,569.0 L1509.1,566.0 L1497.8,572.1Z" fill="#a9ff66" stroke="#a9ff66"/>
<path d="M1514.4,578.1 L1525.8,572.0 L1517.4,569.0 L1506.0,575.1Z" fill="#bbff66" stroke="#bbff66"/>
<path d="M1522.8,581.0 L1534.2,574.9 L1525.8,572.0 L1514.4,578.1Z" fill="#cdff66" stroke="#cdff66"/>
<path d="M1531.3,584.0 L1542.8,577.8 L1534.2,574.9 L1522.8,581.0Z" fill="#dfff66" stroke="#dfff66"/>
<path d="M1539.9,586.8 L1551.4,580.7 L1542.8,577.8 L1531.3,584.0Z" fill="#f2ff66" stroke="#f2ff66"/>
<path d="M1548.6,589.7 L1560.2,583.5 L1551.4,580.7 L1539.9,586.8Z" fill="#fff966" stroke="#fff966"/>
<path d="M1557.4,592.5 L1569.0,586.3 L1560.2,583.5 L1548.6,589.7Z" fill="#ffe666" stroke="#ffe666"/>
<path d="M1566.3,595.2 L1578.0,589.0 L1569.0,586.3 L1557.4,592.5Z" fill="#ffd366" stroke="#ffd366"/>
<path d="M1262.5,464.7 L1272.8,459.1 L1266.3,454.9 L1256.0,460.5Z" fill="#6666ff" stroke="#6666ff"/>
<path d="M1269.0,469.0 L1279.4,463.3 L1272.8,459.1 L1262.5,464.7Z" fill="#6666ff" stroke="#6666ff"/>
<path d="M1275.6,473.1 L1285.9,467.5 L1279.4,463.3 L1269.0,469.0Z" fill="#6666ff" stroke="#6666ff"/>
<path d="M1282.2,477.3 L1292.6,471.6 L1285.9,467.5 L1275.6,473.1Z" fill="#6666ff" stroke="#6666ff"/>
<path d="M1288.8,481.4 L1299.2,475.7 L1292.6,471.6 L1282.2,477.3Z" fill="#6666ff" stroke="#6666ff"/>
<path d="M1295.5,485.4 L1305.9,479.8 L1299.2,475.7 L1288.8,481.4Z" fill="#6666ff" stroke="#6666ff"/>
<path d="M1302.2,489.4 L1312.7,483.8 L1305.9,479.8 L1295.5,485.4Z" fill="#6667ff" stroke="#6667ff"/>
<path d="M1309.0,493.4 L1319.4,487.8 L1312.7,483.8 L1302.2,489.4Z" fill="#6672ff" stroke="#6672ff"/>
<path d="M1315.7,497.4 L1326.3,491.7 L1319.4,487.8 L1309.0,493.4Z" fill="#667eff" stroke="#667eff"/>
<path d="M1322.6,501.3 L1333.1,495.6 L1326.3,491.7 L1315.7,497.4Z" fill="#6689ff" stroke="#6689ff"/>
<path d="M1329.4,505.2 L1340.0,499.5 L1333.1,495.6 L1322.6,501.3Z" fill="#6695ff" stroke="#6695ff"/>
<path d="M1336.4,509.0 L1347.0,503.3 L1340.0,499.5 L1329.4,505.2Z" fill="#66a1ff" stroke="#66a1ff"/>
<path d="M1343.3,512.8 L1354.0,507.1 L1347.0,503.3 L1336.4,509.0Z" fill="#66aeff" stroke="#66aeff"/>
<path d="M1350.3,516.6 L1361.0,510.8 L1354.0,507.1 L1343.3,512.8Z" fill="#66baff" stroke="#66baff"/>
<path d="M1357.4,520.3 L1368.1,514.6 L1361.0,510.8 L1350.3,516.6Z" fill="#66c7ff" stroke="#66c7ff"/>
<path d="M1364.5,524.0 L1375.3,518.2 L1368.1,514.6 L1357.4,520.3Z" fill="#66d4ff" stroke="#66d4ff"/>
<path d="M1371.7,527.7 L1382.5,521.9 L1375.3,518.2 L1364.5,524.0Z" fill="#66e2ff" stroke="#66e2ff"/>
<path d="M1378.9,531.3 L1389.7,525.5 L1382.5,521.9 L1371.7,527.7Z" fill="#66efff" stroke="#66efff"/>
<path d="M1386.2,534.9 L1397.0,529.1 L1389.7,525.5 L1378.9,531.3Z" fill="#66fdff" stroke="#66fdff"/>
<path d="M1393.5,538.4 L1404.4,532.6 L1397.0,529.1 L1386.2,534.9Z" fill="#66fff3" stroke="#66fff3"/>
<path d="M1400.9,541.9 L1411.8,536.1 L1404.4,532.6 L1393.5,538.4Z" fill="#66ffe4" stroke="#66ffe4"/>
<path d="M1408.3,545.4 L1419.3,539.6 L1411.8,536.1 L1400.9,541.9Z" fill="#66ffd6" stroke="#66ffd6"/>
<path d="M1415.8,548.9 L1426.8,543.0 L1419.3,539.6 L1408.3,545.4Z" fill="#66ffc7" stroke="#66ffc7"/>
<path d="M1423.4,552.3 L1434.4,546.4 L1426.8,543.0 L1415.8,548.9Z" fill="#66ffb7" stroke="#66ffb7"/>
<path d="M1431.0,555.6 L1442.1,549.7 L1434.4,546.4 L1423.4,552.3Z" fill="#66ffa8" stroke="#66ffa8"/>
<path d="M1438.7,558.9 L1449.8,553.0 L1442.1,549.7 L1431.0,555.6Z" fill="#66ff98" stroke="#66ff98"/>
<path d="M1446.5,562.2 L1457.6,556.3 L1449.8,553.0 L1438.7,558.9Z" fill="#66ff88" stroke="#66ff88"/>
<path d="M1454.3,565.5 L1465.5,559.5 L1457.6,556.3 L1446.5,562.2Z" fill="#66ff78" stroke="#66ff78"/>
<path d="M1462.2,568.7 L1473.5,562.7 L1465.5,559.5 L1454.3,565.5Z" fill="#66ff67" stroke="#66ff67"/>
<path d="M1470.2,571.9 L1481.5,565.9 L1473.5,562.7 L1462.2,568.7Z" fill="#76ff66" stroke="#76ff66"/>
<path d="M1478.2,575.0 L1489.6,569.0 L1481.5,565.9 L1470.2,571.9Z" fill="#87ff66" stroke="#87ff66"/>
<path d="M1486.4,578.1 L1497.8,572.1 L1489.6,569.0 L1478.2,575.0Z" fill="#98ff66" stroke="#98ff66"/>
<path d="M1494.6,581.1 L1506.0,575.1 L1497.8,572.1 L1486.4,578.1Z" fill="#aaff66" stroke="#aaff66"/>
<path d="M1502.9,584.2 L1514.4,578.1 L1506.0,575.1 L1494.6,581.1Z" fill="#bcff66" stroke="#bcff66"/>
<path d="M1511.3,587.1 L1522.8,581.0 L1514.4,578.1 L1502.9,584.2Z" fill="#ceff66" stroke="#ceff66"/>
<path d="M1519.7,590.1 L1531.3,584.0 L1522.8,581.0 L1511.3,587.1Z" fill="#e0ff66" stroke="#e0ff66"/>
<path d="M1528.3,593.0 L1539.9,586.8 L1531.3,584.0 L1519.7,590.1Z" fill="#f3ff66" stroke="#f3ff66"/>
<path d="M1536.9,595.8 L1548.6,589.7 L1539.9,586.8 L1528.3,593.0Z" fill="#fff866" stroke="#fff866"/>
<path d="M1545.7,598.6 L1557.4,592.5 L1548.6,589.7 L1536.9,595.8Z" fill="#ffe566" stroke="#ffe566"/>
<path d="M1554.5,601.4 L1566.3,595.2 L1557.4,592.5 L1545.7,598.6Z" fill="#ffd266" stroke="#ffd266"/>
</g>
<path d="M1554.5,601.4 L1536.9,595.8 L1519.7,590.1 L1502.9,584.2 L1486.4,578.1 L1470.2,571.9 L1454.3,565.5 L1438.7,558.9 L1423.4,552.3 L1408.3,545.4 L1393.5,538.4 L1378.9,531.3 L1364.5,524.0 L1350.3,516.6 L1336.4,509.0 L1322.6,501.3 L1309.0,493.4 L1295.5,485.4 L1282.2,477.3 L1269.0,469.0 L1256.0,460.5 M1554.5,601.4 L1578.0,589.0 L1601.2,576.4 L1624.2,563.8 L1647.1,551.0 L1669.7,538.0 L1692.2,525.0 L1714.6,511.8 L1736.8,498.5 L1758.8,485.1 L1780.8,471.5 L1802.6,457.7 L1824.3,443.8 L1845.9,429.8 L1867.4,415.6 L1888.9,401.2 L1910.2,386.7 L1931.5,371.9 L1952.8,357.1 L1974.0,342.0 L1995.1,326.8 M1578.0,589.0 L1560.2,583.5 L1542.8,577.8 L1525.8,572.0 L1509.1,566.0 L1492.7,559.8 L1476.7,553.5 L1460.9,547.1 L1445.4,540.4 L1430.2,533.7 L1415.2,526.7 L1400.5,519.7 L1386.0,512.4 L1371.7,505.1 L1357.6,497.5 L1343.6,489.9 L1329.9,482.0 L1316.3,474.1 L1302.9,466.0 L1289.6,457.7 L1276.5,449.3 M1536.9,595.8 L1560.2,583.5 L1583.2,571.0 L1606.1,558.4 L1628.8,545.7 L1651.2,532.9 L1673.6,519.9 L1695.7,506.8 L1717.8,493.6 L1739.7,480.2 L1761.4,466.7 L1783.1,453.0 L1804.7,439.2 L1826.1,425.3 L1847.5,411.1 L1868.7,396.8 L1890.0,382.4 L1911.1,367.8 L1932.2,353.0 L1953.2,338.0 L1974.2,322.8 M1601.2,576.4 L1583.2,571.0 L1565.7,565.4 L1548.5,559.7 L1531.6,553.8 L1515.1,547.7 L1498.9,541.5 L1483.0,535.1 L1467.3,528.5 L1451.9,521.8 L1436.8,514.9 L1421.9,507.9 L1407.3,500.7 L1392.8,493.4 L1378.6,485.9 L1364.5,478.3 L1350.7,470.5 L1337.0,462.6 L1323.4,454.5 L1310.0,446.3 L1296.8,437.9 M1519.7,590.1 L1542.8,577.8 L1565.7,565.4 L1588.3,552.9 L1610.8,540.3 L1633.2,527.6 L1655.3,514.7 L1677.3,501.7 L1699.2,488.5 L1720.9,475.2 L1742.5,461.8 L1764.0,448.2 L1785.4,434.4 L1806.7,420.6 L1827.9,406.5 L1849.1,392.3 L1870.1,377.9 L1891.1,363.3 L1912.0,348.6 L1932.9,333.7 L1953.8,318.6 M1624.2,563.8 L1606.1,558.4 L1588.3,552.9 L1571.0,547.3 L1553.9,541.4 L1537.3,535.4 L1520.9,529.3 L1504.8,522.9 L1489.0,516.4 L1473.5,509.8 L1458.2,503.0 L1443.2,496.0 L1428.4,488.9 L1413.8,481.6 L1399.5,474.2 L1385.3,466.6 L1371.3,458.9 L1357.5,451.0 L1343.8,442.9 L1330.3,434.7 L1317.0,426.4 M1502.9,584.2 L1525.8,572.0 L1548.5,559.7 L1571.0,547.3 L1593.3,534.7 L1615.4,522.1 L1637.4,509.2 L1659.3,496.3 L1681.0,483.2 L1702.6,470.0 L1724.0,456.6 L1745.4,443.1 L1766.6,429.5 L1787.8,415.6 L1808.8,401.7 L1829.8,387.5 L1850.7,373.2 L1871.5,358.7 L1892.3,344.1 L1913.1,329.2 L1933.8,314.2 M1647.1,551.0 L1628.8,545.7 L1610.8,540.3 L1593.3,534.7 L1576.1,529.0 L1559.3,523.0 L1542.7,516.9 L1526.5,510.7 L1510.6,504.2 L1494.9,497.6 L1479.5,490.9 L1464.3,484.0 L1449.4,476.9 L1434.7,469.7 L1420.2,462.3 L1405.9,454.8 L1391.8,447.1 L1377.8,439.2 L1364.1,431.2 L1350.4,423.1 L1337.0,414.7 M1486.4,578.1 L1509.1,566.0 L1531.6,553.8 L1553.9,541.4 L1576.1,529.0 L1598.1,516.4 L1619.9,503.6 L1641.6,490.8 L1663.2,477.8 L1684.6,464.6 L1705.9,451.3 L1727.1,437.9 L1748.2,424.3 L1769.2,410.5 L1790.1,396.6 L1810.9,382.5 L1831.7,368.3 L1852.4,353.9 L1873.0,339.3 L1893.6,324.5 L1914.2,309.6 M1669.7,538.0 L1651.2,532.9 L1633.2,527.6 L1615.4,522.1 L1598.1,516.4 L1581.1,510.5 L1564.4,504.5 L1548.0,498.3 L1531.9,491.9 L1516.1,485.4 L1500.6,478.7 L1485.3,471.8 L1470.2,464.8 L1455.4,457.6 L1440.8,450.3 L1426.3,442.8 L1412.1,435.1 L1398.0,427.3 L1384.2,419.4 L1370.4,411.2 L1356.9,403.0 M1470.2,571.9 L1492.7,559.8 L1515.1,547.7 L1537.3,535.4 L1559.3,523.0 L1581.1,510.5 L1602.8,497.8 L1624.3,485.0 L1645.7,472.1 L1667.0,459.0 L1688.1,445.8 L1709.2,432.4 L1730.1,418.9 L1751.0,405.2 L1771.7,391.4 L1792.4,377.3 L1813.0,363.2 L1833.6,348.8 L1854.1,334.3 L1874.6,319.6 L1895.0,304.7 M1692.2,525.0 L1673.6,519.9 L1655.3,514.7 L1637.4,509.2 L1619.9,503.6 L1602.8,497.8 L1585.9,491.9 L1569.4,485.7 L1553.2,479.4 L1537.2,473.0 L1521.5,466.3 L1506.1,459.5 L1490.9,452.6 L1476.0,445.4 L1461.2,438.1 L1446.7,430.7 L1432.3,423.1 L1418.1,415.3 L1404.1,407.4 L1390.3,399.3 L1376.6,391.0 M1454.3,565.5 L1476.7,553.5 L1498.9,541.5 L1520.9,529.3 L1542.7,516.9 L1564.4,504.5 L1585.9,491.9 L1607.3,479.1 L1628.6,466.3 L1649.7,453.3 L1670.7,440.1 L1691.6,426.8 L1712.4,413.3 L1733.1,399.7 L1753.7,385.9 L1774.3,372.0 L1794.8,357.8 L1815.2,343.5 L1835.6,329.1 L1855.9,314.4 L1876.1,299.6 M1714.6,511.8 L1695.7,506.8 L1677.3,501.7 L1659.3,496.3 L1641.6,490.8 L1624.3,485.0 L1607.3,479.1 L1590.6,473.1 L1574.3,466.8 L1558.2,460.4 L1542.4,453.8 L1526.8,447.1 L1511.5,440.2 L1496.4,433.1 L1481.5,425.8 L1466.8,418.4 L1452.4,410.8 L1438.1,403.1 L1424.0,395.2 L1410.0,387.1 L1396.3,378.9 M1438.7,558.9 L1460.9,547.1 L1483.0,535.1 L1504.8,522.9 L1526.5,510.7 L1548.0,498.3 L1569.4,485.7 L1590.6,473.1 L1611.8,460.3 L1632.7,447.3 L1653.6,434.2 L1674.4,421.0 L1695.0,407.5 L1715.6,394.0 L1736.1,380.3 L1756.5,366.4 L1776.9,352.3 L1797.1,338.1 L1817.4,323.7 L1837.5,309.1 L1857.7,294.3 M1736.8,498.5 L1717.8,493.6 L1699.2,488.5 L1681.0,483.2 L1663.2,477.8 L1645.7,472.1 L1628.6,466.3 L1611.8,460.3 L1595.2,454.1 L1579.0,447.7 L1563.1,441.2 L1547.4,434.5 L1531.9,427.6 L1516.7,420.6 L1501.7,413.4 L1486.9,406.0 L1472.3,398.5 L1457.9,390.8 L1443.7,382.9 L1429.7,374.9 L1415.8,366.7 M1423.4,552.3 L1445.4,540.4 L1467.3,528.5 L1489.0,516.4 L1510.6,504.2 L1531.9,491.9 L1553.2,479.4 L1574.3,466.8 L1595.2,454.1 L1616.1,441.2 L1636.8,428.1 L1657.4,414.9 L1678.0,401.6 L1698.4,388.1 L1718.8,374.4 L1739.0,360.6 L1759.3,346.6 L1779.4,332.4 L1799.5,318.0 L1819.6,303.5 L1839.6,288.8 M1758.8,485.1 L1739.7,480.2 L1720.9,475.2 L1702.6,470.0 L1684.6,464.6 L1667.0,459.0 L1649.7,453.3 L1632.7,447.3 L1616.1,441.2 L1599.7,434.9 L1583.6,428.4 L1567.8,421.8 L1552.2,414.9 L1536.9,407.9 L1521.8,400.8 L1506.9,393.5 L1492.2,386.0 L1477.7,378.3 L1463.4,370.5 L1449.2,362.5 L1435.2,354.3 M1408.3,545.4 L1430.2,533.7 L1451.9,521.8 L1473.5,509.8 L1494.9,497.6 L1516.1,485.4 L1537.2,473.0 L1558.2,460.4 L1579.0,447.7 L1599.7,434.9 L1620.3,421.9 L1640.8,408.8 L1661.2,395.5 L1681.5,382.0 L1701.7,368.4 L1721.9,354.6 L1742.0,340.6 L1762.0,326.5 L1782.0,312.2 L1801.9,297.7 L1821.8,283.1 M1780.8,471.5 L1761.4,466.7 L1742.5,461.8 L1724.0,456.6 L1705.9,451.3 L1688.1,445.8 L1670.7,440.1 L1653.6,434.2 L1636.8,428.1 L1620.3,421.9 L1604.1,415.5 L1588.1,408.9 L1572.5,402.1 L1557.0,395.1 L1541.8,388.0 L1526.7,380.7 L1511.9,373.3 L1497.3,365.6 L1482.9,357.8 L1468.6,349.9 L1454.5,341.7 M1393.5,538.4 L1415.2,526.7 L1436.8,514.9 L1458.2,503.0 L1479.5,490.9 L1500.6,478.7 L1521.5,466.3 L1542.4,453.8 L1563.1,441.2 L1583.6,428.4 L1604.1,415.5 L1624.5,402.4 L1644.7,389.1 L1664.9,375.7 L1685.0,362.2 L1705.0,348.4 L1725.0,334.5 L1744.9,320.4 L1764.7,306.2 L1784.5,291.7 L1804.3,277.1 M1802.6,457.7 L1783.1,453.0 L1764.0,448.2 L1745.4,443.1 L1727.1,437.9 L1709.2,432.4 L1691.6,426.8 L1674.4,421.0 L1657.4,414.9 L1640.8,408.8 L1624.5,402.4 L1608.4,395.8 L1592.6,389.1 L1577.0,382.2 L1561.6,375.1 L1546.5,367.9 L1531.6,360.4 L1516.9,352.8 L1502.3,345.1 L1488.0,337.1 L1473.8,329.0 M1378.9,531.3 L1400.5,519.7 L1421.9,507.9 L1443.2,496.0 L1464.3,484.0 L1485.3,471.8 L1506.1,459.5 L1526.8,447.1 L1547.4,434.5 L1567.8,421.8 L1588.1,408.9 L1608.4,395.8 L1628.5,382.6 L1648.6,369.3 L1668.6,355.8 L1688.5,342.1 L1708.3,328.2 L1728.1,314.2 L1747.8,300.0 L1767.5,285.6 L1787.1,271.0 M1824.3,443.8 L1804.7,439.2 L1785.4,434.4 L1766.6,429.5 L1748.2,424.3 L1730.1,418.9 L1712.4,413.3 L1695.0,407.5 L1678.0,401.6 L1661.2,395.5 L1644.7,389.1 L1628.5,382.6 L1612.6,376.0 L1596.9,369.1 L1581.4,362.1 L1566.2,354.8 L1551.1,347.4 L1536.3,339.9 L1521.7,332.1 L1507.2,324.2 L1492.9,316.1 M1364.5,524.0 L1386.0,512.4 L1407.3,500.7 L1428.4,488.9 L1449.4,476.9 L1470.2,464.8 L1490.9,452.6 L1511.5,440.2 L1531.9,427.6 L1552.2,414.9 L1572.5,402.1 L1592.6,389.1 L1612.6,376.0 L1632.5,362.6 L1652.4,349.2 L1672.2,335.5 L1691.9,321.7 L1711.5,307.7 L1731.1,293.5 L1750.7,279.2 L1770.2,264.6 M1845.9,429.8 L1826.1,425.3 L1806.7,420.6 L1787.8,415.6 L1769.2,410.5 L1751.0,405.2 L1733.1,399.7 L1715.6,394.0 L1698.4,388.1 L1681.5,382.0 L1664.9,375.7 L1648.6,369.3 L1632.5,362.6 L1616.7,355.8 L1601.1,348.8 L1585.8,341.6 L1570.6,334.3 L1555.7,326.8 L1540.9,319.0 L1526.4,311.2 L1512.0,303.1 M1350.3,516.6 L1371.7,505.1 L1392.8,493.4 L1413.8,481.6 L1434.7,469.7 L1455.4,457.6 L1476.0,445.4 L1496.4,433.1 L1516.7,420.6 L1536.9,407.9 L1557.0,395.1 L1577.0,382.2 L1596.9,369.1 L1616.7,355.8 L1636.4,342.4 L1656.1,328.8 L1675.7,315.0 L1695.2,301.1 L1714.7,286.9 L1734.2,272.6 L1753.6,258.1 M1867.4,415.6 L1847.5,411.1 L1827.9,406.5 L1808.8,401.7 L1790.1,396.6 L1771.7,391.4 L1753.7,385.9 L1736.1,380.3 L1718.8,374.4 L1701.7,368.4 L1685.0,362.2 L1668.6,355.8 L1652.4,349.2 L1636.4,342.4 L1620.7,335.4 L1605.3,328.3 L1590.0,321.0 L1575.0,313.5 L1560.1,305.8 L1545.5,297.9 L1531.0,289.9 M1336.4,509.0 L1357.6,497.5 L1378.6,485.9 L1399.5,474.2 L1420.2,462.3 L1440.8,450.3 L1461.2,438.1 L1481.5,425.8 L1501.7,413.4 L1521.8,400.8 L1541.8,388.0 L1561.6,375.1 L1581.4,362.1 L1601.1,348.8 L1620.7,335.4 L1640.3,321.9 L1659.8,308.1 L1679.2,294.2 L1698.6,280.1 L1717.9,265.8 L1737.2,251.4 M1888.9,401.2 L1868.7,396.8 L1849.1,392.3 L1829.8,387.5 L1810.9,382.5 L1792.4,377.3 L1774.3,372.0 L1756.5,366.4 L1739.0,360.6 L1721.9,354.6 L1705.0,348.4 L1688.5,342.1 L1672.2,335.5 L1656.1,328.8 L1640.3,321.9 L1624.7,314.8 L1609.3,307.5 L1594.2,300.0 L1579.2,292.3 L1564.5,284.5 L1549.9,276.5 M1322.6,501.3 L1343.6,489.9 L1364.5,478.3 L1385.3,466.6 L1405.9,454.8 L1426.3,442.8 L1446.7,430.7 L1466.8,418.4 L1486.9,406.0 L1506.9,393.5 L1526.7,380.7 L1546.5,367.9 L1566.2,354.8 L1585.8,341.6 L1605.3,328.3 L1624.7,314.8 L1644.1,301.0 L1663.4,287.2 L1682.7,273.1 L1701.9,258.9 L1721.1,244.4 M1910.2,386.7 L1890.0,382.4 L1870.1,377.9 L1850.7,373.2 L1831.7,368.3 L1813.0,363.2 L1794.8,357.8 L1776.9,352.3 L1759.3,346.6 L1742.0,340.6 L1725.0,334.5 L1708.3,328.2 L1691.9,321.7 L1675.7,315.0 L1659.8,308.1 L1644.1,301.0 L1628.6,293.8 L1613.4,286.4 L1598.3,278.7 L1583.4,270.9 L1568.7,262.9 M1309.0,493.4 L1329.9,482.0 L1350.7,470.5 L1371.3,458.9 L1391.8,447.1 L1412.1,435.1 L1432.3,423.1 L1452.4,410.8 L1472.3,398.5 L1492.2,386.0 L1511.9,373.3 L1531.6,360.4 L1551.1,347.4 L1570.6,334.3 L1590.0,321.0 L1609.3,307.5 L1628.6,293.8 L1647.8,279.9 L1667.0,265.9 L1686.1,251.7 L1705.2,237.3 M1931.5,371.9 L1911.1,367.8 L1891.1,363.3 L1871.5,358.7 L1852.4,353.9 L1833.6,348.8 L1815.2,343.5 L1797.1,338.1 L1779.4,332.4 L1762.0,326.5 L1744.9,320.4 L1728.1,314.2 L1711.5,307.7 L1695.2,301.1 L1679.2,294.2 L1663.4,287.2 L1647.8,279.9 L1632.5,272.5 L1617.3,264.9 L1602.3,257.1 L1587.6,249.2 M1295.5,485.4 L1316.3,474.1 L1337.0,462.6 L1357.5,451.0 L1377.8,439.2 L1398.0,427.3 L1418.1,415.3 L1438.1,403.1 L1457.9,390.8 L1477.7,378.3 L1497.3,365.6 L1516.9,352.8 L1536.3,339.9 L1555.7,326.8 L1575.0,313.5 L1594.2,300.0 L1613.4,286.4 L1632.5,272.5 L1651.5,258.5 L1670.5,244.3 L1689.5,230.0 M1952.8,357.1 L1932.2,353.0 L1912.0,348.6 L1892.3,344.1 L1873.0,339.3 L1854.1,334.3 L1835.6,329.1 L1817.4,323.7 L1799.5,318.0 L1782.0,312.2 L1764.7,306.2 L1747.8,300.0 L1731.1,293.5 L1714.7,286.9 L1698.6,280.1 L1682.7,273.1 L1667.0,265.9 L1651.5,258.5 L1636.3,251.0 L1621.2,243.2 L1606.3,235.3 M1282.2,477.3 L1302.9,466.0 L1323.4,454.5 L1343.8,442.9 L1364.1,431.2 L1384.2,419.4 L1404.1,407.4 L1424.0,395.2 L1443.7,382.9 L1463.4,370.5 L1482.9,357.8 L1502.3,345.1 L1521.7,332.1 L1540.9,319.0 L1560.1,305.8 L1579.2,292.3 L1598.3,278.7 L1617.3,264.9 L1636.3,251.0 L1655.2,236.8 L1674.0,222.5 M1974.0,342.0 L1953.2,338.0 L1932.9,333.7 L1913.1,329.2 L1893.6,324.5 L1874.6,319.6 L1855.9,314.4 L1837.5,309.1 L1819.6,303.5 L1801.9,297.7 L1784.5,291.7 L1767.5,285.6 L1750.7,279.2 L1734.2,272.6 L1717.9,265.8 L1701.9,258.9 L1686.1,251.7 L1670.5,244.3 L1655.2,236.8 L1640.0,229.1 L1625.0,221.1 M1269.0,469.0 L1289.6,457.7 L1310.0,446.3 L1330.3,434.7 L1350.4,423.1 L1370.4,411.2 L1390.3,399.3 L1410.0,387.1 L1429.7,374.9 L1449.2,362.5 L1468.6,349.9 L1488.0,337.1 L1507.2,324.2 L1526.4,311.2 L1545.5,297.9 L1564.5,284.5 L1583.4,270.9 L1602.3,257.1 L1621.2,243.2 L1640.0,229.1 L1658.8,214.7 M1995.1,326.8 L1974.2,322.8 L1953.8,318.6 L1933.8,314.2 L1914.2,309.6 L1895.0,304.7 L1876.1,299.6 L1857.7,294.3 L1839.6,288.8 L1821.8,283.1 L1804.3,277.1 L1787.1,271.0 L1770.2,264.6 L1753.6,258.1 L1737.2,251.4 L1721.1,244.4 L1705.2,237.3 L1689.5,230.0 L1674.0,222.5 L1658.8,214.7 L1643.7,206.8 M1256.0,460.5 L1276.5,449.3 L1296.8,437.9 L1317.0,426.4 L1337.0,414.7 L1356.9,403.0 L1376.6,391.0 L1396.3,378.9 L1415.8,366.7 L1435.2,354.3 L1454.5,341.7 L1473.8,329.0 L1492.9,316.1 L1512.0,303.1 L1531.0,289.9 L1549.9,276.5 L1568.7,262.9 L1587.6,249.2 L1606.3,235.3 L1625.0,221.1 L1643.7,206.8" fill="none" stroke="#0c0c14" stroke-width="1.7" stroke-opacity="0.7" stroke-linejoin="round"/>
<path d="M1834.6,372.0 L1832.8,387.5" stroke="#4a1500" stroke-width="1.3" fill="none"/>
<ellipse cx="1332" cy="505.4" rx="7.5" ry="6.7" fill="#b40000" stroke="#4a0a0a" stroke-width="1"/>
<ellipse cx="1555.2" cy="600.6" rx="7.5" ry="6.7" fill="#b40000" stroke="#4a0a0a" stroke-width="1"/>
<ellipse cx="1732.8" cy="247.8" rx="7.5" ry="6.7" fill="#b40000" stroke="#4a0a0a" stroke-width="1"/>
<ellipse cx="1537" cy="382" rx="7.5" ry="6.7" fill="#b40000" stroke="#4a0a0a" stroke-width="1"/>
<ellipse cx="1835" cy="371" rx="7.5" ry="6.7" fill="#b40000" stroke="#4a0a0a" stroke-width="1"/>
<text transform="translate(1204.60,252.10) scale(1.0312,1)" text-anchor="end" font-family='"Liberation Sans", sans-serif' font-size="22.5" fill="#1a1a1a">5</text>
<text transform="translate(1214.79,306.99) scale(1.0312,1)" text-anchor="end" font-family='"Liberation Sans", sans-serif' font-size="22.5" fill="#1a1a1a">4.5</text>
<text transform="translate(1224.98,361.88) scale(1.0312,1)" text-anchor="end" font-family='"Liberation Sans", sans-serif' font-size="22.5" fill="#1a1a1a">4</text>
<text transform="translate(1235.18,416.76) scale(1.0312,1)" text-anchor="end" font-family='"Liberation Sans", sans-serif' font-size="22.5" fill="#1a1a1a">3.5</text>
<text transform="translate(1245.37,471.65) scale(1.0312,1)" text-anchor="end" font-family='"Liberation Sans", sans-serif' font-size="22.5" fill="#1a1a1a">3</text>
<text transform="translate(1548.20,846.50) scale(1.0312,1)" text-anchor="end" font-family='"Liberation Sans", sans-serif' font-size="22.5" fill="#1a1a1a">0</text>
<text transform="translate(1506.67,806.01) scale(1.0312,1)" text-anchor="end" font-family='"Liberation Sans", sans-serif' font-size="22.5" fill="#1a1a1a">0.1</text>
<text transform="translate(1465.14,765.53) scale(1.0312,1)" text-anchor="end" font-family='"Liberation Sans", sans-serif' font-size="22.5" fill="#1a1a1a">0.2</text>
<text transform="translate(1423.61,725.04) scale(1.0312,1)" text-anchor="end" font-family='"Liberation Sans", sans-serif' font-size="22.5" fill="#1a1a1a">0.3</text>
<text transform="translate(1382.09,684.56) scale(1.0312,1)" text-anchor="end" font-family='"Liberation Sans", sans-serif' font-size="22.5" fill="#1a1a1a">0.4</text>
<text transform="translate(1340.56,644.07) scale(1.0312,1)" text-anchor="end" font-family='"Liberation Sans", sans-serif' font-size="22.5" fill="#1a1a1a">0.5</text>
<text transform="translate(1299.03,603.59) scale(1.0312,1)" text-anchor="end" font-family='"Liberation Sans", sans-serif' font-size="22.5" fill="#1a1a1a">0.6</text>
<text transform="translate(1257.50,563.10) scale(1.0312,1)" text-anchor="end" font-family='"Liberation Sans", sans-serif' font-size="22.5" fill="#1a1a1a">0.7</text>
<text transform="translate(1575.50,846.50) scale(1.0312,1)" text-anchor="start" font-family='"Liberation Sans", sans-serif' font-size="22.5" fill="#1a1a1a">0</text>
<text transform="translate(1671.17,789.60) scale(1.0312,1)" text-anchor="start" font-family='"Liberation Sans", sans-serif' font-size="22.5" fill="#1a1a1a">5</text>
<text transform="translate(1766.85,732.70) scale(1.0312,1)" text-anchor="start" font-family='"Liberation Sans", sans-serif' font-size="22.5" fill="#1a1a1a">10</text>
<text transform="translate(1862.53,675.80) scale(1.0312,1)" text-anchor="start" font-family='"Liberation Sans", sans-serif' font-size="22.5" fill="#1a1a1a">15</text>
<text transform="translate(1958.20,618.90) scale(1.0312,1)" text-anchor="start" font-family='"Liberation Sans", sans-serif' font-size="22.5" fill="#1a1a1a">20</text>
<text transform="translate(1562.44,33.30) scale(1.0298,1)" font-family='"Liberation Sans", sans-serif' font-size="40.5" fill="#1a1a1a">3D Surface</text>
<text transform="translate(1211.14,778.60) scale(1.0383,1)" font-family='"Liberation Sans", sans-serif' font-size="33.4" fill="#1a1a1a">B: AP (%)</text>
<text transform="translate(1787.72,828.90) scale(0.9999,1)" font-family='"Liberation Sans", sans-serif' font-size="33.4" fill="#1a1a1a">A: SF (%)</text>
<text transform="translate(1141.80,408.70) rotate(-90) translate(-63.64,0.00) scale(0.7309,1)" font-family='"Liberation Sans", sans-serif' font-size="40.5" fill="#1a1a1a">FS (MPa)</text>
</svg>
</body></html>
